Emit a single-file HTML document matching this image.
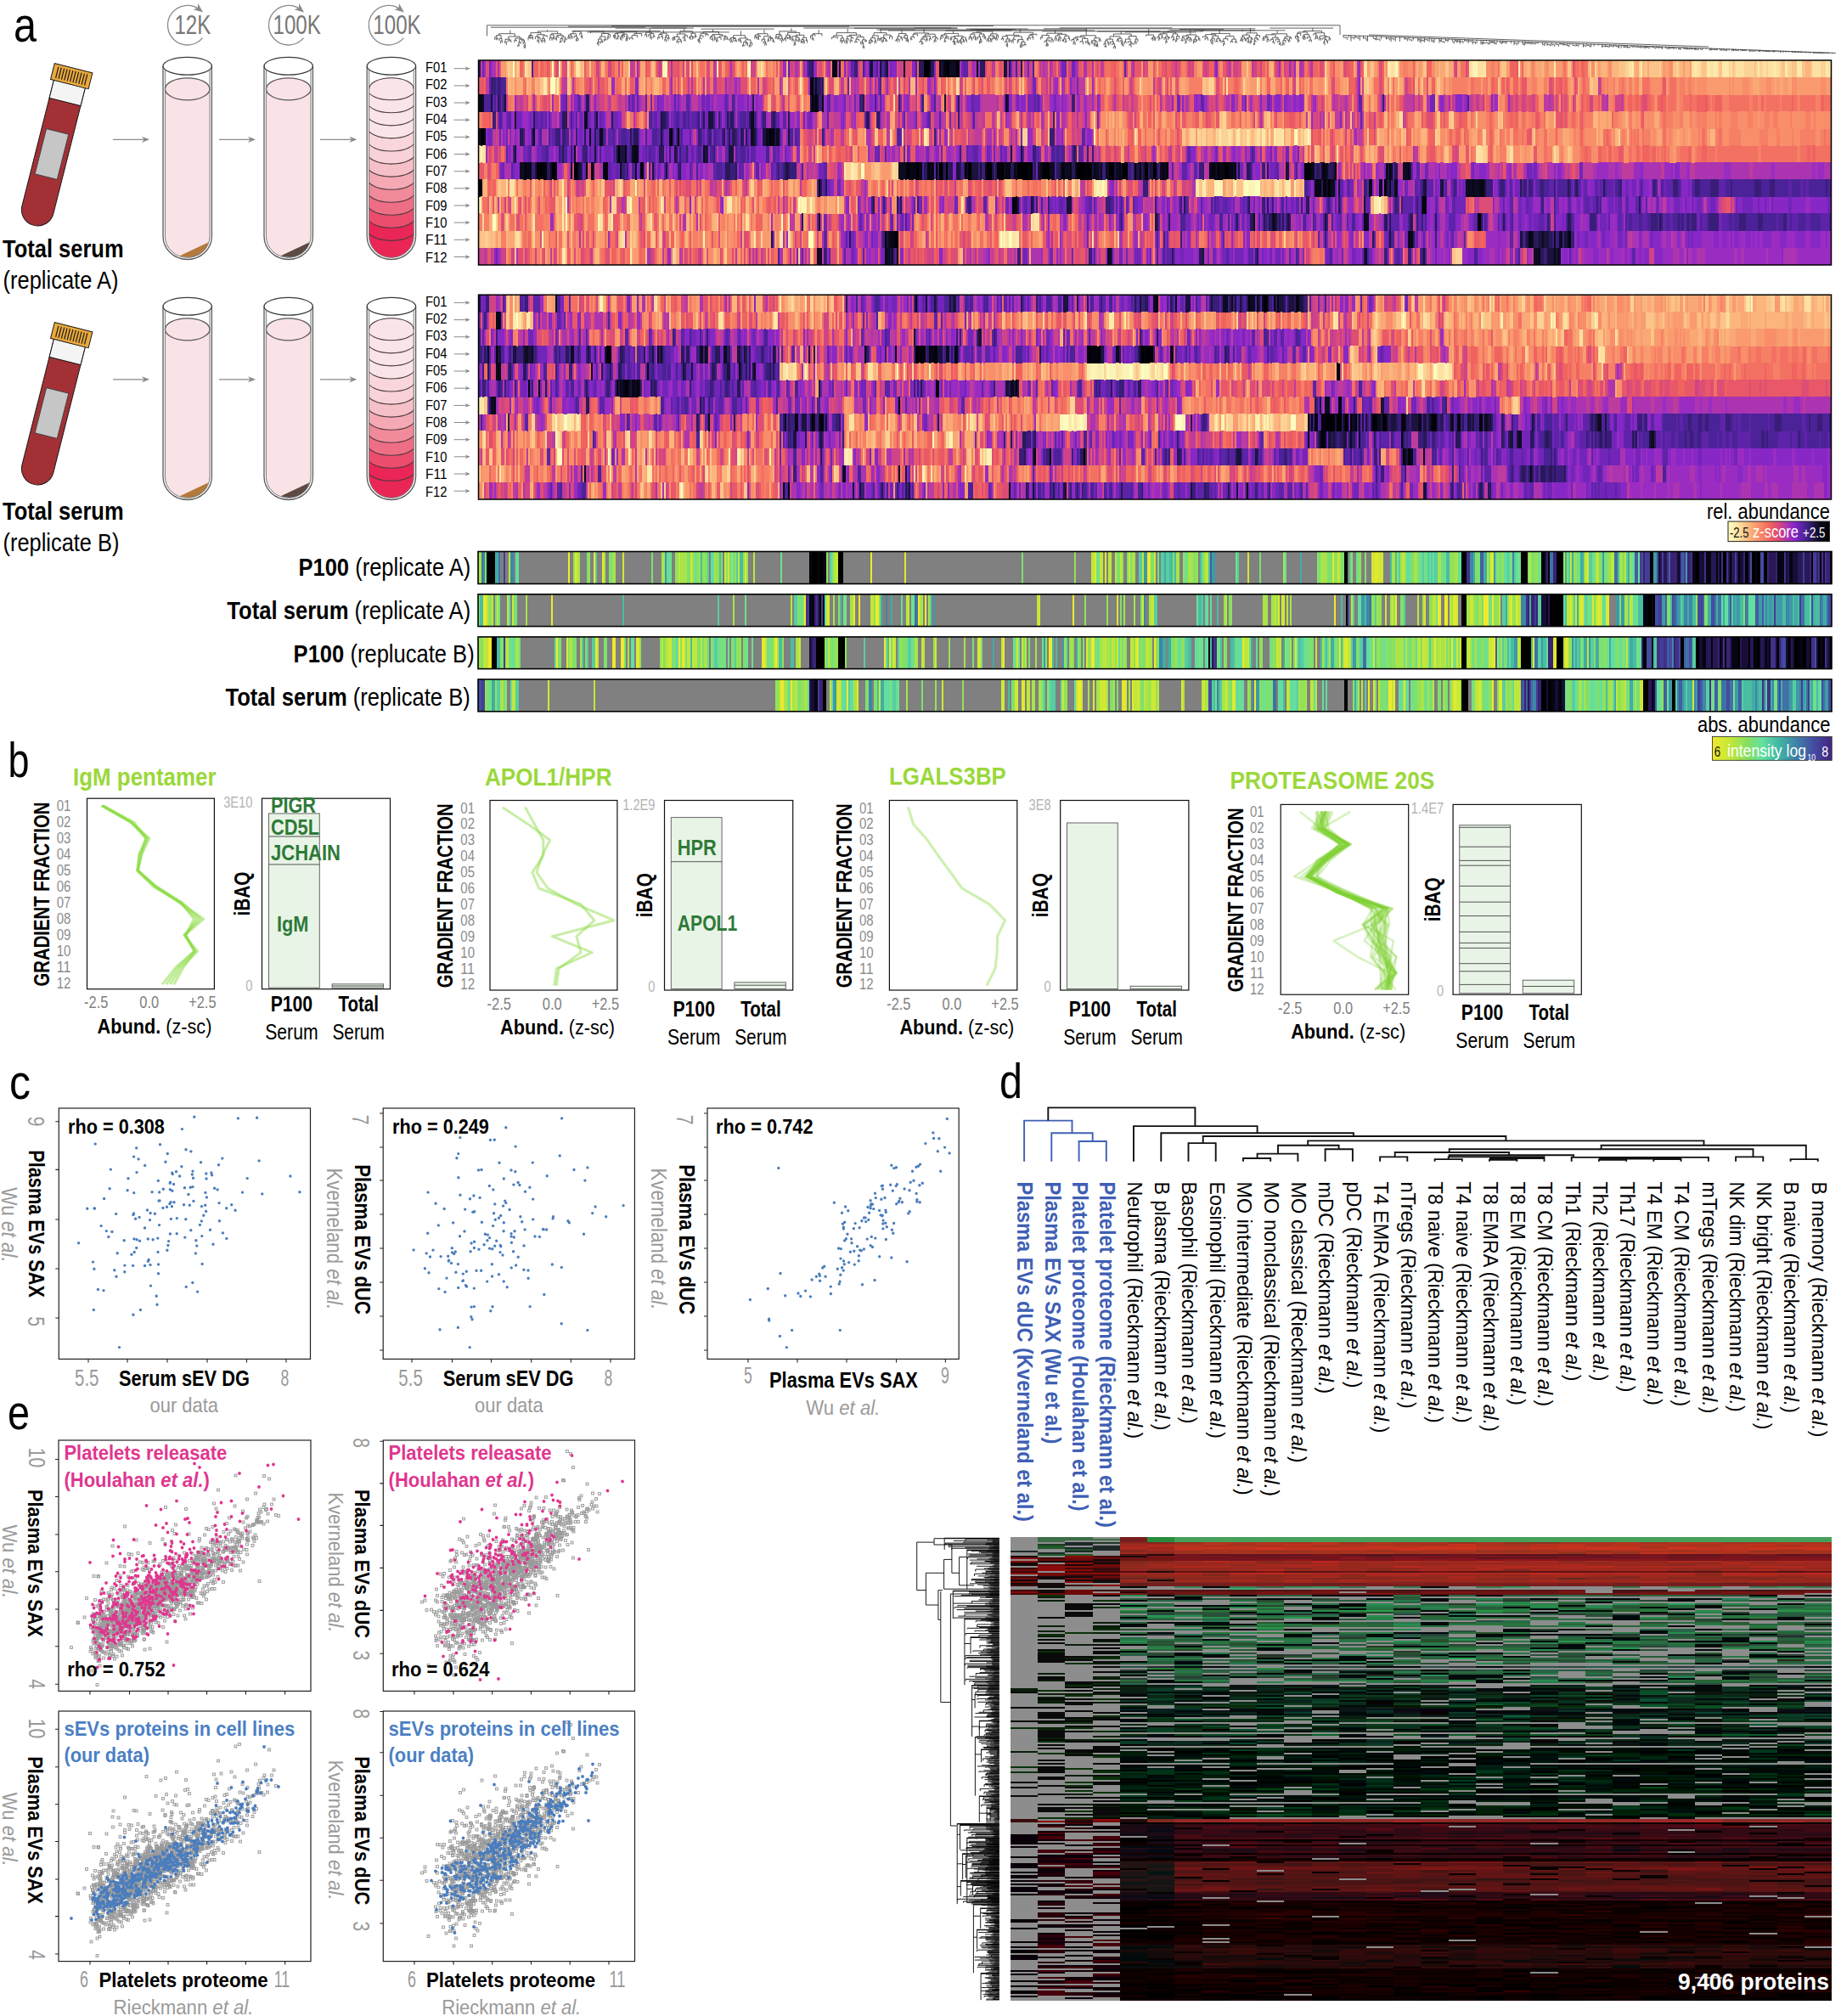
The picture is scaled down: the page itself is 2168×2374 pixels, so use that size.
<!DOCTYPE html>
<html><head><meta charset="utf-8"><title>Figure</title>
<style>html,body{margin:0;padding:0;background:#fff}svg{display:block}text{font-family:"Liberation Sans",sans-serif}</style>
</head><body>
<svg width="2168" height="2374" viewBox="0 0 2168 2374">
<rect width="2168" height="2374" fill="#fff"/>
<text transform="translate(16 48.5) scale(0.852 1)" x="0" font-size="57" xml:space="preserve">a</text>
<g transform="translate(86.6 80.2) rotate(14.2)" stroke="#1a1a1a" stroke-width="1"><path d="M-19 19V172a19 19 0 0 0 38 0V19z" fill="#a33035"/><rect x="-19" y="19" width="38" height="22" fill="#f4f4f4"/><rect x="-13.5" y="77" width="27" height="55" fill="#c6c6c6" stroke="#444"/><rect x="-23" y="0" width="46" height="19.5" fill="#e9a93c"/><path d="M-17.5 3v13.5M-14 3v13.5M-10.5 3v13.5M-7 3v13.5M-3.5 3v13.5M0 3v13.5M3.5 3v13.5M7 3v13.5M10.5 3v13.5M14 3v13.5M17.5 3v13.5" fill="none" stroke-width="1.2"/></g>
<g transform="translate(86.6 385.2) rotate(14.2)" stroke="#1a1a1a" stroke-width="1"><path d="M-19 19V172a19 19 0 0 0 38 0V19z" fill="#a33035"/><rect x="-19" y="19" width="38" height="22" fill="#f4f4f4"/><rect x="-13.5" y="77" width="27" height="55" fill="#c6c6c6" stroke="#444"/><rect x="-23" y="0" width="46" height="19.5" fill="#e9a93c"/><path d="M-17.5 3v13.5M-14 3v13.5M-10.5 3v13.5M-7 3v13.5M-3.5 3v13.5M0 3v13.5M3.5 3v13.5M7 3v13.5M10.5 3v13.5M14 3v13.5M17.5 3v13.5" fill="none" stroke-width="1.2"/></g>
<g stroke="#5a5a5a" stroke-width="1.3" fill="none"><path d="M194.4 104.8V278.3A26.3 25 0 0 0 247 278.3V104.8A26.3 13 0 0 0 194.4 104.8z" fill="#f9e3e6" stroke="none"/><path d="M211.7 301.3L245 285.5Q244 296.5 228.7 302.3Q220.7 303.9 211.7 301.3z" fill="#b47a3c" stroke="none"/><ellipse cx="220.7" cy="104.8" rx="26.3" ry="13" fill="#f9e3e6"/><path d="M194.4 81.8V278.3A26.3 25 0 0 0 247 278.3V81.8" stroke="#7a7a7a" stroke-width="1"/><path d="M192 77.8V278.3A28.7 27.2 0 0 0 249.4 278.3V77.8"/><ellipse cx="220.7" cy="77.8" rx="28.7" ry="10.4" stroke="#3a3a3a" stroke-width="1.2"/></g>
<g stroke="#5a5a5a" stroke-width="1.3" fill="none"><path d="M313.4 104.8V278.3A26.3 25 0 0 0 366 278.3V104.8A26.3 13 0 0 0 313.4 104.8z" fill="#f9e3e6" stroke="none"/><path d="M330.7 301.3L364 285.5Q363 296.5 347.7 302.3Q339.7 303.9 330.7 301.3z" fill="#5d4a42" stroke="none"/><ellipse cx="339.7" cy="104.8" rx="26.3" ry="13" fill="#f9e3e6"/><path d="M313.4 81.8V278.3A26.3 25 0 0 0 366 278.3V81.8" stroke="#7a7a7a" stroke-width="1"/><path d="M311 77.8V278.3A28.7 27.2 0 0 0 368.4 278.3V77.8"/><ellipse cx="339.7" cy="77.8" rx="28.7" ry="10.4" stroke="#3a3a3a" stroke-width="1.2"/></g>
<g stroke="#5a5a5a" stroke-width="1.3" fill="none"><clipPath id="tc499"><path d="M434.6 104.8V278.3A26.3 25 0 0 0 487.2 278.3V104.8A26.3 13 0 0 0 434.6 104.8z"/></clipPath><g clip-path="url(#tc499)"><rect x="432.2" y="90.8" width="57.4" height="216.7" fill="#e92656" stroke="none"/><path d="M432.6 84.8V270.4A28.3 13 0 0 0 489.2 270.4V84.8z" fill="#e92656" stroke="#4a3a3e" stroke-width="1.1"/><path d="M432.6 84.8V255.3A28.3 13 0 0 0 489.2 255.3V84.8z" fill="#ec4d6d" stroke="#4a3a3e" stroke-width="1.1"/><path d="M432.6 84.8V240.2A28.3 13 0 0 0 489.2 240.2V84.8z" fill="#ee6e85" stroke="#4a3a3e" stroke-width="1.1"/><path d="M432.6 84.8V225.2A28.3 13 0 0 0 489.2 225.2V84.8z" fill="#f18a9a" stroke="#4a3a3e" stroke-width="1.1"/><path d="M432.6 84.8V210.2A28.3 13 0 0 0 489.2 210.2V84.8z" fill="#f4a9b5" stroke="#4a3a3e" stroke-width="1.1"/><path d="M432.6 84.8V195.1A28.3 13 0 0 0 489.2 195.1V84.8z" fill="#f6c0c8" stroke="#4a3a3e" stroke-width="1.1"/><path d="M432.6 84.8V180.1A28.3 13 0 0 0 489.2 180.1V84.8z" fill="#f8d2d8" stroke="#4a3a3e" stroke-width="1.1"/><path d="M432.6 84.8V165A28.3 13 0 0 0 489.2 165V84.8z" fill="#f8d6db" stroke="#4a3a3e" stroke-width="1.1"/><path d="M432.6 84.8V149.9A28.3 13 0 0 0 489.2 149.9V84.8z" fill="#f9e4e7" stroke="#4a3a3e" stroke-width="1.1"/><path d="M432.6 84.8V134.9A28.3 13 0 0 0 489.2 134.9V84.8z" fill="#f9e4e7" stroke="#4a3a3e" stroke-width="1.1"/><path d="M432.6 84.8V119.8A28.3 13 0 0 0 489.2 119.8V84.8z" fill="#f9e4e7" stroke="#4a3a3e" stroke-width="1.1"/><path d="M432.6 84.8V104.8A28.3 13 0 0 0 489.2 104.8V84.8z" fill="#f9e4e7" stroke="#4a3a3e" stroke-width="1.1"/></g><path d="M434.6 104.8A26.3 13 0 0 1 487.2 104.8" stroke="#4a3a3e" stroke-width="1.1"/><path d="M434.6 81.8V278.3A26.3 25 0 0 0 487.2 278.3V81.8" stroke="#7a7a7a" stroke-width="1"/><path d="M432.2 77.8V278.3A28.7 27.2 0 0 0 489.6 278.3V77.8"/><ellipse cx="460.9" cy="77.8" rx="28.7" ry="10.4" stroke="#3a3a3a" stroke-width="1.2"/></g>
<path d="M133 164.3H170.6" stroke="#8a8a8a" stroke-width="1.3" fill="none"/><path d="M176 164.3l-9 -3.6l2.7 3.6l-2.7 3.6z" fill="#8a8a8a"/>
<path d="M258 164.3H295.6" stroke="#8a8a8a" stroke-width="1.3" fill="none"/><path d="M301 164.3l-9 -3.6l2.7 3.6l-2.7 3.6z" fill="#8a8a8a"/>
<path d="M377 164.3H415" stroke="#8a8a8a" stroke-width="1.3" fill="none"/><path d="M420.4 164.3l-9 -3.6l2.7 3.6l-2.7 3.6z" fill="#8a8a8a"/>
<g stroke="#5a5a5a" stroke-width="1.3" fill="none"><path d="M194.4 387.8V561.3A26.3 25 0 0 0 247 561.3V387.8A26.3 13 0 0 0 194.4 387.8z" fill="#f9e3e6" stroke="none"/><path d="M211.7 584.3L245 568.5Q244 579.5 228.7 585.3Q220.7 586.9 211.7 584.3z" fill="#b47a3c" stroke="none"/><ellipse cx="220.7" cy="387.8" rx="26.3" ry="13" fill="#f9e3e6"/><path d="M194.4 364.8V561.3A26.3 25 0 0 0 247 561.3V364.8" stroke="#7a7a7a" stroke-width="1"/><path d="M192 360.8V561.3A28.7 27.2 0 0 0 249.4 561.3V360.8"/><ellipse cx="220.7" cy="360.8" rx="28.7" ry="10.4" stroke="#3a3a3a" stroke-width="1.2"/></g>
<g stroke="#5a5a5a" stroke-width="1.3" fill="none"><path d="M313.4 387.8V561.3A26.3 25 0 0 0 366 561.3V387.8A26.3 13 0 0 0 313.4 387.8z" fill="#f9e3e6" stroke="none"/><path d="M330.7 584.3L364 568.5Q363 579.5 347.7 585.3Q339.7 586.9 330.7 584.3z" fill="#5d4a42" stroke="none"/><ellipse cx="339.7" cy="387.8" rx="26.3" ry="13" fill="#f9e3e6"/><path d="M313.4 364.8V561.3A26.3 25 0 0 0 366 561.3V364.8" stroke="#7a7a7a" stroke-width="1"/><path d="M311 360.8V561.3A28.7 27.2 0 0 0 368.4 561.3V360.8"/><ellipse cx="339.7" cy="360.8" rx="28.7" ry="10.4" stroke="#3a3a3a" stroke-width="1.2"/></g>
<g stroke="#5a5a5a" stroke-width="1.3" fill="none"><clipPath id="tc782"><path d="M434.6 387.8V561.3A26.3 25 0 0 0 487.2 561.3V387.8A26.3 13 0 0 0 434.6 387.8z"/></clipPath><g clip-path="url(#tc782)"><rect x="432.2" y="373.8" width="57.4" height="216.7" fill="#e92656" stroke="none"/><path d="M432.6 367.8V553.4A28.3 13 0 0 0 489.2 553.4V367.8z" fill="#e92656" stroke="#4a3a3e" stroke-width="1.1"/><path d="M432.6 367.8V538.3A28.3 13 0 0 0 489.2 538.3V367.8z" fill="#ec4d6d" stroke="#4a3a3e" stroke-width="1.1"/><path d="M432.6 367.8V523.2A28.3 13 0 0 0 489.2 523.2V367.8z" fill="#ee6e85" stroke="#4a3a3e" stroke-width="1.1"/><path d="M432.6 367.8V508.2A28.3 13 0 0 0 489.2 508.2V367.8z" fill="#f18a9a" stroke="#4a3a3e" stroke-width="1.1"/><path d="M432.6 367.8V493.2A28.3 13 0 0 0 489.2 493.2V367.8z" fill="#f4a9b5" stroke="#4a3a3e" stroke-width="1.1"/><path d="M432.6 367.8V478.1A28.3 13 0 0 0 489.2 478.1V367.8z" fill="#f6c0c8" stroke="#4a3a3e" stroke-width="1.1"/><path d="M432.6 367.8V463.1A28.3 13 0 0 0 489.2 463.1V367.8z" fill="#f8d2d8" stroke="#4a3a3e" stroke-width="1.1"/><path d="M432.6 367.8V448A28.3 13 0 0 0 489.2 448V367.8z" fill="#f8d6db" stroke="#4a3a3e" stroke-width="1.1"/><path d="M432.6 367.8V433A28.3 13 0 0 0 489.2 433V367.8z" fill="#f9e4e7" stroke="#4a3a3e" stroke-width="1.1"/><path d="M432.6 367.8V417.9A28.3 13 0 0 0 489.2 417.9V367.8z" fill="#f9e4e7" stroke="#4a3a3e" stroke-width="1.1"/><path d="M432.6 367.8V402.9A28.3 13 0 0 0 489.2 402.9V367.8z" fill="#f9e4e7" stroke="#4a3a3e" stroke-width="1.1"/><path d="M432.6 367.8V387.8A28.3 13 0 0 0 489.2 387.8V367.8z" fill="#f9e4e7" stroke="#4a3a3e" stroke-width="1.1"/></g><path d="M434.6 387.8A26.3 13 0 0 1 487.2 387.8" stroke="#4a3a3e" stroke-width="1.1"/><path d="M434.6 364.8V561.3A26.3 25 0 0 0 487.2 561.3V364.8" stroke="#7a7a7a" stroke-width="1"/><path d="M432.2 360.8V561.3A28.7 27.2 0 0 0 489.6 561.3V360.8"/><ellipse cx="460.9" cy="360.8" rx="28.7" ry="10.4" stroke="#3a3a3a" stroke-width="1.2"/></g>
<path d="M133 446.8H170.6" stroke="#8a8a8a" stroke-width="1.3" fill="none"/><path d="M176 446.8l-9 -3.6l2.7 3.6l-2.7 3.6z" fill="#8a8a8a"/>
<path d="M258 446.8H295.6" stroke="#8a8a8a" stroke-width="1.3" fill="none"/><path d="M301 446.8l-9 -3.6l2.7 3.6l-2.7 3.6z" fill="#8a8a8a"/>
<path d="M377 446.8H415" stroke="#8a8a8a" stroke-width="1.3" fill="none"/><path d="M420.4 446.8l-9 -3.6l2.7 3.6l-2.7 3.6z" fill="#8a8a8a"/>
<path d="M235.1 11.3A23.3 23.3 0 1 0 238.6 44.7" stroke="#8a8a8a" stroke-width="1.3" fill="none"/><path transform="translate(235.1 11.3) rotate(38)" d="M5 0L-6 -4.6L-3 0L-6 4.6z" fill="#8a8a8a"/><text transform="translate(205.4 39.8) scale(0.789 1)" x="0" font-size="30.5" fill="#777" xml:space="preserve">12K</text>
<path d="M354.1 11.3A23.3 23.3 0 1 0 357.6 44.7" stroke="#8a8a8a" stroke-width="1.3" fill="none"/><path transform="translate(354.1 11.3) rotate(38)" d="M5 0L-6 -4.6L-3 0L-6 4.6z" fill="#8a8a8a"/><text transform="translate(321.5 39.8) scale(0.792 1)" x="0" font-size="30.5" fill="#777" xml:space="preserve">100K</text>
<path d="M471.9 11.3A23.3 23.3 0 1 0 475.4 44.7" stroke="#8a8a8a" stroke-width="1.3" fill="none"/><path transform="translate(471.9 11.3) rotate(38)" d="M5 0L-6 -4.6L-3 0L-6 4.6z" fill="#8a8a8a"/><text transform="translate(439.3 39.8) scale(0.792 1)" x="0" font-size="30.5" fill="#777" xml:space="preserve">100K</text>
<text transform="translate(3 303) scale(0.870 1)" x="0" font-size="29.3" xml:space="preserve"><tspan font-weight="700">Total serum</tspan></text>
<text transform="translate(3.5 340.3) scale(0.870 1)" x="0" font-size="29.3" xml:space="preserve">(replicate A)</text>
<text transform="translate(3 612) scale(0.870 1)" x="0" font-size="29.3" xml:space="preserve"><tspan font-weight="700">Total serum</tspan></text>
<text transform="translate(3.5 649.3) scale(0.867 1)" x="0" font-size="29.3" xml:space="preserve">(replicate B)</text>
<text transform="translate(501 84.8) scale(0.908 1)" x="0" font-size="16.3" xml:space="preserve">F01</text>
<path d="M534.5 80.7H550.1" stroke="#8a8a8a" stroke-width="1" fill="none"/><path d="M553.7 80.7l-6 -2.4l1.8 2.4l-1.8 2.4z" fill="#8a8a8a"/>
<text transform="translate(501 105.2) scale(0.908 1)" x="0" font-size="16.3" xml:space="preserve">F02</text>
<path d="M534.5 100.9H550.1" stroke="#8a8a8a" stroke-width="1" fill="none"/><path d="M553.7 100.9l-6 -2.4l1.8 2.4l-1.8 2.4z" fill="#8a8a8a"/>
<text transform="translate(501 125.5) scale(0.908 1)" x="0" font-size="16.3" xml:space="preserve">F03</text>
<path d="M534.5 121H550.1" stroke="#8a8a8a" stroke-width="1" fill="none"/><path d="M553.7 121l-6 -2.4l1.8 2.4l-1.8 2.4z" fill="#8a8a8a"/>
<text transform="translate(501 145.9) scale(0.908 1)" x="0" font-size="16.3" xml:space="preserve">F04</text>
<path d="M534.5 141.2H550.1" stroke="#8a8a8a" stroke-width="1" fill="none"/><path d="M553.7 141.2l-6 -2.4l1.8 2.4l-1.8 2.4z" fill="#8a8a8a"/>
<text transform="translate(501 166.2) scale(0.908 1)" x="0" font-size="16.3" xml:space="preserve">F05</text>
<path d="M534.5 161.3H550.1" stroke="#8a8a8a" stroke-width="1" fill="none"/><path d="M553.7 161.3l-6 -2.4l1.8 2.4l-1.8 2.4z" fill="#8a8a8a"/>
<text transform="translate(501 186.6) scale(0.908 1)" x="0" font-size="16.3" xml:space="preserve">F06</text>
<path d="M534.5 181.5H550.1" stroke="#8a8a8a" stroke-width="1" fill="none"/><path d="M553.7 181.5l-6 -2.4l1.8 2.4l-1.8 2.4z" fill="#8a8a8a"/>
<text transform="translate(501 207) scale(0.908 1)" x="0" font-size="16.3" xml:space="preserve">F07</text>
<path d="M534.5 201.7H550.1" stroke="#8a8a8a" stroke-width="1" fill="none"/><path d="M553.7 201.7l-6 -2.4l1.8 2.4l-1.8 2.4z" fill="#8a8a8a"/>
<text transform="translate(501 227.3) scale(0.908 1)" x="0" font-size="16.3" xml:space="preserve">F08</text>
<path d="M534.5 221.8H550.1" stroke="#8a8a8a" stroke-width="1" fill="none"/><path d="M553.7 221.8l-6 -2.4l1.8 2.4l-1.8 2.4z" fill="#8a8a8a"/>
<text transform="translate(501 247.7) scale(0.908 1)" x="0" font-size="16.3" xml:space="preserve">F09</text>
<path d="M534.5 242H550.1" stroke="#8a8a8a" stroke-width="1" fill="none"/><path d="M553.7 242l-6 -2.4l1.8 2.4l-1.8 2.4z" fill="#8a8a8a"/>
<text transform="translate(501 268) scale(0.908 1)" x="0" font-size="16.3" xml:space="preserve">F10</text>
<path d="M534.5 262.1H550.1" stroke="#8a8a8a" stroke-width="1" fill="none"/><path d="M553.7 262.1l-6 -2.4l1.8 2.4l-1.8 2.4z" fill="#8a8a8a"/>
<text transform="translate(501 288.4) scale(0.949 1)" x="0" font-size="16.3" xml:space="preserve">F11</text>
<path d="M534.5 282.3H550.1" stroke="#8a8a8a" stroke-width="1" fill="none"/><path d="M553.7 282.3l-6 -2.4l1.8 2.4l-1.8 2.4z" fill="#8a8a8a"/>
<text transform="translate(501 308.8) scale(0.908 1)" x="0" font-size="16.3" xml:space="preserve">F12</text>
<path d="M534.5 302.5H550.1" stroke="#8a8a8a" stroke-width="1" fill="none"/><path d="M553.7 302.5l-6 -2.4l1.8 2.4l-1.8 2.4z" fill="#8a8a8a"/>
<text transform="translate(501 360.5) scale(0.908 1)" x="0" font-size="16.3" xml:space="preserve">F01</text>
<path d="M534.5 356.4H550.1" stroke="#8a8a8a" stroke-width="1" fill="none"/><path d="M553.7 356.4l-6 -2.4l1.8 2.4l-1.8 2.4z" fill="#8a8a8a"/>
<text transform="translate(501 380.9) scale(0.908 1)" x="0" font-size="16.3" xml:space="preserve">F02</text>
<path d="M534.5 376.6H550.1" stroke="#8a8a8a" stroke-width="1" fill="none"/><path d="M553.7 376.6l-6 -2.4l1.8 2.4l-1.8 2.4z" fill="#8a8a8a"/>
<text transform="translate(501 401.2) scale(0.908 1)" x="0" font-size="16.3" xml:space="preserve">F03</text>
<path d="M534.5 396.7H550.1" stroke="#8a8a8a" stroke-width="1" fill="none"/><path d="M553.7 396.7l-6 -2.4l1.8 2.4l-1.8 2.4z" fill="#8a8a8a"/>
<text transform="translate(501 421.6) scale(0.908 1)" x="0" font-size="16.3" xml:space="preserve">F04</text>
<path d="M534.5 416.9H550.1" stroke="#8a8a8a" stroke-width="1" fill="none"/><path d="M553.7 416.9l-6 -2.4l1.8 2.4l-1.8 2.4z" fill="#8a8a8a"/>
<text transform="translate(501 441.9) scale(0.908 1)" x="0" font-size="16.3" xml:space="preserve">F05</text>
<path d="M534.5 437H550.1" stroke="#8a8a8a" stroke-width="1" fill="none"/><path d="M553.7 437l-6 -2.4l1.8 2.4l-1.8 2.4z" fill="#8a8a8a"/>
<text transform="translate(501 462.3) scale(0.908 1)" x="0" font-size="16.3" xml:space="preserve">F06</text>
<path d="M534.5 457.2H550.1" stroke="#8a8a8a" stroke-width="1" fill="none"/><path d="M553.7 457.2l-6 -2.4l1.8 2.4l-1.8 2.4z" fill="#8a8a8a"/>
<text transform="translate(501 482.7) scale(0.908 1)" x="0" font-size="16.3" xml:space="preserve">F07</text>
<path d="M534.5 477.4H550.1" stroke="#8a8a8a" stroke-width="1" fill="none"/><path d="M553.7 477.4l-6 -2.4l1.8 2.4l-1.8 2.4z" fill="#8a8a8a"/>
<text transform="translate(501 503) scale(0.908 1)" x="0" font-size="16.3" xml:space="preserve">F08</text>
<path d="M534.5 497.5H550.1" stroke="#8a8a8a" stroke-width="1" fill="none"/><path d="M553.7 497.5l-6 -2.4l1.8 2.4l-1.8 2.4z" fill="#8a8a8a"/>
<text transform="translate(501 523.4) scale(0.908 1)" x="0" font-size="16.3" xml:space="preserve">F09</text>
<path d="M534.5 517.7H550.1" stroke="#8a8a8a" stroke-width="1" fill="none"/><path d="M553.7 517.7l-6 -2.4l1.8 2.4l-1.8 2.4z" fill="#8a8a8a"/>
<text transform="translate(501 543.7) scale(0.908 1)" x="0" font-size="16.3" xml:space="preserve">F10</text>
<path d="M534.5 537.8H550.1" stroke="#8a8a8a" stroke-width="1" fill="none"/><path d="M553.7 537.8l-6 -2.4l1.8 2.4l-1.8 2.4z" fill="#8a8a8a"/>
<text transform="translate(501 564.1) scale(0.949 1)" x="0" font-size="16.3" xml:space="preserve">F11</text>
<path d="M534.5 558H550.1" stroke="#8a8a8a" stroke-width="1" fill="none"/><path d="M553.7 558l-6 -2.4l1.8 2.4l-1.8 2.4z" fill="#8a8a8a"/>
<text transform="translate(501 584.5) scale(0.908 1)" x="0" font-size="16.3" xml:space="preserve">F12</text>
<path d="M534.5 578.2H550.1" stroke="#8a8a8a" stroke-width="1" fill="none"/><path d="M553.7 578.2l-6 -2.4l1.8 2.4l-1.8 2.4z" fill="#8a8a8a"/>
<g transform="translate(563.7 81.23) scale(2.0008 20.05)" fill="none" stroke-width="1.02" shape-rendering="crispEdges"><path stroke="#fcfdc0" d="M20 0h1m22 0h1m66 0h1m48 0h1m380 0h1M42 1h3M481 4h1M225 6h2M367 7h1m67 0h1m15 0h2m4 0h3M0 8h1m88 0h1m98 0h1m341 0h1M8 9h2m41 0h1m126 0h1M194 10h3m110 0h1m4 0h2"/><path stroke="#fcf4b6" d="M47 0h1m60 0h2m475 0h3M362 4h1m117 0h1m7 0h1M1 5h1M92 7h1m271 0h1m68 0h2m1 0h2m7 0h1m4 0h1m2 0h4M51 8h1m138 0h3m2 0h1M70 9h1M37 10h1m94 0h1m176 0h1m7 0h1"/><path stroke="#f68066" d="M26 0h1m17 0h1m10 0h1m7 0h2m1 0h2m6 0h1m5 0h2m10 0h1m61 0h1m1 0h1m6 0h1m9 0h1m33 0h1m96 0h2m21 0h2m53 0h2m30 0h2m5 0h2m40 0h1m9 0h1m55 0h1m14 0h3m49 0h2m22 0h1m17 0h1m9 0h1M31 1h2m8 0h1m12 0h1m2 0h2m42 0h1m14 0h1m12 0h1m28 0h1m4 0h1m2 0h1m38 0h1m9 0h1m32 0h2m8 0h1m20 0h2m16 0h2m2 0h1m1 0h1m3 0h1m6 0h2m5 0h1m7 0h1m29 0h2m3 0h1m1 0h2m9 0h1m4 0h1m3 0h1m31 0h8m15 0h3m4 0h1m11 0h1m8 0h3m12 0h1m16 0h1m2 0h3m28 0h1m20 0h2m10 0h1m4 0h9m4 0h4m1 0h2m11 0h1m15 0h3m4 0h2m20 0h1m2 0h2m7 0h2m1 0h1m3 0h1m2 0h2m1 0h1m2 0h2m2 0h2m6 0h1m6 0h1m10 0h3m2 0h2M19 2h2m8 0h2m3 0h2m145 0h1m4 0h1m4 0h2m1 0h1m45 0h2m30 0h1m226 0h1m34 0h1m66 0h1m41 0h1m4 0h1m16 0h3m7 0h1m23 0h1m7 0h2m16 0h1m6 0h4m12 0h2m3 0h2m2 0h1m8 0h1m9 0h2m9 0h3M0 3h2m92 0h1m138 0h1m96 0h1m8 0h1m45 0h1m19 0h3m9 0h3m25 0h1m1 0h1m3 0h1m2 0h1m3 0h1m7 0h1m3 0h3m11 0h1m52 0h2m11 0h1m23 0h1m10 0h1m7 0h2m2 0h1m5 0h2m11 0h1m1 0h2m1 0h1m3 0h2m14 0h2m3 0h1m4 0h5m12 0h3m6 0h2m17 0h1m2 0h4m4 0h2m4 0h1m3 0h6m5 0h1m1 0h2m5 0h4m6 0h3m7 0h3m2 0h3m7 0h1m8 0h3m2 0h1M189 4h2m96 0h1m82 0h1m3 0h1m26 0h1m7 0h1m89 0h1m4 0h3m4 0h2m8 0h2m5 0h1m44 0h2m13 0h2m3 0h2m2 0h1m4 0h2m1 0h2m5 0h2m1 0h2m5 0h2m21 0h1m4 0h1m15 0h1m6 0h2m4 0h1m1 0h1m4 0h4m11 0h1m16 0h1m3 0h1m5 0h2m6 0h7m11 0h5m5 0h2m7 0h1m4 0h9m3 0h2m1 0h3M193 5h1m2 0h1m11 0h2m14 0h4m172 0h1m12 0h1m81 0h2m7 0h1m1 0h1m2 0h1m8 0h1m2 0h1m17 0h1m4 0h2m1 0h3m16 0h2m17 0h2m14 0h4m24 0h3m5 0h1m10 0h1m15 0h1m2 0h1m11 0h2m3 0h1m8 0h1m1 0h1m3 0h1m5 0h2m9 0h1m11 0h1m24 0h2m21 0h2M3 6h2m3 0h2m517 0h1M17 7h1m8 0h2m7 0h1m3 0h2m4 0h1m9 0h1m10 0h1m32 0h2m8 0h1m39 0h2m20 0h1m1 0h1m6 0h1m12 0h1m21 0h1m5 0h1m9 0h1m2 0h1m1 0h1m14 0h1m9 0h1m2 0h2m10 0h1m5 0h1m8 0h1m28 0h3m1 0h2m3 0h1m5 0h1m6 0h1m4 0h2m50 0h1m11 0h2M28 8h1m9 0h1m16 0h1m2 0h2m3 0h2m1 0h2m33 0h1m9 0h1m10 0h2m4 0h1m9 0h1m21 0h1m6 0h2m6 0h1m23 0h2m64 0h1M0 9h2m1 0h3m22 0h1m9 0h4m11 0h1m31 0h2m32 0h1m4 0h1m1 0h1m4 0h1m3 0h2m6 0h2m1 0h1m23 0h1m3 0h3m16 0h1m21 0h1m14 0h1m14 0h1m13 0h1m11 0h1m4 0h1m12 0h1m16 0h1m26 0h1m6 0h2m8 0h1m23 0h1M13 10h3m12 0h1m13 0h3m10 0h1m2 0h1m1 0h1m7 0h1m36 0h1m20 0h3m1 0h1m5 0h1m1 0h2m6 0h1m3 0h1m12 0h2m15 0h1m17 0h1m1 0h2m56 0h1m12 0h1m93 0h2m2 0h2m4 0h1m21 0h1m26 0h3m42 0h1m5 0h2m6 0h1m34 0h1m11 0h1m54 0h1M17 11h1m13 0h2m1 0h2m7 0h1m14 0h2m7 0h1m3 0h1m9 0h1m4 0h1m59 0h3m1 0h1m340 0h4m2 0h1m39 0h1"/><path stroke="#f37162" d="M38 0h2m28 0h1m2 0h1m3 0h1m42 0h2m10 0h3m24 0h1m11 0h1m43 0h2m105 0h1m14 0h1m4 0h1m21 0h1m6 0h3m3 0h2m21 0h1m1 0h2m11 0h1m2 0h1m26 0h1m42 0h2m6 0h1m6 0h2m75 0h3m19 0h1m38 0h1m6 0h2m3 0h2M16 1h1m9 0h2m46 0h1m5 0h1m1 0h2m14 0h1m15 0h1m3 0h1m17 0h2m34 0h1m10 0h1m1 0h1m5 0h1m24 0h1m20 0h1m5 0h1m18 0h2m12 0h1m13 0h1m11 0h1m8 0h1m5 0h1m28 0h1m21 0h1m3 0h2m2 0h1m59 0h2m1 0h1m4 0h1m2 0h1m37 0h1m3 0h2m36 0h3m8 0h1m10 0h1m3 0h1m30 0h2m7 0h1m4 0h2m13 0h1m24 0h1m12 0h1m21 0h1m11 0h4m12 0h4M17 2h2m149 0h2m10 0h1m77 0h1m109 0h1m1 0h1m17 0h2m1 0h3m2 0h1m3 0h1m51 0h1m71 0h1m12 0h2m1 0h2m50 0h1m11 0h1m36 0h1m9 0h1m4 0h3m1 0h1m7 0h1m7 0h1m2 0h2m2 0h1m6 0h2m8 0h5m4 0h4m1 0h3m7 0h1m1 0h2m8 0h12m2 0h3m3 0h1m1 0h8m1 0h6m1 0h2m2 0h9m5 0h4M7 3h1m81 0h2m185 0h1m21 0h4m7 0h1m4 0h2m5 0h1m5 0h1m14 0h1m20 0h1m17 0h1m9 0h2m7 0h2m14 0h1m3 0h2m4 0h2m3 0h2m10 0h2m10 0h1m25 0h2m39 0h2m4 0h2m2 0h1m2 0h1m11 0h3m6 0h1m10 0h1m1 0h2m4 0h2m7 0h1m11 0h1m8 0h2m2 0h1m4 0h2m4 0h1m6 0h1m15 0h1m1 0h1m4 0h1m46 0h2M216 4h2m26 0h1m10 0h2m13 0h1m46 0h1m67 0h1m6 0h1m4 0h1m1 0h1m4 0h1m2 0h2m1 0h1m2 0h1m95 0h1m4 0h1m20 0h1m35 0h1m9 0h2m18 0h1m7 0h3m2 0h1m12 0h2m19 0h1m13 0h2m1 0h1m12 0h1m1 0h1m1 0h1m2 0h1m11 0h2m21 0h2m8 0h2m60 0h1M13 5h2m170 0h1m17 0h2m46 0h1m100 0h1m14 0h2m33 0h2m5 0h1m101 0h2m25 0h1m7 0h1m6 0h1m9 0h1m20 0h1m9 0h1m32 0h2m20 0h2m2 0h2m6 0h3m4 0h3m6 0h2m2 0h1m1 0h1m5 0h2m3 0h1m1 0h2m2 0h1m6 0h5m5 0h3m3 0h5m1 0h24m2 0h21m2 0h4m2 0h1m2 0h9M7 6h1m504 0h1m1 0h1m11 0h1M7 7h1m14 0h1m23 0h1m9 0h1m30 0h2m12 0h1m6 0h1m8 0h1m7 0h3m5 0h2m39 0h3m4 0h1m38 0h1m11 0h2m12 0h1m1 0h2m3 0h1m5 0h2m1 0h2m3 0h1m5 0h1m7 0h1m1 0h2m23 0h1m7 0h1m9 0h3m1 0h1m6 0h2m18 0h1m18 0h1m1 0h1m6 0h1m15 0h1m11 0h1M2 8h3m8 0h2m11 0h1m3 0h1m3 0h1m5 0h1m16 0h1m3 0h1m13 0h1m27 0h2m7 0h1m20 0h2m4 0h1m15 0h1m16 0h1m4 0h2m71 0h1m6 0h1m24 0h1m212 0h1m89 0h1M18 9h3m3 0h2m7 0h5m26 0h4m7 0h1m29 0h1m6 0h2m2 0h1m10 0h1m6 0h1m15 0h1m1 0h1m7 0h1m18 0h2m16 0h1m58 0h1m10 0h1m11 0h3m6 0h1m4 0h1m42 0h2m9 0h1m20 0h1M26 10h2m2 0h1m10 0h1m5 0h2m7 0h1m9 0h1m7 0h1m3 0h2m14 0h1m23 0h1m34 0h1m5 0h1m25 0h1m5 0h3m16 0h1m36 0h1m3 0h3m12 0h2m6 0h2m2 0h1m1 0h2m13 0h2m2 0h2m2 0h1m14 0h1m4 0h1m25 0h1m2 0h1m6 0h1m11 0h1m20 0h1m8 0h1m25 0h1m19 0h1m9 0h1M18 11h1m7 0h1m3 0h1m16 0h1m24 0h2m13 0h2m5 0h1m1 0h2m6 0h1m4 0h1m3 0h1m6 0h1m2 0h1m1 0h1m39 0h1m8 0h2m5 0h1m2 0h1m1 0h1m60 0h1m61 0h2m34 0h1m144 0h1m4 0h2m47 0h1"/><path stroke="#f0635f" d="M24 0h2m6 0h3m1 0h2m3 0h1m12 0h1m23 0h2m4 0h1m14 0h2m3 0h1m40 0h2m8 0h1m34 0h1m11 0h1m55 0h1m40 0h2m7 0h1m20 0h1m16 0h1m8 0h1m9 0h1m2 0h1m3 0h2m5 0h1m25 0h2m23 0h3m2 0h1m25 0h2m5 0h1m3 0h1m18 0h3m19 0h2m5 0h1m11 0h1m17 0h1m7 0h3m46 0h4m3 0h1m30 0h1m3 0h2M3 1h1m58 0h1m5 0h2m5 0h1m5 0h1m4 0h1m4 0h1m16 0h2m10 0h2m2 0h1m6 0h1m28 0h3m7 0h2m20 0h2m18 0h1m19 0h1m5 0h1m3 0h1m8 0h2m6 0h2m12 0h2m11 0h1m7 0h2m13 0h1m12 0h1m12 0h1m1 0h1m27 0h1m9 0h1m3 0h1m18 0h1m5 0h1m40 0h2m17 0h2m6 0h1m2 0h2m6 0h1m28 0h4m16 0h1m28 0h2m33 0h2m4 0h2m2 0h1m2 0h3m22 0h2m3 0h2m9 0h1M36 2h1m7 0h1m33 0h1m20 0h2m76 0h1m61 0h1m3 0h1m20 0h1m10 0h1m95 0h1m5 0h2m15 0h1m4 0h1m3 0h1m5 0h2m37 0h1m39 0h1m104 0h2m27 0h2m9 0h1m16 0h1m1 0h2m20 0h1m2 0h2m2 0h2m5 0h2m4 0h2m1 0h2m14 0h1m3 0h5m1 0h1m4 0h4m23 0h1m17 0h1m16 0h2M2 3h4m87 0h1m3 0h1m91 0h1m9 0h1m24 0h2m6 0h1m52 0h1m34 0h1m7 0h1m4 0h2m12 0h2m38 0h2m5 0h2m15 0h2m10 0h1m24 0h1m19 0h1m5 0h3m3 0h1m35 0h1m40 0h1m4 0h1m3 0h1m12 0h3m13 0h1m11 0h2m1 0h2m12 0h1m13 0h1m5 0h1m3 0h1m18 0h1m16 0h1M197 4h1m11 0h1m25 0h3m7 0h1m11 0h1m3 0h1m5 0h1m14 0h1m63 0h3m15 0h1m4 0h1m12 0h2m4 0h2m22 0h1m78 0h3m3 0h1m5 0h1m20 0h3m20 0h2m10 0h4m9 0h1m2 0h3m2 0h1m14 0h2m37 0h1m14 0h1m14 0h1M8 5h1m177 0h1m4 0h2m9 0h1m4 0h1m2 0h1m2 0h3m1 0h1m30 0h2m116 0h1m5 0h2m3 0h1m5 0h3m2 0h1m4 0h3m12 0h1m52 0h1m26 0h1m31 0h1m8 0h1m28 0h2m35 0h2m54 0h2m6 0h2m4 0h2m15 0h1m2 0h4m2 0h2m5 0h1m13 0h2m6 0h3m59 0h2m1 0h2M10 6h1m39 0h2m456 0h1m7 0h1m1 0h1m62 0h1M5 7h2m1 0h2m28 0h1m2 0h1m25 0h1m18 0h1m15 0h2m1 0h1m9 0h1m3 0h1m9 0h1m5 0h1m15 0h1m13 0h2m5 0h1m17 0h3m26 0h1m17 0h2m15 0h2m10 0h1m3 0h1m19 0h1m1 0h2m8 0h2m19 0h1m17 0h1m17 0h2m20 0h1m4 0h2m8 0h1m7 0h1m2 0h2m107 0h1M39 8h1m1 0h1m31 0h2m20 0h1m6 0h1m28 0h1m9 0h1m12 0h1m1 0h1m7 0h1m4 0h1m3 0h1m9 0h1m37 0h1m14 0h1m56 0h1m86 0h1m2 0h2m198 0h2M44 9h1m16 0h1m12 0h1m7 0h1m4 0h2m19 0h1m24 0h1m29 0h4m29 0h1m11 0h3m11 0h1m13 0h1m2 0h1m4 0h1m15 0h1m1 0h2m5 0h1m4 0h2m8 0h1m9 0h1m8 0h1m1 0h1m2 0h1m8 0h2m11 0h1m7 0h2m8 0h1m2 0h2m73 0h1M29 10h1m47 0h1m21 0h2m9 0h2m1 0h2m4 0h2m31 0h1m34 0h2m16 0h1m3 0h1m46 0h2m31 0h1m14 0h2m19 0h1m12 0h1m6 0h1m4 0h1m21 0h2m9 0h2m9 0h1m33 0h1m5 0h2m12 0h2m4 0h2m5 0h1m9 0h2m15 0h1m3 0h2m95 0h3M53 11h1m9 0h2m13 0h3m2 0h1m11 0h1m30 0h1m16 0h1m10 0h1m3 0h1m1 0h1m12 0h1m23 0h1m25 0h1m26 0h1m6 0h1m3 0h1m6 0h1m7 0h2m41 0h1m166 0h1m66 0h1"/><path stroke="#e85869" d="M10 0h1m1 0h1m27 0h1m21 0h1m35 0h1m12 0h2m1 0h3m24 0h2m7 0h1m24 0h1m23 0h1m24 0h2m28 0h1m14 0h2m30 0h1m4 0h1m46 0h2m3 0h3m2 0h1m10 0h1m11 0h4m7 0h1m4 0h2m3 0h1m30 0h2m18 0h2m4 0h1m23 0h1m8 0h1m5 0h1m7 0h2m6 0h1m62 0h1m28 0h1M0 1h3m45 0h1m7 0h1m6 0h2m1 0h1m4 0h3m15 0h2m24 0h1m6 0h1m3 0h2m15 0h1m29 0h1m12 0h2m36 0h1m1 0h1m45 0h1m26 0h2m15 0h1m24 0h1m3 0h1m16 0h1m22 0h1m13 0h1m7 0h1m2 0h1m136 0h2m56 0h1m8 0h3m15 0h1m3 0h2m8 0h1m50 0h2M37 2h1m2 0h1m4 0h2m6 0h1m20 0h1m4 0h2m21 0h1m69 0h1m1 0h1m12 0h2m53 0h1m2 0h2m7 0h1m4 0h1m25 0h1m46 0h1m33 0h2m4 0h1m3 0h1m6 0h1m13 0h1m21 0h2m15 0h2m9 0h1m41 0h1m4 0h2m19 0h1m13 0h1m12 0h2m28 0h1m32 0h1m3 0h1m2 0h2m3 0h1m17 0h1m2 0h1m10 0h1m9 0h1m24 0h1m11 0h1m25 0h1M6 3h1m79 0h1m129 0h2m4 0h2m2 0h1m4 0h1m16 0h1m2 0h1m7 0h1m21 0h1m4 0h1m17 0h1m3 0h1m9 0h1m10 0h1m52 0h1m14 0h1m16 0h2m6 0h1m6 0h2m3 0h2m41 0h3m3 0h1m41 0h2m3 0h2m14 0h1m8 0h1m12 0h1m8 0h2m43 0h2m10 0h3m2 0h2m8 0h1m35 0h1M191 4h2m17 0h3m2 0h1m4 0h3m9 0h1m18 0h1m6 0h1m13 0h2m6 0h2m1 0h1m12 0h1m5 0h1m30 0h2m49 0h1m15 0h1m93 0h2m5 0h1m44 0h1m70 0h3M5 5h1m1 0h1m198 0h1m4 0h2m10 0h1m30 0h3m16 0h2m56 0h2m12 0h1m30 0h1m12 0h1m11 0h1m2 0h2m17 0h2m11 0h2m24 0h1m14 0h2m12 0h1m5 0h1m3 0h1m5 0h2m1 0h1m31 0h1m17 0h3m18 0h2m38 0h2m48 0h3M0 6h3m8 0h1m193 0h2m375 0h2m19 0h1m40 0h1M30 7h1m13 0h1m8 0h1m8 0h1m11 0h3m1 0h1m6 0h1m26 0h1m7 0h2m26 0h1m9 0h1m5 0h1m14 0h1m36 0h2m4 0h2m17 0h1m29 0h2m4 0h3m14 0h2m1 0h3m7 0h1m31 0h1m4 0h1M5 8h1m2 0h1m14 0h1m5 0h1m12 0h3m8 0h1m27 0h1m14 0h2m2 0h1m20 0h1m48 0h2m2 0h1m44 0h2m40 0h1m4 0h2m1 0h2m36 0h1m1 0h1m40 0h1m165 0h2m63 0h1m152 0h3M27 9h1m28 0h2m21 0h3m14 0h2m5 0h2m36 0h1m12 0h1m43 0h1m28 0h1m13 0h1m68 0h1m44 0h1m5 0h1m18 0h2m14 0h1M45 10h1m17 0h2m15 0h1m14 0h2m7 0h1m19 0h1m12 0h1m70 0h1m3 0h1m56 0h1m13 0h2m1 0h2m13 0h1m18 0h3m9 0h2m5 0h2m3 0h1m19 0h1m14 0h3m11 0h1m1 0h2m10 0h2m1 0h3m7 0h2m17 0h1m1 0h2m2 0h2m15 0h2m16 0h1m4 0h3m2 0h1m11 0h1m1 0h1m4 0h1m5 0h1m3 0h1m8 0h2m1 0h1m54 0h3m3 0h1M5 11h2m22 0h1m7 0h1m14 0h1m9 0h1m11 0h1m9 0h2m17 0h1m6 0h1m16 0h2m2 0h1m32 0h1m7 0h1m9 0h1m10 0h1m4 0h1m11 0h1m1 0h2m10 0h1m10 0h1m18 0h2m3 0h2m8 0h2m15 0h1m6 0h1m10 0h2m44 0h1m3 0h3m34 0h1m4 0h1m92 0h1m46 0h1m13 0h1m64 0h2"/><path stroke="#dd4d76" d="M4 0h2m39 0h2m2 0h3m42 0h1m10 0h1m1 0h1m9 0h1m4 0h2m1 0h1m8 0h2m11 0h1m1 0h1m27 0h2m6 0h1m14 0h2m14 0h1m29 0h1m4 0h3m34 0h2m17 0h1m30 0h2m24 0h1m27 0h2m10 0h1m3 0h2m1 0h2m4 0h1m1 0h1m6 0h1m2 0h1m17 0h2m26 0h2m18 0h2m12 0h2m19 0h2m42 0h1m6 0h1m62 0h1M117 1h1m22 0h3m1 0h1m9 0h4m11 0h1m12 0h1m23 0h3m16 0h1m2 0h2m11 0h1m2 0h2m15 0h1m29 0h1m4 0h1m16 0h1m14 0h1m2 0h3m13 0h1m26 0h1m30 0h1m5 0h1m22 0h2m43 0h1m22 0h2m12 0h1m13 0h2m18 0h1m7 0h1m71 0h2m13 0h1M26 2h2m3 0h1m1 0h1m4 0h2m1 0h1m10 0h1m13 0h1m8 0h1m5 0h1m91 0h1m8 0h1m66 0h1m5 0h2m23 0h1m25 0h2m14 0h1m40 0h1m11 0h1m4 0h1m1 0h1m3 0h2m7 0h1m6 0h1m10 0h1m4 0h1m11 0h1m1 0h1m2 0h1m2 0h1m17 0h3m14 0h1m23 0h1m8 0h1m5 0h2m2 0h1m3 0h1m14 0h1m15 0h2m2 0h1m30 0h1m2 0h2m4 0h1m20 0h1m1 0h2m19 0h2m4 0h1m39 0h3M10 3h1m81 0h1m125 0h1m20 0h1m5 0h2m11 0h1m7 0h2m10 0h2m7 0h1m34 0h1m2 0h1m11 0h1m8 0h1m4 0h1m1 0h2m10 0h1m17 0h2m25 0h1m17 0h1m30 0h1m9 0h1m22 0h1m1 0h1m5 0h1m7 0h1m15 0h1m33 0h4m75 0h1M193 4h1m2 0h1m3 0h2m2 0h1m26 0h1m22 0h1m10 0h1m11 0h1m6 0h3m2 0h1m18 0h1m3 0h1m14 0h1m23 0h1m59 0h1m78 0h1m11 0h1m10 0h1m13 0h1M11 5h2m2 0h1m200 0h1m1 0h1m17 0h1m34 0h1m24 0h2m71 0h3m3 0h1m4 0h2m8 0h2m18 0h1m3 0h2m24 0h1m29 0h3m10 0h2m5 0h1m11 0h2m9 0h2m4 0h1m10 0h3m40 0h2m1 0h1M5 6h2m57 0h2m94 0h1m8 0h1m21 0h2m14 0h2m1 0h1m3 0h1m263 0h2m25 0h1m4 0h2m5 0h1m60 0h3m23 0h1m3 0h1m2 0h4m13 0h1m14 0h1m1 0h1M59 7h1m17 0h1m19 0h1m18 0h1m1 0h1m3 0h3m15 0h3m1 0h1m10 0h1m62 0h1m5 0h1m33 0h1m10 0h1m4 0h2m12 0h2m10 0h2m2 0h1m1 0h1m51 0h1m23 0h3m13 0h1m3 0h1m13 0h2m97 0h1m4 0h1M17 8h1m6 0h1m2 0h1m7 0h1m46 0h2m31 0h1m1 0h1m22 0h1m20 0h1m18 0h1m5 0h1m41 0h1m4 0h2m5 0h2m22 0h1m9 0h2m18 0h3m9 0h1m44 0h2m44 0h1m20 0h1m2 0h2m73 0h1m12 0h2m9 0h1m14 0h1m6 0h1m39 0h1m6 0h8m135 0h2m4 0h1M13 9h2m7 0h2m34 0h2m34 0h1m35 0h1m74 0h1m1 0h1m3 0h1m9 0h1m32 0h1m6 0h1m38 0h2m9 0h3m2 0h1m6 0h1m10 0h1m34 0h2m16 0h3m11 0h1m125 0h1M36 10h1m15 0h1m8 0h1m5 0h1m29 0h1m43 0h1m14 0h3m63 0h1m25 0h2m14 0h1m23 0h1m47 0h1m9 0h3m2 0h1m1 0h3m4 0h1m41 0h1m6 0h1m9 0h1m10 0h1m9 0h1m15 0h1m1 0h2m6 0h3m12 0h1m28 0h2m20 0h1m48 0h1M23 11h3m2 0h1m9 0h1m6 0h1m10 0h1m3 0h2m3 0h1m9 0h2m45 0h1m11 0h1m7 0h1m6 0h1m6 0h1m5 0h1m4 0h2m1 0h1m36 0h3m41 0h2m3 0h1m1 0h1m3 0h2m11 0h1m2 0h4m8 0h1m12 0h1m28 0h3m3 0h2m11 0h3m12 0h3m23 0h1m137 0h1m14 0h2m5 0h1m56 0h1"/><path stroke="#cf4487" d="M69 0h2m5 0h2m4 0h1m8 0h1m28 0h1m39 0h3m20 0h2m3 0h1m15 0h1m42 0h3m48 0h1m18 0h2m5 0h2m5 0h1m9 0h1m5 0h2m32 0h1m9 0h1m26 0h1m1 0h1m6 0h2m11 0h1m3 0h3m9 0h2m2 0h1m8 0h2m3 0h1m3 0h2m9 0h1m85 0h1M65 1h1m46 0h1m21 0h2m10 0h1m2 0h1m17 0h2m9 0h1m52 0h1m2 0h1m4 0h1m10 0h1m16 0h1m1 0h1m13 0h2m25 0h1m1 0h1m10 0h2m58 0h2m15 0h2m78 0h1m39 0h1m24 0h2m113 0h1M23 2h1m4 0h1m42 0h3m10 0h2m81 0h1m10 0h1m48 0h1m37 0h1m10 0h2m30 0h1m5 0h1m18 0h3m15 0h1m2 0h2m6 0h1m10 0h1m7 0h1m3 0h1m18 0h1m2 0h1m7 0h1m15 0h1m1 0h1m8 0h1m10 0h1m13 0h1m25 0h1m2 0h1m5 0h1m5 0h1m21 0h1m13 0h1m9 0h1m14 0h2m14 0h1m21 0h2m1 0h2m2 0h2m4 0h2m12 0h1m2 0h1m6 0h1m9 0h2m13 0h4M46 3h1m5 0h1m31 0h2m12 0h1m91 0h1m15 0h3m79 0h2m4 0h2m17 0h1m22 0h1m12 0h2m4 0h1m2 0h2m26 0h1m69 0h1m4 0h1m29 0h1m1 0h1m2 0h1m14 0h2m2 0h1m2 0h1m25 0h2M10 4h1m6 0h1m109 0h1m66 0h2m9 0h2m45 0h2m6 0h1m5 0h1m23 0h2m6 0h1m5 0h1m1 0h2m6 0h2m10 0h1m4 0h2m6 0h1m4 0h1m4 0h2m1 0h3m155 0h1m6 0h1m2 0h1M6 5h1m187 0h2m23 0h1m12 0h1m4 0h2m46 0h2m15 0h1m11 0h2m19 0h1m10 0h1m9 0h1m2 0h2m2 0h2m9 0h1m17 0h1m18 0h2m16 0h2m4 0h1m5 0h1m7 0h2m8 0h1m14 0h1m100 0h1M52 6h1m2 0h1m12 0h3m117 0h1m8 0h1m11 0h1m200 0h1m63 0h1m38 0h1m28 0h2m51 0h3m3 0h1m24 0h2m12 0h1m1 0h1m3 0h2M42 7h1m9 0h1m4 0h1m2 0h2m17 0h1m48 0h1m1 0h1m7 0h1m8 0h1m8 0h1m52 0h2m32 0h1m13 0h1m112 0h1m3 0h1m2 0h1m16 0h1m8 0h1m6 0h1m3 0h2m2 0h2m107 0h1M15 8h1m2 0h1m67 0h1m22 0h1m17 0h1m53 0h1m33 0h1m9 0h1m26 0h2m22 0h4m6 0h1m5 0h1m36 0h1m37 0h2m22 0h1m15 0h1m107 0h1m21 0h1m192 0h2M60 9h1m57 0h1m75 0h1m25 0h1m45 0h1m37 0h1m9 0h1m9 0h1m39 0h1m135 0h2m48 0h1m44 0h2m34 0h2M81 10h1m26 0h2m76 0h1m2 0h1m9 0h1m23 0h1m30 0h2m29 0h1m76 0h1m26 0h1m1 0h1m14 0h1m16 0h1m12 0h1m7 0h1m46 0h1m4 0h1m11 0h1m35 0h1m13 0h1M1 11h2m5 0h1m4 0h3m3 0h2m6 0h1m5 0h1m10 0h1m56 0h2m18 0h1m2 0h1m4 0h1m55 0h1m5 0h1m33 0h1m1 0h1m36 0h4m5 0h2m16 0h1m9 0h1m5 0h2m5 0h1m1 0h1m29 0h3m9 0h1m5 0h1m19 0h1m102 0h2m20 0h2m94 0h2m7 0h1m33 0h1m40 0h3"/><path stroke="#bd3c9d" d="M1 0h1m87 0h2m15 0h1m31 0h2m71 0h1m11 0h1m78 0h2m7 0h1m2 0h2m5 0h2m7 0h1m2 0h2m2 0h1m28 0h2m16 0h1m25 0h1m30 0h2m12 0h1m29 0h1M4 1h2m43 0h3m18 0h1m52 0h1m23 0h2m3 0h1m60 0h2m4 0h2m1 0h2m23 0h1m18 0h1m58 0h1m8 0h1m16 0h1m1 0h4m40 0h1m261 0h1M16 2h1m5 0h1m1 0h2m29 0h1m5 0h1m5 0h1m1 0h2m5 0h2m4 0h2m3 0h1m8 0h2m11 0h1m2 0h1m12 0h4m87 0h2m1 0h2m14 0h1m21 0h1m11 0h2m15 0h1m9 0h9m10 0h1m31 0h2m9 0h3m18 0h1m4 0h1m20 0h2m22 0h1m9 0h1m5 0h1m9 0h1m3 0h1m1 0h3m26 0h1m13 0h2m1 0h1m1 0h1m1 0h1m33 0h5m3 0h1m19 0h2m8 0h2m2 0h2m2 0h1m5 0h1m29 0h3m1 0h2m28 0h3m9 0h1M75 3h2m109 0h1m5 0h1m4 0h1m11 0h4m24 0h2m21 0h1m12 0h2m5 0h1m2 0h2m7 0h2m2 0h2m4 0h2m3 0h1m18 0h1m18 0h1m10 0h1m130 0h1m16 0h3m7 0h1m2 0h1m9 0h1M8 4h2m1 0h1m1 0h1m26 0h1m12 0h1m72 0h1m52 0h2m17 0h1m14 0h2m25 0h2m8 0h1m27 0h1m9 0h1m3 0h4m65 0h1m156 0h2M9 5h2m46 0h1m82 0h1m31 0h1m6 0h1m4 0h1m12 0h1m32 0h2m10 0h1m2 0h2m15 0h1m3 0h2m12 0h1m3 0h1m19 0h2m5 0h2m8 0h2m34 0h1m4 0h1m19 0h1m15 0h1m7 0h2m14 0h1m2 0h2m15 0h1m15 0h1m8 0h1m5 0h1m11 0h1m65 0h2M49 6h1m48 0h1m2 0h1m54 0h1m2 0h1m5 0h1m4 0h2m15 0h1m6 0h3m1 0h1m210 0h1m1 0h1m7 0h1m7 0h2m31 0h1m2 0h1m8 0h1m4 0h1m37 0h1m6 0h1m18 0h1m12 0h1m21 0h2m20 0h2m2 0h1m21 0h2m13 0h1m1 0h1m8 0h6m17 0h7m16 0h2m15 0h3m32 0h2M58 7h1m77 0h2m1 0h1m6 0h1m10 0h1m31 0h1m35 0h2m1 0h1m51 0h1m73 0h3m31 0h2m19 0h1m134 0h1m5 0h1m20 0h1M11 8h1m73 0h1m8 0h1m81 0h1m8 0h1m40 0h1m22 0h1m1 0h1m47 0h1m5 0h1m2 0h1m25 0h1m29 0h3m25 0h5m22 0h1m50 0h1m22 0h2m23 0h2m46 0h3m17 0h3m9 0h2m9 0h2m20 0h2m64 0h2m22 0h2m14 0h1M95 9h1m87 0h3m3 0h1m11 0h1m4 0h1m9 0h1m17 0h1m2 0h2m76 0h1m15 0h1m11 0h1m2 0h1m6 0h2m1 0h1m3 0h1m12 0h1m11 0h1m35 0h1m35 0h1m26 0h1m5 0h1m18 0h1m18 0h2m50 0h2M154 10h1m69 0h2m3 0h1m5 0h1m27 0h1m79 0h1m12 0h2m5 0h1m26 0h1m25 0h1m16 0h1m17 0h1m43 0h1m4 0h2m14 0h2m6 0h2m13 0h2m25 0h2m8 0h3m30 0h2m66 0h2m23 0h1m6 0h1M0 11h1m2 0h2m2 0h1m34 0h1m23 0h1m41 0h1m9 0h2m10 0h1m20 0h1m9 0h1m4 0h1m27 0h1m7 0h1m50 0h1m33 0h2m5 0h3m5 0h1m3 0h1m4 0h3m27 0h1m1 0h2m12 0h1m16 0h3m2 0h2m1 0h2m46 0h2m3 0h1m39 0h2m6 0h2m26 0h1m16 0h2m1 0h2m5 0h1m19 0h2m12 0h1m40 0h1m6 0h1m26 0h1m16 0h1m45 0h1"/><path stroke="#ac34b0" d="M8 0h2m103 0h1m34 0h1m37 0h2m4 0h1m12 0h2m10 0h1m10 0h1m12 0h1m41 0h1m6 0h1m1 0h1m39 0h1m3 0h1m5 0h1m9 0h1m3 0h2m3 0h1m23 0h1m97 0h2m5 0h1m26 0h1M55 1h1m69 0h1m6 0h1m5 0h2m10 0h1m2 0h1m10 0h1m12 0h1m43 0h1m31 0h1m82 0h1m1 0h1m4 0h2m4 0h2m166 0h1M60 2h1m4 0h1m20 0h1m5 0h1m2 0h1m7 0h2m5 0h2m7 0h3m8 0h1m7 0h2m7 0h2m2 0h1m7 0h1m2 0h1m16 0h1m27 0h2m13 0h2m4 0h2m23 0h1m17 0h1m11 0h2m10 0h1m9 0h1m36 0h1m3 0h1m27 0h1m26 0h1m14 0h2m16 0h1m5 0h2m4 0h1m25 0h1m5 0h1m24 0h1m6 0h1m6 0h1m13 0h1m1 0h1m16 0h1m7 0h2m5 0h1m2 0h1m10 0h1m50 0h1m33 0h1M43 3h2m13 0h1m18 0h1m13 0h1m59 0h1m18 0h2m9 0h1m16 0h1m3 0h3m14 0h2m9 0h1m9 0h2m5 0h1m4 0h4m12 0h3m1 0h1m38 0h2m6 0h1m3 0h2m6 0h2m10 0h2m7 0h1m107 0h1m34 0h1m1 0h1m12 0h1m9 0h1M19 4h2m2 0h1m13 0h3m16 0h1m18 0h1m5 0h1m15 0h1m87 0h1m21 0h2m19 0h3m68 0h3m11 0h1m28 0h1m14 0h1m157 0h1M19 5h1m4 0h2m5 0h2m11 0h1m98 0h2m5 0h1m20 0h1m68 0h1m18 0h3m3 0h1m9 0h1m2 0h2m18 0h1m7 0h1m29 0h1m10 0h2m16 0h1m30 0h1m19 0h1m14 0h2m13 0h1m1 0h1m3 0h2m3 0h1m5 0h1m17 0h1m68 0h1M15 6h4m34 0h1m17 0h2m16 0h1m22 0h2m12 0h2m4 0h1m2 0h3m51 0h1m3 0h1m5 0h1m13 0h1m192 0h2m4 0h1m7 0h1m8 0h1m20 0h2m19 0h1m1 0h1m8 0h2m23 0h1m11 0h2m3 0h2m4 0h3m22 0h2m2 0h4m1 0h1m1 0h4m30 0h1m8 0h2m4 0h2m12 0h4m1 0h1m3 0h1m17 0h2m7 0h4m2 0h2m13 0h10m7 0h1m3 0h4m5 0h17m4 0h11m2 0h11m2 0h22m2 0h1m4 0h4M145 7h1m67 0h2m160 0h1m14 0h1m29 0h2m96 0h2m27 0h3m12 0h1m7 0h1m123 0h1M52 8h1m24 0h1m6 0h1m31 0h1m62 0h1m74 0h1m35 0h2m20 0h1m6 0h1m10 0h1m1 0h2m15 0h1m3 0h2m6 0h1m38 0h2m2 0h1m3 0h1m2 0h1m8 0h1m8 0h2m14 0h3m9 0h1m2 0h1m22 0h1m5 0h1m2 0h1m10 0h1m4 0h1m2 0h1m53 0h1m34 0h1m10 0h1m76 0h2m1 0h2m2 0h1m43 0h1M120 9h2m6 0h1m83 0h1m5 0h1m12 0h1m15 0h1m2 0h1m47 0h2m20 0h3m9 0h1m9 0h1m14 0h1m4 0h1m3 0h2m4 0h1m13 0h1m7 0h1m7 0h1m1 0h1m6 0h2m7 0h1m13 0h2m4 0h1m1 0h1m5 0h1m29 0h3m13 0h1m13 0h1m1 0h1m15 0h1m3 0h2m19 0h1m14 0h3m9 0h2m2 0h1m11 0h1m2 0h1m51 0h1M59 10h1m26 0h1m92 0h1m22 0h1m23 0h1m3 0h1m5 0h1m97 0h1m2 0h1m39 0h2m6 0h1m28 0h1m7 0h1m8 0h2m109 0h2m9 0h2m5 0h1m18 0h1m25 0h2m4 0h1m47 0h1m9 0h1m6 0h1m2 0h4m2 0h4m8 0h2m4 0h2m3 0h1M12 11h1m9 0h1m76 0h2m58 0h1m3 0h1m13 0h2m4 0h1m5 0h1m2 0h1m23 0h3m12 0h2m52 0h1m3 0h1m2 0h1m4 0h2m16 0h1m7 0h1m1 0h6m4 0h1m27 0h1m1 0h1m19 0h1m4 0h1m7 0h1m1 0h2m25 0h2m51 0h1m22 0h1m2 0h2m19 0h1m23 0h1m8 0h1m7 0h1m26 0h3m3 0h1m2 0h1m13 0h2m29 0h2m14 0h1m7 0h1m29 0h4m2 0h1m2 0h2m3 0h5m17 0h2m2 0h2m13 0h1m9 0h8"/><path stroke="#9a2cc2" d="M3 0h1m3 0h1m3 0h1m81 0h1m85 0h2m17 0h1m19 0h1m16 0h1m55 0h1m2 0h1m56 0h1m81 0h1m37 0h1m5 0h1m2 0h1m37 0h1M78 1h2m33 0h1m31 0h1m5 0h1m42 0h1m35 0h1m2 0h1m6 0h1m16 0h1m6 0h2m73 0h2m20 0h1M21 2h1m10 0h1m10 0h1m10 0h1m39 0h1m18 0h2m1 0h1m1 0h1m10 0h1m6 0h1m3 0h4m12 0h2m6 0h3m36 0h2m6 0h3m4 0h1m13 0h1m4 0h2m11 0h2m66 0h1m12 0h1m4 0h2m2 0h2m2 0h2m6 0h2m2 0h2m3 0h1m3 0h1m55 0h1m1 0h2m2 0h2m20 0h2m3 0h1m13 0h1m7 0h2m1 0h1m1 0h2m2 0h1m5 0h2m78 0h1m8 0h1m17 0h2m6 0h1M14 3h2m3 0h2m5 0h3m11 0h1m4 0h1m28 0h1m37 0h1m27 0h1m2 0h1m20 0h2m3 0h1m7 0h2m4 0h3m10 0h1m18 0h1m5 0h1m27 0h1m6 0h1m4 0h2m27 0h1m19 0h1m179 0h1M15 4h1m6 0h1m4 0h2m4 0h2m60 0h2m2 0h2m24 0h1m30 0h1m117 0h2m27 0h1m12 0h1m6 0h3m14 0h2m174 0h1M4 5h1m17 0h2m9 0h1m36 0h1m38 0h1m1 0h1m65 0h2m4 0h1m45 0h1m11 0h1m1 0h2m2 0h1m9 0h2m9 0h1m7 0h2m3 0h1m34 0h1m16 0h2m62 0h1m29 0h2m9 0h2m3 0h1m1 0h1m1 0h1m16 0h2m2 0h1m10 0h2M46 6h3m55 0h1m2 0h2m6 0h1m6 0h2m5 0h1m3 0h2m17 0h1m4 0h2m3 0h1m4 0h2m42 0h2m200 0h1m4 0h1m4 0h1m32 0h1m49 0h1m16 0h1m4 0h2m20 0h2m11 0h1m7 0h1m14 0h3m4 0h2m10 0h2m16 0h1m13 0h1m20 0h7m4 0h2m9 0h4m1 0h1m12 0h4m9 0h2m20 0h4m24 0h2m22 0h2m1 0h4M227 7h1m143 0h1m118 0h1m14 0h1m4 0h1m6 0h1m10 0h2m2 0h1m9 0h2m32 0h1m20 0h1m11 0h1m43 0h1m28 0h1m6 0h1m5 0h1M142 8h1m81 0h1m2 0h1m1 0h2m31 0h2m7 0h2m82 0h2m17 0h1m1 0h1m33 0h1m3 0h1m8 0h2m2 0h2m25 0h2m2 0h1m9 0h1m2 0h1m2 0h1m10 0h1m4 0h1m6 0h1m7 0h1m6 0h3m21 0h1m23 0h3m8 0h2m31 0h1m16 0h4m2 0h2m1 0h1m5 0h2m1 0h2m3 0h2m3 0h1m11 0h3m9 0h2m10 0h2m3 0h1m5 0h1m2 0h1m1 0h2m6 0h1m3 0h1m15 0h1m30 0h1m20 0h3M42 9h2m128 0h1m40 0h2m2 0h1m5 0h1m2 0h1m2 0h1m2 0h2m125 0h1m3 0h1m1 0h1m9 0h2m14 0h1m1 0h1m13 0h4m8 0h1m2 0h1m1 0h1m3 0h1m4 0h1m4 0h2m11 0h1m6 0h1m1 0h1m20 0h2m5 0h2m3 0h1m9 0h1m14 0h2m4 0h2m16 0h2m16 0h2m36 0h2m9 0h3m4 0h1m31 0h1m1 0h3m6 0h1m6 0h4m4 0h1M76 10h1m104 0h1m31 0h2m120 0h1m6 0h1m43 0h2m12 0h1m14 0h1m13 0h1m13 0h1m59 0h1m1 0h3m4 0h1m44 0h1m1 0h1m1 0h2m1 0h2m2 0h1m2 0h1m2 0h2m17 0h7m1 0h4m40 0h1m12 0h1m1 0h1m5 0h3m27 0h1m2 0h3m3 0h1m1 0h1m12 0h7m3 0h2m3 0h2m1 0h1m3 0h4m3 0h1m1 0h2m1 0h2m5 0h5m4 0h5m6 0h3m6 0h3m1 0h2M11 11h1m99 0h2m92 0h1m8 0h1m7 0h1m5 0h3m2 0h2m1 0h1m62 0h1m31 0h1m8 0h1m1 0h1m26 0h1m24 0h1m26 0h2m11 0h1m1 0h1m7 0h1m6 0h1m8 0h1m3 0h1m2 0h2m3 0h1m1 0h1m3 0h2m24 0h2m6 0h2m5 0h1m6 0h1m22 0h1m11 0h2m1 0h4m1 0h2m8 0h3m9 0h4m3 0h2m2 0h2m13 0h1m19 0h1m3 0h1m2 0h2m5 0h5m3 0h5m4 0h5m1 0h1m1 0h2m3 0h2m2 0h1m11 0h6m4 0h2m5 0h3m5 0h17m2 0h2m2 0h13m1 0h8m9 0h20"/><path stroke="#8727c6" d="M191 0h1m5 0h1m17 0h1m11 0h1m1 0h1m13 0h3m9 0h2m11 0h1m165 0h1M92 1h2m174 0h1m79 0h1m169 0h1M48 2h1m7 0h2m4 0h1m5 0h1m20 0h1m16 0h3m15 0h1m8 0h1m3 0h1m6 0h1m7 0h4m4 0h1m2 0h1m45 0h2m3 0h1m15 0h2m2 0h1m17 0h1m13 0h2m19 0h3m19 0h1m2 0h2m2 0h1m2 0h3m8 0h1m7 0h1m4 0h1m20 0h1m43 0h1m5 0h1m7 0h1m20 0h2m15 0h1m5 0h1m2 0h3m2 0h2m4 0h1m2 0h2m81 0h2m7 0h4m2 0h1m14 0h1M25 3h1m3 0h1m1 0h1m10 0h1m4 0h1m5 0h1m2 0h1m4 0h1m4 0h2m2 0h1m11 0h2m21 0h1m24 0h1m13 0h1m42 0h2m4 0h1m19 0h2m21 0h1m26 0h1m76 0h2m15 0h1m149 0h1M4 4h1m9 0h1m3 0h1m2 0h1m7 0h2m17 0h1m6 0h1m2 0h1m2 0h1m1 0h2m36 0h1m18 0h4m4 0h1m4 0h1m3 0h1m7 0h1m20 0h1m11 0h1m2 0h1m87 0h1m1 0h1m71 0h1m14 0h3M17 5h2m22 0h3m1 0h2m5 0h2m4 0h2m4 0h1m7 0h2m4 0h1m16 0h1m8 0h1m8 0h2m9 0h1m2 0h1m7 0h1m5 0h2m16 0h1m3 0h6m12 0h2m4 0h2m64 0h1m9 0h1m5 0h2m11 0h1m11 0h2m5 0h1m6 0h1m8 0h2m4 0h3m93 0h3m11 0h1m10 0h1m6 0h1m8 0h1m8 0h1M12 6h1m8 0h3m64 0h1m4 0h1m20 0h1m1 0h1m2 0h3m8 0h2m34 0h1m112 0h2m136 0h1m39 0h3m5 0h1m18 0h1m36 0h1m43 0h1m4 0h1m1 0h4m8 0h1m4 0h4m14 0h1m12 0h1m12 0h1m1 0h2m47 0h1m17 0h1m1 0h3M207 7h2m163 0h2m135 0h1m16 0h1m14 0h1m22 0h2m12 0h1m19 0h2m5 0h2m14 0h1m27 0h1m4 0h3m16 0h2m2 0h2m2 0h1m4 0h3m1 0h1m17 0h4m1 0h1M124 8h1m18 0h1m72 0h2m17 0h1m1 0h1m4 0h1m12 0h1m17 0h1m39 0h1m9 0h1m3 0h1m10 0h1m1 0h1m22 0h1m15 0h1m2 0h1m5 0h3m8 0h1m2 0h2m2 0h1m2 0h1m16 0h1m16 0h1m15 0h1m3 0h1m1 0h1m3 0h1m6 0h2m2 0h1m5 0h1m11 0h1m3 0h1m47 0h1m7 0h2m37 0h1m3 0h2m2 0h2m7 0h2m4 0h1m8 0h1m8 0h1m4 0h1m2 0h1m1 0h1m15 0h1m3 0h1m8 0h4m19 0h1m2 0h1m3 0h2m2 0h2m2 0h2m3 0h1m2 0h2m3 0h1m12 0h3m6 0h3m1 0h3m1 0h2m2 0h9m2 0h8m3 0h10M228 9h1m6 0h1m16 0h2m81 0h1m8 0h2m25 0h1m7 0h1m12 0h1m10 0h1m1 0h1m21 0h1m1 0h1m14 0h1m38 0h1m3 0h1m7 0h2m7 0h1m7 0h2m2 0h2m14 0h1m25 0h2m5 0h1m3 0h2m4 0h3m5 0h2m16 0h1m3 0h2m7 0h2m1 0h1m2 0h1m13 0h4m1 0h1m5 0h3m5 0h1m10 0h1M215 10h1m1 0h1m3 0h1m5 0h2m3 0h3m163 0h1m5 0h1m12 0h2m18 0h1m12 0h1m1 0h2m43 0h1m15 0h2m6 0h3m17 0h1m13 0h1m13 0h1m30 0h1m11 0h1m33 0h1m1 0h3m2 0h5m5 0h3m4 0h1m2 0h2m8 0h2m4 0h1m1 0h5m10 0h1m3 0h2m1 0h1m1 0h5m7 0h3m2 0h3m2 0h1m1 0h3m4 0h3m1 0h1m2 0h1m2 0h5m5 0h4m5 0h6m3 0h6m3 0h1M9 11h1m211 0h1m26 0h2m21 0h2m27 0h1m60 0h1m11 0h1m19 0h1m16 0h3m2 0h6m2 0h1m13 0h1m4 0h1m7 0h1m1 0h1m3 0h1m2 0h1m2 0h2m1 0h1m19 0h1m12 0h1m17 0h3m16 0h1m35 0h1m10 0h4m2 0h3m9 0h1m6 0h2m29 0h3m2 0h1m2 0h1m9 0h3m7 0h2m7 0h1m2 0h1m4 0h2m1 0h3m3 0h5m14 0h1m55 0h1"/><path stroke="#fdeaad" d="M58 0h1m81 0h1m17 0h1m376 0h2m2 0h1m52 0h1m19 0h1m20 0h1m45 0h1m4 0h1m31 0h1m6 0h2m2 0h2m3 0h4m17 0h1m8 0h2m5 0h1m6 0h3m14 0h1m1 0h1M38 1h2m6 0h1m142 0h1M262 4h2m172 0h1m9 0h2m13 0h2m5 0h1m4 0h1M215 6h1m3 0h2M49 7h1m313 0h1m1 0h2m1 0h1m54 0h1m2 0h2m42 0h1m4 0h3m2 0h1M49 8h1m57 0h1m39 0h2m40 0h1m94 0h1m242 0h3M32 9h1m16 0h1m28 0h1m246 0h1M162 10h1m14 0h2m3 0h1m125 0h1m7 0h1M49 11h2m38 0h1"/><path stroke="#7225b8" d="M2 0h1m3 0h1m225 0h2m8 0h1m41 0h1m28 0h1m9 0h1m19 0h3m3 0h2M235 1h1m90 0h2m24 0h1M10 2h1m38 0h2m40 0h1m9 0h1m3 0h1m11 0h1m13 0h2m1 0h2m10 0h1m11 0h1m56 0h1m5 0h1m26 0h1m11 0h1m20 0h1m9 0h4m22 0h1m5 0h4m1 0h1m10 0h1m71 0h2m38 0h1m12 0h2m94 0h3M11 3h1m4 0h1m5 0h3m5 0h1m4 0h1m2 0h1m16 0h1m3 0h2m4 0h1m6 0h2m5 0h3m20 0h1m3 0h1m6 0h2m3 0h2m4 0h1m8 0h2m4 0h1m12 0h1m38 0h1m2 0h2m61 0h1m19 0h1m86 0h1M5 4h3m4 0h1m3 0h1m25 0h1m16 0h2m5 0h2m12 0h1m13 0h1m14 0h3m3 0h1m26 0h1m10 0h1m5 0h1m4 0h2m37 0h1m115 0h1M26 5h3m5 0h3m18 0h1m4 0h1m5 0h2m6 0h4m16 0h1m1 0h2m1 0h1m5 0h1m4 0h1m6 0h1m5 0h1m2 0h1m4 0h1m7 0h1m17 0h1m17 0h1m4 0h1m52 0h2m17 0h1m11 0h1m7 0h1m15 0h3m8 0h2m2 0h1m5 0h2m19 0h1m103 0h1m19 0h1m11 0h1m8 0h2m5 0h1M13 6h2m5 0h1m40 0h1m16 0h3m1 0h1m14 0h1m7 0h2m4 0h1m13 0h1m47 0h2m25 0h3m125 0h1m119 0h2m5 0h1m10 0h3m11 0h1m4 0h1m47 0h1m23 0h2m26 0h1m31 0h3m1 0h2m25 0h2M205 7h2m4 0h2m276 0h1m1 0h1m21 0h2m30 0h2m6 0h1m9 0h1m8 0h1m4 0h1m1 0h2m27 0h1m1 0h3m4 0h1m16 0h1m9 0h1m5 0h1m1 0h1m6 0h1m8 0h1m6 0h2m2 0h2m2 0h1m1 0h1m12 0h1m13 0h1M223 8h1m15 0h1m19 0h2m19 0h2m22 0h1m5 0h2m6 0h1m1 0h1m3 0h1m11 0h2m1 0h1m1 0h1m2 0h2m11 0h2m27 0h2m17 0h1m26 0h1m3 0h2m3 0h2m1 0h1m3 0h2m1 0h1m4 0h1m9 0h1m11 0h2m11 0h1m32 0h1m13 0h1m25 0h1m4 0h2m4 0h6m31 0h2m2 0h1m1 0h2m14 0h2m11 0h1m2 0h1m3 0h2m9 0h3m1 0h2m13 0h1m8 0h2m9 0h3m3 0h1m3 0h1m2 0h3m5 0h3m12 0h1m3 0h6m3 0h1m3 0h1m3 0h1m9 0h2m21 0h2M203 9h2m20 0h1m16 0h1m3 0h1m1 0h1m6 0h1m160 0h3m4 0h1m1 0h1m4 0h3m10 0h1m3 0h1m1 0h2m1 0h2m51 0h2m28 0h1m8 0h3m9 0h1m5 0h1m1 0h1m20 0h1m5 0h1m20 0h2m4 0h2m1 0h3m3 0h2m9 0h1m19 0h1m1 0h4m6 0h1m2 0h1m43 0h2m11 0h2M173 10h1m45 0h2m10 0h1m126 0h1m140 0h1m33 0h2m10 0h2m4 0h1m18 0h1m1 0h1m74 0h1m3 0h2m8 0h2m8 0h2m2 0h1m14 0h1m21 0h1m1 0h1M10 11h1m176 0h1m31 0h2m16 0h2m81 0h3m13 0h2m11 0h1m27 0h2m2 0h1m4 0h4m5 0h1m6 0h1m1 0h1m8 0h2m14 0h1m2 0h2m4 0h2m3 0h1m1 0h5m11 0h1m4 0h1m2 0h3m1 0h1m25 0h2m1 0h1m5 0h1m5 0h2m8 0h2m16 0h2m19 0h1m46 0h2"/><path stroke="#5e23a8" d="M182 0h1m10 0h1m25 0h2m64 0h3m92 0h1M6 1h1m210 0h1M8 2h1m4 0h1m37 0h1m6 0h2m28 0h1m1 0h1m2 0h1m4 0h1m16 0h1m6 0h2m21 0h1m4 0h1m54 0h2m29 0h1m53 0h1m36 0h1m97 0h2m91 0h2M13 3h1m3 0h2m14 0h2m1 0h2m1 0h1m1 0h1m6 0h1m8 0h1m6 0h1m6 0h1m28 0h1m2 0h2m10 0h1m6 0h1m2 0h3m14 0h1m2 0h1m4 0h1m2 0h1m3 0h2m4 0h1m2 0h1m8 0h2m2 0h2m24 0h1m21 0h1m22 0h1m13 0h2m5 0h1m247 0h1M35 4h1m7 0h2m9 0h1m14 0h1m4 0h1m1 0h3m3 0h2m3 0h2m16 0h2m11 0h1m5 0h1m6 0h2m1 0h1m5 0h2m6 0h1m9 0h1m28 0h2m57 0h1m1 0h1m106 0h2M16 5h1m12 0h2m6 0h2m26 0h1m3 0h1m28 0h1m2 0h3m15 0h3m3 0h1m2 0h1m16 0h2m5 0h2m6 0h3m10 0h2m1 0h1m58 0h1m3 0h1m10 0h1m36 0h1m3 0h3m13 0h1m20 0h2m9 0h1m2 0h1m10 0h3m61 0h2m37 0h1M19 6h1m42 0h1m13 0h2m3 0h1m12 0h1m8 0h1m20 0h1m13 0h2m3 0h2m8 0h3m7 0h2m7 0h1m4 0h1m25 0h2m63 0h1m139 0h1m5 0h3m4 0h2m23 0h1m22 0h2m78 0h1m2 0h2M202 7h1m285 0h1m18 0h2m2 0h2m10 0h1m27 0h2m5 0h4m6 0h1m4 0h1m26 0h1m3 0h1m17 0h2m6 0h3m10 0h1m4 0h1m2 0h1m5 0h2m1 0h2m2 0h4m29 0h1m1 0h4m4 0h1m6 0h1m15 0h4m37 0h2m5 0h2m1 0h2M247 8h1m8 0h1m40 0h2m22 0h2m19 0h2m15 0h2m1 0h1m12 0h1m1 0h1m3 0h1m3 0h1m26 0h1m4 0h1m7 0h1m8 0h2m2 0h3m9 0h1m21 0h1m2 0h1m5 0h2m18 0h1m2 0h1m17 0h2m20 0h6m1 0h1m1 0h2m8 0h1m9 0h2m28 0h1m3 0h2m8 0h1m23 0h2m8 0h3m2 0h2m1 0h1m11 0h2m2 0h2m4 0h2m4 0h1M199 9h1m24 0h1m18 0h1m5 0h1m108 0h1m41 0h1m60 0h1m12 0h1m10 0h1m6 0h1m14 0h1m3 0h1m8 0h1m16 0h5m11 0h2m16 0h4m11 0h2m5 0h1m6 0h1m1 0h1m1 0h1m2 0h1m16 0h3m17 0h1m20 0h1m5 0h2m3 0h1m2 0h4m2 0h3m9 0h2m2 0h2m7 0h1m9 0h3m9 0h4m2 0h1m25 0h1m5 0h2m1 0h4m4 0h3m6 0h5M203 10h2m11 0h1m188 0h1m32 0h1m55 0h1m32 0h1m7 0h1m16 0h1m3 0h1m16 0h1m6 0h1m26 0h2M190 11h1m15 0h1m8 0h1m10 0h1m135 0h1m42 0h3m1 0h1m30 0h2m11 0h3m21 0h1m4 0h1m37 0h1m18 0h2m101 0h1m36 0h2"/><path stroke="#4b2297" d="M31 0h1m194 0h1m7 0h1m2 0h2m18 0h1m58 0h1m9 0h1M10 1h1m2 0h3m220 0h1M3 2h4m2 0h1m139 0h1m83 0h1m34 0h1m60 0h1m252 0h1M12 3h1m41 0h1m46 0h1m9 0h1m4 0h2m2 0h2m1 0h1m4 0h1m2 0h1m15 0h1m6 0h3m134 0h1M36 4h1m4 0h1m9 0h2m17 0h1m8 0h1m4 0h3m3 0h1m7 0h1m3 0h3m3 0h1m10 0h1m18 0h2m6 0h1m5 0h1m24 0h1m5 0h2m1 0h1m60 0h1M39 5h2m7 0h1m1 0h2m19 0h1m7 0h2m6 0h2m11 0h1m28 0h2m5 0h2m13 0h1m2 0h3m1 0h1m10 0h2m149 0h1m16 0h2m1 0h2m1 0h2m4 0h1m105 0h1M86 6h1m3 0h2m8 0h1m8 0h1m18 0h1m11 0h3m32 0h1m2 0h1m11 0h1m70 0h1m22 0h1m54 0h1m44 0h1m96 0h1m56 0h1M199 7h1m3 0h1m282 0h2m16 0h1m49 0h1m14 0h1m5 0h1m31 0h1m6 0h1m5 0h1m3 0h1m2 0h3m5 0h6m6 0h1m15 0h1m5 0h2m13 0h1m8 0h1m2 0h1m9 0h1m8 0h1m3 0h6m9 0h3m1 0h13m4 0h5m3 0h8m2 0h5m2 0h1m2 0h10m1 0h2M287 8h1m43 0h1m40 0h2m4 0h1m37 0h1m14 0h1m1 0h1m18 0h1m20 0h1m25 0h1m7 0h1m33 0h1m83 0h1m7 0h1m26 0h1M251 9h1m125 0h1m35 0h3m20 0h2m3 0h1m3 0h1m13 0h1m4 0h1m7 0h1m13 0h1m4 0h1m5 0h1m4 0h1m11 0h2m31 0h1m9 0h1m34 0h1m15 0h1m21 0h1m2 0h1m6 0h1m2 0h1m31 0h1m1 0h2m4 0h2m3 0h2m4 0h1m4 0h2m2 0h3m1 0h1m1 0h1m3 0h1m5 0h1m3 0h1m12 0h2m1 0h3m4 0h7m3 0h8m1 0h3m4 0h1m4 0h4m3 0h6m5 0h1M237 10h1m161 0h1m137 0h2m76 0h1M176 11h1m68 0h1m153 0h1m3 0h1m77 0h1m19 0h1m21 0h1m17 0h1m12 0h1m2 0h1m28 0h2m24 0h1"/><path stroke="#3a1d79" d="M194 0h2m25 0h2M7 1h3m1 0h2m188 0h1M12 2h1m1 0h1m185 0h2m22 0h2m21 0h1m13 0h1m87 0h2m181 0h1M8 3h2m58 0h1m41 0h1m18 0h1m8 0h1m2 0h1m20 0h1m4 0h2m3 0h1m1 0h1m59 0h1m47 0h1m55 0h1M26 4h1m18 0h3m1 0h2m6 0h1m15 0h1m40 0h1m1 0h1m12 0h2m4 0h2m6 0h1m7 0h1m11 0h1m38 0h1m65 0h1m67 0h3M20 5h1m26 0h1m6 0h1m6 0h3m25 0h1m22 0h1m5 0h1m3 0h1m15 0h1m144 0h1m42 0h2m23 0h1m6 0h1m2 0h1M31 6h2m51 0h2m1 0h1m29 0h1m30 0h3m25 0h1m2 0h1m3 0h4m98 0h1m8 0h1m1 0h2m5 0h1m22 0h1m40 0h2m13 0h2m1 0h1m14 0h1m23 0h3m27 0h1m6 0h2m29 0h1m2 0h1M391 7h3m127 0h2m14 0h2m16 0h1m18 0h1m18 0h4m4 0h3m11 0h2m1 0h2m5 0h2m6 0h1m8 0h1m2 0h1m25 0h2m18 0h2m10 0h3m10 0h3m6 0h5m7 0h1m13 0h4m5 0h3m30 0h1M231 8h1m6 0h1m19 0h1m29 0h2m38 0h1m6 0h1m33 0h3m26 0h1m14 0h1m47 0h2m4 0h1m16 0h1m15 0h1m38 0h2m2 0h1m8 0h1m73 0h1m31 0h1M378 9h1m84 0h1m6 0h1m4 0h1m23 0h1m52 0h1m2 0h1m73 0h1m24 0h4m32 0h4m2 0h1m9 0h1m1 0h1m2 0h2m1 0h3m7 0h6m12 0h4m7 0h3m12 0h2M238 10h1m164 0h1m9 0h1m84 0h1m64 0h1m68 0h1m1 0h2m2 0h1m4 0h2M203 11h2m39 0h1m72 0h2m40 0h2m96 0h1m75 0h2m12 0h2m6 0h1m71 0h2"/><path stroke="#29185a" d="M0 0h1m195 0h1m42 0h1m19 0h3m4 0h2m27 0h3m14 0h1m6 0h1M197 1h1m1 0h2m1 0h1M11 2h1m51 0h2m96 0h1m64 0h1m55 0h1M32 3h1m16 0h3m26 0h1m29 0h2m22 0h1m13 0h1m1 0h2m9 0h1m13 0h1m8 0h1m45 0h2m5 0h1M24 4h2m5 0h1m30 0h1m5 0h1m20 0h1m1 0h3m50 0h1m2 0h1m1 0h2m3 0h2m1 0h1M49 5h1m56 0h3m7 0h1m233 0h1M40 6h2m18 0h1m57 0h1m26 0h3m3 0h1m28 0h1m1 0h1m79 0h2m6 0h1m3 0h1m1 0h3m4 0h1m20 0h1m8 0h2m12 0h1m12 0h2m7 0h2m39 0h1m3 0h1m4 0h1m52 0h2m10 0h1m28 0h2m5 0h3m36 0h2M201 7h1m2 0h1m291 0h1m38 0h1m77 0h1m27 0h1m4 0h1m15 0h1M232 8h1m13 0h1m1 0h1m77 0h1m88 0h1m37 0h1m10 0h1m22 0h2m17 0h1m176 0h1M190 9h1m208 0h1m6 0h1m39 0h1m7 0h2m6 0h1m2 0h2m4 0h1m1 0h1m3 0h1m55 0h2m1 0h1m11 0h2m13 0h1m26 0h1m12 0h1m37 0h2m52 0h1M218 10h1m307 0h1m23 0h1m63 0h1m1 0h1m4 0h3m6 0h2M408 11h1m15 0h2m32 0h1m166 0h2"/><path stroke="#1b123d" d="M212 0h1m17 0h2m4 0h1m3 0h1m31 0h1m36 0h2M7 2h1m7 0h1m179 0h1m78 0h1m36 0h1M21 3h1m47 0h1m37 0h1m27 0h3M107 4h1m54 0h1m4 0h2m5 0h1m7 0h1M21 5h1m46 0h1m12 0h1m1 0h3m29 0h1m17 0h2m12 0h3m163 0h1m5 0h1M33 6h1m25 0h1m7 0h1m34 0h1m7 0h1m70 0h1m91 0h1m7 0h2m7 0h4m1 0h1m6 0h1m26 0h1m12 0h1m18 0h1m3 0h1m8 0h1m12 0h2m2 0h1m3 0h2m50 0h1m27 0h2m26 0h1m31 0h1m12 0h1M506 7h1m49 0h2m8 0h2m24 0h1M317 8h1m7 0h1m20 0h3m172 0h1M398 9h1m70 0h1m6 0h1m21 0h1M172 10h1m67 0h1m295 0h1m76 0h1m3 0h1m6 0h2m1 0h3m9 0h2M242 11h1m129 0h1m53 0h1m94 0h1m34 0h1m72 0h4m1 0h1"/><path stroke="#0d0b21" d="M250 0h1m22 0h1m3 0h4M198 1h1M2 2h1m194 0h1m1 0h1m2 0h1m107 0h1M62 3h2m96 0h2M0 4h1m31 0h1m32 0h1m5 0h2m39 0h1m47 0h2m8 0h1m4 0h2M56 5h1m33 0h1m41 0h1M24 6h3m15 0h1m11 0h1m3 0h1m24 0h1m8 0h1m154 0h4m36 0h1m10 0h1m10 0h1m6 0h1m13 0h1m5 0h3m6 0h3m3 0h1m11 0h2m1 0h1m2 0h2m4 0h2m1 0h1m22 0h1m2 0h1m29 0h1m9 0h1m46 0h1m4 0h1m2 0h1m4 0h1m32 0h1m6 0h3M499 7h1m2 0h2m26 0h2m2 0h1m1 0h1m2 0h2m40 0h4m1 0h3M555 8h1M200 9h1m255 0h1m10 0h2m53 0h2M241 10h1m378 0h1m5 0h1m6 0h1m2 0h2M199 11h3m38 0h2m1 0h1m126 0h2m150 0h1m98 0h3m11 0h2"/><path stroke="#080716" d="M208 0h3m54 0h1m5 0h1m21 0h1M0 2h2M3 4h1m165 0h1m2 0h1M86 5h1m4 0h3M28 6h3m14 0h1m27 0h1m177 0h1m2 0h3m2 0h2m3 0h4m42 0h3m2 0h1m15 0h1m12 0h1m3 0h1m13 0h1m14 0h1m11 0h1m12 0h2m26 0h2m1 0h1m2 0h3m3 0h2m1 0h1m44 0h1m7 0h1m35 0h1m1 0h1m10 0h1M492 7h4m5 0h1m22 0h2m59 0h1m3 0h3M316 8h1M521 9h1M242 10h2m303 0h3m68 0h2m21 0h2M239 11h1m6 0h1m377 0h1m8 0h1"/><path stroke="#04030d" d="M274 0h2m6 0h1M195 1h2M196 2h1m1 0h1M113 4h1m3 0h1m55 0h1M27 6h1m7 0h1m2 0h2m26 0h1m7 0h2m177 0h1m3 0h1m11 0h1m36 0h2m15 0h3m17 0h1m13 0h1m2 0h1m71 0h1m8 0h1m47 0h1m7 0h1M0 7h2m198 0h1m296 0h2M314 8h2m240 0h2M239 10h1m4 0h3"/><path stroke="#000004" d="M262 0h3m11 0h1m4 0h1M1 4h2m168 0h1M82 5h1M34 6h1m1 0h2m5 0h2m11 0h2m5 0h1m31 0h2m155 0h1m5 0h1m12 0h2m2 0h1m10 0h1m1 0h2m9 0h3m3 0h1m2 0h1m8 0h6m9 0h4m16 0h5m1 0h2m11 0h3m5 0h3m4 0h1m5 0h2m3 0h2m6 0h1m29 0h1m3 0h2m45 0h3M500 7h1m32 0h1M588 9h2"/><path stroke="#fde1a3" d="M27 0h1m24 0h1m4 0h1m108 0h1m354 0h2m14 0h2m44 0h2m3 0h4m85 0h2m35 0h2m1 0h2m6 0h2m2 0h1m7 0h1m2 0h5m11 0h2m1 0h3m2 0h2m4 0h1m14 0h5m4 0h1M281 1h1m158 0h1m17 0h1m39 0h1M244 2h1M542 3h2M242 4h1m143 0h1m54 0h2m9 0h2m4 0h2m5 0h1m3 0h4m13 0h2m1 0h1M0 5h1m1 0h2m501 0h1m81 0h4m16 0h2m24 0h1M221 6h2m21 0h1M16 7h1m1 0h3m62 0h1m261 0h1m16 0h1m6 0h1m52 0h1m21 0h1m24 0h1M21 8h1m65 0h2m57 0h1m64 0h1M71 9h2m28 0h1m55 0h2m23 0h1m144 0h3M22 10h2m60 0h2m224 0h2m2 0h2m45 0h1"/><path stroke="#fcd296" d="M17 0h1m10 0h1m30 0h1m28 0h1m75 0h1m333 0h1m158 0h1m17 0h2m6 0h1m11 0h1m9 0h1m13 0h1m16 0h1m2 0h1m5 0h6m1 0h1m1 0h2m2 0h1m7 0h1m4 0h2m17 0h3M181 1h1m22 0h1m41 0h1m35 0h1m75 0h1m30 0h1m40 0h3m17 0h1m72 0h1m12 0h1M362 3h1m75 0h2m133 0h1m13 0h1M249 4h1m14 0h1m55 0h3m96 0h3m1 0h2m1 0h2m6 0h2m1 0h4m2 0h1m6 0h1m6 0h1m26 0h1m78 0h1m27 0h2m78 0h1M199 5h1m391 0h2M216 6h3m24 0h1m1 0h2M160 7h2m78 0h1m108 0h2m2 0h1m114 0h1m2 0h2m1 0h1M78 8h3m27 0h1m87 0h1m334 0h2M2 9h1m7 0h1m5 0h1m59 0h2m231 0h1m16 0h1M4 10h1m16 0h1m10 0h1m50 0h1m5 0h1m76 0h1m209 0h1m97 0h1M114 11h2m29 0h1m42 0h1m386 0h4"/><path stroke="#fcc489" d="M18 0h2m2 0h2m5 0h2m30 0h1m3 0h1m36 0h1m21 0h1m3 0h1m36 0h1m1 0h1m284 0h1m72 0h2m14 0h1m14 0h2m11 0h2m31 0h3m36 0h2m11 0h1m16 0h4m11 0h2m1 0h6m8 0h2m1 0h1m13 0h3m7 0h2m6 0h1m12 0h1m15 0h2m4 0h3m3 0h2m3 0h1M36 1h2m7 0h1m6 0h2m105 0h1m19 0h2m137 0h1m1 0h1m105 0h2m1 0h1m29 0h1m61 0h2m18 0h1m13 0h1m8 0h2m34 0h1m53 0h2M190 2h1M305 3h1m130 0h2m26 0h2m47 0h1m50 0h2m5 0h2m27 0h1m1 0h1m30 0h1M218 4h1m14 0h2m100 0h1m51 0h1m26 0h2m2 0h1m6 0h1m3 0h3m13 0h1m2 0h2m1 0h1m2 0h1m1 0h1m3 0h1m2 0h1m11 0h3m4 0h1m2 0h1m37 0h1m5 0h1m13 0h1m20 0h2m55 0h1M492 5h1m76 0h2m22 0h1m11 0h2m27 0h2m5 0h2M233 6h3M11 7h2m19 0h1m39 0h2m8 0h1m227 0h3m21 0h1m89 0h2m2 0h1m11 0h1m5 0h4m11 0h1m2 0h2m15 0h2m2 0h1M1 8h1m96 0h1m52 0h1m42 0h1m2 0h1m87 0h1M31 9h1m22 0h1m44 0h2m5 0h1m7 0h1m25 0h1m10 0h1m131 0h1M1 10h3m1 0h2m1 0h1m15 0h1m25 0h1m40 0h1m10 0h2m2 0h2m7 0h1m67 0h1m122 0h1M21 11h1m76 0h1m96 0h2m376 0h2"/><path stroke="#fbb57d" d="M16 0h1m36 0h1m6 0h1m11 0h2m29 0h1m77 0h1m284 0h2m84 0h1m12 0h1m35 0h1m15 0h2m7 0h1m26 0h1m4 0h1m2 0h3m3 0h4m9 0h1m4 0h1m10 0h1m10 0h2m1 0h3m68 0h3M17 1h2m1 0h1m7 0h1m4 0h1m53 0h1m9 0h1m5 0h3m13 0h1m70 0h1m19 0h2m42 0h3m18 0h1m2 0h1m124 0h1m24 0h1m9 0h1m12 0h1m29 0h2m16 0h1m11 0h1m12 0h2m7 0h2m16 0h2m103 0h3M170 2h2m391 0h1M317 3h1m17 0h1m37 0h1m3 0h1m12 0h1m72 0h1m24 0h1m9 0h1m34 0h2m5 0h2m59 0h1m54 0h3m16 0h1M227 4h1m31 0h1m16 0h1m102 0h1m48 0h1m3 0h2m10 0h1m10 0h1m27 0h1m52 0h1m2 0h1m4 0h2m9 0h3m42 0h1m19 0h1m37 0h1m10 0h2m5 0h1m48 0h3M378 5h1m114 0h2m3 0h1m23 0h2m1 0h2m9 0h1m31 0h1m63 0h1m10 0h1M223 6h1m7 0h2M3 7h2m8 0h3m5 0h1m25 0h2m14 0h2m5 0h1m13 0h1m13 0h1m7 0h2m59 0h1m10 0h1m4 0h2m11 0h1m38 0h1m9 0h1m67 0h1m26 0h1m5 0h1m82 0h4m8 0h2m17 0h1m1 0h2m2 0h1m6 0h1m9 0h2M6 8h1m2 0h1m2 0h1m6 0h2m10 0h2m12 0h2m3 0h1m20 0h2m56 0h1m23 0h1m3 0h2m3 0h1m30 0h1m11 0h1m319 0h2m6 0h2M7 9h1m38 0h1m37 0h1m4 0h2m19 0h2m10 0h2m1 0h1m12 0h2m15 0h1m112 0h1m3 0h1m4 0h1M0 10h1m6 0h1m1 0h1m1 0h2m3 0h1m14 0h1m17 0h1m4 0h1m27 0h1m7 0h1m1 0h1m8 0h1m10 0h1m9 0h1m22 0h1m14 0h2m49 0h1m56 0h1m21 0h1m83 0h1M51 11h1m16 0h3m62 0h1m4 0h2m4 0h1m138 0h2"/><path stroke="#faa875" d="M21 0h1m34 0h1m28 0h1m1 0h1m7 0h3m3 0h1m19 0h1m30 0h1m15 0h1m20 0h1m209 0h1m65 0h1m33 0h1m15 0h1m8 0h1m8 0h1m21 0h1m7 0h1m2 0h3m2 0h3m41 0h2m5 0h4m4 0h3m27 0h1m3 0h1m16 0h2m5 0h1m10 0h1M19 1h1m2 0h4m3 0h2m3 0h2m4 0h1m6 0h1m36 0h2m9 0h2m31 0h1m80 0h1m8 0h1m68 0h1m16 0h2m2 0h1m33 0h1m20 0h1m6 0h1m19 0h1m17 0h2m3 0h3m36 0h2m7 0h2m3 0h3m4 0h1m14 0h1m20 0h1m27 0h1m4 0h2m10 0h1m4 0h1m6 0h2m33 0h1m41 0h1m3 0h1m35 0h2m65 0h4m9 0h1m2 0h2m3 0h2M521 2h2m2 0h2M87 3h1m155 0h2m61 0h1m54 0h1m7 0h1m1 0h1m6 0h1m10 0h1m8 0h1m3 0h2m9 0h1m43 0h1m4 0h1m38 0h1m49 0h2m75 0h2m30 0h4m1 0h2m9 0h1m15 0h3M243 4h1m84 0h1m16 0h1m19 0h1m5 0h1m3 0h1m1 0h1m20 0h1m17 0h2m46 0h1m1 0h2m6 0h1m55 0h3m16 0h1m4 0h1m30 0h3m10 0h2m7 0h2m29 0h4m18 0h2m32 0h2m9 0h2m5 0h1M200 5h2m3 0h1m14 0h1m266 0h1m11 0h2m14 0h1m1 0h1m10 0h1m4 0h2m21 0h1m26 0h1m14 0h1m14 0h1m5 0h2m18 0h2M224 6h1m11 0h1m5 0h1M2 7h1m20 0h2m6 0h1m5 0h1m42 0h2m7 0h3m2 0h1m48 0h1m15 0h1m8 0h2m12 0h1m3 0h2m56 0h1m23 0h1m16 0h2m64 0h2m47 0h1m4 0h2m32 0h1m3 0h1m23 0h1M22 8h1m39 0h1m27 0h1m15 0h1m11 0h3m9 0h1m13 0h2m3 0h2m36 0h1m14 0h1m3 0h4m2 0h3m7 0h1m45 0h1M6 9h1m8 0h1m1 0h1m3 0h1m25 0h2m1 0h1m1 0h1m2 0h1m35 0h3m35 0h1m7 0h1m21 0h1m11 0h1m19 0h2m72 0h1m7 0h1m28 0h1m87 0h1M17 10h4m25 0h1m4 0h1m17 0h2m50 0h1m33 0h1m18 0h1m22 0h1m63 0h2m2 0h1m27 0h1m36 0h1m37 0h1m13 0h1m5 0h1M39 11h1m14 0h1m35 0h1m25 0h2m93 0h1m112 0h1"/><path stroke="#f99b6f" d="M13 0h3m26 0h1m43 0h1m56 0h1m9 0h1m18 0h1m3 0h1m213 0h1m3 0h3m26 0h3m23 0h3m1 0h1m27 0h2m17 0h1m6 0h2m14 0h1m3 0h2m24 0h2m9 0h1m11 0h2m27 0h2m12 0h1m7 0h1m6 0h4m5 0h1m15 0h1m37 0h2m1 0h1m8 0h1m3 0h1M61 1h1m5 0h1m8 0h2m21 0h2m1 0h1m3 0h2m25 0h1m40 0h3m11 0h1m38 0h1m43 0h1m5 0h1m7 0h1m2 0h2m67 0h1m11 0h1m10 0h2m9 0h3m1 0h2m19 0h2m31 0h1m4 0h4m19 0h2m7 0h1m4 0h3m3 0h1m9 0h2m1 0h1m8 0h1m6 0h1m12 0h2m19 0h1m2 0h1m5 0h2m19 0h1m3 0h1m28 0h4m15 0h1m26 0h2m5 0h1m2 0h1m19 0h1m16 0h1m6 0h13m1 0h1m1 0h5m4 0h2m4 0h4m3 0h2m1 0h2m2 0h3m5 0h14m3 0h3M189 2h1m72 0h2m14 0h2m110 0h1m7 0h1m87 0h2m10 0h1m24 0h1m12 0h1m2 0h1m24 0h1m35 0h1m41 0h1m3 0h2M88 3h1m153 0h1m73 0h1m55 0h1m2 0h2m22 0h1m4 0h1m4 0h1m14 0h2m14 0h1m8 0h2m1 0h2m13 0h1m5 0h1m15 0h1m46 0h1m2 0h1m13 0h2m27 0h2m46 0h3m26 0h1m4 0h1m8 0h2m4 0h2m2 0h1m25 0h4m40 0h1M199 4h1m23 0h3m12 0h2m65 0h1m12 0h1m11 0h1m35 0h3m3 0h2m4 0h1m11 0h1m14 0h2m15 0h1m55 0h2m18 0h1m34 0h2m5 0h2m9 0h2m16 0h1m9 0h1m3 0h2m19 0h1m24 0h1m12 0h2m15 0h1m7 0h1m22 0h1m2 0h1m2 0h1m6 0h2m2 0h2m1 0h2m1 0h1m9 0h2M189 5h1m8 0h1m22 0h2m156 0h1m6 0h2m11 0h1m86 0h1m2 0h1m26 0h1m7 0h1m2 0h1m9 0h1m5 0h1m10 0h2m1 0h1m19 0h4m16 0h1m2 0h1m13 0h2m1 0h2m84 0h2M99 6h1m127 0h4m6 0h5M10 7h1m14 0h1m39 0h1m3 0h1m1 0h1m23 0h2m7 0h1m48 0h2m15 0h1m6 0h1m19 0h2m31 0h1m8 0h1m10 0h1m1 0h1m34 0h1m17 0h1m3 0h1m7 0h3m23 0h1m17 0h1m17 0h2m14 0h1m42 0h1m39 0h2M7 8h1m2 0h1m14 0h1m21 0h2m5 0h1m10 0h1m2 0h3m5 0h1m14 0h3m19 0h2m10 0h2m5 0h1m19 0h1m12 0h2m17 0h1m13 0h1m2 0h1m43 0h1m54 0h4M45 9h1m16 0h2m4 0h2m13 0h1m14 0h1m8 0h1m7 0h1m1 0h1m14 0h1m12 0h1m1 0h3m6 0h1m10 0h3m11 0h1m4 0h3m68 0h2m19 0h1m6 0h1m4 0h3m2 0h1m53 0h1m32 0h3M10 10h1m27 0h3m21 0h1m8 0h3m19 0h1m4 0h1m17 0h2m7 0h1m9 0h1m6 0h1m1 0h1m2 0h1m19 0h5m12 0h1m21 0h1m65 0h2m2 0h2m1 0h1m14 0h1m2 0h2m30 0h1m1 0h1m9 0h1m131 0h1m5 0h1m2 0h1m37 0h1M16 11h1m19 0h1m9 0h1m44 0h3m12 0h1m25 0h1m7 0h2m11 0h1m15 0h1m112 0h1"/><path stroke="#f88e6a" d="M35 0h1m12 0h1m34 0h1m42 0h2m1 0h1m3 0h1m2 0h2m6 0h1m6 0h1m18 0h2m2 0h1m28 0h1m173 0h2m57 0h2m16 0h1m49 0h3m9 0h1m17 0h1m7 0h2m3 0h3m1 0h1m9 0h2m30 0h3m2 0h2m13 0h1m7 0h1m6 0h2m10 0h1m14 0h2m8 0h2m34 0h2M21 1h1m37 0h2m27 0h1m5 0h1m15 0h2m18 0h1m34 0h1m18 0h1m18 0h1m66 0h1m21 0h2m12 0h1m12 0h1m10 0h1m40 0h1m6 0h1m8 0h2m5 0h1m7 0h1m3 0h1m5 0h1m20 0h1m29 0h1m10 0h1m12 0h1m6 0h3m3 0h1m43 0h1m26 0h2m9 0h2m11 0h1m11 0h2m3 0h1m4 0h3m9 0h1m3 0h1m7 0h1m2 0h1m3 0h1m14 0h1m1 0h3m7 0h1m4 0h1m9 0h6m4 0h1m4 0h2m3 0h2m2 0h2m1 0h6m13 0h1m1 0h1m5 0h4m10 0h3m12 0h3m14 0h3M42 2h1m4 0h1m127 0h2m6 0h3m7 0h1m79 0h1m95 0h1m130 0h2m12 0h1m12 0h2m27 0h2m44 0h2m20 0h3m9 0h1m55 0h2m11 0h2M95 3h2m2 0h1m100 0h2m73 0h1m84 0h1m5 0h3m1 0h1m3 0h1m4 0h2m12 0h1m2 0h1m11 0h1m24 0h1m7 0h2m3 0h1m38 0h2m12 0h1m2 0h2m5 0h1m11 0h1m41 0h1m22 0h1m1 0h5m5 0h2m12 0h2m3 0h1m29 0h1m23 0h2m8 0h2m3 0h6m3 0h1m7 0h4m7 0h3m6 0h5m1 0h1m2 0h5m4 0h6m3 0h3m1 0h3m3 0h2m3 0h7m1 0h8m3 0h2m1 0h9M219 4h1m6 0h1m52 0h1m17 0h1m11 0h3m17 0h1m33 0h1m12 0h1m3 0h2m9 0h1m1 0h4m5 0h2m92 0h1m3 0h1m6 0h2m28 0h2m3 0h1m7 0h1m2 0h1m4 0h1m7 0h3m1 0h1m7 0h1m11 0h1m33 0h3m3 0h4m1 0h3m6 0h1m1 0h2m3 0h7m10 0h1m3 0h1m2 0h1m1 0h1m5 0h2m6 0h2m6 0h2m1 0h1m6 0h1m4 0h4m1 0h1m12 0h4m7 0h11m5 0h5m2 0h7m1 0h4m9 0h3M190 5h1m37 0h1m306 0h1m4 0h2m22 0h2m5 0h2m26 0h1m9 0h4m3 0h1m6 0h4m9 0h1m1 0h1m5 0h4m7 0h4m15 0h3m24 0h2m11 0h2M161 6h1m347 0h1M28 7h2m3 0h2m1 0h1m6 0h1m6 0h2m2 0h1m13 0h1m24 0h1m16 0h2m1 0h2m16 0h2m19 0h1m9 0h2m21 0h1m2 0h1m5 0h2m33 0h1m12 0h1m4 0h1m8 0h1m39 0h1m17 0h2m15 0h3m2 0h1m60 0h1M16 8h1m16 0h1m2 0h2m18 0h1m3 0h1m38 0h1m5 0h1m4 0h1m24 0h3m21 0h1m3 0h1m18 0h1m20 0h2m5 0h1m7 0h1m24 0h2m38 0h1M11 9h2m13 0h1m2 0h2m42 0h1m28 0h1m6 0h1m32 0h1m10 0h1m7 0h2m10 0h1m3 0h1m17 0h1m6 0h1m16 0h1m20 0h1m23 0h1m5 0h1m11 0h1m3 0h2m8 0h2m9 0h1m11 0h1m75 0h1m1 0h1M25 10h1m7 0h3m17 0h1m3 0h1m7 0h1m9 0h1m11 0h2m34 0h1m5 0h1m1 0h1m1 0h2m5 0h1m2 0h1m4 0h2m1 0h1m13 0h1m9 0h2m13 0h1m16 0h1m42 0h1m8 0h2m9 0h1m11 0h1m8 0h2m9 0h1m16 0h1m4 0h1m1 0h3m38 0h1m92 0h1m3 0h2m4 0h1m6 0h2m5 0h1m4 0h1m92 0h3M40 11h2m6 0h1m6 0h1m1 0h1m19 0h1m4 0h1m22 0h1m1 0h1m27 0h3m14 0h1m2 0h1m1 0h1m13 0h1m7 0h2m216 0h1"/></g><rect x="563.5" y="71" width="1593" height="241" fill="none" stroke="#000" stroke-width="1.5"/>
<g transform="translate(563.7 357.42) scale(2.0008 20.0333)" fill="none" stroke-width="1.02" shape-rendering="crispEdges"><path stroke="#fcfdc0" d="M22 1h1m521 0h1M370 4h1m12 0h2m5 0h2m1 0h1m9 0h2m157 0h2M50 7h2m292 0h3m2 0h1m4 0h1m55 0h4m64 0h3M45 8h1m221 0h1M46 9h3m27 0h1M119 11h1"/><path stroke="#fcf4b6" d="M71 0h2m676 0h1M602 1h1m28 0h1m1 0h1M181 4h1m10 0h1m53 0h1m18 0h1m94 0h4m3 0h1m3 0h4m4 0h4m9 0h1m1 0h1m3 0h1m154 0h3m13 0h1M45 7h1m12 0h1m283 0h2m8 0h2m1 0h1m58 0h2m21 0h2m19 0h1m3 0h1m1 0h1M277 8h2M171 9h1m44 0h1m82 0h3M261 10h1"/><path stroke="#f68066" d="M85 0h1m8 0h1m5 0h1m16 0h2m38 0h1m54 0h2m274 0h1m29 0h1m12 0h1m42 0h1m19 0h1m14 0h1m16 0h1m22 0h2m5 0h1m64 0h1m9 0h1M14 1h1m81 0h1m16 0h2m14 0h1m5 0h1m13 0h2m15 0h1m1 0h1m2 0h1m22 0h1m2 0h1m25 0h2m25 0h2m7 0h1m23 0h3m5 0h1m6 0h2m11 0h2m3 0h1m12 0h3m7 0h1m28 0h1m5 0h3m25 0h1m33 0h1m8 0h1m28 0h2m4 0h2m25 0h2m54 0h1m11 0h1m5 0h1m2 0h1m4 0h1m44 0h2m6 0h1m4 0h1M6 2h1m13 0h2m25 0h1m17 0h2m1 0h3m18 0h1m14 0h1m74 0h1m8 0h1m13 0h1m172 0h1m10 0h1m8 0h1m7 0h2m7 0h1m84 0h1m33 0h1m4 0h1m16 0h3m2 0h2m1 0h2m5 0h1m7 0h1m1 0h2m4 0h2m8 0h2m10 0h1m2 0h3m5 0h2m7 0h1m26 0h1m42 0h1m32 0h1M186 3h1m301 0h1m55 0h1m11 0h1m1 0h2m28 0h1m7 0h2m25 0h3m1 0h1m4 0h1m11 0h1m1 0h1m1 0h2m7 0h1m9 0h2m11 0h1m3 0h1m7 0h1m1 0h3m3 0h2m8 0h1m4 0h2m3 0h4m4 0h3m6 0h4m6 0h1m1 0h3m3 0h6m3 0h2m5 0h2m4 0h2m5 0h1m3 0h6M188 4h1m54 0h1m3 0h1m10 0h1m1 0h1m12 0h1m23 0h1m39 0h1m2 0h1m69 0h1m2 0h2m3 0h1m3 0h1m5 0h2m2 0h2m13 0h1m8 0h1m9 0h1m4 0h5m2 0h1m16 0h2m14 0h1m13 0h1m62 0h1m6 0h1m1 0h1m8 0h1m5 0h1m2 0h1m5 0h1m22 0h2m2 0h7m10 0h4m18 0h1m1 0h3m2 0h2m1 0h1m5 0h1m4 0h2m5 0h1m13 0h2m7 0h1m1 0h3m19 0h4m16 0h3m1 0h1M332 5h1m10 0h1m81 0h3m8 0h1m47 0h2m10 0h2m30 0h1m5 0h3m3 0h3m1 0h1m6 0h1m1 0h2m3 0h2m3 0h1m55 0h1m23 0h3M19 6h1m64 0h5m10 0h1m4 0h1m115 0h1m68 0h1m19 0h1m10 0h1m4 0h1m4 0h1m1 0h2m7 0h1m14 0h2m9 0h1m46 0h1m6 0h3m2 0h1m1 0h4m5 0h1m7 0h3m2 0h1m1 0h1m2 0h2m4 0h1m11 0h1m5 0h2m120 0h1m1 0h1m2 0h2M10 7h1m18 0h2m32 0h1m6 0h2m103 0h1m39 0h1m8 0h1m8 0h1m2 0h1m1 0h1m43 0h2m13 0h1m25 0h2m40 0h4m12 0h2M5 8h1m20 0h1m1 0h2m6 0h2m15 0h1m2 0h2m12 0h2m33 0h2m9 0h1m19 0h1m3 0h1m1 0h2m2 0h2m4 0h2m13 0h1m53 0h1m2 0h1m1 0h2m6 0h2m6 0h1m1 0h2m1 0h1m1 0h1m1 0h1m6 0h2m2 0h2m6 0h2m21 0h1m104 0h1m54 0h1m27 0h1M26 9h1m4 0h1m40 0h1m13 0h2m3 0h1m9 0h1m8 0h1m4 0h1m14 0h1m14 0h1m81 0h1m3 0h1m17 0h1m16 0h1m23 0h1m16 0h1m66 0h1m120 0h1m40 0h2M7 10h3m6 0h1m19 0h2m8 0h2m3 0h1m24 0h1m4 0h1m6 0h1m1 0h1m3 0h1m12 0h2m2 0h3m3 0h1m1 0h2m19 0h2m9 0h1m5 0h1m6 0h2m2 0h3m27 0h1m9 0h1m31 0h1m7 0h1m16 0h1m12 0h2m23 0h2m6 0h1m8 0h1m29 0h1m2 0h1m5 0h1m16 0h1m23 0h1m27 0h1m7 0h1m12 0h1m2 0h1m16 0h1m10 0h1m21 0h1m5 0h1m14 0h1m33 0h1m6 0h1M19 11h1m55 0h1m11 0h1m6 0h1m3 0h1m17 0h1m17 0h1m12 0h1m4 0h2m14 0h1m88 0h1"/><path stroke="#f37162" d="M38 0h2m14 0h4m8 0h1m1 0h1m8 0h1m46 0h1m13 0h1m4 0h1m9 0h1m39 0h2m16 0h1m309 0h2m19 0h1m17 0h1m3 0h1m26 0h1m6 0h2m5 0h1m15 0h1m1 0h3m25 0h2M7 1h1m1 0h1m70 0h1m34 0h1m5 0h1m10 0h1m6 0h2m10 0h1m9 0h1m18 0h1m8 0h2m11 0h1m12 0h1m33 0h1m32 0h1m27 0h1m4 0h1m3 0h1m13 0h1m15 0h1m35 0h1m8 0h2m5 0h1m3 0h1m5 0h2m1 0h2m1 0h1m5 0h2m15 0h3m20 0h1m9 0h1m10 0h1m13 0h2m19 0h1m1 0h2m1 0h2m26 0h2m10 0h1m9 0h1m37 0h2M180 2h1m1 0h3m16 0h1m5 0h1m4 0h3m9 0h1m30 0h1m29 0h1m36 0h1m3 0h2m3 0h1m16 0h2m6 0h2m16 0h1m3 0h1m41 0h1m69 0h1m30 0h2m16 0h1m5 0h1m25 0h1m3 0h1m4 0h2m9 0h1m29 0h1m19 0h3m10 0h1m1 0h1M92 3h1m84 0h1m18 0h1m296 0h1m18 0h1m28 0h2m22 0h1m8 0h1m7 0h2m7 0h1m10 0h1m2 0h1m4 0h1m3 0h2m22 0h1m2 0h3m1 0h1m9 0h1m2 0h1m13 0h2m34 0h2m31 0h2m5 0h1m3 0h3m6 0h3m2 0h5m2 0h4m2 0h1m1 0h1m3 0h3m6 0h2M4 4h1m30 0h1m20 0h1m138 0h2m2 0h2m20 0h1m5 0h1m16 0h1m4 0h1m11 0h1m6 0h1m5 0h1m4 0h1m9 0h2m23 0h1m14 0h2m22 0h2m52 0h1m15 0h2m9 0h2m1 0h3m2 0h2m35 0h2m31 0h1m63 0h2m8 0h2m4 0h1m33 0h1m14 0h1m1 0h1m31 0h3m14 0h2m2 0h1m1 0h2m18 0h1m1 0h8m3 0h2m1 0h2m1 0h1m5 0h2m1 0h11m1 0h4m4 0h7m3 0h3m2 0h1m3 0h1m1 0h9M219 5h2m109 0h2m26 0h2m1 0h1m66 0h3m20 0h1m17 0h1m5 0h1m12 0h1m25 0h2m17 0h1m9 0h1m1 0h1m6 0h1m11 0h1m8 0h1m4 0h2m19 0h2m11 0h1m4 0h2m3 0h2m15 0h2m16 0h1m1 0h1m2 0h1m22 0h1m41 0h2M20 6h1m18 0h1m28 0h1m28 0h2m130 0h1m4 0h2m6 0h3m29 0h3m20 0h1m3 0h2m3 0h1m10 0h2m23 0h1m1 0h2m88 0h1m5 0h3m5 0h2m9 0h2m10 0h1m3 0h2m7 0h2m116 0h1M67 7h1m7 0h1m45 0h1m9 0h1m39 0h1m59 0h2m4 0h1m14 0h1m2 0h1m30 0h1m19 0h2m2 0h1m3 0h1m1 0h1m13 0h1M4 8h1m9 0h1m7 0h1m42 0h2m17 0h1m77 0h1m13 0h1m38 0h1m20 0h1m60 0h1m6 0h1m6 0h1m79 0h1m4 0h2m34 0h1m5 0h2m3 0h1m1 0h1m18 0h1m7 0h2m1 0h1M18 9h1m11 0h1m12 0h1m25 0h1m5 0h1m6 0h2m29 0h2m2 0h2m2 0h2m12 0h1m8 0h1m15 0h1m2 0h4m9 0h1m32 0h1m15 0h1m11 0h2m22 0h1m6 0h2m4 0h2m3 0h2m25 0h1m5 0h1m80 0h1m2 0h1m91 0h1m1 0h1m9 0h1M11 10h1m7 0h1m2 0h1m1 0h2m6 0h2m6 0h2m7 0h2m10 0h1m33 0h1m6 0h1m1 0h1m4 0h1m13 0h2m17 0h1m6 0h2m15 0h2m60 0h2m24 0h1m5 0h1m3 0h1m19 0h2m7 0h1m23 0h1m6 0h1m3 0h1m5 0h1m25 0h5m4 0h1m16 0h1m1 0h2m2 0h2m4 0h1m6 0h1m7 0h1m2 0h3m7 0h2m3 0h2m31 0h1m6 0h2m9 0h1m3 0h2m12 0h2m2 0h3m3 0h3m7 0h3m39 0h2M17 11h1m52 0h2m12 0h1m3 0h1m4 0h1m11 0h2m10 0h1m6 0h1m1 0h2m5 0h1m2 0h1m18 0h1m10 0h2m1 0h2m1 0h1m131 0h1m231 0h2"/><path stroke="#f0635f" d="M50 0h3m22 0h1m5 0h1m4 0h1m12 0h1m7 0h2m4 0h2m1 0h1m20 0h1m1 0h2m5 0h1m1 0h1m21 0h1m3 0h1m30 0h1m102 0h1m192 0h1m1 0h1m16 0h1m26 0h2m20 0h2m29 0h1m21 0h1m30 0h2M6 1h1m53 0h2m19 0h1m3 0h1m6 0h1m53 0h2m7 0h3m4 0h1m14 0h1m30 0h1m38 0h1m4 0h1m3 0h2m6 0h1m5 0h2m22 0h1m11 0h2m29 0h1m22 0h1m61 0h1m14 0h3m29 0h2m5 0h2m7 0h1m31 0h1m2 0h1M37 2h1m29 0h1m17 0h1m9 0h2m12 0h1m77 0h1m1 0h2m6 0h1m8 0h1m46 0h1m47 0h1m77 0h2m7 0h1m17 0h1m6 0h2m120 0h1m4 0h2m4 0h1m18 0h1m8 0h1m64 0h2M214 3h1m16 0h1m267 0h1m2 0h1m22 0h1m24 0h1m25 0h1m7 0h4m10 0h4m19 0h2m3 0h1m1 0h1m5 0h2m11 0h1m26 0h2m104 0h1M3 4h1m40 0h1m20 0h1m123 0h1m26 0h1m2 0h2m14 0h2m16 0h1m26 0h2m4 0h1m4 0h1m3 0h1m20 0h4m8 0h1m7 0h1m18 0h1m70 0h2m2 0h2m9 0h1m7 0h1m12 0h3m29 0h1m14 0h1m65 0h1m8 0h2m10 0h1m6 0h2m6 0h1m1 0h2m14 0h1m8 0h3m1 0h1m3 0h2m9 0h1m20 0h2m2 0h2m1 0h1m14 0h2m2 0h4m3 0h4m1 0h2m15 0h1m2 0h1m8 0h1m11 0h1m15 0h3m3 0h2M23 5h1m210 0h2m17 0h1m71 0h1m3 0h1m16 0h2m76 0h1m16 0h1m5 0h2m8 0h1m8 0h1m1 0h1m1 0h1m3 0h1m6 0h3m2 0h2m1 0h2m55 0h1m13 0h1m4 0h1m3 0h2m11 0h1m10 0h3m6 0h3m4 0h3m15 0h1m1 0h2m3 0h2m5 0h1m8 0h2m6 0h1m25 0h1m8 0h2m11 0h4m24 0h1M30 6h1m9 0h1m25 0h2m1 0h1m21 0h1m1 0h1m73 0h3m28 0h1m15 0h1m25 0h2m18 0h1m37 0h2m13 0h1m17 0h1m11 0h1m21 0h1m44 0h1m25 0h1m20 0h1m8 0h2m1 0h2m12 0h1m5 0h3m26 0h2m10 0h1M6 7h2m52 0h2m3 0h2m9 0h1m67 0h1m13 0h1m2 0h1m8 0h1m2 0h1m56 0h1m9 0h1m5 0h1m13 0h1m65 0h1m58 0h1m17 0h1M8 8h2m24 0h2m15 0h2m7 0h4m9 0h1m4 0h1m2 0h3m25 0h1m1 0h1m3 0h1m1 0h1m6 0h2m7 0h1m10 0h2m9 0h1m9 0h2m5 0h1m5 0h1m39 0h1m3 0h1m27 0h1m13 0h3m5 0h2m41 0h1m30 0h2m51 0h1m16 0h1m5 0h1m17 0h2m25 0h2m7 0h1m2 0h2m3 0h2M0 9h1m7 0h2m9 0h1m4 0h2m16 0h1m15 0h2m30 0h1m14 0h1m28 0h1m5 0h2m28 0h1m7 0h2m25 0h1m42 0h1m2 0h1m8 0h1m4 0h1m4 0h1m23 0h1m8 0h1m7 0h1m46 0h1m9 0h1m38 0h2M6 10h1m19 0h1m7 0h1m47 0h2m5 0h1m16 0h1m3 0h1m3 0h1m10 0h1m2 0h2m1 0h1m16 0h1m5 0h1m1 0h1m2 0h1m16 0h1m12 0h1m2 0h1m11 0h1m13 0h2m19 0h1m4 0h1m14 0h1m16 0h1m15 0h1m3 0h1m34 0h1m6 0h1m5 0h3m1 0h1m3 0h1m2 0h1m2 0h1m14 0h1m7 0h3m12 0h2m8 0h1m7 0h2m6 0h3m35 0h2m4 0h1m9 0h1m6 0h1m23 0h1m16 0h2m42 0h1M5 11h1m12 0h1m4 0h2m40 0h1m6 0h1m8 0h1m9 0h1m9 0h1m71 0h1m23 0h1m60 0h1m15 0h2m15 0h1m2 0h2m1 0h1m248 0h2m31 0h1"/><path stroke="#e85869" d="M63 0h1m19 0h2m30 0h1m16 0h1m1 0h1m7 0h1m12 0h2m2 0h1m12 0h1m2 0h1m33 0h2m145 0h1m183 0h2m23 0h1M1 1h1m6 0h1m42 0h1m3 0h3m8 0h1m11 0h2m6 0h2m13 0h1m17 0h2m2 0h3m10 0h2m7 0h1m32 0h2m1 0h1m9 0h1m1 0h1m18 0h2m4 0h1m6 0h1m1 0h1m1 0h1m16 0h1m8 0h1m9 0h3m46 0h1m13 0h1m5 0h1m5 0h3m1 0h2m7 0h1m4 0h1m28 0h1m8 0h2m11 0h2m23 0h2m13 0h1m8 0h1m12 0h1m14 0h1m13 0h1m47 0h1m17 0h1M38 2h3m3 0h1m28 0h1m1 0h2m21 0h1m4 0h1m2 0h1m1 0h1m90 0h2m9 0h2m5 0h2m27 0h2m6 0h1m31 0h1m38 0h1m39 0h1m15 0h1m2 0h1m11 0h1m8 0h1m89 0h1m36 0h3m7 0h1m6 0h1m46 0h1M180 3h2m1 0h1m9 0h1m7 0h2m8 0h1m20 0h2m95 0h1m162 0h1m5 0h1m8 0h2m12 0h2m22 0h1m2 0h2m2 0h4m5 0h3m11 0h1m60 0h2m14 0h1m3 0h1M22 4h1m17 0h3m166 0h2m37 0h1m5 0h1m1 0h2m11 0h1m8 0h1m130 0h1m40 0h3m57 0h1m63 0h1m16 0h1m1 0h2m35 0h1m3 0h2m26 0h2m9 0h1m6 0h2m2 0h1M185 5h1m63 0h1m68 0h2m21 0h2m1 0h2m11 0h1m62 0h1m16 0h4m5 0h1m2 0h1m21 0h2m3 0h4m15 0h1m80 0h2m3 0h1m7 0h2m1 0h1m8 0h1m18 0h1m3 0h3m1 0h1m7 0h3m17 0h1m16 0h3m3 0h2m9 0h3m4 0h1m3 0h5m4 0h6m6 0h3m8 0h1m1 0h13m1 0h5m1 0h2m1 0h21m4 0h10m1 0h2M38 6h1m50 0h2m1 0h1m67 0h3m7 0h3m85 0h1m12 0h3m6 0h2m6 0h1m18 0h1m4 0h1m27 0h1m19 0h2m12 0h3m15 0h2m4 0h1m2 0h1m25 0h1m26 0h1m3 0h1m9 0h1m5 0h1m36 0h1m5 0h1m11 0h1M18 7h2m2 0h1m39 0h1m32 0h2m22 0h2m24 0h3m4 0h2m13 0h1m85 0h1m14 0h1m16 0h1m14 0h1m7 0h1m4 0h1m1 0h1m53 0h1m1 0h1m11 0h2m4 0h1m6 0h2M110 8h1m15 0h2m23 0h1m2 0h1m1 0h1m89 0h1m8 0h1m28 0h2m16 0h1m9 0h1m74 0h2m28 0h1m16 0h2m6 0h1m11 0h1m2 0h1m8 0h1m10 0h2m3 0h1M4 9h2m11 0h1m4 0h1m37 0h3m39 0h1m45 0h1m55 0h1m47 0h1m3 0h3m3 0h3m6 0h3m9 0h2m1 0h1m17 0h2m4 0h1m3 0h1m2 0h1m42 0h1m11 0h2m4 0h1m161 0h2M20 10h1m21 0h1m10 0h1m1 0h1m9 0h1m2 0h2m3 0h2m43 0h1m7 0h1m57 0h1m45 0h1m10 0h2m6 0h2m29 0h1m9 0h1m3 0h2m6 0h1m7 0h1m18 0h2m1 0h2m1 0h1m6 0h1m6 0h1m1 0h1m2 0h1m10 0h1m18 0h2m25 0h2m8 0h1m7 0h2m14 0h2m3 0h1m2 0h1m4 0h1m6 0h1m2 0h1m1 0h1m13 0h2m29 0h2m21 0h1m1 0h2m14 0h1m9 0h2m6 0h1M4 11h1m6 0h2m19 0h1m80 0h3m19 0h1m4 0h2m7 0h3m2 0h1m10 0h1m8 0h2m92 0h2m1 0h2m19 0h2m11 0h3m246 0h2"/><path stroke="#dd4d76" d="M13 0h1m16 0h1m29 0h2m2 0h1m17 0h1m18 0h1m31 0h1m2 0h1m15 0h1m14 0h1m3 0h1m75 0h1m7 0h1m46 0h1m48 0h1m141 0h1m11 0h2m5 0h1m22 0h3m29 0h1M15 1h1m24 0h1m3 0h1m22 0h1m5 0h2m16 0h1m30 0h1m7 0h1m7 0h1m20 0h2m49 0h1m10 0h2m30 0h1m22 0h2m2 0h2m14 0h1m8 0h1m44 0h1m8 0h1m17 0h1m8 0h1m1 0h2m8 0h2m16 0h1m33 0h2m35 0h1m6 0h1m16 0h3m4 0h1m48 0h1M4 2h2m10 0h1m17 0h3m15 0h1m18 0h1m5 0h3m19 0h1m12 0h2m44 0h1m18 0h1m3 0h1m4 0h1m5 0h1m16 0h1m26 0h1m22 0h1m13 0h1m22 0h1m1 0h1m17 0h1m6 0h1m9 0h1m18 0h1m10 0h1m5 0h1m1 0h2m10 0h1m32 0h1m43 0h2m36 0h2m5 0h2m1 0h1m5 0h4m19 0h1m22 0h1M252 3h1m2 0h1m72 0h1m80 0h1m84 0h2m7 0h1m15 0h1m17 0h1m8 0h1m13 0h1m3 0h1m14 0h1m73 0h2M7 4h2m12 0h1m21 0h1m7 0h2m141 0h1m13 0h1m43 0h1m18 0h2m135 0h1m45 0h1m123 0h2m22 0h1m2 0h1m30 0h2m18 0h1m7 0h1M41 5h1m154 0h1m12 0h1m13 0h1m49 0h1m62 0h1m69 0h1m7 0h2m5 0h1m9 0h1m12 0h2m8 0h3m4 0h3m1 0h1m27 0h2m27 0h2m13 0h2m29 0h1m18 0h1m3 0h1m22 0h3m14 0h1m15 0h3m2 0h1m2 0h1m4 0h2m1 0h1m13 0h2m2 0h3m2 0h4m5 0h2m1 0h3m17 0h4m3 0h2m2 0h4m15 0h1m5 0h1m2 0h1m21 0h4m10 0h1M12 6h1m2 0h3m29 0h2m12 0h2m2 0h1m13 0h1m79 0h1m5 0h2m18 0h1m20 0h1m1 0h1m27 0h1m42 0h1m6 0h2m7 0h2m31 0h1m10 0h1m11 0h5m40 0h2m9 0h1m120 0h1m7 0h2m9 0h2m21 0h1m105 0h3M4 7h2m14 0h1m4 0h1m13 0h1m33 0h2m5 0h1m45 0h1m5 0h1m4 0h1m4 0h2m20 0h3m7 0h1m73 0h1m10 0h1m11 0h1m26 0h2m19 0h1m66 0h2m2 0h1m10 0h1m3 0h1m1 0h2M6 8h2m12 0h1m48 0h1m15 0h1m6 0h1m11 0h1m13 0h1m1 0h1m20 0h1m7 0h2m24 0h1m18 0h1m2 0h1m97 0h2m1 0h1m18 0h1m16 0h1m19 0h2m2 0h1m7 0h1m1 0h1m54 0h2m8 0h1m3 0h1m17 0h1m9 0h1m8 0h1m8 0h1M13 9h2m1 0h1m19 0h2m11 0h1m2 0h1m3 0h1m8 0h1m1 0h1m2 0h2m35 0h1m41 0h2m10 0h1m6 0h2m5 0h1m4 0h1m13 0h1m2 0h1m69 0h1m24 0h2m8 0h1m59 0h1m2 0h2m27 0h2m129 0h1m8 0h1M48 10h1m23 0h1m85 0h1m16 0h1m4 0h2m30 0h1m20 0h1m12 0h1m28 0h1m33 0h1m6 0h1m8 0h1m14 0h2m5 0h1m22 0h3m2 0h1m27 0h2m14 0h2m12 0h1m1 0h1m7 0h1m7 0h1m5 0h1m1 0h1m15 0h1m3 0h1m18 0h2m3 0h1m35 0h1m20 0h1m8 0h2M14 11h1m21 0h2m14 0h1m1 0h1m24 0h2m8 0h1m12 0h2m7 0h1m47 0h1m3 0h2m116 0h1m14 0h1m1 0h2m8 0h4m95 0h2m83 0h1m19 0h1m40 0h1m11 0h1m2 0h1m12 0h1"/><path stroke="#cf4487" d="M6 0h4m21 0h1m27 0h1m9 0h1m39 0h1m9 0h2m23 0h1m23 0h1m4 0h1m109 0h2m41 0h2m72 0h1m90 0h2m3 0h1m2 0h1m13 0h1m13 0h1m5 0h2M34 1h1m1 0h1m6 0h1m40 0h1m15 0h1m7 0h1m25 0h1m17 0h2m49 0h3m24 0h1m27 0h1m3 0h2m9 0h1m1 0h1m12 0h1m12 0h1m2 0h1m99 0h1m2 0h2m38 0h2m13 0h1m28 0h3m12 0h1m16 0h1m41 0h1M27 2h2m19 0h1m7 0h2m2 0h1m22 0h2m3 0h1m4 0h2m10 0h1m1 0h1m8 0h1m23 0h2m43 0h1m8 0h3m6 0h3m16 0h2m4 0h1m38 0h1m2 0h1m37 0h3m28 0h2m4 0h1m24 0h1m5 0h1m5 0h1m26 0h2m4 0h1m3 0h1m1 0h1m1 0h1m77 0h1m1 0h2m4 0h1m1 0h1m1 0h1m9 0h1m14 0h1M79 3h2m54 0h1m43 0h1m15 0h1m4 0h1m11 0h1m8 0h2m17 0h1m8 0h3m40 0h1m19 0h2m12 0h1m71 0h2m49 0h1m31 0h2m13 0h1m7 0h2m12 0h1m1 0h1m17 0h2m40 0h2M9 4h1m5 0h1m13 0h1m4 0h1m36 0h1m131 0h1m2 0h1m18 0h2m280 0h1m72 0h2m41 0h1m45 0h1M20 5h1m159 0h1m3 0h1m7 0h1m21 0h1m13 0h3m6 0h2m7 0h2m85 0h1m1 0h1m13 0h3m4 0h1m3 0h1m42 0h1m9 0h1m29 0h1m20 0h1m2 0h1m5 0h1m43 0h1m6 0h1m41 0h2m20 0h1m18 0h2m4 0h1m7 0h1m31 0h2m9 0h1m11 0h1m39 0h2M13 6h2m8 0h3m3 0h1m15 0h2m36 0h1m92 0h3m10 0h1m3 0h1m13 0h1m1 0h2m26 0h1m10 0h1m28 0h2m11 0h1m2 0h1m6 0h1m34 0h1m32 0h1m9 0h3m19 0h1m5 0h1m1 0h2m92 0h1m7 0h1m15 0h1m13 0h1m13 0h2m15 0h1m9 0h1m39 0h2m9 0h3m23 0h1M8 7h2m23 0h1m44 0h2m1 0h2m3 0h1m2 0h1m11 0h1m25 0h1m2 0h1m5 0h1m12 0h1m1 0h1m115 0h1m25 0h1m64 0h2m3 0h2m7 0h2m1 0h2m11 0h1m6 0h1m22 0h1m3 0h1M18 8h1m21 0h3m6 0h2m23 0h1m14 0h3m43 0h1m1 0h2m18 0h1m5 0h2m145 0h1m26 0h1m7 0h1m15 0h2m2 0h1m23 0h1m28 0h1m9 0h4m24 0h1m1 0h1m33 0h1M20 9h1m23 0h1m61 0h1m1 0h2m18 0h2m12 0h2m7 0h1m40 0h1m6 0h1m6 0h1m3 0h2m12 0h1m3 0h2m5 0h2m6 0h5m11 0h1m16 0h1m8 0h1m22 0h1m4 0h1m14 0h1m15 0h4m19 0h1m1 0h1m6 0h1m4 0h1m4 0h1m10 0h1m1 0h1m1 0h1m62 0h1m70 0h1m18 0h2m4 0h1M52 10h1m5 0h2m7 0h1m64 0h1m41 0h1m3 0h2m10 0h2m13 0h1m49 0h1m1 0h1m14 0h2m7 0h1m9 0h1m15 0h1m6 0h1m42 0h1m20 0h3m13 0h2m29 0h1m16 0h1m1 0h1m10 0h2m20 0h2m9 0h1m8 0h1m20 0h1m17 0h2m4 0h1m32 0h1m5 0h1M3 11h1m4 0h1m1 0h1m2 0h1m2 0h1m10 0h3m3 0h1m11 0h1m5 0h1m3 0h1m22 0h1m13 0h1m17 0h1m17 0h2m2 0h1m15 0h1m34 0h1m9 0h2m13 0h1m32 0h1m14 0h1m13 0h1m6 0h2m67 0h1m20 0h1m121 0h3m1 0h1m6 0h2m8 0h1m2 0h1m6 0h1m19 0h2m18 0h1"/><path stroke="#bd3c9d" d="M12 0h1m16 0h1m59 0h1m31 0h2m92 0h1m7 0h1m4 0h3m18 0h1m3 0h1m38 0h1m64 0h1m17 0h2m49 0h2m62 0h1m4 0h1m13 0h1m28 0h2m11 0h2m15 0h1M5 1h1m46 0h1m12 0h1m11 0h1m11 0h2m4 0h1m14 0h1m22 0h1m29 0h1m12 0h1m40 0h1m1 0h1m11 0h1m7 0h2m2 0h1m4 0h1m5 0h1m5 0h2m16 0h1m16 0h1m4 0h1m66 0h1m122 0h1m6 0h1m11 0h1M9 2h1m13 0h3m15 0h2m59 0h1m7 0h1m6 0h2m23 0h2m4 0h2m14 0h1m13 0h1m36 0h1m5 0h1m5 0h1m1 0h2m1 0h3m7 0h3m3 0h1m2 0h2m9 0h1m11 0h1m17 0h1m6 0h2m10 0h1m1 0h1m3 0h2m19 0h1m11 0h1m7 0h1m1 0h3m14 0h1m19 0h1m9 0h1m18 0h2m8 0h1m6 0h1m13 0h1m1 0h1m5 0h1m21 0h1m6 0h1m7 0h1m4 0h1m12 0h1M70 3h1m7 0h1m39 0h1m30 0h3m35 0h2m3 0h1m10 0h2m8 0h1m32 0h2m58 0h2m19 0h1m10 0h1m31 0h3m30 0h2m45 0h1m9 0h2m14 0h3m18 0h1m42 0h1m6 0h1m18 0h1m2 0h2M13 4h2m1 0h1m31 0h2m5 0h1m1 0h1m5 0h2m14 0h2m14 0h3m106 0h1m248 0h1m146 0h2m20 0h1m48 0h2M34 5h1m2 0h2m9 0h1m47 0h1m61 0h1m19 0h2m3 0h1m9 0h1m16 0h3m4 0h2m17 0h1m52 0h2m31 0h1m32 0h1m94 0h1m7 0h1m21 0h1m25 0h3m7 0h1m3 0h2m17 0h1m10 0h1m46 0h2m6 0h2m35 0h1M11 6h1m19 0h1m5 0h1m5 0h1m15 0h2m84 0h2m32 0h3m2 0h1m26 0h3m9 0h3m2 0h1m20 0h2m3 0h1m1 0h1m4 0h3m1 0h3m37 0h1m20 0h2m31 0h1m6 0h1m2 0h1m11 0h3m2 0h2m6 0h2m6 0h1m100 0h1m23 0h1m10 0h2m40 0h1m32 0h2m4 0h2m31 0h2m3 0h1m1 0h2m4 0h7m18 0h2m11 0h3m74 0h1M0 7h1m12 0h2m11 0h1m70 0h3m8 0h2m1 0h3m4 0h1m3 0h3m29 0h1m92 0h1m17 0h1m3 0h1m2 0h1m105 0h1m21 0h1m1 0h1m202 0h2M43 8h2m114 0h1m33 0h1m16 0h2m1 0h1m100 0h1m3 0h2m15 0h1m31 0h1m13 0h1m4 0h1m5 0h2m25 0h3m4 0h2m16 0h1m4 0h3m19 0h1m52 0h2m23 0h4m43 0h1M1 9h1m26 0h1m37 0h1m7 0h1m17 0h1m11 0h1m53 0h1m15 0h1m6 0h1m5 0h3m10 0h1m7 0h1m13 0h1m31 0h1m22 0h2m37 0h1m31 0h1m26 0h1m6 0h2m8 0h1m24 0h2m43 0h2m2 0h1m54 0h2m29 0h2m4 0h2M27 10h3m13 0h2m18 0h1m15 0h2m114 0h2m6 0h1m16 0h1m16 0h2m76 0h1m11 0h1m15 0h1m12 0h1m20 0h1m76 0h1m34 0h2m22 0h2m4 0h1m26 0h2m10 0h2m1 0h1m9 0h2m3 0h1m23 0h5m61 0h1m8 0h2m16 0h4M15 11h1m4 0h2m16 0h2m4 0h1m4 0h2m12 0h1m18 0h2m6 0h1m39 0h2m46 0h1m12 0h1m13 0h1m3 0h1m3 0h1m8 0h1m36 0h2m4 0h3m49 0h1m1 0h1m81 0h1m33 0h1m1 0h1m12 0h1m28 0h1m28 0h2m8 0h2m14 0h2m2 0h2m5 0h1m18 0h1m4 0h2m16 0h1m4 0h2m5 0h2m75 0h1"/><path stroke="#ac34b0" d="M76 0h1m19 0h2m4 0h1m27 0h2m15 0h1m21 0h1m47 0h2m5 0h1m13 0h1m7 0h1m38 0h1m5 0h1m11 0h2m10 0h1m1 0h2m6 0h1m12 0h2m10 0h1m3 0h2m65 0h1m3 0h1m71 0h1m2 0h1m3 0h1m18 0h1M33 1h1m3 0h3m5 0h1m7 0h1m8 0h3m3 0h5m2 0h1m12 0h1m20 0h1m1 0h1m120 0h2m40 0h1m4 0h1m9 0h1m13 0h1m61 0h2m143 0h1M1 2h1m13 0h1m1 0h1m25 0h1m5 0h3m1 0h1m7 0h2m1 0h1m67 0h1m6 0h1m10 0h2m7 0h1m14 0h1m33 0h1m11 0h1m10 0h1m13 0h1m30 0h2m4 0h1m1 0h1m2 0h1m3 0h1m5 0h1m8 0h2m7 0h1m4 0h2m2 0h1m7 0h1m8 0h1m11 0h2m12 0h2m22 0h1m16 0h1m2 0h1m13 0h1m2 0h2m3 0h1m20 0h1m3 0h1m53 0h1m11 0h1M8 3h1m32 0h3m37 0h1m35 0h1m57 0h1m31 0h1m12 0h1m2 0h4m16 0h1m10 0h1m29 0h1m11 0h2m17 0h1m9 0h1m25 0h2m3 0h1m21 0h1m27 0h1m18 0h2m3 0h1m5 0h1m14 0h1m7 0h1m63 0h1m27 0h1m15 0h1M33 4h1m26 0h3m7 0h1m58 0h1m2 0h1m2 0h1m4 0h2m63 0h1M7 5h3m4 0h1m17 0h2m6 0h1m19 0h2m60 0h2m32 0h2m1 0h1m9 0h1m25 0h1m1 0h1m4 0h4m7 0h1m28 0h2m6 0h3m10 0h1m2 0h2m8 0h1m5 0h1m8 0h1m6 0h2m4 0h5m11 0h2m4 0h2m6 0h1m57 0h2m6 0h1m98 0h3m2 0h2m3 0h2m2 0h1m11 0h1m70 0h1m68 0h4M21 6h1m4 0h3m7 0h1m7 0h1m25 0h1m6 0h1m46 0h1m3 0h2m8 0h1m8 0h1m25 0h1m20 0h1m6 0h2m18 0h2m8 0h3m18 0h2m1 0h1m12 0h2m12 0h2m7 0h2m1 0h1m67 0h3m23 0h2m13 0h1m1 0h1m80 0h3m8 0h1m47 0h1m6 0h2m2 0h2m8 0h1m11 0h2m4 0h1m6 0h1m31 0h3m3 0h2m10 0h2m3 0h6m2 0h1m1 0h1m4 0h1m18 0h10m2 0h5m2 0h4m3 0h1m9 0h3m1 0h4m2 0h8m1 0h33m2 0h4m4 0h2m1 0h15M3 7h1m7 0h2m21 0h2m2 0h1m51 0h2m1 0h2m5 0h1m1 0h1m7 0h1m3 0h2m90 0h1m51 0h1m5 0h1m1 0h1m93 0h3m14 0h1m1 0h2m13 0h1m21 0h2m2 0h1m191 0h2M13 8h1m3 0h1m61 0h2m40 0h3m79 0h1m79 0h1m21 0h3m21 0h3m4 0h1m1 0h1m9 0h2m2 0h1m17 0h1m9 0h1m21 0h1m2 0h1m9 0h1m9 0h1m10 0h1m15 0h1m16 0h2m65 0h1m43 0h2m61 0h2M84 9h2m12 0h1m84 0h2m8 0h1m9 0h1m8 0h2m6 0h1m2 0h1m16 0h3m10 0h1m1 0h1m53 0h1m5 0h1m13 0h2m30 0h1m2 0h1m5 0h1m13 0h1m68 0h1m11 0h1m1 0h1m11 0h2m76 0h1m10 0h1m5 0h1m8 0h1m12 0h1m56 0h2m17 0h3M54 10h1m9 0h1m1 0h1m25 0h1m90 0h1m4 0h1m24 0h1m7 0h2m2 0h3m4 0h1m3 0h1m45 0h1m25 0h1m3 0h2m25 0h1m151 0h1m34 0h1m21 0h4m32 0h2m2 0h2m6 0h4m56 0h1m7 0h2m1 0h7m10 0h2m14 0h1m12 0h3m16 0h2m13 0h2m3 0h4m1 0h1m16 0h3m2 0h2M22 11h1m3 0h1m77 0h1m3 0h1m75 0h3m3 0h1m4 0h2m1 0h2m3 0h2m1 0h1m3 0h1m5 0h1m10 0h1m5 0h1m30 0h1m14 0h2m21 0h1m17 0h2m37 0h1m4 0h1m9 0h1m11 0h2m8 0h2m8 0h1m36 0h1m22 0h1m7 0h2m9 0h2m1 0h1m42 0h3m25 0h1m3 0h1m18 0h1m1 0h1m20 0h2m2 0h3m9 0h5m18 0h2m31 0h1m6 0h1m7 0h1m7 0h1m2 0h4m8 0h2m14 0h1m11 0h6m8 0h2m2 0h4m8 0h9m4 0h6"/><path stroke="#9a2cc2" d="M10 0h2m24 0h2m107 0h1m75 0h1m26 0h1m1 0h2m41 0h1m1 0h1m15 0h1m1 0h1m2 0h1m15 0h2m6 0h1m18 0h1m2 0h3m4 0h2m2 0h1m6 0h1m14 0h1m5 0h1m1 0h2m14 0h1m82 0h1m5 0h1m5 0h2m10 0h1M49 1h1m4 0h1m38 0h2m121 0h1m3 0h1m23 0h2m51 0h1M3 2h1m4 0h1m23 0h2m20 0h2m2 0h1m13 0h1m38 0h1m43 0h1m1 0h1m5 0h1m1 0h2m9 0h1m16 0h1m41 0h1m13 0h2m7 0h1m1 0h2m4 0h1m1 0h2m10 0h1m24 0h1m6 0h1m16 0h2m6 0h1m13 0h1m3 0h1m38 0h1m3 0h1m31 0h2m2 0h2m3 0h1m2 0h1m5 0h1m2 0h2m17 0h1m3 0h2m1 0h3m9 0h1m20 0h1m55 0h2M7 3h1m32 0h1m31 0h2m24 0h1m5 0h1m10 0h1m9 0h3m71 0h1m10 0h1m6 0h1m12 0h1m6 0h2m14 0h1m57 0h1m12 0h1m16 0h1m3 0h1m11 0h1m11 0h1m49 0h2m6 0h3m1 0h2m9 0h2m1 0h1m12 0h1m12 0h2m14 0h1m3 0h1m76 0h1M1 4h1m21 0h1m12 0h2m9 0h1m19 0h1m13 0h1m10 0h1m35 0h1m13 0h1m8 0h1m13 0h2m23 0h1m6 0h1m472 0h1M6 5h1m40 0h1m1 0h2m5 0h2m12 0h1m1 0h2m4 0h2m27 0h1m4 0h2m3 0h2m9 0h2m44 0h1m2 0h1m10 0h1m1 0h2m2 0h1m20 0h1m15 0h1m16 0h1m15 0h2m5 0h1m6 0h4m5 0h2m3 0h4m1 0h1m2 0h1m8 0h1m30 0h1m7 0h1m31 0h1m9 0h2m2 0h2m6 0h1m8 0h2m6 0h1m14 0h2m62 0h1m12 0h2m67 0h1M10 6h1m11 0h1m18 0h1m9 0h2m21 0h3m33 0h3m31 0h1m10 0h2m1 0h1m15 0h1m15 0h2m3 0h1m7 0h1m66 0h1m87 0h1m11 0h4m10 0h2m18 0h1m8 0h1m82 0h1m7 0h2m6 0h1m30 0h1m33 0h1m4 0h2m4 0h1m1 0h1m1 0h1m3 0h2m1 0h2m16 0h2m17 0h1m2 0h2m2 0h3m9 0h1m6 0h3m7 0h4m3 0h1m17 0h2m8 0h9m3 0h1m4 0h2m8 0h1m33 0h2m4 0h4M2 7h1m12 0h1m5 0h1m14 0h2m67 0h1m19 0h1m15 0h1m21 0h1m43 0h1m5 0h1m13 0h1m99 0h1m42 0h1m35 0h1m17 0h1m4 0h1m170 0h2m2 0h1m2 0h1m6 0h2m20 0h1m10 0h1m1 0h1M195 8h1m2 0h2m4 0h2m1 0h3m90 0h2m6 0h1m31 0h1m1 0h1m1 0h1m5 0h1m2 0h1m17 0h2m3 0h1m2 0h1m5 0h1m8 0h1m9 0h1m4 0h1m3 0h1m32 0h3m125 0h1m4 0h1m4 0h3m4 0h1m8 0h2m39 0h2m27 0h1M81 9h1m100 0h1m12 0h2m1 0h1m15 0h1m35 0h1m72 0h3m11 0h1m21 0h1m3 0h1m7 0h1m7 0h2m4 0h1m14 0h1m8 0h2m3 0h1m1 0h1m66 0h2m39 0h1m4 0h1m12 0h1m21 0h1m2 0h1m1 0h2m4 0h1m45 0h2m14 0h2m2 0h1m5 0h1m10 0h1m21 0h1m3 0h1m2 0h1m4 0h4m6 0h3m4 0h1m4 0h1m16 0h1m2 0h1m1 0h1m4 0h4m3 0h1m13 0h2m9 0h2m10 0h1m8 0h1M56 10h2m119 0h1m9 0h1m18 0h1m9 0h1m14 0h1m51 0h1m14 0h2m37 0h1m179 0h1m15 0h2m17 0h2m26 0h1m5 0h2m3 0h1m54 0h2m7 0h1m1 0h1m4 0h2m10 0h1m3 0h1m4 0h1m2 0h4m9 0h1m1 0h12m3 0h2m2 0h8m1 0h1m1 0h1m2 0h7m3 0h3m2 0h3m4 0h1m1 0h16m3 0h2m2 0h10m3 0h2M6 11h2m1 0h1m24 0h2m4 0h1m2 0h1m12 0h2m15 0h2m102 0h1m11 0h1m17 0h1m3 0h1m5 0h3m1 0h1m12 0h1m4 0h1m21 0h1m20 0h1m41 0h1m3 0h1m4 0h3m14 0h1m3 0h1m10 0h2m25 0h2m1 0h1m2 0h3m15 0h1m30 0h1m14 0h2m30 0h1m2 0h3m4 0h1m6 0h1m9 0h1m2 0h2m18 0h1m5 0h3m8 0h2m4 0h1m3 0h1m2 0h1m26 0h1m1 0h2m7 0h3m17 0h1m8 0h2m3 0h6m26 0h6m1 0h7m1 0h7m1 0h2m4 0h8m2 0h2m1 0h11m1 0h11m6 0h8m2 0h2m4 0h8m9 0h4m8 0h2"/><path stroke="#8727c6" d="M48 0h1m38 0h1m5 0h1m68 0h1m56 0h2m6 0h1m3 0h1m5 0h1m3 0h2m11 0h1m4 0h1m4 0h1m29 0h1m1 0h1m3 0h2m4 0h1m15 0h1m1 0h1m18 0h1m4 0h1m4 0h1m23 0h1m3 0h1m14 0h1m5 0h1m8 0h2m7 0h1m8 0h1m77 0h1m2 0h2m33 0h1M13 1h1m18 0h1m8 0h2m15 0h2m22 0h2m144 0h1m12 0h2M7 2h1m3 0h4m3 0h2m6 0h1m19 0h1m74 0h3m4 0h2m6 0h3m5 0h1m9 0h1m1 0h1m3 0h1m9 0h4m1 0h1m15 0h1m24 0h1m20 0h2m32 0h2m2 0h1m2 0h2m34 0h1m4 0h1m16 0h1m29 0h1m20 0h1m4 0h2m6 0h2m20 0h1m1 0h1m7 0h1m4 0h2m5 0h4m1 0h1m3 0h1m13 0h1m3 0h1m4 0h1m7 0h3m1 0h1M15 3h2m43 0h3m3 0h1m2 0h1m46 0h1m19 0h1m23 0h2m10 0h1m18 0h1m14 0h1m1 0h2m5 0h1m18 0h2m5 0h2m1 0h1m3 0h1m34 0h1m7 0h1m9 0h2m1 0h2m2 0h3m3 0h1m7 0h1m10 0h1m2 0h2m1 0h2m1 0h2m3 0h1m5 0h3m24 0h1m2 0h1m16 0h1m4 0h1m8 0h1m2 0h1m19 0h2m13 0h1m2 0h3m4 0h2m6 0h1m3 0h2m7 0h2m4 0h2m9 0h2m7 0h3m12 0h1m4 0h1m3 0h4M0 4h1m19 0h1m3 0h2m5 0h2m17 0h1m7 0h2m8 0h1m17 0h1m17 0h1m8 0h2m19 0h1m25 0h1m2 0h2M18 5h2m2 0h1m1 0h1m3 0h1m14 0h2m8 0h1m11 0h2m2 0h1m1 0h1m26 0h3m5 0h1m4 0h1m9 0h1m5 0h1m4 0h1m21 0h1m11 0h2m4 0h2m15 0h1m17 0h1m13 0h2m1 0h1m7 0h1m22 0h1m1 0h1m10 0h1m5 0h2m7 0h3m52 0h2m33 0h1m7 0h1m2 0h1m11 0h2m3 0h1m7 0h2m5 0h3m84 0h1m22 0h2M18 6h1m13 0h2m1 0h1m13 0h2m2 0h3m22 0h1m30 0h1m8 0h1m14 0h2m13 0h1m14 0h2m27 0h1m4 0h1m6 0h2m24 0h1m7 0h1m6 0h1m11 0h1m141 0h1m11 0h2m100 0h2m1 0h1m24 0h2m1 0h1m20 0h1m6 0h1m1 0h3m8 0h3m5 0h3m19 0h2m9 0h2m3 0h1m3 0h1m1 0h2M83 7h3m6 0h1m14 0h1m8 0h1m21 0h1m9 0h1m79 0h1m32 0h1m142 0h1m16 0h1m1 0h1m175 0h1m17 0h2m3 0h1m2 0h2m18 0h1m2 0h1m17 0h2m2 0h4m4 0h1m1 0h2m6 0h2m2 0h4M139 8h1m40 0h1m8 0h3m107 0h1m16 0h1m11 0h1m3 0h2m25 0h1m3 0h2m4 0h1m4 0h2m2 0h1m4 0h1m6 0h1m10 0h1m4 0h1m7 0h1m44 0h1m26 0h1m2 0h2m26 0h1m11 0h1m39 0h2m12 0h1m15 0h1m22 0h1m48 0h3M190 9h2m29 0h1m11 0h2m96 0h1m11 0h1m6 0h2m67 0h4m10 0h3m18 0h1m15 0h1m43 0h1m11 0h1m49 0h1m3 0h2m2 0h2m2 0h1m5 0h2m2 0h1m3 0h3m12 0h2m4 0h1m11 0h2m5 0h2m2 0h1m5 0h1m3 0h2m1 0h1m15 0h5m5 0h2m1 0h4m4 0h1m3 0h2m3 0h4m1 0h4m1 0h3m2 0h11m1 0h2m1 0h1m1 0h2m6 0h3m1 0h13m2 0h9m2 0h10m1 0h8m1 0h1M199 10h2m16 0h1m16 0h2m16 0h1m239 0h3m32 0h1m2 0h1m4 0h1m46 0h2m21 0h1m35 0h2m2 0h1m2 0h2m4 0h1m22 0h1m2 0h1m11 0h1m25 0h2m8 0h1m1 0h1m10 0h3m47 0h3M41 11h1m11 0h1m104 0h1m28 0h2m3 0h1m7 0h1m13 0h2m7 0h1m4 0h3m17 0h1m24 0h1m2 0h1m6 0h3m27 0h2m1 0h1m8 0h1m16 0h1m6 0h1m20 0h1m2 0h1m11 0h1m5 0h1m10 0h1m2 0h1m30 0h1m7 0h2m2 0h2m4 0h1m4 0h1m7 0h2m12 0h2m19 0h1m2 0h3m6 0h1m7 0h2m6 0h1m11 0h1m15 0h1m7 0h1m16 0h1m1 0h1m11 0h2m8 0h2m17 0h1m1 0h1m4 0h8m12 0h2m17 0h4m43 0h1m72 0h2"/><path stroke="#fdeaad" d="M20 0h1m156 0h1m14 0h1m554 0h1M20 1h2m6 0h2m144 0h1m182 0h1m13 0h3m6 0h1m122 0h1m39 0h1m46 0h1m66 0h1M358 4h2m4 0h3m2 0h1m7 0h2m10 0h1m10 0h1m4 0h1m158 0h1m3 0h1m1 0h1M0 6h1m1 0h1M53 7h1m293 0h2m1 0h1m5 0h2m76 0h1m22 0h1m1 0h1M88 9h1m34 0h1m23 0h1m4 0h2m61 0h1m1 0h2M99 10h3M118 11h1"/><path stroke="#7225b8" d="M1 0h3m11 0h1m33 0h1m38 0h1m137 0h1m5 0h1m3 0h1m2 0h2m2 0h3m6 0h1m7 0h1m4 0h1m4 0h4m47 0h1m9 0h1m5 0h1m9 0h1m26 0h1m3 0h2m2 0h2m22 0h1m8 0h1m7 0h2m69 0h1m29 0h2m20 0h1M0 1h1m1 0h1m32 0h1m12 0h1m237 0h1M29 2h3m13 0h1m55 0h1m23 0h3m3 0h1m1 0h1m1 0h1m11 0h1m4 0h1m8 0h2m4 0h1m58 0h1m30 0h1m5 0h2m23 0h3m37 0h1m5 0h2m10 0h2m69 0h2m21 0h2m8 0h1m15 0h1m13 0h1M35 3h5m27 0h1m21 0h2m8 0h1m13 0h2m6 0h1m2 0h1m17 0h2m4 0h1m13 0h1m7 0h1m47 0h2m16 0h1m48 0h1m3 0h1m3 0h1m26 0h2m9 0h2m2 0h1m32 0h1m4 0h1m7 0h2m1 0h2m16 0h1m8 0h3m1 0h1m7 0h2m21 0h3m5 0h1m10 0h1m2 0h2m60 0h1m1 0h1M30 4h1m42 0h2m15 0h1m24 0h1m1 0h2m7 0h2m2 0h2m1 0h1m14 0h2m2 0h1m14 0h1M1 5h1m2 0h1m5 0h1m5 0h1m8 0h3m8 0h1m21 0h2m7 0h1m29 0h1m7 0h1m2 0h3m3 0h3m2 0h2m4 0h2m3 0h2m7 0h3m1 0h1m4 0h1m1 0h2m12 0h2m2 0h1m13 0h1m23 0h1m9 0h1m8 0h3m16 0h2m8 0h1m4 0h1m2 0h1m9 0h1m4 0h1m8 0h1m14 0h2m20 0h2m27 0h1m13 0h3m5 0h1m8 0h1m3 0h1m10 0h1m5 0h1m2 0h2m93 0h1M5 6h1m28 0h1m21 0h1m57 0h2m7 0h1m1 0h3m11 0h2m11 0h2m28 0h2m2 0h3m37 0h2m18 0h1m12 0h1m241 0h1m6 0h2m11 0h3m25 0h3m8 0h1m2 0h2m8 0h1m15 0h1m8 0h1m29 0h1M140 7h1m121 0h2m304 0h1m47 0h1m15 0h1m4 0h2m2 0h4m1 0h1m27 0h1m4 0h1m16 0h1M68 8h1m89 0h1m28 0h2m7 0h1m9 0h1m5 0h1m79 0h1m32 0h1m15 0h1m9 0h1m25 0h1m4 0h1m1 0h1m10 0h1m7 0h1m3 0h2m1 0h1m1 0h1m74 0h1m3 0h1m19 0h1m10 0h1m3 0h1m12 0h4m17 0h1m4 0h1m2 0h1m3 0h1m5 0h1m3 0h1m5 0h1m5 0h2m1 0h2m6 0h1m8 0h5m4 0h1m8 0h1m3 0h1m2 0h2m4 0h3m19 0h3m12 0h1m13 0h1M78 9h2m97 0h1m24 0h1m4 0h1m22 0h1m91 0h1m79 0h1m22 0h1m1 0h1m1 0h1m2 0h1m28 0h1m7 0h1m11 0h2m2 0h3m35 0h1m41 0h1m5 0h2m5 0h2m6 0h2m1 0h1m7 0h1m7 0h2m2 0h5m1 0h2m7 0h3m12 0h2m3 0h2m2 0h4m8 0h5m1 0h6m9 0h3m34 0h2m19 0h2M207 10h1m128 0h1m158 0h2m32 0h1m14 0h1m33 0h2m30 0h2m31 0h2m5 0h4m4 0h1m2 0h1m17 0h1m1 0h2m7 0h2M58 11h2m141 0h2m9 0h1m18 0h1m3 0h1m6 0h2m1 0h1m4 0h1m3 0h1m7 0h1m38 0h1m16 0h1m12 0h1m8 0h1m2 0h1m14 0h1m3 0h1m12 0h2m17 0h1m8 0h2m4 0h2m2 0h3m1 0h2m3 0h1m9 0h1m1 0h1m3 0h2m13 0h1m1 0h2m3 0h1m8 0h2m9 0h1m14 0h2m6 0h1m11 0h3m9 0h1m1 0h1m18 0h2m25 0h1m4 0h1m5 0h1m9 0h1m5 0h1m12 0h1m1 0h2m8 0h1m1 0h3m11 0h1m8 0h1m3 0h1m1 0h1m1 0h3m1 0h5m1 0h2"/><path stroke="#5e23a8" d="M26 0h1m5 0h4m17 0h1m171 0h1m35 0h2m18 0h1m6 0h1m16 0h1m1 0h1m1 0h2m1 0h1m1 0h1m8 0h1m5 0h1m19 0h1m15 0h1m1 0h2m16 0h1m8 0h1m14 0h1m3 0h2m13 0h1m7 0h1m38 0h1m43 0h1M4 1h1m41 0h2m2 0h1m175 0h1m41 0h2m2 0h1M2 2h1m60 0h1m22 0h2m12 0h1m18 0h2m24 0h2m6 0h1m71 0h1m14 0h2m23 0h1m36 0h1m41 0h1m14 0h1m30 0h1m64 0h2m11 0h2m2 0h2m9 0h1M2 3h1m6 0h1m7 0h1m1 0h1m14 0h1m11 0h1m1 0h3m5 0h2m13 0h1m10 0h1m3 0h2m3 0h1m3 0h2m6 0h1m6 0h3m45 0h1m4 0h3m2 0h2m6 0h1m7 0h2m19 0h1m10 0h1m60 0h1m8 0h3m5 0h2m2 0h3m2 0h1m19 0h1m10 0h1m9 0h1m29 0h1m4 0h1m21 0h1m16 0h1m2 0h1m12 0h2m17 0h1m12 0h2m5 0h1m5 0h2m4 0h2m44 0h1M6 4h1m21 0h1m17 0h1m22 0h1m8 0h1m8 0h1m1 0h1m1 0h1m6 0h1m4 0h1m1 0h3m2 0h1m11 0h3m11 0h1m6 0h1m6 0h1m7 0h1m16 0h1M17 5h1m12 0h1m11 0h1m3 0h1m4 0h2m11 0h1m3 0h1m5 0h1m2 0h1m55 0h3m2 0h1m5 0h1m10 0h1m4 0h2m1 0h1m6 0h1m4 0h1m5 0h1m19 0h1m6 0h1m24 0h1m5 0h3m19 0h1m34 0h1m31 0h1m8 0h1m24 0h1m6 0h3m10 0h1m2 0h1m19 0h1m85 0h2M42 6h1m15 0h1m12 0h3m39 0h1m2 0h1m2 0h2m15 0h2m3 0h3m10 0h1m2 0h1m38 0h1m54 0h1m32 0h2m91 0h1m116 0h1m25 0h1m3 0h2m7 0h3m26 0h1M27 7h2m59 0h1m14 0h2m1 0h1m10 0h1m15 0h1m5 0h1m38 0h1m9 0h1m4 0h1m11 0h1m8 0h1m279 0h1m17 0h1m6 0h1m1 0h1m2 0h1m72 0h2m10 0h3m7 0h1m7 0h1m5 0h3m3 0h1m10 0h4m14 0h1m6 0h3m7 0h1m4 0h2m13 0h1m1 0h2m22 0h3m5 0h1m1 0h2m5 0h1m10 0h1m19 0h2M179 8h1m1 0h1m157 0h1m3 0h1m16 0h1m12 0h1m86 0h2m37 0h1m23 0h1m4 0h1m2 0h5m28 0h1m1 0h2m3 0h1m15 0h1m16 0h1m4 0h2m22 0h3m12 0h4m2 0h1m1 0h1m17 0h5m5 0h1m8 0h3m2 0h4m2 0h2m14 0h4m5 0h1m2 0h2m2 0h2m3 0h8m16 0h7m1 0h3m4 0h2m7 0h1m4 0h1M40 9h2m296 0h1m14 0h1m23 0h1m12 0h2m13 0h1m18 0h1m3 0h1m1 0h2m5 0h3m2 0h1m1 0h1m5 0h3m2 0h2m2 0h1m8 0h1m7 0h1m33 0h3m3 0h2m2 0h1m45 0h1m10 0h1m4 0h1m8 0h1m8 0h2m12 0h1m5 0h1m11 0h1m22 0h1m9 0h1m31 0h3M182 10h1m19 0h1m50 0h1m72 0h1m216 0h1m46 0h1m1 0h4m10 0h1m2 0h1m2 0h1m8 0h1m2 0h1m15 0h1m18 0h2M42 11h1m3 0h2m12 0h1m177 0h1m8 0h1m52 0h1m14 0h1m23 0h1m7 0h1m5 0h1m9 0h1m5 0h1m7 0h1m1 0h5m27 0h2m10 0h4m3 0h2m1 0h1m6 0h1m1 0h1m8 0h1m9 0h1m2 0h1m6 0h3m2 0h3m4 0h1m3 0h1m38 0h1m51 0h1m9 0h1m2 0h1m24 0h1m2 0h2m34 0h1m1 0h1m1 0h1m3 0h1m5 0h1"/><path stroke="#4b2297" d="M14 0h1m9 0h2m20 0h2m174 0h1m10 0h3m22 0h1m7 0h2m6 0h3m5 0h1m3 0h2m1 0h2m6 0h3m20 0h1m9 0h1m3 0h3m4 0h2m17 0h2m9 0h2m11 0h1m2 0h2m16 0h1m16 0h1m23 0h2m2 0h2m5 0h1m2 0h1m6 0h1m21 0h1m8 0h1M76 1h1m157 0h1M59 2h1m55 0h1m8 0h1m5 0h1m37 0h2m69 0h1m64 0h1m157 0h3m16 0h2M6 3h1m6 0h2m29 0h1m8 0h1m5 0h1m28 0h1m4 0h2m14 0h1m27 0h2m16 0h1m15 0h1m6 0h1m94 0h1m5 0h1m10 0h1m25 0h4m26 0h1m1 0h3m35 0h2m22 0h1m5 0h1m5 0h1m10 0h1m10 0h1m19 0h1M19 4h1m18 0h2m35 0h2m7 0h2m2 0h1m4 0h2m5 0h2m6 0h2m1 0h2m3 0h1m2 0h1m35 0h2m11 0h1m3 0h1m1 0h1m1 0h1M0 5h1m4 0h1m7 0h1m31 0h1m8 0h2m6 0h1m79 0h1m4 0h1m1 0h1m12 0h1m8 0h1m4 0h1m9 0h2m165 0h2m9 0h1m10 0h2m9 0h1m12 0h1m118 0h2M57 6h1m49 0h2m8 0h1m3 0h2m8 0h1m17 0h3m23 0h1m23 0h2m357 0h2m1 0h1m5 0h2M1 7h1m85 0h1m46 0h1m42 0h1m3 0h1m7 0h1m4 0h1m13 0h2m215 0h1m2 0h1m66 0h1m73 0h2m3 0h1m5 0h2m41 0h2m3 0h4m29 0h2m1 0h2m3 0h1m27 0h8m1 0h1m2 0h3m2 0h4m2 0h2m2 0h7m6 0h2m1 0h1m2 0h5m1 0h10m1 0h3m4 0h12m2 0h2m1 0h4m3 0h4M67 8h1m60 0h2m47 0h1m6 0h1m171 0h2m42 0h1m92 0h1m22 0h1m2 0h3m8 0h1m7 0h1m6 0h1m1 0h2m9 0h2m3 0h1m9 0h1m15 0h2m1 0h2m27 0h1m2 0h3m10 0h2m14 0h1m4 0h1m3 0h1m20 0h1m1 0h4m8 0h1m4 0h2m2 0h4m1 0h2m2 0h3m1 0h1m4 0h5m1 0h2m2 0h2m2 0h3m8 0h6m2 0h1m1 0h6m7 0h1m3 0h1m1 0h2m2 0h7m1 0h4m1 0h1M185 9h2m145 0h2m5 0h4m9 0h1m45 0h1m4 0h1m11 0h1m7 0h1m2 0h1m9 0h1m3 0h1m2 0h1m5 0h1m10 0h1m10 0h3m3 0h2m30 0h1m5 0h1m2 0h1m31 0h2m9 0h3m9 0h1m18 0h2m5 0h1m7 0h2m10 0h1m7 0h4m3 0h1M60 10h1m9 0h2m129 0h1m21 0h2m352 0h1m29 0h1m9 0h1m79 0h2M48 11h1m12 0h2m117 0h2m50 0h1m3 0h1m3 0h1m8 0h1m5 0h1m32 0h3m36 0h1m1 0h2m1 0h1m4 0h1m3 0h1m9 0h1m4 0h2m2 0h2m6 0h1m2 0h2m11 0h1m3 0h2m68 0h1m25 0h1m43 0h1m14 0h1m32 0h2"/><path stroke="#3a1d79" d="M4 0h2m21 0h2m227 0h1m12 0h1m8 0h1m49 0h1m37 0h1m23 0h2m16 0h1m21 0h1m1 0h4m1 0h1m3 0h1m2 0h1m4 0h1m15 0h2m19 0h2M3 1h1M0 2h1m9 0h1m103 0h1m19 0h1m146 0h1m1 0h1m9 0h1m9 0h1m85 0h1M0 3h2m2 0h1m13 0h1m3 0h4m6 0h2m11 0h1m1 0h1m10 0h1m4 0h1m1 0h1m2 0h1m16 0h1m14 0h2m6 0h1m19 0h2m2 0h1m21 0h1m11 0h2m61 0h1m9 0h1m16 0h1m6 0h1m10 0h1m7 0h1m157 0h2M2 4h1m14 0h1m27 0h1m7 0h2m47 0h1m36 0h1m4 0h2m23 0h2M2 5h2m7 0h2m2 0h1m5 0h1m9 0h1m43 0h2m3 0h1m14 0h1m6 0h1m1 0h1m19 0h1m11 0h2m7 0h2m109 0h1m1 0h1m44 0h1m59 0h1m1 0h1m11 0h3M132 6h1m2 0h1m357 0h1m21 0h1m53 0h1M129 7h1m53 0h3m12 0h2m3 0h1m6 0h2m214 0h2m61 0h1m1 0h1m25 0h1m5 0h1m17 0h2m5 0h1m6 0h1m2 0h1m6 0h1m5 0h1m3 0h1m2 0h1m7 0h3m2 0h1m11 0h1m4 0h1m12 0h1m18 0h1m13 0h1m1 0h1m25 0h3m1 0h2m24 0h2m4 0h2m2 0h2m10 0h3m26 0h4m16 0h1m4 0h3m4 0h1M182 8h2m16 0h1m1 0h1m11 0h1m94 0h1m12 0h3m1 0h1m84 0h1m93 0h2m30 0h1m8 0h1m6 0h3m5 0h2m40 0h1m23 0h1m2 0h2m20 0h1m2 0h1m1 0h1m1 0h1m1 0h1m2 0h3m13 0h1m29 0h1m2 0h2m3 0h1m36 0h2m1 0h1m18 0h1M318 9h3m13 0h2m13 0h1m7 0h1m46 0h1m1 0h1m6 0h1m27 0h1m3 0h1m28 0h2m37 0h1m5 0h1m7 0h2m1 0h1m12 0h1m46 0h1m40 0h1m1 0h1M185 10h2m341 0h1m2 0h2m12 0h1m27 0h1m34 0h1m4 0h1m2 0h1m5 0h2m4 0h2m2 0h1m1 0h5M225 11h2m19 0h1m5 0h1m70 0h1m12 0h1m11 0h1m3 0h1m2 0h1m34 0h1m29 0h2m6 0h2m27 0h1m7 0h1m106 0h2"/><path stroke="#29185a" d="M216 0h1m102 0h1m32 0h1m5 0h1m27 0h1m5 0h2m13 0h1m34 0h1m9 0h1m16 0h1m4 0h1m1 0h1m3 0h1m4 0h1M399 2h1M3 3h1m47 0h2m30 0h2m12 0h1m8 0h1m12 0h2m1 0h2m15 0h3m4 0h2m9 0h1m1 0h1m14 0h1m22 0h1m30 0h1m35 0h1m13 0h1m51 0h1m46 0h1m10 0h1m8 0h1m41 0h1M5 4h1m12 0h1m7 0h2m44 0h1m4 0h1m4 0h2m37 0h1m15 0h2m15 0h1m2 0h1m1 0h1m11 0h1m1 0h1M39 5h1m23 0h1m37 0h1m1 0h1m48 0h2m106 0h1m51 0h1m59 0h1m15 0h2M6 6h1m56 0h2m65 0h1m361 0h1M17 7h1m110 0h1m21 0h1m28 0h1m2 0h1m29 0h1m57 0h1m148 0h1m88 0h1m26 0h2m3 0h1m5 0h2m16 0h1m1 0h2m11 0h1m4 0h1m11 0h1m5 0h1m52 0h1m1 0h1M192 8h1m120 0h1m6 0h2m5 0h1m166 0h1m7 0h1m1 0h1m2 0h2m3 0h1m1 0h2m11 0h1m16 0h1m11 0h2m17 0h3m24 0h1m3 0h1m12 0h2m7 0h2m30 0h1m2 0h1m15 0h1m1 0h1m10 0h1M201 9h1m119 0h1m32 0h2m55 0h2m45 0h1M614 10h2m2 0h1m1 0h1m4 0h3m2 0h2m1 0h1m5 0h1M237 11h1m13 0h1m70 0h1m15 0h1m39 0h1m48 0h1m13 0h1m147 0h2m3 0h2"/><path stroke="#1b123d" d="M0 0h1m262 0h1m4 0h1m8 0h1m1 0h2m63 0h3m42 0h1m26 0h3m12 0h1m13 0h1m2 0h1m10 0h1m11 0h3m3 0h3m3 0h2M256 2h1m37 0h2M11 3h2m7 0h2m4 0h1m2 0h2m33 0h1m9 0h1m27 0h1m31 0h1m17 0h2m2 0h1m16 0h1m20 0h1m75 0h3m93 0h2M120 4h1m4 0h1m20 0h2m13 0h1M82 5h1m6 0h1m110 0h1m109 0h2m3 0h1m1 0h1M495 6h1m35 0h2M190 7h3m2 0h1m8 0h1m299 0h1m15 0h1m1 0h1m2 0h1m5 0h1m5 0h3m9 0h4m3 0h2m1 0h1m22 0h2m1 0h1m8 0h2m24 0h1m37 0h1m4 0h1M185 8h2m14 0h1m298 0h2m1 0h1m5 0h2m96 0h2m2 0h1m77 0h1M326 9h1m119 0h3m8 0h1m88 0h1M251 10h1M220 11h1m3 0h1m28 0h1m72 0h1m17 0h2m73 0h1m26 0h1m109 0h2"/><path stroke="#0d0b21" d="M397 0h1m12 0h1m27 0h3m2 0h1m10 0h3m1 0h1m2 0h1m2 0h1M5 3h1m21 0h2m2 0h1m22 0h2m49 0h1m1 0h1m22 0h2m1 0h1m10 0h2m81 0h1m17 0h1m29 0h2m98 0h2m12 0h1m17 0h2M66 4h1m95 0h1M35 5h1m47 0h2m3 0h1m3 0h1m1 0h1m219 0h1M7 6h2m489 0h3M135 7h1m44 0h1m16 0h1m2 0h1m308 0h1m4 0h2m2 0h1m10 0h2m14 0h1m7 0h1m6 0h1m11 0h2m18 0h2m65 0h2M495 8h1m2 0h1m14 0h1m4 0h1m93 0h2m76 0h2M545 9h1m10 0h1M214 10h2m403 0h1M312 11h1m139 0h1"/><path stroke="#080716" d="M45 0h1m211 0h1m140 0h2m68 0h1m1 0h1m10 0h2M10 1h3M265 3h3m12 0h2M10 4h3m86 0h1m53 0h1M81 5h1m3 0h1m4 0h2m178 0h1m42 0h1M9 6h1m496 0h2M186 7h2m302 0h1m43 0h1m8 0h1m10 0h1m21 0h2M543 8h1M548 9h2M62 10h1m184 0h1M179 11h1"/><path stroke="#04030d" d="M453 0h1M10 3h1m64 0h3m181 0h1m1 0h2m5 0h2m90 0h5m27 0h1M505 4h1M29 5h1m56 0h2m5 0h1m222 0h1M201 7h2m289 0h2m3 0h2m4 0h1m9 0h1m2 0h1m9 0h1m1 0h1m15 0h1m16 0h3m25 0h2M496 8h2M327 9h1m8 0h1m210 0h1M182 11h1"/><path stroke="#000004" d="M462 0h2M257 3h2m1 0h1m97 0h2m5 0h1m24 0h2m1 0h4M506 4h1M269 5h1M247 6h1M196 7h1m291 0h1m7 0h1m2 0h4m2 0h3m2 0h2m15 0h1m4 0h2M488 8h1M356 9h1m187 0h1"/><path stroke="#fde1a3" d="M104 0h1m79 0h1m410 0h1m150 0h1m20 0h2m12 0h3M23 1h2m116 0h3m31 0h1m328 0h2m22 0h1m16 0h1m10 0h2m74 0h1m6 0h2m17 0h1m76 0h1M634 2h1m13 0h2m19 0h1M659 3h4M179 4h2m4 0h2m42 0h3m18 0h1m124 0h2m8 0h1m9 0h1m3 0h1m1 0h1m163 0h3m3 0h2M556 5h1M1 6h1M52 7h1m1 0h2m1 0h1m160 0h3m66 0h1m1 0h2m60 0h1m81 0h1m6 0h1m12 0h1m9 0h1m2 0h1M3 8h1m42 0h1m41 0h1m11 0h1m174 0h1M219 9h1m75 0h1m1 0h1M12 10h1m64 0h1m56 0h1m127 0h1m3 0h1m19 0h1"/><path stroke="#fcd296" d="M17 0h1m85 0h1m91 0h2m347 0h1m11 0h1m40 0h1m16 0h2m11 0h1m50 0h2m29 0h1m25 0h1m12 0h1m12 0h2m3 0h1m3 0h2m8 0h1m11 0h1M16 1h1m156 0h1m158 0h1m88 0h1m24 0h1m5 0h1m105 0h2m31 0h1m9 0h1m21 0h4m11 0h1m16 0h2m77 0h1M527 2h1m19 0h1M513 3h2m101 0h1M182 4h3m70 0h1m112 0h1m17 0h1m1 0h1m7 0h2m4 0h1m83 0h1m21 0h1m5 0h1m12 0h2m23 0h1m3 0h2m103 0h1M555 5h1M348 6h3m195 0h1m62 0h3M31 7h2m10 0h2m3 0h2m9 0h1m231 0h1m149 0h3m6 0h2m9 0h1m3 0h1m1 0h1m4 0h4m10 0h2M2 8h1m36 0h1m7 0h1m16 0h1m22 0h1m13 0h1m28 0h2m108 0h2m34 0h1M133 9h1m21 0h1m142 0h1M0 10h1m132 0h1m12 0h2m14 0h1m46 0h1m46 0h1M109 11h1"/><path stroke="#fcc489" d="M182 0h2m1 0h1m15 0h2m1 0h1m2 0h2m5 0h1m334 0h2m31 0h2m79 0h1m38 0h2m2 0h1m15 0h2m10 0h1m10 0h1m12 0h3m8 0h1m2 0h2m10 0h1m3 0h3m4 0h1M17 1h1m7 0h1m4 0h1m81 0h1m15 0h1m67 0h1m111 0h1m13 0h1m3 0h1m29 0h1m25 0h1m44 0h1m27 0h1m32 0h1m25 0h1m12 0h1m1 0h1m10 0h3m26 0h2m21 0h4m11 0h2m10 0h2m20 0h1m45 0h5m5 0h1m12 0h1m7 0h1m6 0h3m3 0h3m2 0h1m45 0h2m8 0h2m1 0h1M526 2h1m1 0h1m19 0h1m54 0h2m32 0h2m20 0h3m8 0h1m19 0h2M528 3h1m88 0h1m58 0h1M177 4h1m13 0h1m1 0h1m4 0h1m16 0h1m1 0h2m3 0h3m9 0h1m10 0h1m69 0h1m15 0h1m55 0h1m27 0h1m20 0h1m8 0h1m38 0h2m6 0h1m22 0h3m1 0h1m10 0h1m13 0h1m13 0h2m1 0h1m71 0h1M3 6h2M46 7h2m191 0h1m1 0h1m14 0h2m34 0h1m2 0h1m7 0h1m131 0h1m11 0h1m1 0h1m4 0h1m21 0h2M31 8h2m42 0h3m8 0h1m130 0h1m14 0h1m6 0h1m8 0h1M6 9h2m69 0h1m19 0h1m2 0h1m30 0h1m4 0h1m17 0h1m133 0h2m6 0h1M10 10h1m125 0h1m56 0h2m2 0h1m12 0h2m77 0h1M2 11h1m92 0h2m10 0h1m12 0h1m21 0h2m12 0h2"/><path stroke="#fbb57d" d="M16 0h1m5 0h1m17 0h1m32 0h1m36 0h1m38 0h3m6 0h1m29 0h1m9 0h3m327 0h1m14 0h1m22 0h1m6 0h1m2 0h1m7 0h2m3 0h1m6 0h1m15 0h2m5 0h1m8 0h1m4 0h1m5 0h2m5 0h1m22 0h1m15 0h3m2 0h2m7 0h1m1 0h1m2 0h2m14 0h1m5 0h3m7 0h2m2 0h1m11 0h6m19 0h2m7 0h2m3 0h1M31 1h1m74 0h1m11 0h1m67 0h2m13 0h1m33 0h2m53 0h1m18 0h1m10 0h2m57 0h1m20 0h1m12 0h1m43 0h1m7 0h1m64 0h1m23 0h2m5 0h2m8 0h2m4 0h1m1 0h1m6 0h2m58 0h1m5 0h1m8 0h3m5 0h1m9 0h1m12 0h1m2 0h2m12 0h1m1 0h2m4 0h1m1 0h1m1 0h2m5 0h1m8 0h6m4 0h1m1 0h8m1 0h11m2 0h2m7 0h2m2 0h1m1 0h6m2 0h1M219 2h1m123 0h1m41 0h1m219 0h1m9 0h2m13 0h2m1 0h1m23 0h2m4 0h1m54 0h2m10 0h1m1 0h1m1 0h2M515 3h1m11 0h1M178 4h1m28 0h1m24 0h2m49 0h1m12 0h1m11 0h1m3 0h2m11 0h1m6 0h2m1 0h1m21 0h1m90 0h1m20 0h2m18 0h3m5 0h2m5 0h1m13 0h1m4 0h1m2 0h1m2 0h1m6 0h2m5 0h1m4 0h3m77 0h1M422 5h1m29 0h1m76 0h1m1 0h2m14 0h3M464 6h2m142 0h1M16 7h1m39 0h1m115 0h1m56 0h1m14 0h1m4 0h2m23 0h1m9 0h1m9 0h1m14 0h1m1 0h1m16 0h1m5 0h1m95 0h3m6 0h1m8 0h1m6 0h1m4 0h1m7 0h3m10 0h5M11 8h2m17 0h1m17 0h1m63 0h3m113 0h1m2 0h1m25 0h1m24 0h1M2 9h2m7 0h2m76 0h1m6 0h1m6 0h1m15 0h2m3 0h2m100 0h1m60 0h1m3 0h1M13 10h2m8 0h1m51 0h1m20 0h2m39 0h3m3 0h3m15 0h1m101 0h1m4 0h1m19 0h1m98 0h1M31 11h1m35 0h1m69 0h2m37 0h1"/><path stroke="#faa875" d="M23 0h1m17 0h2m31 0h1m3 0h3m24 0h1m6 0h1m41 0h1m6 0h1m1 0h4m13 0h2m4 0h2m3 0h1m11 0h1m2 0h1m354 0h3m13 0h1m14 0h1m8 0h1m5 0h2m11 0h1m8 0h3m3 0h1m11 0h2m6 0h1m1 0h1m2 0h3m5 0h1m12 0h3m4 0h2m7 0h1m2 0h1m9 0h1m1 0h6m23 0h4m5 0h2m22 0h3m2 0h1m5 0h1m7 0h2M26 1h1m77 0h1m90 0h1m18 0h1m72 0h1m25 0h1m4 0h1m8 0h1m23 0h2m16 0h2m48 0h2m10 0h1m12 0h1m9 0h1m12 0h2m3 0h1m10 0h1m31 0h2m9 0h1m4 0h3m4 0h2m6 0h2m12 0h1m7 0h1m4 0h1m4 0h1m1 0h1m1 0h1m2 0h1m2 0h1m16 0h2m7 0h5m8 0h1m1 0h2m14 0h1m7 0h2m9 0h1m1 0h3m8 0h2m3 0h2m9 0h2m3 0h2m1 0h2m20 0h2m4 0h2m12 0h4m1 0h1m8 0h1m11 0h2m2 0h7m5 0h1M92 2h1m249 0h1m182 0h1m3 0h1m22 0h1m10 0h1m9 0h1m12 0h2m14 0h1m11 0h1m8 0h3m3 0h1m2 0h1m2 0h2m9 0h2m16 0h2m15 0h3m1 0h5m8 0h2m13 0h5m2 0h2m3 0h2m4 0h1m1 0h1m2 0h4m9 0h3m19 0h2m4 0h1m14 0h2M189 3h2m315 0h1m9 0h2m25 0h1m29 0h1m20 0h2m11 0h2m20 0h2m46 0h2m39 0h2M239 4h4m39 0h1m9 0h2m15 0h2m11 0h1m1 0h1m26 0h2m59 0h1m12 0h1m14 0h1m16 0h1m1 0h2m15 0h1m10 0h2m43 0h4m2 0h3m4 0h1m5 0h1m8 0h1m12 0h1m24 0h2m19 0h2m11 0h1m41 0h1M198 5h2m223 0h1m106 0h1m30 0h2m12 0h1m93 0h1M81 6h2m18 0h2m2 0h1m110 0h1m104 0h1m1 0h1m94 0h1m19 0h2m172 0h1M64 7h1m12 0h1m84 0h1m13 0h1m40 0h1m24 0h2m29 0h1m2 0h3m17 0h1m4 0h2m26 0h1m5 0h2m1 0h3m57 0h2m52 0h1m3 0h1m14 0h1M10 8h1m43 0h1m3 0h2m33 0h2m7 0h1m31 0h1m38 0h1m42 0h1m6 0h1m5 0h2m2 0h1m9 0h1m10 0h1m1 0h1m11 0h2m9 0h3m4 0h5m3 0h1M29 9h1m15 0h1m17 0h2m28 0h2m67 0h1m76 0h1m41 0h1m207 0h1m3 0h1m2 0h1m8 0h2m24 0h3M18 10h1m65 0h2m7 0h1m4 0h1m6 0h1m24 0h1m21 0h2m6 0h1m12 0h1m84 0h1m12 0h1m2 0h1m48 0h1m43 0h2m32 0h1m5 0h2m25 0h1m2 0h2m28 0h1m5 0h1M30 11h1m35 0h1m32 0h2m70 0h1"/><path stroke="#f99b6f" d="M21 0h1m21 0h2m13 0h1m3 0h1m7 0h1m19 0h3m2 0h1m2 0h1m7 0h1m16 0h1m4 0h2m46 0h1m12 0h2m325 0h2m11 0h1m2 0h1m20 0h3m1 0h1m20 0h2m8 0h1m1 0h1m19 0h2m4 0h1m17 0h1m1 0h3m4 0h3m12 0h2m4 0h4m6 0h2m1 0h1m2 0h1m3 0h1m7 0h4m2 0h1m8 0h2m2 0h1m6 0h2m5 0h1m3 0h2m7 0h2m23 0h3M27 1h1m77 0h1m1 0h1m9 0h1m8 0h2m3 0h1m22 0h1m9 0h2m4 0h1m17 0h1m3 0h1m7 0h1m6 0h1m1 0h1m1 0h1m80 0h2m8 0h1m20 0h3m10 0h1m44 0h1m8 0h2m11 0h1m24 0h3m1 0h2m22 0h1m3 0h2m16 0h2m15 0h1m54 0h2m44 0h4m3 0h2m23 0h1m7 0h2m32 0h7m3 0h2m2 0h3m13 0h1m2 0h6m4 0h4m3 0h1M74 2h1m6 0h2m7 0h2m5 0h1m275 0h1m156 0h1m25 0h2m6 0h1m4 0h2m1 0h1m9 0h1m5 0h1m3 0h2m3 0h2m8 0h2m4 0h1m5 0h2m1 0h1m4 0h1m16 0h2m4 0h1m11 0h1m11 0h2m1 0h1m1 0h2m3 0h1m7 0h4m4 0h4m2 0h1m1 0h1m1 0h3m11 0h1m15 0h9m3 0h5m7 0h7m2 0h1m2 0h1m1 0h14m2 0h2M198 3h1m327 0h1m44 0h2m4 0h1m72 0h2m11 0h1m5 0h1m11 0h3m2 0h4m7 0h3m2 0h1m8 0h4m2 0h1m6 0h2m5 0h2m2 0h1M212 4h1m24 0h2m20 0h1m2 0h2m20 0h1m2 0h2m5 0h1m4 0h1m4 0h2m5 0h1m8 0h2m4 0h2m6 0h1m3 0h1m2 0h3m5 0h2m55 0h1m9 0h2m26 0h1m10 0h1m2 0h1m8 0h2m8 0h1m5 0h1m9 0h1m5 0h2m12 0h1m6 0h2m2 0h1m6 0h1m9 0h2m3 0h1m42 0h2m16 0h2m7 0h1m7 0h2m29 0h1m3 0h2m78 0h1M453 5h1m6 0h1m113 0h1m8 0h1m2 0h1m46 0h1M80 6h1m134 0h1m1 0h3m19 0h1m24 0h1m46 0h1m10 0h1m14 0h1m52 0h2m24 0h2m6 0h1m10 0h1m15 0h1m152 0h2M23 7h2m143 0h1m47 0h1m5 0h2m10 0h2m15 0h1m23 0h1m12 0h1m16 0h1m15 0h1m10 0h2m3 0h1m3 0h1m50 0h2m42 0h1m7 0h3M0 8h1m18 0h1m1 0h1m1 0h3m1 0h1m27 0h1m40 0h3m4 0h1m15 0h1m40 0h2m12 0h1m44 0h1m5 0h1m11 0h2m14 0h1m20 0h1M10 9h1m4 0h1m7 0h1m9 0h1m39 0h1m85 0h1m341 0h1m2 0h1m2 0h1M2 10h4m9 0h1m5 0h1m9 0h1m6 0h2m5 0h1m40 0h2m28 0h1m4 0h2m4 0h1m35 0h1m8 0h1m96 0h1m7 0h1m9 0h1m9 0h1m2 0h2m19 0h1m44 0h1m23 0h2m7 0h1m39 0h1m8 0h1m25 0h1M64 11h1m4 0h1m6 0h2m43 0h3m15 0h1m6 0h1m15 0h1m81 0h1m18 0h1m22 0h2"/><path stroke="#f88e6a" d="M18 0h2m45 0h1m1 0h1m43 0h1m13 0h3m7 0h1m5 0h1m18 0h1m17 0h2m17 0h1m332 0h1m27 0h2m11 0h2m2 0h1m4 0h2m4 0h2m5 0h1m8 0h3m1 0h1m10 0h2m13 0h1m8 0h2m27 0h4m2 0h1m19 0h1m27 0h1m7 0h2M18 1h2m77 0h3m2 0h2m12 0h1m27 0h1m3 0h1m9 0h1m8 0h1m1 0h1m2 0h1m9 0h4m12 0h2m6 0h1m30 0h2m78 0h1m17 0h1m2 0h1m4 0h1m2 0h3m5 0h2m5 0h4m13 0h1m4 0h2m7 0h2m12 0h1m11 0h1m6 0h2m16 0h1m9 0h1m5 0h1m4 0h1m1 0h1m15 0h1m6 0h1m6 0h1m4 0h2m31 0h4m11 0h1m26 0h1m6 0h1m16 0h1m8 0h3m9 0h2m20 0h2m3 0h4m7 0h2m4 0h1M22 2h1m57 0h1m117 0h1m165 0h1m37 0h1m88 0h3m2 0h1m3 0h1m17 0h2m23 0h2m5 0h2m25 0h1m5 0h1m5 0h2m8 0h3m10 0h1m15 0h1m22 0h2m2 0h1m10 0h3m2 0h3m2 0h1m1 0h1m18 0h1m6 0h2m1 0h1m1 0h1m12 0h2m3 0h2m28 0h7m10 0h2M182 3h1m374 0h1m20 0h1m10 0h2m1 0h2m9 0h2m1 0h1m2 0h1m1 0h3m4 0h3m10 0h1m1 0h1m5 0h2m23 0h3m3 0h2m7 0h1m5 0h1m4 0h2m1 0h1m9 0h5m18 0h2m5 0h2m1 0h1m6 0h4m35 0h2M187 4h1m13 0h2m8 0h1m1 0h2m13 0h1m22 0h1m12 0h1m1 0h2m2 0h1m4 0h3m7 0h1m12 0h1m1 0h4m2 0h2m15 0h1m15 0h1m4 0h5m7 0h1m54 0h1m7 0h3m24 0h1m14 0h1m3 0h1m15 0h2m18 0h3m18 0h1m24 0h1m34 0h2m25 0h2m6 0h2m8 0h1m3 0h1m26 0h1m27 0h1m1 0h1m13 0h1m7 0h1m8 0h1m8 0h1M432 5h2m8 0h1m16 0h1m97 0h1m13 0h2m11 0h2m46 0h1m13 0h1m23 0h3M94 6h3m3 0h1m2 0h1m2 0h1m196 0h2m3 0h1m1 0h1m3 0h3m2 0h1m4 0h1m4 0h1m4 0h1m1 0h1m1 0h1m7 0h2m67 0h1m3 0h2m4 0h1m6 0h2m9 0h2m8 0h1m8 0h2m8 0h1m4 0h2m2 0h2M40 7h3m25 0h2m2 0h1m82 0h3m1 0h2m8 0h1m51 0h1m3 0h2m18 0h1m8 0h1m24 0h3m22 0h1m7 0h1m4 0h2m1 0h1m1 0h1m2 0h1m5 0h1m42 0h1m16 0h1m17 0h1M1 8h1m13 0h2m16 0h1m4 0h1m33 0h1m22 0h1m3 0h1m7 0h2m23 0h1m15 0h1m19 0h4m48 0h1m31 0h1m7 0h2m29 0h1m11 0h1m158 0h2M21 9h1m5 0h1m4 0h1m1 0h2m2 0h2m10 0h2m1 0h3m1 0h1m10 0h1m11 0h1m14 0h1m3 0h1m11 0h2m3 0h1m9 0h2m4 0h1m4 0h3m6 0h1m9 0h2m9 0h1m4 0h2m58 0h1m49 0h1m104 0h3m101 0h2m1 0h1m2 0h3m2 0h2m4 0h1m29 0h2M1 10h1m15 0h1m12 0h1m4 0h1m42 0h1m12 0h1m11 0h1m11 0h1m19 0h1m19 0h1m15 0h1m71 0h1m1 0h1m21 0h1m2 0h1m34 0h2m11 0h2m2 0h1m51 0h1m27 0h1m6 0h2m29 0h2m5 0h1m14 0h2m17 0h1m27 0h1m44 0h2m9 0h1M0 11h2m23 0h1m42 0h1m16 0h2m10 0h1m14 0h1m12 0h1m18 0h2m14 0h2m141 0h1"/></g><rect x="563.5" y="347.2" width="1593" height="240.8" fill="none" stroke="#000" stroke-width="1.5"/>
<rect x="563" y="649.5" width="1594" height="38" fill="#808080"/><g transform="translate(563 668.5) scale(2 38)" fill="none" stroke-width="1" shape-rendering="crispEdges"><path stroke="#f0e92c" d="M53 0h1m14 0h1m162 0h1m162 0h2"/><path stroke="#e0e930" d="M57 0h1m15 0h1m83 0h1m93 0h1m111 0h1m5 0h1m133 0h1m24 0h2m66 0h2"/><path stroke="#4abda3" d="M131 0h1m10 0h1m11 0h2m251 0h2m1 0h1m14 0h1m4 0h1m106 0h1m2 0h1m29 0h2m99 0h1"/><path stroke="#42aca5" d="M10 0h2m392 0h1m79 0h1m101 0h1m5 0h2m46 0h1m3 0h1m4 0h2m26 0h1"/><path stroke="#4099a6" d="M110 0h1m281 0h2m38 0h2m164 0h1m63 0h1m29 0h2m17 0h1"/><path stroke="#3f86a8" d="M3 0h1m15 0h2m563 0h2m23 0h1"/><path stroke="#4072a6" d="M2 0h1m9 0h1m618 0h2m36 0h2"/><path stroke="#425fa3" d="M431 0h1m158 0h2m89 0h2m18 0h1m7 0h1"/><path stroke="#444ca0" d="M685 0h1m8 0h1m13 0h1m40 0h1m5 0h2"/><path stroke="#443d95" d="M15 0h1m668 0h1m2 0h3m7 0h1m12 0h1m29 0h1m39 0h1m5 0h2"/><path stroke="#433089" d="M582 0h2m116 0h1m13 0h1m7 0h1m9 0h1m2 0h1m33 0h1m19 0h1m1 0h1m1 0h1"/><path stroke="#392372" d="M629 0h1m3 0h2m51 0h1m15 0h4m6 0h2m31 0h1m13 0h1m4 0h1m19 0h1m3 0h1m5 0h2"/><path stroke="#d0e835" d="M85 0h1m39 0h1m19 0h1m1 0h1m235 0h1m14 0h1m54 0h1m52 0h1m19 0h2m2 0h3m119 0h2"/><path stroke="#281855" d="M696 0h1m1 0h2m26 0h3m1 0h1m5 0h1m1 0h2m1 0h1m6 0h1m11 0h4m7 0h1m5 0h3m1 0h3"/><path stroke="#170d36" d="M628 0h1m66 0h1m10 0h2m11 0h3m21 0h2m25 0h1m3 0h3m15 0h1"/><path stroke="#060513" d="M5 0h1m190 0h1m3 0h1m2 0h2m510 0h2m6 0h3m3 0h1m12 0h1m9 0h1m4 0h1m7 0h4m3 0h2m11 0h1m10 0h1"/><path stroke="#000" d="M6 0h4m185 0h1m1 0h3m1 0h2m9 0h3m295 0h2m67 0h3m32 0h4m8 0h2m2 0h1m4 0h4m51 0h2m25 0h2m12 0h1m1 0h2m2 0h1m8 0h2m2 0h2m1 0h2m3 0h1m31 0h1"/><path stroke="#bfe73b" d="M18 0h1m39 0h1m59 0h1m34 0h1m8 0h1m47 0h2m149 0h2m3 0h2m3 0h2m2 0h1m2 0h1m12 0h1m36 0h2m114 0h2m73 0h1m23 0h1m14 0h2m7 0h2m6 0h1"/><path stroke="#a8e44a" d="M0 0h2m57 0h1m14 0h1m4 0h2m27 0h2m9 0h4m3 0h1m12 0h1m9 0h1m59 0h1m175 0h2m24 0h2m5 0h3m53 0h1m21 0h4m7 0h1m30 0h2m3 0h1m7 0h2m12 0h2m8 0h2m17 0h1m44 0h1m32 0h2"/><path stroke="#92e258" d="M56 0h1m8 0h1m11 0h1m38 0h2m11 0h2m1 0h2m6 0h2m4 0h1m4 0h1m4 0h1m1 0h1m46 0h1m145 0h1m27 0h1m35 0h1m6 0h2m3 0h1m66 0h1m9 0h2m8 0h1m4 0h1m21 0h1m30 0h3m25 0h1m2 0h1m18 0h2m21 0h2m4 0h1m13 0h2m11 0h1"/><path stroke="#7fe06d" d="M4 0h1m59 0h1m37 0h1m20 0h2m9 0h1m8 0h1m176 0h1m55 0h2m4 0h1m1 0h1m11 0h2m11 0h1m11 0h1m38 0h1m39 0h3m5 0h2m8 0h1m3 0h1m26 0h2m3 0h1m32 0h3m5 0h1m5 0h2m5 0h1m9 0h1m1 0h2m19 0h1m18 0h2m2 0h1m9 0h1"/><path stroke="#71e089" d="M78 0h1m34 0h1m13 0h2m49 0h1m29 0h1m155 0h2m34 0h1m15 0h2m8 0h1m19 0h1m48 0h1m21 0h1m28 0h1m6 0h1m3 0h2m8 0h3m42 0h2m10 0h2m21 0h2m7 0h2m5 0h1m15 0h1m3 0h1"/><path stroke="#64dda0" d="M22 0h2m87 0h2m24 0h2m9 0h1m1 0h1m324 0h1m71 0h2m6 0h1m4 0h1m1 0h1m14 0h2m20 0h1m4 0h2m1 0h1m3 0h1m68 0h1"/><path stroke="#57cda2" d="M69 0h1m65 0h1m16 0h1m54 0h1m181 0h2m11 0h2m1 0h2m40 0h1m65 0h1m28 0h1m13 0h1m2 0h1m1 0h1m1 0h2m41 0h1m3 0h1m31 0h1m11 0h2m20 0h1"/></g><rect x="563" y="649.5" width="1594" height="38" fill="none" stroke="#000" stroke-width="1.6"/>
<rect x="563" y="699.8" width="1594" height="37.8" fill="#808080"/><g transform="translate(563 718.7) scale(2 37.8)" fill="none" stroke-width="1" shape-rendering="crispEdges"><path stroke="#f0e92c" d="M3 0h1m39 0h1m148 0h1m28 0h1m2 0h1m9 0h2m23 0h1m3 0h1m86 0h1m153 0h1m35 0h1m24 0h2m2 0h2m21 0h3m2 0h1"/><path stroke="#e0e930" d="M4 0h1m466 0h1m102 0h2m32 0h1m2 0h1m37 0h2m5 0h1m2 0h2m3 0h2"/><path stroke="#4abda3" d="M1 0h2m82 0h1m127 0h1m210 0h2m9 0h1m72 0h1m13 0h1m117 0h1m42 0h3m16 0h1m6 0h1m5 0h2m26 0h2m23 0h2m4 0h1m2 0h1m3 0h3m3 0h3"/><path stroke="#42aca5" d="M237 0h1m5 0h1m361 0h1m13 0h1m27 0h1m64 0h1m11 0h2m3 0h1m3 0h1m6 0h1m16 0h1m1 0h1m2 0h1m12 0h2m9 0h1m5 0h2"/><path stroke="#4099a6" d="M268 0h1m251 0h2m148 0h2m1 0h2m22 0h2m7 0h2m28 0h1m2 0h1m1 0h2m11 0h2m4 0h2m2 0h4m4 0h2"/><path stroke="#3f86a8" d="M240 0h1m151 0h1m130 0h2m89 0h3m93 0h2m1 0h2m32 0h1m10 0h1m11 0h2m19 0h1"/><path stroke="#4072a6" d="M257 0h2m266 0h1m179 0h1m22 0h1m1 0h2m14 0h1m32 0h2m9 0h1m3 0h1"/><path stroke="#425fa3" d="M699 0h1m4 0h1m16 0h1m15 0h1m14 0h2m2 0h1"/><path stroke="#444ca0" d="M512 0h1m180 0h2m8 0h1m14 0h2m6 0h2m57 0h1m9 0h2"/><path stroke="#443d95" d="M194 0h1m7 0h1m419 0h1m72 0h2m23 0h1m42 0h1m14 0h1"/><path stroke="#433089" d="M193 0h1m5 0h1m417 0h1"/><path stroke="#392372" d="M198 0h1m419 0h1m1 0h2m1 0h1"/><path stroke="#d0e835" d="M20 0h1m184 0h2m123 0h1m45 0h1m14 0h1m5 0h1m75 0h2m59 0h1m22 0h1m18 0h1m7 0h2m21 0h1m35 0h1m2 0h1"/><path stroke="#281855" d="M200 0h1m429 0h1"/><path stroke="#170d36" d="M626 0h3"/><path stroke="#060513" d="M195 0h3m5 0h1m425 0h1m56 0h3m2 0h1"/><path stroke="#000" d="M201 0h1m309 0h1m67 0h3m49 0h8m50 0h2m1 0h1"/><path stroke="#bfe73b" d="M5 0h1m2 0h1m2 0h1m5 0h1m166 0h1m46 0h2m19 0h2m75 0h1m66 0h1m43 0h1m28 0h1m6 0h1m37 0h1m23 0h1m14 0h1m8 0h2m8 0h1m28 0h1m10 0h2m27 0h2m5 0h1m9 0h1m2 0h1m16 0h2"/><path stroke="#a8e44a" d="M28 0h1m121 0h1m58 0h1m9 0h2m39 0h2m3 0h1m114 0h1m5 0h1m8 0h1m66 0h3m2 0h2m9 0h1m50 0h1m7 0h1m18 0h1m16 0h1m8 0h2m5 0h2m53 0h1m30 0h2"/><path stroke="#92e258" d="M6 0h2m183 0h1m41 0h1m123 0h1m12 0h1m68 0h1m3 0h1m26 0h1m55 0h2m2 0h2m7 0h1m20 0h2m24 0h2m10 0h3m5 0h1m2 0h2m106 0h1"/><path stroke="#7fe06d" d="M0 0h1m21 0h1m165 0h2m22 0h1m23 0h1m141 0h1m11 0h1m51 0h1m100 0h2m43 0h1m2 0h1m61 0h1m3 0h1m14 0h1m27 0h2m20 0h2m21 0h1"/><path stroke="#71e089" d="M10 0h1m1 0h1m8 0h1m135 0h1m57 0h2m38 0h2m166 0h1m140 0h1m30 0h2m57 0h2m26 0h1"/><path stroke="#64dda0" d="M18 0h1m171 0h1m13 0h1m44 0h1m178 0h2m1 0h1m86 0h2m119 0h1m11 0h1m10 0h2m16 0h2m50 0h1m1 0h2m12 0h4m32 0h1"/><path stroke="#57cda2" d="M141 0h1m44 0h2m78 0h1m131 0h2m26 0h1m88 0h1m12 0h1m16 0h1m57 0h2m19 0h2m19 0h1m6 0h1m24 0h1m30 0h1m29 0h1"/></g><rect x="563" y="699.8" width="1594" height="37.8" fill="none" stroke="#000" stroke-width="1.6"/>
<rect x="563" y="750" width="1594" height="37.6" fill="#808080"/><g transform="translate(563 768.8) scale(2 37.6)" fill="none" stroke-width="1" shape-rendering="crispEdges"><path stroke="#f0e92c" d="M6 0h2m38 0h1m22 0h1m9 0h2m3 0h2m32 0h1m49 0h1m6 0h1m63 0h1m2 0h1m66 0h1m26 0h2m23 0h2m35 0h1m51 0h1m122 0h1m47 0h1"/><path stroke="#e0e930" d="M52 0h1m40 0h2m25 0h2m45 0h1m127 0h1m62 0h1m28 0h2m92 0h1m25 0h1m2 0h2m51 0h1m33 0h2m34 0h2m5 0h2"/><path stroke="#4abda3" d="M11 0h2m112 0h1m51 0h2m5 0h2m55 0h1m96 0h1m1 0h1m77 0h2m11 0h1m5 0h1m5 0h2m38 0h1m12 0h1m2 0h1m8 0h1m97 0h1m1 0h2m10 0h1m6 0h2m19 0h1m31 0h2m10 0h1"/><path stroke="#42aca5" d="M303 0h1m48 0h1m50 0h2m1 0h2m47 0h1m18 0h1m27 0h2m142 0h1m4 0h2m5 0h2m6 0h1m11 0h2"/><path stroke="#4099a6" d="M333 0h1m10 0h1m170 0h2m93 0h2m14 0h1m17 0h1m9 0h1"/><path stroke="#3f86a8" d="M401 0h2m300 0h1"/><path stroke="#4072a6" d="M521 0h2m99 0h2m87 0h2"/><path stroke="#425fa3" d="M599 0h1m100 0h1m9 0h1m3 0h1"/><path stroke="#444ca0" d="M688 0h3m10 0h2m4 0h1m5 0h1m54 0h2m17 0h1"/><path stroke="#443d95" d="M15 0h1m680 0h2m69 0h1"/><path stroke="#433089" d="M433 0h2m259 0h2m2 0h2m5 0h2m26 0h1m27 0h3m21 0h2m6 0h1"/><path stroke="#392372" d="M197 0h2m431 0h3m52 0h1m18 0h1m25 0h1m4 0h2m29 0h1"/><path stroke="#d0e835" d="M112 0h2m75 0h1m54 0h2m23 0h1m24 0h1m22 0h1m2 0h1m55 0h1m93 0h1m56 0h1m28 0h1m19 0h1m1 0h1m4 0h1m11 0h2"/><path stroke="#281855" d="M196 0h1m235 0h1m290 0h3m1 0h3m7 0h1m5 0h1m5 0h2m4 0h2m16 0h1m20 0h1"/><path stroke="#170d36" d="M195 0h1m523 0h2m11 0h1m11 0h4m9 0h1m1 0h1m4 0h1m5 0h1m3 0h1m7 0h2m4 0h1m6 0h1"/><path stroke="#060513" d="M691 0h1m29 0h2m3 0h1m11 0h4m10 0h1m1 0h1m3 0h1m1 0h1m10 0h2m5 0h2m10 0h2"/><path stroke="#000" d="M8 0h3m188 0h5m8 0h4m214 0h1m148 0h3m32 0h6m15 0h4m47 0h2m20 0h2m7 0h2m12 0h1m2 0h1m7 0h1m5 0h1m2 0h1m1 0h1m11 0h1m9 0h3m2 0h2m2 0h1m4 0h1m2 0h1m3 0h1"/><path stroke="#bfe73b" d="M3 0h3m11 0h1m36 0h1m15 0h1m37 0h1m2 0h1m11 0h2m1 0h3m2 0h1m37 0h1m4 0h1m31 0h1m54 0h2m45 0h1m13 0h1m45 0h2m3 0h2m9 0h2m7 0h2m56 0h3m17 0h2m20 0h1m18 0h2m32 0h1m6 0h2m2 0h2m7 0h1m2 0h1m42 0h2m39 0h1m22 0h1"/><path stroke="#a8e44a" d="M16 0h1m5 0h2m36 0h1m27 0h1m21 0h1m22 0h2m41 0h1m10 0h2m68 0h2m27 0h1m41 0h1m20 0h1m16 0h2m2 0h2m6 0h1m1 0h1m14 0h2m81 0h1m18 0h1m3 0h1m7 0h1m30 0h5m5 0h1m8 0h1m2 0h1m1 0h2m1 0h2m2 0h1m10 0h1m1 0h1m2 0h1m12 0h1m1 0h1m36 0h1"/><path stroke="#92e258" d="M0 0h2m53 0h1m39 0h1m11 0h1m7 0h1m3 0h1m17 0h1m14 0h3m24 0h1m24 0h1m2 0h1m1 0h3m4 0h1m31 0h2m18 0h1m8 0h1m56 0h1m10 0h1m2 0h1m1 0h1m2 0h1m5 0h2m11 0h1m2 0h1m5 0h1m4 0h1m3 0h1m8 0h1m10 0h2m2 0h2m23 0h1m20 0h2m6 0h1m6 0h1m53 0h2m4 0h1m2 0h1m12 0h1m9 0h1m15 0h1m13 0h1m50 0h2m16 0h1m2 0h1m10 0h1"/><path stroke="#7fe06d" d="M2 0h1m10 0h2m32 0h2m4 0h1m2 0h2m5 0h1m10 0h2m10 0h1m22 0h1m19 0h2m1 0h1m10 0h1m5 0h2m5 0h1m15 0h2m76 0h3m38 0h1m29 0h1m2 0h1m29 0h1m1 0h1m6 0h1m27 0h2m7 0h1m7 0h2m30 0h1m26 0h1m1 0h1m19 0h3m13 0h2m10 0h2m12 0h1m4 0h2m1 0h1m8 0h2m5 0h1m14 0h1m1 0h1m13 0h1m3 0h1m13 0h1m44 0h1m7 0h1m4 0h1m7 0h2"/><path stroke="#71e089" d="M18 0h2m1 0h1m2 0h1m89 0h1m7 0h1m15 0h1m2 0h2m1 0h2m1 0h1m9 0h2m2 0h1m8 0h2m33 0h1m34 0h1m2 0h1m11 0h2m39 0h1m18 0h2m1 0h1m13 0h1m31 0h2m13 0h1m9 0h1m34 0h2m9 0h2m9 0h1m7 0h1m11 0h1m9 0h2m2 0h1m6 0h2m11 0h1m3 0h1m20 0h2m5 0h3m12 0h1m26 0h2m9 0h1m2 0h2m2 0h3m10 0h1m44 0h1m10 0h1m2 0h2m3 0h1m5 0h1m6 0h2"/><path stroke="#64dda0" d="M20 0h1m24 0h1m44 0h2m24 0h2m17 0h1m72 0h1m137 0h1m30 0h1m34 0h2m8 0h2m2 0h1m1 0h2m17 0h3m8 0h1m23 0h1m3 0h1m11 0h1m24 0h2m20 0h1m6 0h1m48 0h1m5 0h1m21 0h1m37 0h2m3 0h2m10 0h1"/><path stroke="#57cda2" d="M61 0h1m2 0h1m2 0h2m70 0h2m10 0h1m75 0h1m19 0h1m5 0h2m161 0h2m27 0h1m38 0h2m28 0h1m4 0h2m7 0h1m31 0h1m42 0h1m20 0h2m19 0h1m1 0h1m7 0h2m20 0h1m15 0h1m21 0h2"/></g><rect x="563" y="750" width="1594" height="37.6" fill="none" stroke="#000" stroke-width="1.6"/>
<rect x="563" y="800" width="1594" height="37.8" fill="#808080"/><g transform="translate(563 818.9) scale(2 37.8)" fill="none" stroke-width="1" shape-rendering="crispEdges"><path stroke="#f0e92c" d="M178 0h2m4 0h1m32 0h1m135 0h2m102 0h1m66 0h1m11 0h2m1 0h1m57 0h1"/><path stroke="#e0e930" d="M223 0h1m96 0h2m40 0h1m16 0h3m3 0h1m28 0h1m29 0h2m81 0h1m17 0h1m28 0h2m25 0h2"/><path stroke="#4abda3" d="M235 0h1m76 0h1m120 0h1m2 0h1m37 0h1m189 0h1m80 0h5m4 0h2m28 0h1m3 0h1"/><path stroke="#42aca5" d="M8 0h2m227 0h2m277 0h1m152 0h1m8 0h2m30 0h1m1 0h3m35 0h2m1 0h1m7 0h1m5 0h1m13 0h1m3 0h1"/><path stroke="#4099a6" d="M209 0h2m247 0h2m241 0h2m6 0h1m7 0h1m22 0h2m30 0h2m2 0h2m2 0h1m12 0h2"/><path stroke="#3f86a8" d="M230 0h2m203 0h1m20 0h1m164 0h2m83 0h1m9 0h1m4 0h2m29 0h1m4 0h1m4 0h1m15 0h1"/><path stroke="#4072a6" d="M468 0h2m150 0h1m111 0h3m2 0h2m26 0h1m2 0h4m10 0h1m9 0h1"/><path stroke="#425fa3" d="M615 0h1m1 0h1m75 0h1m4 0h2m7 0h2m11 0h1m7 0h2m12 0h2"/><path stroke="#444ca0" d="M0 0h2m428 0h2m182 0h1m104 0h1m15 0h2m29 0h1m24 0h1m3 0h2"/><path stroke="#443d95" d="M2 0h2m196 0h1m418 0h1m3 0h1m94 0h1m60 0h1m3 0h1"/><path stroke="#433089" d="M725 0h1m30 0h1m2 0h2"/><path stroke="#392372" d="M201 0h2m413 0h1m7 0h2"/><path stroke="#d0e835" d="M41 0h1m165 0h1m3 0h2m23 0h1m36 0h1m34 0h2m6 0h2m26 0h1m10 0h1m10 0h4m18 0h1m8 0h2m28 0h1m12 0h1m135 0h2m11 0h2m93 0h2m29 0h1"/><path stroke="#281855" d="M195 0h1m422 0h1m70 0h2"/><path stroke="#170d36" d="M196 0h2m431 0h1m4 0h2m2 0h2m52 0h1"/><path stroke="#060513" d="M198 0h2m432 0h2m2 0h1m54 0h1"/><path stroke="#000" d="M203 0h2m305 0h2m67 0h4m43 0h3m1 0h2m5 0h1m48 0h3m14 0h2"/><path stroke="#bfe73b" d="M20 0h2m46 0h1m118 0h1m25 0h1m109 0h2m27 0h1m33 0h2m1 0h1m2 0h1m3 0h1m3 0h1m25 0h1m49 0h2m12 0h2m1 0h1m26 0h1m9 0h1m7 0h1m23 0h1m24 0h2m21 0h4m56 0h1m4 0h1"/><path stroke="#a8e44a" d="M13 0h2m162 0h1m2 0h2m3 0h2m5 0h2m27 0h2m29 0h1m73 0h2m2 0h2m27 0h1m4 0h2m4 0h1m3 0h1m8 0h1m9 0h2m20 0h1m12 0h2m8 0h2m1 0h1m41 0h1m3 0h1m30 0h1m36 0h2m2 0h1m13 0h1m4 0h1m26 0h1m42 0h2m1 0h1m14 0h2m5 0h2m6 0h1"/><path stroke="#92e258" d="M4 0h1m5 0h1m5 0h1m158 0h2m13 0h2m77 0h1m15 0h1m49 0h1m9 0h2m48 0h1m3 0h1m53 0h2m29 0h3m28 0h1m37 0h2m13 0h2m25 0h2m10 0h2m53 0h2m1 0h1m5 0h2m24 0h1"/><path stroke="#7fe06d" d="M5 0h1m176 0h1m5 0h2m38 0h2m3 0h2m26 0h1m52 0h2m56 0h2m2 0h1m13 0h2m50 0h2m16 0h2m2 0h2m1 0h1m60 0h1m2 0h4m9 0h1m6 0h2m7 0h1m4 0h2m3 0h1m1 0h1m13 0h1m4 0h2m7 0h1m5 0h1m34 0h3m8 0h3m4 0h1m17 0h1m4 0h1m47 0h2"/><path stroke="#71e089" d="M6 0h2m7 0h1m226 0h2m3 0h1m84 0h1m10 0h1m90 0h1m13 0h1m13 0h2m2 0h1m68 0h1m13 0h2m6 0h2m2 0h1m23 0h1m7 0h2m45 0h1m5 0h2m9 0h2m1 0h1m15 0h1m3 0h1m2 0h1m12 0h1m3 0h1m25 0h2m11 0h1m23 0h2m21 0h2"/><path stroke="#64dda0" d="M19 0h1m163 0h1m10 0h1m13 0h1m5 0h3m2 0h2m18 0h3m4 0h1m89 0h1m14 0h1m94 0h2m1 0h2m20 0h3m4 0h4m10 0h1m4 0h1m1 0h1m17 0h1m24 0h2m2 0h2m61 0h1m40 0h1m4 0h2m4 0h1m6 0h1m25 0h2m93 0h2"/><path stroke="#57cda2" d="M11 0h2m9 0h2m194 0h1m25 0h2m87 0h1m3 0h3m92 0h1m4 0h1m44 0h1m39 0h1m80 0h2m39 0h2m59 0h1m5 0h1m11 0h2m19 0h1m13 0h1m15 0h2"/></g><rect x="563" y="800" width="1594" height="37.8" fill="none" stroke="#000" stroke-width="1.6"/>
<text transform="translate(554.4 677.7) scale(0.851 1)" x="-238.5" font-size="30" xml:space="preserve"><tspan font-weight="700">P100</tspan> (replicate A)</text>
<text transform="translate(554.4 728.5) scale(0.854 1)" x="-336.2" font-size="30" xml:space="preserve"><tspan font-weight="700">Total serum</tspan> (replicate A)</text>
<text transform="translate(558.7 780) scale(0.852 1)" x="-250.1" font-size="30" xml:space="preserve"><tspan font-weight="700">P100</tspan> (replucate B)</text>
<text transform="translate(554 831.2) scale(0.854 1)" x="-337.9" font-size="30" xml:space="preserve"><tspan font-weight="700">Total serum</tspan> (replicate B)</text>
<defs><linearGradient id="lgm"><stop offset="0%" stop-color="#fcfdc0"/><stop offset="10%" stop-color="#fde2a4"/><stop offset="22%" stop-color="#fbb078"/><stop offset="32%" stop-color="#f88a68"/><stop offset="42%" stop-color="#f0605e"/><stop offset="50%" stop-color="#d8487c"/><stop offset="57%" stop-color="#b438a8"/><stop offset="64%" stop-color="#9028cc"/><stop offset="70%" stop-color="#6c24b4"/><stop offset="76%" stop-color="#4a2296"/><stop offset="83%" stop-color="#281858"/><stop offset="90%" stop-color="#0c0a1e"/><stop offset="100%" stop-color="#000004"/></linearGradient><linearGradient id="lgv"><stop offset="0%" stop-color="#f0e92c"/><stop offset="14.6%" stop-color="#c4e838"/><stop offset="29.3%" stop-color="#86e060"/><stop offset="41.5%" stop-color="#66e0a0"/><stop offset="56.1%" stop-color="#42b4a4"/><stop offset="70.7%" stop-color="#3f7fa8"/><stop offset="85.4%" stop-color="#444aa0"/><stop offset="97.6%" stop-color="#432a84"/></linearGradient></defs><text transform="translate(2155 610.6) scale(0.843 1)" x="-172" font-size="26" xml:space="preserve">rel. abundance</text>
<rect x="2035" y="614" width="119.5" height="23.6" fill="url(#lgm)" stroke="#222" stroke-width="1"/><text transform="translate(2037 632.5) scale(0.791 1)" x="0" font-size="16.5" fill="#111" xml:space="preserve">-2.5</text>
<text transform="translate(2064 632.5) scale(0.845 1)" x="0" font-size="19.5" fill="#fff" xml:space="preserve">z-score</text>
<text transform="translate(2123.1 632.5) scale(0.810 1)" x="0" font-size="16.5" fill="#fff" xml:space="preserve">+2.5</text>
<text transform="translate(2155.5 862.2) scale(0.846 1)" x="-185.1" font-size="26" xml:space="preserve">abs. abundance</text>
<rect x="2016.5" y="867.6" width="140.7" height="27.7" fill="url(#lgv)" stroke="#222" stroke-width=".8"/><text transform="translate(2018.8 891.4) scale(0.783 1)" x="0" font-size="17" fill="#111" xml:space="preserve">6</text>
<text transform="translate(2034 891.4) scale(0.882 1)" x="0" font-size="20" fill="#fff" xml:space="preserve">intensity log</text>
<text transform="translate(2128.4 896) scale(0.785 1)" x="0" font-size="11" fill="#fff" xml:space="preserve">10</text>
<text transform="translate(2145.3 891.4) scale(0.836 1)" x="0" font-size="17" fill="#fff" xml:space="preserve">8</text>
<path d="M573.5 29.8H1578M573.5 29.8V42.5M1578 29.8V41M578 32.2H760M669 31.2H1000M720 30.6H1170M1006 33.2H1128.1M1377.2 35.5H1418.7M1406.4 35.8H1464.2M1147.3 34.7H1196.3M1227.2 36.8H1366.6M724.6 33.1H816.9M1045.8 36H1289M1292.3 37H1416.7M673.5 36.5H777.6M1247.6 32.9H1380.4M825.4 34.1H911.6M1324.7 37.8H1408.6M1389 34.7H1441.1M1032.4 35H1077.5M1413.9 36H1478.5M691.5 37.9H858.8M766.8 32.9H808.6M1076.6 32.9H1120.4M1037 35H1279.6M946.3 33H1126.8M1113.4 36.1H1191.4M1461.7 35.8H1513.6M1137.9 34H1210.7M1495.3 33.1H1570M1229 33.8H1478.2M1142.2 34.6H1191.7M600.8 35.7V39.7M587.5 39.7H606.3M587.5 39.7V41.6M606.3 39.7V43M584.6 41.6H590.1M584.6 41.6V43.7M590.1 41.6V45.2M582.7 43.7H585.3M582.7 43.7V46.8M585.3 43.7V45.5M584.3 45.5H586.2M584.3 45.5V47.4M586.2 45.5V46.8M588 45.2H590.9M588 45.2V48.2M590.9 45.2V48.3M589.6 48.3H591.7M589.6 48.3V51.2M591.7 48.3V50.4M598.8 43H612.1M598.8 43V46.2M612.1 43V45M595 46.2H600.8M595 46.2V49.4M600.8 46.2V47.9M594.5 49.4H596.4M594.5 49.4V50.9M596.4 49.4V52.9M598 47.9H601.9M598 47.9V49.4M601.9 47.9V49.9M607 45H614.5M607 45V47.4M614.5 45V46.3M605.9 47.4H608.3M605.9 47.4V50.2M608.3 47.4V48.6M611.7 46.3H616.8M611.7 46.3V49.6M616.8 46.3V47.7M610.9 49.6H613.1M610.9 49.6V52.9M613.1 49.6V51.9M609.8 52.9H611.3M609.8 52.9V55.3M611.3 52.9V54.4M614.7 47.7H617.5M614.7 47.7V49.2M617.5 47.7V49.9M616.1 49.9H618.2M616.1 49.9V52.2M618.2 49.9V53.4M617.2 53.4H618.6M617.2 53.4V57M618.6 53.4V56.7M644.5 35.2V36.9M633.4 36.9H656.6M633.4 36.9V38.6M656.6 36.9V39.7M624.9 38.6H637M624.9 38.6V41.5M637 38.6V40.8M623.3 41.5H627M623.3 41.5V42.6M627 41.5V44M622.7 42.6H624.7M622.7 42.6V44.2M624.7 42.6V45.7M622 44.2H623.5M622 44.2V47.5M623.5 44.2V45.3M625.8 44H627.4M625.8 44V45.5M627.4 44V46.6M632.7 40.8H641.1M632.7 40.8V43.2M641.1 40.8V41.9M630.3 43.2H634.4M630.3 43.2V46.2M634.4 43.2V44.2M633.7 44.2H636.1M633.7 44.2V47.8M636.1 44.2V47.4M632.7 47.8H634.5M632.7 47.8V49.4M634.5 47.8V50.8M639.9 41.9H644.3M639.9 41.9V45.4M644.3 41.9V43.9M638.3 45.4H641.4M638.3 45.4V47.8M641.4 45.4V47.4M637.3 47.8H638.8M637.3 47.8V49.5M638.8 47.8V50.1M640.2 47.4H641.8M640.2 47.4V48.7M641.8 47.4V50.5M649.5 39.7H660.7M649.5 39.7V40.9M660.7 39.7V41.5M648.1 40.9H652.1M648.1 40.9V44.4M652.1 40.9V43.9M647.4 44.4H650M647.4 44.4V47.7M650 44.4V47.8M651.2 43.9H652.6M651.2 43.9V46.5M652.6 43.9V46.2M656.1 41.5H663.2M656.1 41.5V43.2M663.2 41.5V43.7M654.9 43.2H657.4M654.9 43.2V45.3M657.4 43.2V44.7M654.1 45.3H655.4M654.1 45.3V46.8M655.4 45.3V47.7M661.2 43.7H665.8M661.2 43.7V45.5M665.8 43.7V45.8M660.2 45.5H662.8M660.2 45.5V48.8M662.8 45.5V48.4M659.4 48.8H661.1M659.4 48.8V50.7M661.1 48.8V49.9M665.1 45.8H667.1M665.1 45.8V48.2M667.1 45.8V47.1M664.3 48.2H665.6M664.3 48.2V50.5M665.6 48.2V49.3M677.3 35.9V37M675 37H684.1M675 37V39.7M684.1 37V39.1M671.7 39.7H678.5M671.7 39.7V41.1M678.5 39.7V42.5M669.6 41.1H673M669.6 41.1V42.9M673 41.1V43.1M669 42.9H670.3M669 42.9V46.2M670.3 42.9V45.4M671.9 43.1H674M671.9 43.1V46.3M674 43.1V45.8M676.2 42.5H679.6M676.2 42.5V44.7M679.6 42.5V45.3M678.7 45.3H681M678.7 45.3V47.2M681 45.3V47.8M678.3 47.2H679.7M678.3 47.2V48.3M679.7 47.2V48.7M682.7 39.1H685M682.7 39.1V41.5M685 39.1V42.4M684.4 42.4H685.8M684.4 42.4V44.5M685.8 42.4V45.6M704 35.8V36.8M695.5 36.8H710.9M695.5 36.8V39M710.9 36.8V39.5M708.5 39.5H717M708.5 39.5V43M717 39.5V40.7M706.6 43H712.7M706.6 43V46M712.7 43V46.5M704.6 46H708.8M704.6 46V49.4M708.8 46V48.4M704 49.4H706.2M704 49.4V50.9M706.2 49.4V50.6M703.3 50.9H704.9M703.3 50.9V52.4M704.9 50.9V54M707.7 48.4H709.7M707.7 48.4V51.4M709.7 48.4V50.6M711.4 46.5H713.3M711.4 46.5V49M713.3 46.5V48M716.2 40.7H718.6M716.2 40.7V43.8M718.6 40.7V44.1M715.2 43.8H716.9M715.2 43.8V47.2M716.9 43.8V45.8M740.1 36.4V37M731.2 37H749.3M731.2 37V38.7M749.3 37V39.6M725.9 38.7H735.1M725.9 38.7V39.7M735.1 38.7V40.2M724 39.7H727.9M724 39.7V41.5M727.9 39.7V42.9M722.5 41.5H724.5M722.5 41.5V43.7M724.5 41.5V42.8M723.5 42.8H725M723.5 42.8V45.5M725 42.8V46.3M727.4 42.9H729.2M727.4 42.9V45.4M729.2 42.9V44M726.5 45.4H727.8M726.5 45.4V46.5M727.8 45.4V46.4M733 40.2H738.3M733 40.2V41.4M738.3 40.2V43M732.1 41.4H735.3M732.1 41.4V42.5M735.3 41.4V43.9M731.4 42.5H733.7M731.4 42.5V44.5M733.7 42.5V45.3M730.5 44.5H732M730.5 44.5V46.8M732 44.5V47.8M737.6 43H739.7M737.6 43V45.4M739.7 43V46M737.2 45.4H738.5M737.2 45.4V48.5M738.5 45.4V48.2M746.9 39.6H755.7M746.9 39.6V41.7M755.7 39.6V43.1M744.1 41.7H750.6M744.1 41.7V44.8M750.6 41.7V44.3M741.4 44.8H745.1M741.4 44.8V46.9M745.1 44.8V46.8M765.2 33V38.1M760.7 38.1H767.3M760.7 38.1V40.6M767.3 38.1V39.6M759.6 40.6H761.6M759.6 40.6V42.3M761.6 40.6V44.1M765.4 39.6H769.9M765.4 39.6V41M769.9 39.6V42.6M763.6 41H766.3M763.6 41V43.2M766.3 41V43.7M765.6 43.7H767.3M765.6 43.7V45.5M767.3 43.7V46.5M769.1 42.6H771M769.1 42.6V44.8M771 42.6V43.8M781.4 35.1V39.1M777.8 39.1H785.2M777.8 39.1V40.5M785.2 39.1V41.8M775.9 40.5H779.8M775.9 40.5V44M779.8 40.5V43M774.7 44H776.7M774.7 44V46.8M776.7 44V45.2M778.5 43H780.4M778.5 43V44M780.4 43V46.3M783.9 41.8H787.5M783.9 41.8V43.8M787.5 41.8V44.8M783.3 43.8H785.6M783.3 43.8V46.6M785.6 43.8V45.6M782.8 46.6H784.5M782.8 46.6V48.4M784.5 46.6V49.4M786.9 44.8H788.2M786.9 44.8V47.9M788.2 44.8V46M805.8 33.7V36.7M800.9 36.7H815.5M800.9 36.7V40M815.5 36.7V39.2M797.4 40H807.1M797.4 40V43.3M807.1 40V41.8M793.7 43.3H799.9M793.7 43.3V44.4M799.9 43.3V46.2M791.9 44.4H794.4M791.9 44.4V47.8M794.4 44.4V45.7M793.3 45.7H795M793.3 45.7V47.6M795 45.7V47.2M798 46.2H801.7M798 46.2V48.6M801.7 46.2V48.2M796.8 48.6H798.7M796.8 48.6V50.2M798.7 48.6V51.4M800.5 48.2H802.4M800.5 48.2V49.3M802.4 48.2V50.8M805.9 41.8H809.4M805.9 41.8V43.8M809.4 41.8V44.2M804.3 43.8H806.6M804.3 43.8V45.7M806.6 43.8V46.9M805.5 46.9H807.1M805.5 46.9V48.1M807.1 46.9V48.8M814.1 39.2H818.9M814.1 39.2V42.7M818.9 39.2V41.9M812.5 42.7H815.9M812.5 42.7V44.1M815.9 42.7V43.8M811.4 44.1H813.2M811.4 44.1V45.5M813.2 44.1V47.2M815.4 43.8H817M815.4 43.8V46.6M817 43.8V45.3M818.3 41.9H819.8M818.3 41.9V44.6M819.8 41.9V44.4M839.5 34.7V37.3M828.2 37.3H846.5M828.2 37.3V39.3M846.5 37.3V40.6M825.2 39.3H832.2M825.2 39.3V42M832.2 39.3V40.3M824 42H828M824 42V44.9M828 42V44.3M823.2 44.9H826M823.2 44.9V46.6M826 44.9V46.3M821.8 46.6H823.7M821.8 46.6V48.2M823.7 46.6V47.8M822.6 47.8H824.1M822.6 47.8V50.1M824.1 47.8V51.1M830.9 40.3H833.9M830.9 40.3V42.7M833.9 40.3V42.4M839.1 40.6H850.5M839.1 40.6V41.9M850.5 40.6V42.2M837.8 41.9H841.8M837.8 41.9V43.4M841.8 41.9V44.4M836.3 43.4H838.9M836.3 43.4V46.4M838.9 43.4V45.8M837.9 45.8H839.4M837.9 45.8V46.9M839.4 45.8V48.6M841.4 44.4H842.8M841.4 44.4V47.8M842.8 44.4V46.9M847.6 42.2H854.9M847.6 42.2V44.1M854.9 42.2V43.4M844.6 44.1H849M844.6 44.1V47M849 44.1V46.9M843.7 47H845.1M843.7 47V49.9M845.1 47V49.2M853.4 43.4H856.3M853.4 43.4V44.9M856.3 43.4V45.6M852.7 44.9H854.1M852.7 44.9V47.9M854.1 44.9V46.8M855.8 45.6H857.3M855.8 45.6V46.7M857.3 45.6V47.2M872.5 36.4V41.7M863.6 41.7H877.5M863.6 41.7V44.4M877.5 41.7V44.9M860.7 44.4H865.6M860.7 44.4V45.8M865.6 44.4V45.5M859.2 45.8H861.2M859.2 45.8V48.6M861.2 45.8V48.3M860.8 48.3H862.3M860.8 48.3V50.4M862.3 48.3V50.2M863.7 45.5H866.6M863.7 45.5V48.4M866.6 45.5V47.7M865.4 47.7H867.4M865.4 47.7V49.3M867.4 47.7V49.4M871.3 44.9H880.1M871.3 44.9V46M880.1 44.9V46.9M869.4 46H872M869.4 46V48.3M872 46V47.9M870.8 47.9H872.7M870.8 47.9V49.4M872.7 47.9V50.9M877.8 46.9H884M877.8 46.9V49.5M884 46.9V50.4M875.6 49.5H879.4M875.6 49.5V53M879.4 49.5V50.6M874.5 53H876.1M874.5 53V55M876.1 53V54.9M878.3 50.6H880.5M878.3 50.6V53.3M880.5 50.6V54M883.4 50.4H885.7M883.4 50.4V53.6M885.7 50.4V53.7M882.3 53.6H884.1M882.3 53.6V55.7M884.1 53.6V55.4M900 34.9V39.7M892 39.7H904.1M892 39.7V40.9M904.1 39.7V42.7M889.6 40.9H893.7M889.6 40.9V42.4M893.7 40.9V42.2M888.8 42.4H890.5M888.8 42.4V45.8M890.5 42.4V45.2M893 42.2H895.4M893 42.2V43.6M895.4 42.2V43.5M891.8 43.6H893.5M891.8 43.6V46.8M893.5 43.6V47.1M899.7 42.7H907.7M899.7 42.7V46.2M907.7 42.7V44.5M897.1 46.2H900.7M897.1 46.2V49.2M900.7 46.2V49.2M899.1 49.2H901.6M899.1 49.2V51.2M901.6 49.2V50.9M900.7 50.9H902.3M900.7 50.9V53.6M902.3 50.9V53.6M904.9 44.5H909.3M904.9 44.5V46.8M909.3 44.5V45.6M904.1 46.8H905.6M904.1 46.8V49.5M905.6 46.8V48.8M907.5 45.6H910.4M907.5 45.6V47.9M910.4 45.6V48M909.7 48H911.5M909.7 48V49.2M911.5 48V50.4M931.9 33.2V36.9M917.8 36.9H937.3M917.8 36.9V40.5M937.3 36.9V38.4M914 40.5H919.3M914 40.5V43.1M919.3 40.5V42.1M913.4 43.1H914.9M913.4 43.1V45.8M914.9 43.1V45.5M916.9 42.1H920.8M916.9 42.1V44.2M920.8 42.1V45M916 44.2H917.4M916 44.2V46.6M917.4 44.2V46.1M918.9 45H921.4M918.9 45V48.2M921.4 45V46.9M920.7 46.9H922.5M920.7 46.9V50.2M922.5 46.9V47.9M927.6 38.4H941.7M927.6 38.4V41.3M941.7 38.4V41.3M925.7 41.3H930.1M925.7 41.3V43.9M930.1 41.3V42.8M924.9 43.9H927.5M924.9 43.9V45.1M927.5 43.9V46.1M923.6 45.1H925.4M923.6 45.1V47.4M925.4 45.1V48.5M929.6 42.8H931.4M929.6 42.8V44M931.4 42.8V46.4M928.8 44H930.2M928.8 44V45.5M930.2 44V47.1M937.2 41.3H946.9M937.2 41.3V42.7M946.9 41.3V44.2M933.3 42.7H938.6M933.3 42.7V46.2M938.6 42.7V44M932.8 46.2H934.2M932.8 46.2V48.3M934.2 46.2V48.8M937.1 44H941M937.1 44V47M941 44V46.2M936.2 47H938.7M936.2 47V50.5M938.7 47V48.8M935.2 50.5H936.7M935.2 50.5V54M936.7 50.5V53.3M940.3 46.2H941.8M940.3 46.2V49.6M941.8 46.2V48.9M945.3 44.2H949.7M945.3 44.2V46.6M949.7 44.2V47.2M943.9 46.6H946.7M943.9 46.6V48.9M946.7 46.6V48.2M943.3 48.9H944.7M943.3 48.9V50.9M944.7 48.9V50M945.8 48.2H947.2M945.8 48.2V51.5M947.2 48.2V51.1M949 47.2H950.6M949 47.2V48.2M950.6 47.2V50.7M964.2 35.3V39.7M957.4 39.7H967.9M957.4 39.7V40.8M967.9 39.7V42.5M956.2 40.8H959.8M956.2 40.8V42.1M959.8 40.8V42.7M954.4 42.1H956.8M954.4 42.1V45.4M956.8 42.1V45.2M956.2 45.2H958M956.2 45.2V47M958 45.2V47.9M998.2 33.9V38.6M985.2 38.6H1008.4M985.2 38.6V41.9M1008.4 38.6V41.3M981.7 41.9H991.9M981.7 41.9V43.8M991.9 41.9V45M979.6 43.8H986.3M979.6 43.8V46.2M986.3 43.8V45.7M990.2 45H993.7M990.2 45V47.6M993.7 45V47.8M989.7 47.6H991.5M989.7 47.6V49.7M991.5 47.6V51.2M992.6 47.8H994.3M992.6 47.8V48.9M994.3 47.8V50.3M1000.4 41.3H1013.5M1000.4 41.3V42.5M1013.5 41.3V43.5M997.7 42.5H1002.8M997.7 42.5V45.7M1002.8 42.5V44.6M996.8 45.7H999.2M996.8 45.7V48M999.2 45.7V47.9M996.2 48H997.7M996.2 48V51.3M997.7 48V51.6M1002.1 44.6H1004.8M1002.1 44.6V47.4M1004.8 44.6V45.8M1001.2 47.4H1003.2M1001.2 47.4V50.6M1003.2 47.4V49.5M1009 43.5H1017.1M1009 43.5V46.2M1017.1 43.5V46.9M1007.9 46.2H1011.5M1007.9 46.2V49M1011.5 46.2V48.4M1006.7 49H1009.1M1006.7 49V50.4M1009.1 49V50.5M1015.4 46.9H1019.9M1015.4 46.9V49.3M1019.9 46.9V48M1013.5 49.3H1016.3M1013.5 49.3V51.9M1016.3 49.3V51.1M1014.9 51.1H1016.8M1014.9 51.1V52.7M1016.8 51.1V54.5M1016.2 54.5H1017.6M1016.2 54.5V56.7M1017.6 54.5V57.3M1018.9 48H1020.6M1018.9 48V49.7M1020.6 48V49M1037.1 33.7V38.6M1029.1 38.6H1043.9M1029.1 38.6V41.9M1043.9 38.6V41M1027.4 41.9H1034.2M1027.4 41.9V44.6M1034.2 41.9V45.4M1025.6 44.6H1030.7M1025.6 44.6V47.2M1030.7 44.6V48.2M1023.7 47.2H1027M1023.7 47.2V49.9M1027 47.2V48.4M1023.3 49.9H1024.7M1023.3 49.9V51.3M1024.7 49.9V52M1025.9 48.4H1027.8M1025.9 48.4V50.9M1027.8 48.4V49.5M1030.2 48.2H1031.9M1030.2 48.2V51.5M1031.9 48.2V50.5M1033.6 45.4H1035.3M1033.6 45.4V48.1M1035.3 45.4V48.1M1040.7 41H1048.7M1040.7 41V44.3M1048.7 41V42.8M1037.3 44.3H1042.1M1037.3 44.3V45.5M1042.1 44.3V45.8M1036.6 45.5H1038M1036.6 45.5V47.5M1038 45.5V48.9M1040.1 45.8H1043.5M1040.1 45.8V48M1043.5 45.8V47.9M1039.1 48H1040.5M1039.1 48V50.6M1040.5 48V49.1M1042.7 47.9H1044.7M1042.7 47.9V49M1044.7 47.9V49M1047.6 42.8H1050.8M1047.6 42.8V46.2M1050.8 42.8V46.4M1062 35.5V39.5M1058.4 39.5H1066.8M1058.4 39.5V43M1066.8 39.5V41.5M1056.9 43H1061.7M1056.9 43V46.1M1061.7 43V44.5M1055.7 46.1H1059.1M1055.7 46.1V47.3M1059.1 46.1V49.2M1054.8 47.3H1056.9M1054.8 47.3V48.6M1056.9 47.3V49.7M1061 44.5H1062.4M1061 44.5V46.1M1062.4 44.5V47.8M1064.9 41.5H1068.6M1064.9 41.5V43.9M1068.6 41.5V45M1064.3 43.9H1066.1M1064.3 43.9V45.2M1066.1 43.9V46.1M1067.2 45H1069.1M1067.2 45V48.6M1069.1 45V46.9M1068.2 46.9H1069.5M1068.2 46.9V49M1069.5 46.9V50M1088.2 33.9V38.9M1076.6 38.9H1093.5M1076.6 38.9V40.1M1093.5 38.9V40.2M1075.1 40.1H1080.4M1075.1 40.1V43.2M1080.4 40.1V42.8M1072.8 43.2H1076.6M1072.8 43.2V45.4M1076.6 43.2V45.2M1072.4 45.4H1073.9M1072.4 45.4V47.5M1073.9 45.4V47.1M1089.6 40.2H1101.2M1089.6 40.2V42.4M1101.2 40.2V43M1087.7 42.4H1095.4M1087.7 42.4V44M1095.4 42.4V45.4M1085.9 44H1091.7M1085.9 44V46M1091.7 44V46.3M1084.6 46H1088.6M1084.6 46V48.5M1088.6 46V47.3M1083.1 48.5H1085.8M1083.1 48.5V50.7M1085.8 48.5V50.3M1085.3 50.3H1086.8M1085.3 50.3V52.5M1086.8 50.3V52.4M1090.4 46.3H1092.2M1090.4 46.3V49.3M1092.2 46.3V48.4M1094.5 45.4H1096.4M1094.5 45.4V48.3M1096.4 45.4V46.8M1098.4 43H1102.3M1098.4 43V45M1102.3 43V44.6M1101.3 44.6H1104.1M1101.3 44.6V47M1104.1 44.6V47.1M1100.2 47H1102M1100.2 47V50.3M1102 47V49.7M1122.6 36.5V39.4M1112.3 39.4H1128.6M1112.3 39.4V41.1M1128.6 39.4V42.4M1108.8 41.1H1114.8M1108.8 41.1V42.3M1114.8 41.1V43.4M1108 42.3H1110.5M1108 42.3V44.8M1110.5 42.3V44.7M1107.3 44.8H1109M1107.3 44.8V47.4M1109 44.8V45.8M1113.5 43.4H1117M1113.5 43.4V44.8M1117 43.4V46.7M1112.7 44.8H1115M1112.7 44.8V48M1115 44.8V45.9M1112.2 48H1113.7M1112.2 48V49.9M1113.7 48V49.4M1123.7 42.4H1134M1123.7 42.4V43.6M1134 42.4V44M1119.7 43.6H1125.1M1119.7 43.6V45.2M1125.1 43.6V45.6M1119.3 45.2H1120.7M1119.3 45.2V47.6M1120.7 45.2V47.2M1123.4 45.6H1127.4M1123.4 45.6V48.5M1127.4 45.6V48.8M1122.1 48.5H1124.4M1122.1 48.5V50.1M1124.4 48.5V49.8M1123.5 49.8H1124.8M1123.5 49.8V52.6M1124.8 49.8V53.1M1126.8 48.8H1128.5M1126.8 48.8V50.5M1128.5 48.8V50.8M1132.5 44H1137.3M1132.5 44V45.9M1137.3 44V46.8M1131.2 45.9H1134.5M1131.2 45.9V47.5M1134.5 45.9V47.8M1129.7 47.5H1131.7M1129.7 47.5V49.8M1131.7 47.5V49.4M1130.8 49.4H1132.3M1130.8 49.4V51.2M1132.3 49.4V52.6M1134.1 47.8H1135.4M1134.1 47.8V50M1135.4 47.8V50.1M1136.8 46.8H1138.3M1136.8 46.8V48M1138.3 46.8V50M1158.3 34.8V36.9M1150.8 36.9H1168.7M1150.8 36.9V38.6M1168.7 36.9V39.9M1145.3 38.6H1155.8M1145.3 38.6V40.1M1155.8 38.6V40M1142.8 40.1H1147.8M1142.8 40.1V43.5M1147.8 40.1V42.9M1141.2 43.5H1143.7M1141.2 43.5V46.9M1143.7 43.5V44.6M1143.2 44.6H1144.7M1143.2 44.6V46.1M1144.7 44.6V47.8M1146.3 42.9H1148.8M1146.3 42.9V45.7M1148.8 42.9V44.6M1148.4 44.6H1149.9M1148.4 44.6V47.4M1149.9 44.6V47.5M1153.4 40H1158.9M1153.4 40V43.4M1158.9 40V42M1151.5 43.4H1154.6M1151.5 43.4V46.1M1154.6 43.4V46.7M1154 46.7H1155.9M1154 46.7V48.9M1155.9 46.7V50.2M1153.5 48.9H1154.9M1153.5 48.9V51.6M1154.9 48.9V50.9M1157.4 42H1159.7M1157.4 42V44.2M1159.7 42V43.7M1159.2 43.7H1160.8M1159.2 43.7V45.9M1160.8 43.7V46.8M1166.6 39.9H1174.1M1166.6 39.9V42M1174.1 39.9V41.7M1164.7 42H1170.1M1164.7 42V45M1170.1 42V43M1163.3 45H1166.8M1163.3 45V46.9M1166.8 45V46.3M1162.4 46.9H1164.5M1162.4 46.9V49.2M1164.5 46.9V49.6M1166.4 46.3H1167.8M1166.4 46.3V49.4M1167.8 46.3V49.6M1169.5 43H1171.5M1169.5 43V45M1171.5 43V45.9M1168.8 45H1170.2M1168.8 45V46.7M1170.2 45V46.2M1173.5 41.7H1175.6M1173.5 41.7V44.8M1175.6 41.7V44.6M1172.7 44.8H1174.2M1172.7 44.8V47.3M1174.2 44.8V47.8M1201.3 34.1V38.2M1193.9 38.2H1216.6M1193.9 38.2V41.4M1216.6 38.2V40.3M1184.5 41.4H1199.8M1184.5 41.4V42.8M1199.8 41.4V42.9M1180.7 42.8H1186.6M1180.7 42.8V45.4M1186.6 42.8V45.8M1179.4 45.4H1181.5M1179.4 45.4V47M1181.5 45.4V47.6M1185.1 45.8H1188.9M1185.1 45.8V48.8M1188.9 45.8V47.1M1183.7 48.8H1186M1183.7 48.8V50.3M1186 48.8V52.1M1185.2 52.1H1186.6M1185.2 52.1V54.8M1186.6 52.1V55.5M1188 47.1H1189.5M1188 47.1V49.9M1189.5 47.1V49.6M1193.9 42.9H1203.3M1193.9 42.9V46.2M1203.3 42.9V46.4M1192.4 46.2H1195.8M1192.4 46.2V47.5M1195.8 46.2V47.4M1191.3 47.5H1193.2M1191.3 47.5V50.3M1193.2 47.5V50.9M1198.9 46.4H1204.9M1198.9 46.4V47.7M1204.9 46.4V49.4M1198.3 47.7H1199.9M1198.3 47.7V51.2M1199.9 47.7V49M1202.7 49.4H1207M1202.7 49.4V51.8M1207 49.4V52.4M1202 51.8H1204.1M1202 51.8V53.7M1204.1 51.8V55.2M1201.4 53.7H1202.8M1201.4 53.7V56M1202.8 53.7V56.5M1205.9 52.4H1208.1M1205.9 52.4V54.2M1208.1 52.4V53.6M1213.5 40.3H1220.9M1213.5 40.3V41.4M1220.9 40.3V41.7M1211.8 41.4H1216.1M1211.8 41.4V44.3M1216.1 41.4V43.5M1210.7 44.3H1213.3M1210.7 44.3V45.4M1213.3 44.3V46.3M1209.6 45.4H1211M1209.6 45.4V47.7M1211 45.4V47.7M1215.1 43.5H1216.8M1215.1 43.5V44.6M1216.8 43.5V46.7M1242.5 35.7V39.2M1232.9 39.2H1250.7M1232.9 39.2V41.6M1250.7 39.2V40.3M1227 41.6H1235.2M1227 41.6V43.9M1235.2 41.6V44.8M1225.6 43.9H1227.9M1225.6 43.9V46.6M1227.9 43.9V45.1M1232.9 44.8H1238.8M1232.9 44.8V47.1M1238.8 44.8V46.8M1232 47.1H1235.6M1232 47.1V48.4M1235.6 47.1V49.6M1230.1 48.4H1232.8M1230.1 48.4V50.3M1232.8 48.4V51.7M1232.3 51.7H1234.2M1232.3 51.7V52.8M1234.2 51.7V54.2M1232 52.8H1233.3M1232 52.8V54.7M1233.3 52.8V54.6M1237.8 46.8H1240.1M1237.8 46.8V50.1M1240.1 46.8V49.9M1245.8 40.3H1255.5M1245.8 40.3V42M1255.5 40.3V42.3M1243.1 42H1247.9M1243.1 42V44.7M1247.9 42V44.2M1242.2 44.7H1244.3M1242.2 44.7V48.1M1244.3 44.7V48.2M1246.9 44.2H1249.6M1246.9 44.2V46.1M1249.6 44.2V46M1246.4 46.1H1248.2M1246.4 46.1V49M1248.2 46.1V48.9M1253.8 42.3H1258.7M1253.8 42.3V45.9M1258.7 42.3V44.8M1252 45.9H1255.2M1252 45.9V47.2M1255.2 45.9V48.5M1251 47.2H1252.5M1251 47.2V49.1M1252.5 47.2V49M1254.2 48.5H1255.9M1254.2 48.5V50.4M1255.9 48.5V49.8M1258 44.8H1259.7M1258 44.8V46M1259.7 44.8V47.9M1279.2 33.4V41.8M1272.7 41.8H1290.4M1272.7 41.8V43.5M1290.4 41.8V44.8M1266.3 43.5H1277.5M1266.3 43.5V45M1277.5 43.5V45.4M1264.2 45H1269M1264.2 45V46.5M1269 45V46.6M1262.1 46.5H1264.9M1262.1 46.5V49M1264.9 46.5V49.8M1264.1 49.8H1266.1M1264.1 49.8V52.6M1266.1 49.8V53M1267.8 46.6H1269.9M1267.8 46.6V48.6M1269.9 46.6V47.8M1274.5 45.4H1280.9M1274.5 45.4V48.8M1280.9 45.4V48.7M1272 48.8H1275.4M1272 48.8V50.1M1275.4 48.8V52.3M1278.6 48.7H1281.6M1278.6 48.7V51M1281.6 48.7V50.3M1280.2 50.3H1282.4M1280.2 50.3V51.3M1282.4 50.3V51.4M1281.7 51.4H1283.2M1281.7 51.4V52.6M1283.2 51.4V53.6M1288.7 44.8H1295.2M1288.7 44.8V47.7M1295.2 44.8V46.6M1285.7 47.7H1290.5M1285.7 47.7V49.3M1290.5 47.7V49M1285.1 49.3H1286.9M1285.1 49.3V51.5M1286.9 49.3V52.3M1289.2 49H1292.2M1289.2 49V51.8M1292.2 49V52.4M1288.5 51.8H1290.2M1288.5 51.8V54.3M1290.2 51.8V54.9M1291.5 52.4H1292.8M1291.5 52.4V55.1M1292.8 52.4V55.5M1294.4 46.6H1296.1M1294.4 46.6V48.9M1296.1 46.6V49.3M1320.2 36.4V40M1311.5 40H1332.2M1311.5 40V42.9M1332.2 40V42.5M1307 42.9H1319.1M1307 42.9V46.1M1319.1 42.9V45.2M1302.8 46.1H1310.4M1302.8 46.1V48M1310.4 46.1V49.3M1301.4 48H1304.8M1301.4 48V51.1M1304.8 48V50.4M1300 51.1H1302M1300 51.1V53.2M1302 51.1V54.1M1301.1 54.1H1302.6M1301.1 54.1V55.7M1302.6 54.1V55.8M1304.4 50.4H1305.8M1304.4 50.4V51.5M1305.8 50.4V53.9M1307.3 49.3H1311.5M1307.3 49.3V52.3M1311.5 49.3V51.7M1309.6 51.7H1312.7M1309.6 51.7V53.1M1312.7 51.7V54.8M1311.6 54.8H1313.5M1311.6 54.8V57.3M1313.5 54.8V57.4M1316.4 45.2H1320.9M1316.4 45.2V46.7M1320.9 45.2V48.1M1315.5 46.7H1317.4M1315.5 46.7V49.1M1317.4 46.7V49.5M1319.1 48.1H1321.8M1319.1 48.1V49.3M1321.8 48.1V49.9M1320.5 49.9H1322.3M1320.5 49.9V52.5M1322.3 49.9V52.3M1321.6 52.3H1322.9M1321.6 52.3V53.8M1322.9 52.3V54.9M1329.4 42.5H1338.1M1329.4 42.5V46M1338.1 42.5V46M1325.3 46H1331.2M1325.3 46V48.9M1331.2 46V49.3M1324.4 48.9H1326.1M1324.4 48.9V52M1326.1 48.9V50.5M1328.1 49.3H1332.3M1328.1 49.3V50.6M1332.3 49.3V51.1M1331.4 51.1H1334.4M1331.4 51.1V52.2M1334.4 51.1V52.8M1329.9 52.2H1332M1329.9 52.2V53.9M1332 52.2V55.7M1337.1 46H1339.9M1337.1 46V48.9M1339.9 46V49.4M1336.3 48.9H1338.1M1336.3 48.9V52.4M1338.1 48.9V51.9M1352.7 34.1V41.1M1349.5 41.1H1358.7M1349.5 41.1V42.7M1358.7 41.1V43.7M1357.2 43.7H1360.3M1357.2 43.7V45.1M1360.3 43.7V44.9M1356.2 45.1H1357.8M1356.2 45.1V46.6M1357.8 45.1V48.1M1359.2 44.9H1360.7M1359.2 44.9V47.6M1360.7 44.9V47.9M1375.8 35.6V37.8M1370.2 37.8H1384.2M1370.2 37.8V39.8M1384.2 37.8V39.8M1365.8 39.8H1374.2M1365.8 39.8V40.9M1374.2 39.8V43.2M1364.4 40.9H1368.4M1364.4 40.9V43.5M1368.4 40.9V43.5M1363 43.5H1365.6M1363 43.5V45.5M1365.6 43.5V45.3M1364.7 45.3H1366M1364.7 45.3V47.9M1366 45.3V46.6M1368 43.5H1369.4M1368 43.5V45.9M1369.4 43.5V44.8M1372.3 43.2H1376.6M1372.3 43.2V45M1376.6 43.2V44.4M1371 45H1373.4M1371 45V47.1M1373.4 45V48.3M1372.9 48.3H1374.2M1372.9 48.3V51.5M1374.2 48.3V50.3M1375.5 44.4H1377.4M1375.5 44.4V47M1377.4 44.4V45.6M1381 39.8H1386.6M1381 39.8V43.1M1386.6 39.8V42.5M1379.7 43.1H1382.2M1379.7 43.1V45.1M1382.2 43.1V46M1381.4 46H1382.8M1381.4 46V48.3M1382.8 46V47.2M1385.6 42.5H1388.7M1385.6 42.5V45.7M1388.7 42.5V45.7M1385 45.7H1387M1385 45.7V47.9M1387 45.7V47.1M1384.2 47.9H1385.6M1384.2 47.9V49.7M1385.6 47.9V49M1401.8 34.9V41M1397.4 41H1408.8M1397.4 41V42.4M1408.8 41V43.2M1392.7 42.4H1399.7M1392.7 42.4V44.3M1399.7 42.4V44.5M1392 44.3H1394.4M1392 44.3V47.2M1394.4 44.3V47.8M1391 47.2H1392.8M1391 47.2V48.3M1392.8 47.2V48.7M1397.6 44.5H1402.3M1397.6 44.5V45.8M1402.3 44.5V46M1396.4 45.8H1398.9M1396.4 45.8V49M1398.9 45.8V48.1M1396 49H1397.3M1396 49V51.9M1397.3 49V50.2M1401 46H1403.2M1401 46V49.4M1403.2 46V49M1407.4 43.2H1411.8M1407.4 43.2V46.2M1411.8 43.2V45.5M1405.9 46.2H1408.9M1405.9 46.2V48.1M1408.9 46.2V47.2M1405.5 48.1H1406.9M1405.5 48.1V51.5M1406.9 48.1V50.3M1408.4 47.2H1410M1408.4 47.2V49.8M1410 47.2V48.3M1411.5 45.5H1412.9M1411.5 45.5V47.1M1412.9 45.5V48.3M1436.1 34.7V39.4M1426.5 39.4H1448.1M1426.5 39.4V40.7M1448.1 39.4V42.7M1419.7 40.7H1431.6M1419.7 40.7V43M1431.6 40.7V42.2M1416.3 43H1421.3M1416.3 43V44.5M1421.3 43V45M1419.1 45H1422.5M1419.1 45V47.4M1422.5 45V47.7M1427.9 42.2H1434.7M1427.9 42.2V45M1434.7 42.2V45.7M1426.9 45H1430.1M1426.9 45V46.9M1430.1 45V48.5M1425.6 46.9H1427.8M1425.6 46.9V49.3M1427.8 46.9V49M1426.8 49H1428.1M1426.8 49V51.9M1428.1 49V52.5M1432.8 45.7H1436.5M1432.8 45.7V48.5M1436.5 45.7V47.4M1431.7 48.5H1433.5M1431.7 48.5V49.5M1433.5 48.5V49.7M1435.9 47.4H1437.8M1435.9 47.4V49M1437.8 47.4V50.2M1443.5 42.7H1453.1M1443.5 42.7V45.6M1453.1 42.7V46.1M1440.8 45.6H1445.9M1440.8 45.6V48.6M1445.9 45.6V47.8M1439.2 48.6H1441.6M1439.2 48.6V50.2M1441.6 48.6V51.3M1440.6 51.3H1442.2M1440.6 51.3V54.2M1442.2 51.3V52.5M1450.8 46.1H1455.4M1450.8 46.1V48.5M1455.4 46.1V49.2M1449.2 48.5H1451.4M1449.2 48.5V50.5M1451.4 48.5V50.2M1454.3 49.2H1456.6M1454.3 49.2V50.6M1456.6 49.2V50.7M1472.4 33.2V38.8M1467.9 38.8H1480.3M1467.9 38.8V41.2M1480.3 38.8V41.6M1463.5 41.2H1471.4M1463.5 41.2V43.4M1471.4 41.2V43.9M1462 43.4H1465.6M1462 43.4V45.8M1465.6 43.4V45.2M1461.5 45.8H1463.6M1461.5 45.8V47.1M1463.6 45.8V48.8M1460.7 47.1H1462.2M1460.7 47.1V48.3M1462.2 47.1V48.9M1465.2 45.2H1466.6M1465.2 45.2V46.5M1466.6 45.2V48.7M1469.4 43.9H1473.8M1469.4 43.9V45.3M1473.8 43.9V45.6M1467.9 45.3H1470.3M1467.9 45.3V48.3M1470.3 45.3V48.7M1469.3 48.7H1470.9M1469.3 48.7V50.6M1470.9 48.7V50.8M1473.2 45.6H1475.2M1473.2 45.6V48.3M1475.2 45.6V47.4M1472.3 48.3H1473.7M1472.3 48.3V51.7M1473.7 48.3V50.6M1479 41.6H1483.5M1479 41.6V44.7M1483.5 41.6V44.1M1477.6 44.7H1480.8M1477.6 44.7V48M1480.8 44.7V45.8M1477.1 48H1478.9M1477.1 48V51.4M1478.9 48V49.8M1476.3 51.4H1477.6M1476.3 51.4V53.3M1477.6 51.4V52.9M1480.2 45.8H1481.7M1480.2 45.8V47.1M1481.7 45.8V47.8M1504.1 36.1V39.8M1497.8 39.8H1515.5M1497.8 39.8V40.9M1515.5 39.8V43.1M1490.8 40.9H1502.1M1490.8 40.9V43.1M1502.1 40.9V44.2M1488 43.1H1492.4M1488 43.1V44.9M1492.4 43.1V44.1M1487.1 44.9H1488.7M1487.1 44.9V48.1M1488.7 44.9V47.9M1490.3 44.1H1493.1M1490.3 44.1V45.5M1493.1 44.1V46.6M1492.1 46.6H1494.2M1492.1 46.6V49.9M1494.2 46.6V49M1498.2 44.2H1505.2M1498.2 44.2V46.3M1505.2 44.2V46.1M1496.4 46.3H1499.5M1496.4 46.3V48.4M1499.5 46.3V49.3M1498.6 49.3H1500.4M1498.6 49.3V50.3M1500.4 49.3V51.8M1502.4 46.1H1506.4M1502.4 46.1V48.5M1506.4 46.1V48.7M1504.5 48.7H1507.2M1504.5 48.7V50.3M1507.2 48.7V51.1M1506.4 51.1H1508.3M1506.4 51.1V53M1508.3 51.1V54M1513.1 43.1H1519.4M1513.1 43.1V45.3M1519.4 43.1V44.6M1512.1 45.3H1516M1512.1 45.3V47.6M1516 45.3V47.9M1510.9 47.6H1513.9M1510.9 47.6V50.8M1513.9 47.6V50.3M1510.4 50.8H1512.2M1510.4 50.8V53.8M1512.2 50.8V53.3M1518.4 44.6H1520.8M1518.4 44.6V47.2M1520.8 44.6V46.4M1517.4 47.2H1518.8M1517.4 47.2V49.9M1518.8 47.2V49.2M1545.8 33V36.5M1534.9 36.5H1556.5M1534.9 36.5V37.9M1556.5 36.5V38.7M1528.6 37.9H1539.3M1528.6 37.9V39.3M1539.3 37.9V40.7M1527.4 39.3H1531.8M1527.4 39.3V42.4M1531.8 39.3V42.4M1525.5 42.4H1528.7M1525.5 42.4V45.5M1528.7 42.4V43.7M1527.3 43.7H1529.2M1527.3 43.7V47.2M1529.2 43.7V47.3M1528.4 47.3H1529.8M1528.4 47.3V50.1M1529.8 47.3V49.1M1535.5 40.7H1541.9M1535.5 40.7V42.7M1541.9 40.7V43.7M1534.1 42.7H1536.7M1534.1 42.7V46.1M1536.7 42.7V43.7M1535.6 43.7H1537M1535.6 43.7V47M1537 43.7V46.5M1539.3 43.7H1543.1M1539.3 43.7V46M1543.1 43.7V47.1M1541.8 47.1H1544.4M1541.8 47.1V49.2M1544.4 47.1V49.5M1548.8 38.7H1559.6M1548.8 38.7V39.8M1559.6 38.7V42.2M1546.9 39.8H1550M1546.9 39.8V41.8M1550 39.8V42.4M1549.5 42.4H1551.4M1549.5 42.4V44.6M1551.4 42.4V45.8M1548.8 44.6H1550.2M1548.8 44.6V46.5M1550.2 44.6V45.7M1554.1 42.2H1561.8M1554.1 42.2V45M1561.8 42.2V43.4M1553.2 45H1555.4M1553.2 45V47.6M1555.4 45V47.7M1560.1 43.4H1565.6M1560.1 43.4V44.9M1565.6 43.4V45.4M1557.3 44.9H1561.1M1557.3 44.9V46.8M1561.1 44.9V46.7M1559.6 46.7H1562.4M1559.6 46.7V49.9M1562.4 46.7V48.1M1558.6 49.9H1560M1558.6 49.9V51.2M1560 49.9V53.1M1562 48.1H1563.5M1562 48.1V49.3M1563.5 48.1V51.3M1565 45.4H1566.7M1565 45.4V47.9M1566.7 45.4V47.4M1582 41.5L2162 62.5M1612 41L2012 55M1582 41V44.1M1582 44.1H1586.4M1586.4 44.1V46.9M1588.3 41.2V44.4M1590.9 41.3V48.7M1590.9 44.2H1594.3M1594.3 44.2V46.4M1595.8 41.5V44.9M1595.8 43.9H1599.7M1599.7 43.9V46M1601.3 41.7V47.8M1605.5 41.8V45.7M1605.5 44.8H1609M1609 44.8V47.8M1610.5 42V48.7M1617.1 42.3V44.9M1617.1 45.5H1619.7M1619.7 45.5V47.1M1620.8 42.4V47.5M1620.8 46.1H1624.9M1624.9 46.1V48.6M1626.6 42.6V46.1M1632.4 42.8V46.5M1632.4 45.1H1636.3M1636.3 45.1V47.3M1638 43V49.2M1638 45.7H1641.7M1641.7 45.7V47.4M1643.3 43.2V48.6M1648.4 43.4V49M1654.1 43.6V46.7M1654.1 45.7H1657.4M1657.4 45.7V48.4M1658.9 43.8V46.2M1658.9 46.9H1662.6M1662.6 46.9V48.7M1664.2 44V47.4M1669.8 44.2V49.1M1669.8 46.6H1672.1M1672.1 46.6V49.2M1673.1 44.3V50.7M1673.1 47.3H1676.1M1676.1 47.3V49M1677.4 44.5V49.9M1677.4 46.8H1681.5M1681.5 46.8V48.3M1683.2 44.7V49.4M1685.9 44.8V49.3M1685.9 48.1H1688.2M1688.2 48.1V50.5M1689.1 44.9V49.5M1695 45.1V50.5M1695 47.8H1696.6M1696.6 47.8V49.1M1697.3 45.2V48.7M1697.3 49H1700.8M1700.8 49V50.9M1702.3 45.4V48.7M1702.3 47.3H1705M1705 47.3V49.7M1706.1 45.5V47.8M1710.3 45.6V48.8M1710.3 49.2H1712.3M1712.3 49.2V51.5M1713.2 45.7V49.1M1713.2 47.8H1715.3M1715.3 47.8V50.3M1716.2 45.9V50M1716.2 48.1H1718.5M1718.5 48.1V49.7M1719.4 46V51.6M1719.4 48.8H1723M1723 48.8V51.2M1724.5 46.2V48.5M1724.5 47.9H1727.8M1727.8 47.9V49.3M1729.2 46.3V50.9M1729.2 48.2H1732.7M1732.7 48.2V49.3M1734.2 46.5V52.4M1734.2 49.5H1737.6M1737.6 49.5V51.9M1739.1 46.7V51.1M1744 46.9V52.4M1744 50.1H1745.8M1745.8 50.1V52.5M1746.6 47V52.2M1746.6 50.4H1749.1M1749.1 50.4V51.5M1750.2 47.1V49.3M1750.2 50.6H1753M1753 50.6V52.7M1754.2 47.2V52.3M1754.2 49.5H1756.3M1756.3 49.5V50.7M1757.1 47.3V51M1757.1 49.4H1759M1759 49.4V50.8M1759.9 47.4V52.1M1759.9 50.9H1762M1762 50.9V52.6M1762.9 47.6V50.7M1766.6 47.7V50.7M1766.6 50.3H1768.6M1768.6 50.3V51.8M1769.4 47.8V51.1M1769.4 49.7H1772.8M1772.8 49.7V51.4M1774.2 48V51.4M1779.4 48.1V51.2M1783.1 48.3V53.2M1783.1 51H1786.6M1786.6 51V53.2M1788.2 48.5V51.8M1793.1 48.6V52.3M1793.1 51.8H1795M1795 51.8V53.7M1795.8 48.7V53M1795.8 50.6H1798.9M1798.9 50.6V52.1M1800.3 48.9V51.6M1800.3 50.9H1803M1803 50.9V52.6M1804.1 49V51.6M1804.1 51.2H1807.5M1807.5 51.2V52.7M1808.9 49.2V51.7M1811 49.3V51.6M1816.4 49.5V51.9M1816.4 52.4H1818.3M1818.3 52.4V53.8M1819.2 49.6V53.5M1821.9 49.7V53.6M1821.9 52.6H1825.6M1825.6 52.6V54.5M1827.2 49.9V53.8M1827.2 52.7H1830.7M1830.7 52.7V54.9M1832.2 50.1V52.1M1832.2 52.6H1835.6M1835.6 52.6V54.6M1837 50.2V52.4M1837 51.7H1840.4M1840.4 51.7V53.5M1841.8 50.4V53.5M1841.8 52.6H1844.7M1844.7 52.6V53.5M1845.9 50.6V54.4M1845.9 53.6H1847.9M1847.9 53.6V55.4M1848.8 50.7V53M1851.7 50.8V52.7M1851.7 53.4H1854.9M1854.9 53.4V54.5M1856.2 50.9V54.4M1856.2 53.3H1858.6M1858.6 53.3V55M1859.7 51.1V53M1864.5 51.2V55.6M1864.5 53.8H1867.4M1867.4 53.8V55.2M1868.6 51.4V53.4M1868.6 53.6H1872.2M1872.2 53.6V55.5M1873.7 51.6V55.5M1877.2 51.7V54.7M1882.2 51.9V53.7M1886.7 52V56.1M1886.7 54.4H1889.4M1889.4 54.4V55.2M1890.6 52.2V55.4M1890.6 54.5H1894.1M1894.1 54.5V56.3M1895.6 52.4V55.4M1895.6 54H1899.1M1899.1 54V55.7M1900.6 52.5V55.3M1902.8 52.6V54.6M1902.8 54.7H1905.5M1905.5 54.7V56.3M1906.6 52.8V56.7M1909.1 52.8V56.8M1911.1 52.9V54.6M1911.1 55.1H1912.7M1912.7 55.1V56.1M1913.3 53V56.2M1913.3 54.9H1915.3M1915.3 54.9V56M1916.2 53.1V56.8M1916.2 55.6H1919.6M1919.6 55.6V56.7M1921.1 53.3V54.9M1921.1 54.9H1923.2M1923.2 54.9V55.9M1924.1 53.4V55.3M1924.1 54.9H1927.3M1927.3 54.9V56.5M1928.6 53.5V55.2M1928.6 55.4H1931M1931 55.4V56.1M1932 53.7V57M1932 55.2H1935.4M1935.4 55.2V56.7M1936.9 53.8V57.2M1936.9 55.4H1938.3M1938.3 55.4V57M1939 53.9V55.8M1939 55.6H1940.3M1940.3 55.6V56.4M1940.8 54V55.7M1940.8 56.3H1942.4M1942.4 56.3V57.1M1943.1 54.1V56M1945.3 54.2V55.8M1945.3 55.6H1946.9M1946.9 55.6V56.3M1947.7 54.2V55.7M1947.7 56.1H1949.8M1949.8 56.1V57.6M1950.7 54.3V56.2M1950.7 55.7H1953M1953 55.7V56.9M1954 54.5V56.6M1954 55.7H1956.6M1956.6 55.7V57.1M1957.7 54.6V58M1961.1 54.7V56.2M1961.1 56.7H1963.9M1963.9 56.7V57.6M1965.1 54.9V58.4M1965.1 56.5H1967.7M1967.7 56.5V57.5M1968.9 55V57.2M1968.9 56.3H1970.8M1970.8 56.3V57.6M1971.6 55.1V57.8M1974 55.2V58.2M1976.7 55.3V57.9M1976.7 57.4H1978.4M1978.4 57.4V58.8M1979.2 55.4V58.2M1982.1 55.5V57.3M1982.1 56.8H1983.9M1983.9 56.8V58.1M1984.7 55.6V57.7M1984.7 57.2H1986.2M1986.2 57.2V58.4M1986.9 55.7V58.3M1986.9 57.5H1989.8M1989.8 57.5V58.9M1991.1 55.8V58.1M1991.1 57.5H1993.9M1993.9 57.5V58.3M1995.1 56V58.3M1995.1 57.6H1996.3M1996.3 57.6V58.7M1996.9 56V59M1996.9 58H1999.4M1999.4 58V59.2M2000.4 56.2V58.3M2002.3 56.2V57.6M2002.3 58.1H2004.3M2004.3 58.1V58.8M2005.2 56.3V58.1M2009 56.5V58M2013.3 56.6V59.5M2013.3 58.2H2014.9M2014.9 58.2V59.4M2015.6 56.7V58.8M2015.6 58.1H2018.1M2018.1 58.1V58.8M2019.1 56.8V59.2M2019.1 58.2H2021.3M2021.3 58.2V59.2M2022.2 56.9V59.2M2025.2 57V58.3M2025.2 58.7H2027.1M2027.1 58.7V59.7M2027.9 57.1V59.6M2029.9 57.2V59.9M2029.9 58.9H2032.6M2032.6 58.9V60.1M2033.7 57.4V60M2036.2 57.4V59.5M2039.6 57.6V60.3M2039.6 58.5H2040.9M2040.9 58.5V59.3M2041.5 57.6V60M2041.5 58.7H2043.2M2043.2 58.7V59.5M2044 57.7V59.8M2044 59.2H2046.2M2046.2 59.2V59.7M2047.2 57.8V60.4M2049.7 57.9V59.5M2049.7 59.1H2051.3M2051.3 59.1V59.9M2052 58V59.6M2052 59.4H2053.9M2053.9 59.4V60.1M2054.7 58.1V59.7M2054.7 59.1H2056.1M2056.1 59.1V59.7M2056.7 58.2V59.7M2060 58.3V60.7M2060 60H2061.8M2061.8 60V60.5M2062.6 58.4V59.8M2062.6 60H2063.9M2063.9 60V60.7M2064.5 58.5V59.8M2064.5 60H2066.3M2066.3 60V60.5M2067.1 58.6V60.5M2068.9 58.6V60.4M2071 58.7V60.7M2071 59.9H2072.1M2072.1 59.9V60.6M2072.6 58.8V61.1M2072.6 59.7H2074.4M2074.4 59.7V60.1M2075.2 58.9V60.2M2075.2 60.1H2077.3M2077.3 60.1V60.9M2078.2 59V60.1M2078.2 60.4H2079.8M2079.8 60.4V61M2080.4 59V60.9M2080.4 60.3H2082M2082 60.3V60.8M2082.7 59.1V61.1M2082.7 60.7H2085.2M2085.2 60.7V61.1M2086.3 59.3V60.7M2087.8 59.3V61.5M2087.8 60.6H2089M2089 60.6V61.1M2089.5 59.4V61.1M2089.5 60.4H2091.3M2091.3 60.4V60.9M2092.1 59.5V60.8M2094.1 59.5V61.5M2096.4 59.6V61.8M2096.4 60.8H2098.1M2098.1 60.8V61.3M2098.8 59.7V60.8M2100.3 59.8V61.9M2102.5 59.8V61.3M2102.5 60.7H2105.2M2105.2 60.7V61.1M2106.3 60V61.5M2108 60V61.4M2110.1 60.1V61.6M2110.1 61.2H2112M2112 61.2V61.6M2112.9 60.2V61.9M2112.9 61.1H2114.1M2114.1 61.1V61.8M2114.6 60.3V61.9M2116.2 60.3V62.3M2117.7 60.4V61.9M2117.7 61.2H2119.8M2119.8 61.2V61.8M2120.7 60.5V62.1M2120.7 61.6H2123M2123 61.6V62M2124 60.6V61.8M2126.1 60.7V62.5M2126.1 61.5H2128.2M2128.2 61.5V62M2129.1 60.8V61.7M2129.1 61.8H2131.3M2131.3 61.8V62.2M2132.3 60.9V62.6M2135.3 61V62.8M2135.3 62.2H2137.2M2137.2 62.2V62.8M2138 61.1V62.2M2138 62.2H2139.5M2139.5 62.2V62.7M2140.2 61.2V62.2M2140.2 62.3H2141.9M2141.9 62.3V62.8M2142.6 61.3V62.9M2142.6 62.3H2143.9M2143.9 62.3V62.8M2144.5 61.4V62.8M2144.5 62.5H2146.2M2146.2 62.5V62.9M2146.9 61.5V63M2146.9 62.5H2148.4M2148.4 62.5V62.8M2149 61.5V62.9M2151.2 61.6V63.1M2151.2 62.4H2153.3M2153.3 62.4V62.7M2154.2 61.7V62.7M2157.6 61.8V63.3" fill="none" stroke="#3a3a3a" stroke-width=".8"/>
<text transform="translate(9.5 914.5) scale(0.789 1)" x="0" font-size="57" xml:space="preserve">b</text>
<text transform="translate(86 925) scale(0.879 1)" x="0" font-size="29.5" fill="#9ad83a" xml:space="preserve"><tspan font-weight="700">IgM pentamer</tspan></text>
<g fill="none" stroke="#86d93a" stroke-opacity="0.5" stroke-width="3" stroke-linejoin="round" stroke-linecap="round"><path d="M120.5 949.2L153.5 968.2L174.1 987.2L164.1 1006.2L161.5 1025.2L180.7 1044.1L213.7 1063.1L228.3 1082.1L219.2 1101.1L228.9 1120.1L207 1139.1L192 1158.1"/><path d="M121 949.2L155.1 968.2L171.7 987.2L166.5 1006.2L162.6 1025.2L183.6 1044.1L211.8 1063.1L232.1 1082.1L217.6 1101.1L228.8 1120.1L210 1139.1L196.5 1158.1"/><path d="M121.4 949.2L154.5 968.2L175.8 987.2L167 1006.2L161.9 1025.2L184.3 1044.1L214.8 1063.1L235.8 1082.1L216.8 1101.1L232.7 1120.1L213 1139.1L201 1158.1"/><path d="M122.8 949.2L157.8 968.2L172 987.2L163.9 1006.2L162.6 1025.2L182.8 1044.1L211.8 1063.1L239.6 1082.1L217.8 1101.1L229.9 1120.1L216 1139.1L205.5 1158.1"/></g><rect x="102.5" y="940.2" width="149.9" height="224.5" fill="none" stroke="#111" stroke-width="1.2"/>
<text transform="translate(66.7 955.2) scale(0.858 1)" x="0" font-size="17.5" fill="#8c8c8c" xml:space="preserve">01</text>
<text transform="translate(66.7 974.2) scale(0.858 1)" x="0" font-size="17.5" fill="#8c8c8c" xml:space="preserve">02</text>
<text transform="translate(66.7 993.2) scale(0.858 1)" x="0" font-size="17.5" fill="#8c8c8c" xml:space="preserve">03</text>
<text transform="translate(66.7 1012.2) scale(0.858 1)" x="0" font-size="17.5" fill="#8c8c8c" xml:space="preserve">04</text>
<text transform="translate(66.7 1031.2) scale(0.858 1)" x="0" font-size="17.5" fill="#8c8c8c" xml:space="preserve">05</text>
<text transform="translate(66.7 1050.1) scale(0.858 1)" x="0" font-size="17.5" fill="#8c8c8c" xml:space="preserve">06</text>
<text transform="translate(66.7 1069.1) scale(0.858 1)" x="0" font-size="17.5" fill="#8c8c8c" xml:space="preserve">07</text>
<text transform="translate(66.7 1088.1) scale(0.858 1)" x="0" font-size="17.5" fill="#8c8c8c" xml:space="preserve">08</text>
<text transform="translate(66.7 1107.1) scale(0.858 1)" x="0" font-size="17.5" fill="#8c8c8c" xml:space="preserve">09</text>
<text transform="translate(66.7 1126.1) scale(0.858 1)" x="0" font-size="17.5" fill="#8c8c8c" xml:space="preserve">10</text>
<text transform="translate(66.7 1145.1) scale(0.919 1)" x="0" font-size="17.5" fill="#8c8c8c" xml:space="preserve">11</text>
<text transform="translate(66.7 1164.1) scale(0.858 1)" x="0" font-size="17.5" fill="#8c8c8c" xml:space="preserve">12</text>
<text transform="translate(58.2 1053) rotate(-90) scale(0.768 1)" x="-141.3" font-size="26.5" xml:space="preserve"><tspan font-weight="700">GRADIENT FRACTION</tspan></text>
<text transform="translate(113.2 1187.3) scale(0.820 1)" x="-17.2" font-size="20" fill="#808080" xml:space="preserve">-2.5</text>
<text transform="translate(175.7 1187.3) scale(0.820 1)" x="-13.9" font-size="20" fill="#808080" xml:space="preserve">0.0</text>
<text transform="translate(238.3 1187.3) scale(0.820 1)" x="-19.7" font-size="20" fill="#808080" xml:space="preserve">+2.5</text>
<text transform="translate(114.5 1216.9) scale(0.886 1)" x="0" font-size="24.5" xml:space="preserve"><tspan font-weight="700">Abund.</tspan> (z-sc)</text>
<rect x="316.5" y="958" width="59.8" height="205.2" fill="#e8f4e6" stroke="#666" stroke-width="1"/><path d="M316.5 985h59.8M316.5 1018h59.8" stroke="#555" stroke-width="1" fill="none"/><rect x="391.1" y="1158.8" width="60.4" height="4.4" fill="#e8f4e6" stroke="#666" stroke-width="1"/><path d="M391.1 1161h60.4" stroke="#555" stroke-width="1" fill="none"/><rect x="308.5" y="940.2" width="151" height="224.5" fill="none" stroke="#111" stroke-width="1.2"/>
<text transform="translate(297.5 951.2) scale(0.840 1)" x="-40.9" font-size="17.5" fill="#b4b4b4" xml:space="preserve">3E10</text>
<text transform="translate(297.5 1166.7) scale(0.840 1)" x="-9.7" font-size="17.5" fill="#b4b4b4" xml:space="preserve">0</text>
<text transform="translate(293.5 1052.5) rotate(-90) scale(0.785 1)" x="-33.1" font-size="26.5" xml:space="preserve"><tspan font-weight="700">iBAQ</tspan></text>
<text transform="translate(343.4 1191.4) scale(0.848 1)" x="-29.2" font-size="25" xml:space="preserve"><tspan font-weight="700">P100</tspan></text>
<text transform="translate(422.1 1191.4) scale(0.821 1)" x="-28.9" font-size="25" xml:space="preserve"><tspan font-weight="700">Total</tspan></text>
<text transform="translate(343.4 1224.3) scale(0.849 1)" x="-36.8" font-size="25" xml:space="preserve">Serum</text>
<text transform="translate(422.1 1224.3) scale(0.835 1)" x="-36.8" font-size="25" xml:space="preserve">Serum</text>
<text transform="translate(319 956.5) scale(0.867 1)" x="0" font-size="25" fill="#2e7a38" xml:space="preserve"><tspan font-weight="700">PIGR</tspan></text>
<text transform="translate(319 982.5) scale(0.873 1)" x="0" font-size="25" fill="#2e7a38" xml:space="preserve"><tspan font-weight="700">CD5L</tspan></text>
<text transform="translate(319 1012.8) scale(0.881 1)" x="0" font-size="25" fill="#2e7a38" xml:space="preserve"><tspan font-weight="700">JCHAIN</tspan></text>
<text transform="translate(326 1097) scale(0.871 1)" x="0" font-size="25" fill="#2e7a38" xml:space="preserve"><tspan font-weight="700">IgM</tspan></text>
<text transform="translate(571 925) scale(0.886 1)" x="0" font-size="29.5" fill="#9ad83a" xml:space="preserve"><tspan font-weight="700">APOL1/HPR</tspan></text>
<g fill="none" stroke="#86d93a" stroke-opacity="0.45" stroke-width="3" stroke-linejoin="round" stroke-linecap="round"><path d="M592.9 951.5L621.6 970.4L647.6 989.3L638.2 1008.2L632 1027.1L645 1046L678.9 1064.9L723.2 1083.8L650.2 1102.7L697.2 1121.6L655.5 1140.5L652.8 1159.4"/><path d="M619 951.5L629.4 970.4L639.8 989.3L639.8 1008.2L626.8 1027.1L634.6 1046L684.1 1064.9L699.8 1083.8L678.9 1102.7L684.1 1121.6L658.1 1140.5L655.5 1159.4"/></g><rect x="577" y="942.5" width="149.9" height="223.5" fill="none" stroke="#111" stroke-width="1.2"/>
<text transform="translate(542.3 957.5) scale(0.858 1)" x="0" font-size="17.5" fill="#8c8c8c" xml:space="preserve">01</text>
<text transform="translate(542.3 976.4) scale(0.858 1)" x="0" font-size="17.5" fill="#8c8c8c" xml:space="preserve">02</text>
<text transform="translate(542.3 995.3) scale(0.858 1)" x="0" font-size="17.5" fill="#8c8c8c" xml:space="preserve">03</text>
<text transform="translate(542.3 1014.2) scale(0.858 1)" x="0" font-size="17.5" fill="#8c8c8c" xml:space="preserve">04</text>
<text transform="translate(542.3 1033.1) scale(0.858 1)" x="0" font-size="17.5" fill="#8c8c8c" xml:space="preserve">05</text>
<text transform="translate(542.3 1052) scale(0.858 1)" x="0" font-size="17.5" fill="#8c8c8c" xml:space="preserve">06</text>
<text transform="translate(542.3 1070.9) scale(0.858 1)" x="0" font-size="17.5" fill="#8c8c8c" xml:space="preserve">07</text>
<text transform="translate(542.3 1089.8) scale(0.858 1)" x="0" font-size="17.5" fill="#8c8c8c" xml:space="preserve">08</text>
<text transform="translate(542.3 1108.7) scale(0.858 1)" x="0" font-size="17.5" fill="#8c8c8c" xml:space="preserve">09</text>
<text transform="translate(542.3 1127.6) scale(0.858 1)" x="0" font-size="17.5" fill="#8c8c8c" xml:space="preserve">10</text>
<text transform="translate(542.3 1146.5) scale(0.919 1)" x="0" font-size="17.5" fill="#8c8c8c" xml:space="preserve">11</text>
<text transform="translate(542.3 1165.4) scale(0.858 1)" x="0" font-size="17.5" fill="#8c8c8c" xml:space="preserve">12</text>
<text transform="translate(532.8 1054.8) rotate(-90) scale(0.768 1)" x="-141.3" font-size="26.5" xml:space="preserve"><tspan font-weight="700">GRADIENT FRACTION</tspan></text>
<text transform="translate(587.7 1188.6) scale(0.820 1)" x="-17.2" font-size="20" fill="#808080" xml:space="preserve">-2.5</text>
<text transform="translate(650.2 1188.6) scale(0.820 1)" x="-13.9" font-size="20" fill="#808080" xml:space="preserve">0.0</text>
<text transform="translate(712.8 1188.6) scale(0.820 1)" x="-19.7" font-size="20" fill="#808080" xml:space="preserve">+2.5</text>
<text transform="translate(589 1218.2) scale(0.886 1)" x="0" font-size="24.5" xml:space="preserve"><tspan font-weight="700">Abund.</tspan> (z-sc)</text>
<rect x="790.3" y="962.6" width="59.8" height="201.9" fill="#e8f4e6" stroke="#666" stroke-width="1"/><path d="M790.3 1014.7h59.8" stroke="#555" stroke-width="1" fill="none"/><rect x="864.9" y="1156.8" width="60.4" height="7.7" fill="#e8f4e6" stroke="#666" stroke-width="1"/><path d="M864.9 1160.2h60.4" stroke="#555" stroke-width="1" fill="none"/><rect x="782.5" y="942.5" width="151.2" height="223.5" fill="none" stroke="#111" stroke-width="1.2"/>
<text transform="translate(771.5 953.5) scale(0.840 1)" x="-45.7" font-size="17.5" fill="#b4b4b4" xml:space="preserve">1.2E9</text>
<text transform="translate(771.5 1168) scale(0.840 1)" x="-9.7" font-size="17.5" fill="#b4b4b4" xml:space="preserve">0</text>
<text transform="translate(767.5 1054.2) rotate(-90) scale(0.785 1)" x="-33.1" font-size="26.5" xml:space="preserve"><tspan font-weight="700">iBAQ</tspan></text>
<text transform="translate(817.2 1197.2) scale(0.848 1)" x="-29.2" font-size="25" xml:space="preserve"><tspan font-weight="700">P100</tspan></text>
<text transform="translate(895.9 1197.2) scale(0.821 1)" x="-28.9" font-size="25" xml:space="preserve"><tspan font-weight="700">Total</tspan></text>
<text transform="translate(817.2 1230.1) scale(0.849 1)" x="-36.8" font-size="25" xml:space="preserve">Serum</text>
<text transform="translate(895.9 1230.1) scale(0.835 1)" x="-36.8" font-size="25" xml:space="preserve">Serum</text>
<text transform="translate(797.8 1007) scale(0.871 1)" x="0" font-size="25" fill="#2e7a38" xml:space="preserve"><tspan font-weight="700">HPR</tspan></text>
<text transform="translate(797.8 1095.7) scale(0.846 1)" x="0" font-size="25" fill="#2e7a38" xml:space="preserve"><tspan font-weight="700">APOL1</tspan></text>
<text transform="translate(1046.9 923.6) scale(0.877 1)" x="0" font-size="29.5" fill="#9ad83a" xml:space="preserve"><tspan font-weight="700">LGALS3BP</tspan></text>
<g fill="none" stroke="#9ce060" stroke-opacity="0.5" stroke-width="3" stroke-linejoin="round" stroke-linecap="round"><path d="M1069.8 951.5L1075.5 970.4L1092.2 989.3L1105.2 1008.2L1119.3 1027.1L1132.9 1046L1165.2 1064.9L1183.5 1083.8L1174.6 1102.7L1174.1 1121.6L1172 1140.5L1162.6 1159.4"/></g><rect x="1047.4" y="942.5" width="150.4" height="223.5" fill="none" stroke="#111" stroke-width="1.2"/>
<text transform="translate(1012 957.5) scale(0.858 1)" x="0" font-size="17.5" fill="#8c8c8c" xml:space="preserve">01</text>
<text transform="translate(1012 976.4) scale(0.858 1)" x="0" font-size="17.5" fill="#8c8c8c" xml:space="preserve">02</text>
<text transform="translate(1012 995.3) scale(0.858 1)" x="0" font-size="17.5" fill="#8c8c8c" xml:space="preserve">03</text>
<text transform="translate(1012 1014.2) scale(0.858 1)" x="0" font-size="17.5" fill="#8c8c8c" xml:space="preserve">04</text>
<text transform="translate(1012 1033.1) scale(0.858 1)" x="0" font-size="17.5" fill="#8c8c8c" xml:space="preserve">05</text>
<text transform="translate(1012 1052) scale(0.858 1)" x="0" font-size="17.5" fill="#8c8c8c" xml:space="preserve">06</text>
<text transform="translate(1012 1070.9) scale(0.858 1)" x="0" font-size="17.5" fill="#8c8c8c" xml:space="preserve">07</text>
<text transform="translate(1012 1089.8) scale(0.858 1)" x="0" font-size="17.5" fill="#8c8c8c" xml:space="preserve">08</text>
<text transform="translate(1012 1108.7) scale(0.858 1)" x="0" font-size="17.5" fill="#8c8c8c" xml:space="preserve">09</text>
<text transform="translate(1012 1127.6) scale(0.858 1)" x="0" font-size="17.5" fill="#8c8c8c" xml:space="preserve">10</text>
<text transform="translate(1012 1146.5) scale(0.919 1)" x="0" font-size="17.5" fill="#8c8c8c" xml:space="preserve">11</text>
<text transform="translate(1012 1165.4) scale(0.858 1)" x="0" font-size="17.5" fill="#8c8c8c" xml:space="preserve">12</text>
<text transform="translate(1003.4 1054.8) rotate(-90) scale(0.768 1)" x="-141.3" font-size="26.5" xml:space="preserve"><tspan font-weight="700">GRADIENT FRACTION</tspan></text>
<text transform="translate(1058.3 1188.6) scale(0.820 1)" x="-17.2" font-size="20" fill="#808080" xml:space="preserve">-2.5</text>
<text transform="translate(1120.9 1188.6) scale(0.820 1)" x="-13.9" font-size="20" fill="#808080" xml:space="preserve">0.0</text>
<text transform="translate(1183.5 1188.6) scale(0.820 1)" x="-19.7" font-size="20" fill="#808080" xml:space="preserve">+2.5</text>
<text transform="translate(1059.4 1218.2) scale(0.886 1)" x="0" font-size="24.5" xml:space="preserve"><tspan font-weight="700">Abund.</tspan> (z-sc)</text>
<rect x="1256.5" y="969" width="59.8" height="195.5" fill="#e8f4e6" stroke="#666" stroke-width="1"/><rect x="1331.1" y="1161.3" width="60.4" height="3.2" fill="#e8f4e6" stroke="#666" stroke-width="1"/><rect x="1248.7" y="942.5" width="151.2" height="223.5" fill="none" stroke="#111" stroke-width="1.2"/>
<text transform="translate(1237.7 953.5) scale(0.840 1)" x="-31.1" font-size="17.5" fill="#b4b4b4" xml:space="preserve">3E8</text>
<text transform="translate(1237.7 1168) scale(0.840 1)" x="-9.7" font-size="17.5" fill="#b4b4b4" xml:space="preserve">0</text>
<text transform="translate(1233.7 1054.2) rotate(-90) scale(0.785 1)" x="-33.1" font-size="26.5" xml:space="preserve"><tspan font-weight="700">iBAQ</tspan></text>
<text transform="translate(1283.4 1197.2) scale(0.848 1)" x="-29.2" font-size="25" xml:space="preserve"><tspan font-weight="700">P100</tspan></text>
<text transform="translate(1362.1 1197.2) scale(0.821 1)" x="-28.9" font-size="25" xml:space="preserve"><tspan font-weight="700">Total</tspan></text>
<text transform="translate(1283.4 1230.1) scale(0.849 1)" x="-36.8" font-size="25" xml:space="preserve">Serum</text>
<text transform="translate(1362.1 1230.1) scale(0.835 1)" x="-36.8" font-size="25" xml:space="preserve">Serum</text>
<text transform="translate(1448.4 929.4) scale(0.891 1)" x="0" font-size="29.5" fill="#9ad83a" xml:space="preserve"><tspan font-weight="700">PROTEASOME 20S</tspan></text>
<g fill="none" stroke="#7ed232" stroke-opacity="0.3" stroke-width="2.6" stroke-linejoin="round" stroke-linecap="round"><path d="M1561.8 956.4L1556.3 975.3L1591 994.2L1563.5 1013.2L1540.8 1032.1L1581.3 1051L1639.4 1069.9L1620.3 1088.9L1623.8 1107.8L1629.4 1126.7L1640.6 1145.6L1636.8 1164.6"/><path d="M1561.4 956.4L1551.8 975.3L1578.1 994.2L1558.5 1013.2L1539 1032.1L1576.2 1051L1632.5 1069.9L1631.1 1088.9L1623.6 1107.8L1632.8 1126.7L1644.3 1145.6L1622.3 1164.6"/><path d="M1560.6 956.4L1547.5 975.3L1583.2 994.2L1562.5 1013.2L1544.6 1032.1L1581.1 1051L1613.3 1069.9L1634.6 1088.9L1626.4 1107.8L1629.5 1126.7L1640.5 1145.6L1619.9 1164.6"/><path d="M1551.3 956.4L1559.3 975.3L1579.2 994.2L1554.9 1013.2L1537.9 1032.1L1579.3 1051L1629.4 1069.9L1617.2 1088.9L1570.5 1107.8L1598.3 1126.7L1636.2 1145.6L1632.9 1164.6"/><path d="M1560.8 956.4L1555.1 975.3L1589.2 994.2L1555.3 1013.2L1540.2 1032.1L1578.7 1051L1633.2 1069.9L1636.2 1088.9L1631.5 1107.8L1635.8 1126.7L1642.1 1145.6L1638.4 1164.6"/><path d="M1556.8 956.4L1544.9 975.3L1579.8 994.2L1553 1013.2L1524.2 1032.1L1581.6 1051L1636.2 1069.9L1628.8 1088.9L1620.1 1107.8L1631.8 1126.7L1644.3 1145.6L1632.8 1164.6"/><path d="M1560.3 956.4L1551.1 975.3L1587.9 994.2L1557.8 1013.2L1544.3 1032.1L1580.4 1051L1633.1 1069.9L1604.2 1088.9L1641.1 1107.8L1637.2 1126.7L1637.3 1145.6L1629.1 1164.6"/><path d="M1589.2 956.4L1556.6 975.3L1586.8 994.2L1551.3 1013.2L1537.4 1032.1L1585 1051L1630.4 1069.9L1606.6 1088.9L1616.8 1107.8L1613.9 1126.7L1630.1 1145.6L1642.7 1164.6"/><path d="M1531.7 956.4L1555.2 975.3L1579.1 994.2L1555.8 1013.2L1550 1032.1L1576.6 1051L1620.1 1069.9L1627 1088.9L1623.5 1107.8L1624.3 1126.7L1644.3 1145.6L1619.9 1164.6"/><path d="M1555.5 956.4L1550.4 975.3L1583 994.2L1564 1013.2L1542 1032.1L1573.8 1051L1620.9 1069.9L1630.6 1088.9L1632 1107.8L1617.3 1126.7L1644.3 1145.6L1631.8 1164.6"/><path d="M1555.7 956.4L1556.1 975.3L1589 994.2L1560.2 1013.2L1537.6 1032.1L1575.4 1051L1614.9 1069.9L1615 1088.9L1616.3 1107.8L1624.2 1126.7L1625.6 1145.6L1627.4 1164.6"/><path d="M1552.3 956.4L1548.6 975.3L1579.5 994.2L1552.4 1013.2L1542.1 1032.1L1578.6 1051L1616.6 1069.9L1620.2 1088.9L1623.7 1107.8L1634.2 1126.7L1634.5 1145.6L1630.4 1164.6"/><path d="M1557.8 956.4L1555.4 975.3L1584.5 994.2L1556.3 1013.2L1542.4 1032.1L1578.9 1051L1629 1069.9L1609.4 1088.9L1623.5 1107.8L1615.7 1126.7L1629.9 1145.6L1633.6 1164.6"/><path d="M1566.8 956.4L1559.3 975.3L1588.9 994.2L1566.8 1013.2L1551.3 1032.1L1589 1051L1631.4 1069.9L1623.8 1088.9L1625.1 1107.8L1626.9 1126.7L1635.6 1145.6L1636.2 1164.6"/><path d="M1549.7 956.4L1552.2 975.3L1577.3 994.2L1556.4 1013.2L1532.3 1032.1L1574.2 1051L1627.2 1069.9L1605.6 1088.9L1613.4 1107.8L1639.4 1126.7L1628.2 1145.6L1624 1164.6"/><path d="M1557.7 956.4L1553.7 975.3L1587.8 994.2L1560.6 1013.2L1539 1032.1L1577.4 1051L1616.5 1069.9L1605.4 1088.9L1616.4 1107.8L1629.2 1126.7L1637.6 1145.6L1638.8 1164.6"/><path d="M1560 956.4L1564.9 975.3L1585.2 994.2L1558.2 1013.2L1542 1032.1L1586.3 1051L1629.4 1069.9L1614.3 1088.9L1628.5 1107.8L1635.4 1126.7L1638.9 1145.6L1633.8 1164.6"/><path d="M1564.7 956.4L1560.8 975.3L1584.5 994.2L1562 1013.2L1545.3 1032.1L1575.3 1051L1640 1069.9L1621 1088.9L1622.9 1107.8L1644.3 1126.7L1641.1 1145.6L1630.5 1164.6"/><path d="M1560.7 956.4L1557.9 975.3L1584.9 994.2L1555.3 1013.2L1538.9 1032.1L1576.7 1051L1620.3 1069.9L1617.7 1088.9L1619.4 1107.8L1625.1 1126.7L1631.3 1145.6L1627 1164.6"/><path d="M1557 956.4L1559 975.3L1581.4 994.2L1559.1 1013.2L1541.2 1032.1L1574.6 1051L1633.7 1069.9L1618.9 1088.9L1606.8 1107.8L1629 1126.7L1644.3 1145.6L1627.3 1164.6"/><path d="M1562.8 956.4L1554 975.3L1590.9 994.2L1560.8 1013.2L1540 1032.1L1575.2 1051L1633.9 1069.9L1615.9 1088.9L1631.7 1107.8L1631.2 1126.7L1637.3 1145.6L1633.2 1164.6"/><path d="M1568.9 956.4L1561.4 975.3L1587.5 994.2L1558.6 1013.2L1543.8 1032.1L1590 1051L1635.7 1069.9L1619.4 1088.9L1617.5 1107.8L1629.7 1126.7L1634.7 1145.6L1637.5 1164.6"/><path d="M1564.3 956.4L1557 975.3L1585.4 994.2L1561.1 1013.2L1550.1 1032.1L1582.9 1051L1619.4 1069.9L1631.4 1088.9L1626.7 1107.8L1644.3 1126.7L1635.7 1145.6L1634.6 1164.6"/><path d="M1559.5 956.4L1552.1 975.3L1579 994.2L1550.8 1013.2L1540.6 1032.1L1577.4 1051L1623.5 1069.9L1633.6 1088.9L1628.8 1107.8L1632.5 1126.7L1633.4 1145.6L1635.5 1164.6"/></g><rect x="1508.2" y="947.4" width="150.5" height="223.8" fill="none" stroke="#111" stroke-width="1.2"/>
<text transform="translate(1471.9 962.4) scale(0.858 1)" x="0" font-size="17.5" fill="#8c8c8c" xml:space="preserve">01</text>
<text transform="translate(1471.9 981.3) scale(0.858 1)" x="0" font-size="17.5" fill="#8c8c8c" xml:space="preserve">02</text>
<text transform="translate(1471.9 1000.2) scale(0.858 1)" x="0" font-size="17.5" fill="#8c8c8c" xml:space="preserve">03</text>
<text transform="translate(1471.9 1019.2) scale(0.858 1)" x="0" font-size="17.5" fill="#8c8c8c" xml:space="preserve">04</text>
<text transform="translate(1471.9 1038.1) scale(0.858 1)" x="0" font-size="17.5" fill="#8c8c8c" xml:space="preserve">05</text>
<text transform="translate(1471.9 1057) scale(0.858 1)" x="0" font-size="17.5" fill="#8c8c8c" xml:space="preserve">06</text>
<text transform="translate(1471.9 1075.9) scale(0.858 1)" x="0" font-size="17.5" fill="#8c8c8c" xml:space="preserve">07</text>
<text transform="translate(1471.9 1094.9) scale(0.858 1)" x="0" font-size="17.5" fill="#8c8c8c" xml:space="preserve">08</text>
<text transform="translate(1471.9 1113.8) scale(0.858 1)" x="0" font-size="17.5" fill="#8c8c8c" xml:space="preserve">09</text>
<text transform="translate(1471.9 1132.7) scale(0.858 1)" x="0" font-size="17.5" fill="#8c8c8c" xml:space="preserve">10</text>
<text transform="translate(1471.9 1151.6) scale(0.919 1)" x="0" font-size="17.5" fill="#8c8c8c" xml:space="preserve">11</text>
<text transform="translate(1471.9 1170.6) scale(0.858 1)" x="0" font-size="17.5" fill="#8c8c8c" xml:space="preserve">12</text>
<text transform="translate(1463.8 1059.8) rotate(-90) scale(0.768 1)" x="-141.3" font-size="26.5" xml:space="preserve"><tspan font-weight="700">GRADIENT FRACTION</tspan></text>
<text transform="translate(1519.2 1193.8) scale(0.820 1)" x="-17.2" font-size="20" fill="#808080" xml:space="preserve">-2.5</text>
<text transform="translate(1581.7 1193.8) scale(0.820 1)" x="-13.9" font-size="20" fill="#808080" xml:space="preserve">0.0</text>
<text transform="translate(1644.3 1193.8) scale(0.820 1)" x="-19.7" font-size="20" fill="#808080" xml:space="preserve">+2.5</text>
<text transform="translate(1520.2 1223.4) scale(0.886 1)" x="0" font-size="24.5" xml:space="preserve"><tspan font-weight="700">Abund.</tspan> (z-sc)</text>
<rect x="1718.7" y="971.7" width="59.8" height="198" fill="#e8f4e6" stroke="#666" stroke-width="1"/><path d="M1718.7 974.3h59.8M1718.7 997.2h59.8M1718.7 1013.4h59.8M1718.7 1019.2h59.8M1718.7 1043.4h59.8M1718.7 1062.2h59.8M1718.7 1078.6h59.8M1718.7 1097.4h59.8M1718.7 1110.4h59.8M1718.7 1116.4h59.8M1718.7 1134.7h59.8M1718.7 1143.8h59.8M1718.7 1159.4h59.8" stroke="#555" stroke-width="1" fill="none"/><rect x="1793.3" y="1154.2" width="60.4" height="15.5" fill="#e8f4e6" stroke="#666" stroke-width="1"/><path d="M1793.3 1161.5h60.4" stroke="#555" stroke-width="1" fill="none"/><rect x="1711.1" y="947.4" width="151.2" height="223.8" fill="none" stroke="#111" stroke-width="1.2"/>
<text transform="translate(1700.1 958.4) scale(0.840 1)" x="-45.7" font-size="17.5" fill="#b4b4b4" xml:space="preserve">1.4E7</text>
<text transform="translate(1700.1 1173.2) scale(0.840 1)" x="-9.7" font-size="17.5" fill="#b4b4b4" xml:space="preserve">0</text>
<text transform="translate(1696.1 1059.3) rotate(-90) scale(0.785 1)" x="-33.1" font-size="26.5" xml:space="preserve"><tspan font-weight="700">iBAQ</tspan></text>
<text transform="translate(1745.6 1201.2) scale(0.848 1)" x="-29.2" font-size="25" xml:space="preserve"><tspan font-weight="700">P100</tspan></text>
<text transform="translate(1824.3 1201.2) scale(0.821 1)" x="-28.9" font-size="25" xml:space="preserve"><tspan font-weight="700">Total</tspan></text>
<text transform="translate(1745.6 1234.1) scale(0.849 1)" x="-36.8" font-size="25" xml:space="preserve">Serum</text>
<text transform="translate(1824.3 1234.1) scale(0.835 1)" x="-36.8" font-size="25" xml:space="preserve">Serum</text>
<text transform="translate(11 1293.5) scale(0.877 1)" x="0" font-size="57" xml:space="preserve">c</text>
<path d="M136.7 1429.4h0M237.3 1437.9h0M131.9 1450.5h0M213.9 1373.7h0M137 1503.3h0M224.2 1398.2h0M261.8 1364.1h0M187.6 1442.6h0M308.8 1405.9h0M156.6 1490.4h0M196.5 1421.3h0M176.5 1436.6h0M204.6 1394.5h0M241.9 1404.4h0M111 1423h0M127.8 1456.5h0M125.3 1449.6h0M156.9 1430.5h0M341.9 1385h0M230.4 1475.9h0M179.1 1403.7h0M188 1413.9h0M196.9 1472.2h0M217.8 1457.1h0M277.1 1425.2h0M223.3 1419.3h0M235.4 1442.4h0M237.5 1420.6h0M249.5 1383.7h0M198.6 1461.6h0M227 1397.6h0M266.7 1422.8h0M217.4 1398.8h0M205 1415.8h0M200.4 1453h0M146.2 1460.8h0M219 1353.8h0M236.5 1368.7h0M227.5 1387.2h0M200.5 1392.3h0M272.7 1418.7h0M160.7 1351.9h0M203.3 1382.6h0M231.8 1467.1h0M302.6 1316.3h0M200.2 1393.2h0M197.9 1466.4h0M187.1 1414h0M242.8 1382h0M194.9 1368.2h0M157.7 1404.6h0M242.6 1426.4h0M110.9 1494.2h0M202.9 1402.3h0M262.4 1451.9h0M192.3 1400.3h0M185 1536.2h0M228.8 1315.3h0M237.8 1455.6h0M173.5 1425h0M305.1 1366.9h0M197.3 1358.5h0M188.5 1347.7h0M161.1 1459.7h0M224.9 1355.9h0M221.9 1406.5h0M109.5 1486.1h0M164.5 1461.2h0M218.8 1435.7h0M227.9 1414.4h0M177.1 1428.5h0M211.6 1385h0M170.5 1446h0M130.3 1377.1h0M258.1 1416.6h0M170.5 1490.5h0M199.9 1417.5h0M291.2 1387.6h0M156.9 1548.2h0M256.1 1400.9h0M119.2 1443.6h0M243 1388h0M184.2 1526.3h0M186.5 1499.7h0M219.2 1515.4h0M151 1387.7h0M266.8 1458.4h0M122.6 1411.5h0M230.9 1460.8h0M160.7 1469.5h0M138.2 1475.8h0M248.9 1381h0M285.5 1404.1h0M186 1474.4h0M186.6 1488.9h0M111.5 1423h0M257.5 1371.8h0M252.6 1399.2h0M159.6 1435.3h0M175.2 1483.5h0M115.4 1518.4h0M191.9 1422.4h0M170.7 1372.4h0M200.3 1400.7h0M247.5 1448.3h0M102.8 1423.3h0M161 1380.6h0M207.5 1379.7h0M226.8 1510.5h0M224.8 1448.8h0M157.9 1458.9h0M227 1379.1h0M238.1 1488.4h0M165.4 1542.5h0M187.6 1403.9h0M157.5 1428.9h0M202.7 1381.2h0M154.9 1477.2h0M157.6 1362.1h0M241.7 1419.3h0M202.4 1420.8h0M201.4 1435.4h0M177 1489.4h0M163.1 1364.9h0M216.5 1418.7h0M182.4 1429.3h0M208.2 1452.7h0M201.1 1415.7h0M158.2 1474.5h0M146.9 1490.1h0M232.6 1521.1h0M180.1 1459.8h0M164.1 1433.4h0M243.4 1409.9h0M185.8 1458.1h0M186.3 1390.4h0M174.3 1485.3h0M134.8 1495.7h0M129.1 1399.8h0M208.3 1434.6h0M258.4 1437.8h0M226.3 1383h0M122 1519.6h0M150.1 1401.8h0M251 1465.3h0M239.8 1431.3h0M174.3 1459h0M177.5 1514.1h0M146.8 1497.8h0M214.4 1329.6h0M140.5 1586.6h0M280.4 1316.9h0M92.6 1463.7h0M352.9 1403.8h0M110.3 1542.5h0M112.2 1347.1h0" stroke="#4a7dbd" stroke-width="3.4" stroke-linecap="round" fill="none"/><rect x="69.3" y="1305" width="296.2" height="295.4" fill="none" stroke="#222" stroke-width="1.2"/><path d="M69.3 1320.7h-4M69.3 1377.4h-4M69.3 1436h-4M69.3 1494h-4M69.3 1552h-4" stroke="#222" stroke-width="1.1" fill="none"/><path d="M104 1600.4v4M150 1600.4v4M197 1600.4v4M244 1600.4v4M290.5 1600.4v4M337 1600.4v4" stroke="#222" stroke-width="1.1" fill="none"/><text transform="translate(80 1334.5) scale(0.886 1)" x="0" font-size="24.5" xml:space="preserve"><tspan font-weight="700">rho = 0.308</tspan></text>
<text transform="translate(32.8 1320.7) rotate(90) scale(0.780 1)" x="-7.5" font-size="27" fill="#9a9a9a" xml:space="preserve">9</text>
<text transform="translate(32.8 1556) rotate(90) scale(0.780 1)" x="-7.5" font-size="27" fill="#9a9a9a" xml:space="preserve">5</text>
<text transform="translate(33.8 1441.2) rotate(90) scale(0.852 1)" x="-102.1" font-size="25.5" xml:space="preserve"><tspan font-weight="700">Plasma EVs SAX</tspan></text>
<text transform="translate(2.4 1442.6) rotate(90) scale(0.883 1)" x="-50.1" font-size="25.5" fill="#9a9a9a" xml:space="preserve">Wu <tspan font-style="italic">et al.</tspan></text>
<text transform="translate(102.3 1631.9) scale(0.757 1)" x="-18.8" font-size="27" fill="#9a9a9a" xml:space="preserve">5.5</text>
<text transform="translate(140 1631.9) scale(0.855 1)" x="0" font-size="25.5" xml:space="preserve"><tspan font-weight="700">Serum sEV DG</tspan></text>
<text transform="translate(335.5 1631.9) scale(0.653 1)" x="-7.5" font-size="27" fill="#9a9a9a" xml:space="preserve">8</text>
<text transform="translate(216.7 1663.4) scale(0.915 1)" x="-44" font-size="24" fill="#9a9a9a" xml:space="preserve">our data</text>
<path d="M713.7 1432.7h0M500.4 1493.7h0M537.9 1363.8h0M610.2 1480.2h0M627.7 1412.1h0M505 1498.7h0M571.4 1453.2h0M589.2 1466.4h0M592 1478h0M539.9 1386.7h0M600.1 1424.5h0M506.5 1480h0M622.1 1505.2h0M635.4 1456.4h0M602.1 1452.6h0M593.3 1388h0M563.5 1377.9h0M545.4 1507.9h0M616.9 1495.3h0M565.1 1410.4h0M640.8 1524.4h0M607.1 1350.1h0M640.1 1447.7h0M554.1 1473.7h0M527.7 1479.2h0M573.9 1460.8h0M639.5 1447.4h0M513.1 1417.2h0M531.5 1487.4h0M576.5 1470.1h0M534.8 1476.5h0M687.5 1453.3h0M576.3 1396.5h0M618.5 1403.2h0M624.1 1538.6h0M541.5 1455.8h0M606.8 1379.8h0M605.3 1457h0M584.7 1461.2h0M594.7 1414.1h0M566.6 1496.3h0M541.9 1407.2h0M644.2 1384.8h0M623.9 1398.3h0M582.8 1417.9h0M532.5 1474.9h0M547.7 1424.1h0M555.1 1464h0M602 1378h0M544.9 1508.4h0M622 1496h0M604.5 1473.8h0M577.8 1543.7h0M617 1466.9h0M539.8 1358.6h0M602.4 1463.3h0M588 1369.2h0M581.6 1428.8h0M607.6 1490h0M589 1474.6h0M523.2 1423.5h0M614.7 1438.8h0M539.4 1563.3h0M606.1 1449.7h0M502.2 1475.9h0M510 1472.1h0M589.7 1431.5h0M593.3 1439.7h0M528.3 1485h0M558.4 1469.5h0M595.8 1416.6h0M661.2 1558.7h0M602.1 1455.9h0M691.9 1374.9h0M503.7 1452.3h0M557.9 1408h0M532.3 1469.8h0M576.6 1457.6h0M554.9 1550.8h0M604.9 1395.1h0M579.6 1503h0M592.6 1420.1h0M574.4 1454.1h0M650.3 1489h0M556.1 1553.8h0M549.3 1497.2h0M536.9 1498.3h0M668.9 1437.7h0M577.4 1342.4h0M580 1538.8h0M602.2 1492.9h0M661.3 1492.4h0M555.1 1539.1h0M587.5 1500.7h0M579.7 1470.8h0M553.5 1411.7h0M627.7 1435.9h0M539.7 1516.4h0M595.8 1327.8h0M561 1496.3h0M549.5 1515h0M536.3 1473.9h0M651.5 1432.6h0M558.4 1538.6h0M593.1 1449.7h0M524.1 1521.4h0M580.8 1400.9h0M612.9 1432.7h0M567.4 1439.2h0M582.3 1342.3h0M528.6 1484.2h0M643.6 1448h0M651.1 1434.9h0M589.8 1467.8h0M516.8 1517.6h0M688.9 1390.1h0M611.9 1395.5h0M610.1 1392.5h0M570.1 1465.7h0M630 1456h0M519.1 1479.6h0M556.8 1427.4h0M548.4 1513.6h0M567 1377.5h0M580.6 1443.6h0M583.3 1436.2h0M627.3 1369.1h0M504.1 1404.1h0M582.7 1467.2h0M697.7 1428.6h0M676 1377.5h0M533.6 1439.9h0M618.1 1447.9h0M573.7 1509.1h0M670.3 1439.8h0M564 1471.2h0M545.3 1500.1h0M587.4 1434.2h0M558.6 1462.2h0M516.3 1442.9h0M547 1450h0M539.4 1488.6h0M593.2 1509h0M701.1 1421h0M579.4 1488.8h0M659.2 1361h0M597.2 1515.8h0M558.7 1426.7h0M558.3 1517.1h0M526 1505.1h0M553.2 1586.6h0M661.6 1316.9h0M487.1 1471.9h0M734.1 1419.6h0M691.9 1566.4h0M518 1565.8h0M541.9 1339.6h0" stroke="#4a7dbd" stroke-width="3.4" stroke-linecap="round" fill="none"/><rect x="451.2" y="1305" width="296.2" height="295.4" fill="none" stroke="#222" stroke-width="1.2"/><path d="M451.2 1311h-4M451.2 1351h-4M451.2 1390h-4M451.2 1430h-4M451.2 1470h-4M451.2 1510h-4M451.2 1550h-4M451.2 1590h-4" stroke="#222" stroke-width="1.1" fill="none"/><path d="M485 1600.4v4M532.5 1600.4v4M578.5 1600.4v4M625.7 1600.4v4M672.3 1600.4v4M719 1600.4v4" stroke="#222" stroke-width="1.1" fill="none"/><text transform="translate(462 1334.5) scale(0.886 1)" x="0" font-size="24.5" xml:space="preserve"><tspan font-weight="700">rho = 0.249</tspan></text>
<text transform="translate(415 1318.5) rotate(90) scale(0.780 1)" x="-7.5" font-size="27" fill="#9a9a9a" xml:space="preserve">7</text>
<text transform="translate(418.2 1459.5) rotate(90) scale(0.866 1)" x="-102" font-size="25.5" xml:space="preserve"><tspan font-weight="700">Plasma EVs dUC</tspan></text>
<text transform="translate(384.6 1459) rotate(90) scale(0.873 1)" x="-95.7" font-size="25.5" fill="#9a9a9a" xml:space="preserve">Kverneland <tspan font-style="italic">et al.</tspan></text>
<text transform="translate(483.6 1631.9) scale(0.757 1)" x="-18.8" font-size="27" fill="#9a9a9a" xml:space="preserve">5.5</text>
<text transform="translate(521.7 1631.9) scale(0.855 1)" x="0" font-size="25.5" xml:space="preserve"><tspan font-weight="700">Serum sEV DG</tspan></text>
<text transform="translate(716.5 1631.9) scale(0.653 1)" x="-7.5" font-size="27" fill="#9a9a9a" xml:space="preserve">8</text>
<text transform="translate(599.3 1663.4) scale(0.915 1)" x="-44" font-size="24" fill="#9a9a9a" xml:space="preserve">our data</text>
<path d="M1014.9 1437.8h0M1049.8 1481h0M1089.9 1346.6h0M1037.1 1430.9h0M1025.1 1466.6h0M1002.6 1458.9h0M1003 1463.8h0M1086.3 1393.3h0M956.1 1507h0M993.2 1496.1h0M1039.9 1446.9h0M998.8 1425.7h0M1043.3 1427.4h0M1030.5 1405.3h0M1017.5 1434h0M993.5 1484.9h0M1027.6 1418.1h0M919 1499.5h0M1006.3 1489.1h0M995.6 1421h0M986.3 1494.3h0M1107.7 1379.3h0M1039.2 1431.2h0M968.7 1493h0M998 1453.3h0M1019.7 1438.6h0M1050.4 1448.2h0M1058.3 1415.6h0M994.7 1439.3h0M1021.2 1459.1h0M988.2 1512h0M1009.6 1467.7h0M993.4 1447h0M1098.9 1333.9h0M1056.4 1394.6h0M1025.2 1422.8h0M1011.4 1478.7h0M1099.6 1340.5h0M1030.8 1458.1h0M999.6 1486.6h0M991.6 1492.8h0M1052.6 1440.5h0M1025.1 1413.8h0M1039.5 1400.2h0M1069.7 1428.9h0M1042 1410.5h0M1076 1390.3h0M961.3 1503.3h0M1081.4 1373.2h0M1022.8 1436.4h0M940 1523h0M1038.9 1431.8h0M991.5 1428.3h0M1082.9 1395.8h0M1079.9 1412.8h0M994.7 1460.9h0M1051.8 1452.3h0M942.8 1526.5h0M994.3 1488.8h0M1083.6 1371.1h0M965.6 1508.2h0M992.4 1441.2h0M1055.2 1396.6h0M1038.2 1396.6h0M1055.5 1374.7h0M1049.8 1372.2h0M1079 1374.2h0M948.6 1520.1h0M1026 1417.6h0M1001.4 1474.3h0M982.3 1416.3h0M1005.8 1473.2h0M1044.3 1444.8h0M1015.5 1512.7h0M1059.9 1411.3h0M1079.1 1405.4h0M1019.1 1433.9h0M1071 1401.7h0M924.7 1525.7h0M1042.9 1425.1h0M1039.8 1441h0M1043.3 1459.5h0M990.3 1470.6h0M1042.8 1440.2h0M1071.2 1426.8h0M1011.2 1484.8h0M1031.3 1410.6h0M1035.7 1479.7h0M1051.3 1402.2h0M905.7 1555.1h0M990 1482.1h0M1118.1 1357.9h0M1025.4 1419.5h0M965.4 1502.3h0M1030.1 1507.5h0M996.4 1458.8h0M1072.2 1392.3h0M978.4 1523.5h0M993.4 1445.3h0M1040.1 1437.1h0M1012.7 1472.1h0M1048.7 1395.3h0M904.3 1517.5h0M1027.4 1468.5h0M1079.8 1415h0M1104.3 1355.8h0M1052.8 1375.6h0M1055.7 1417.8h0M1012.1 1445.7h0M972.1 1503.2h0M1074.5 1379.3h0M1037.9 1412.2h0M1022 1421.5h0M1035.6 1425.4h0M1028.8 1423.6h0M964.7 1500.3h0M1083.2 1415.7h0M1014.3 1472.7h0M1058.8 1414.4h0M954.4 1526.9h0M989.1 1509.1h0M1062.4 1415.8h0M918.4 1573.4h0M1039.3 1396.2h0M1065.1 1400h0M1005.4 1446.7h0M970.7 1491.2h0M1112.6 1351.1h0M1023.6 1428.3h0M987.5 1470h0M989.8 1501.2h0M1017.4 1470.9h0M978.3 1515.1h0M1026.3 1456.4h0M1007.2 1440.6h0M926.3 1586.6h0M1115.3 1317.5h0M883.4 1530.5h0M905.5 1553.2h0M916.8 1375.5h0M932.6 1566.4h0M989.3 1566.4h0M1068.1 1485.7h0M1105.9 1340.8h0" stroke="#4a7dbd" stroke-width="3.4" stroke-linecap="round" fill="none"/><rect x="833" y="1305" width="296.2" height="295.4" fill="none" stroke="#222" stroke-width="1.2"/><path d="M833 1311h-4M833 1351h-4M833 1390h-4M833 1430h-4M833 1470h-4M833 1510h-4M833 1550h-4M833 1590h-4" stroke="#222" stroke-width="1.1" fill="none"/><path d="M881 1600.4v4M939 1600.4v4M997 1600.4v4M1055.5 1600.4v4M1113.4 1600.4v4" stroke="#222" stroke-width="1.1" fill="none"/><text transform="translate(843 1334.5) scale(0.890 1)" x="0" font-size="24.5" xml:space="preserve"><tspan font-weight="700">rho = 0.742</tspan></text>
<text transform="translate(797.3 1318.5) rotate(90) scale(0.780 1)" x="-7.5" font-size="27" fill="#9a9a9a" xml:space="preserve">7</text>
<text transform="translate(799.8 1459.5) rotate(90) scale(0.866 1)" x="-102" font-size="25.5" xml:space="preserve"><tspan font-weight="700">Plasma EVs dUC</tspan></text>
<text transform="translate(766.7 1459) rotate(90) scale(0.873 1)" x="-95.7" font-size="25.5" fill="#9a9a9a" xml:space="preserve">Kverneland <tspan font-style="italic">et al.</tspan></text>
<text transform="translate(881 1628.8) scale(0.653 1)" x="-7.5" font-size="27" fill="#9a9a9a" xml:space="preserve">5</text>
<text transform="translate(906 1633.8) scale(0.857 1)" x="0" font-size="25.5" xml:space="preserve"><tspan font-weight="700">Plasma EVs SAX</tspan></text>
<text transform="translate(1113 1628.8) scale(0.653 1)" x="-7.5" font-size="27" fill="#9a9a9a" xml:space="preserve">9</text>
<text transform="translate(992.8 1665.7) scale(0.923 1)" x="-47.1" font-size="24" fill="#9a9a9a" xml:space="preserve">Wu <tspan font-style="italic">et al.</tspan></text>
<text transform="translate(1177 1293) scale(0.852 1)" x="0" font-size="57" xml:space="preserve">d</text>
<path d="M1270.6 1367.8V1344H1302.8V1367.8M1238.3 1367.8V1334.2H1286.7V1344M1206.1 1367.8V1319.6H1262.5V1334.2" fill="none" stroke="#3f5fb5" stroke-width="1.9"/><path d="M1234.3 1319.6V1304.4H1407.4V1326.1M1335 1367.8V1326.1H1480.6V1334.2M1367.3 1367.8V1334.2H1593.9V1338M1416.7 1346.1V1338H1773.4V1343.4M1399.5 1367.8V1346.1H1431.7V1367.8M1540.2 1348.8V1343.4H2006.5V1348.8M1505 1358.6V1348.8H1576.6V1353.2M1560.6 1367.8V1353.2H1592.9V1367.8M1480.6 1364V1358.6H1528.4V1367.8M1464 1367.8V1364H1496.2V1367.8M1885.6 1353.2V1348.8H2126.8V1365.1M2108.6 1367.8V1365.1H2140.8V1367.8M1706.7 1357V1353.2H2064.5V1362.4M2044.1 1367.8V1362.4H2076.3V1367.8M1642.7 1362.4V1357H1777.1V1360.2M1625.1 1367.8V1362.4H1657.3V1367.8M1706.7 1362.4V1360.2H1853V1362.4M1689.6 1367.8V1365.1H1721.8V1367.8M1705.7 1365.1V1362.4H1818.5V1367.8M1754 1367.8V1365.7H1786.3V1367.8M1754 1364H1818.5M1850.7 1367.8V1362.9H2011.9V1367.8M1882.9 1367.8V1365.7H1915.2V1367.8M1947.4 1367.8V1365.1H1979.6V1367.8M1882.9 1364.6H1979.6" fill="none" stroke="#111" stroke-width="1.9"/><text transform="translate(1198.3 1391.5) rotate(90) scale(0.909 1)" x="0" font-size="26" fill="#3f5fb5" xml:space="preserve"><tspan font-weight="700">Plasma EVs dUC (Kverneland et al.)</tspan></text>
<text transform="translate(1230.5 1391.5) rotate(90) scale(0.911 1)" x="0" font-size="26" fill="#3f5fb5" xml:space="preserve"><tspan font-weight="700">Plasma EVs SAX (Wu et al.)</tspan></text>
<text transform="translate(1262.8 1391.5) rotate(90) scale(0.908 1)" x="0" font-size="26" fill="#3f5fb5" xml:space="preserve"><tspan font-weight="700">Platelet proteome (Houlahan et al.)</tspan></text>
<text transform="translate(1295 1391.5) rotate(90) scale(0.910 1)" x="0" font-size="26" fill="#3f5fb5" xml:space="preserve"><tspan font-weight="700">Platelet proteome (Rieckmann et al.)</tspan></text>
<text transform="translate(1327.8 1391.5) rotate(90) scale(0.951 1)" x="0" font-size="24.6" xml:space="preserve">Neutrophil (Rieckmann <tspan font-style="italic">et al.</tspan>)</text>
<text transform="translate(1360.1 1391.5) rotate(90) scale(0.949 1)" x="0" font-size="24.6" xml:space="preserve">B plasma (Rieckmann <tspan font-style="italic">et al.</tspan>)</text>
<text transform="translate(1392.3 1391.5) rotate(90) scale(0.948 1)" x="0" font-size="24.6" xml:space="preserve">Basophil (Rieckmann <tspan font-style="italic">et al.</tspan>)</text>
<text transform="translate(1424.5 1391.5) rotate(90) scale(0.946 1)" x="0" font-size="24.6" xml:space="preserve">Eosinophil (Rieckmann <tspan font-style="italic">et al.</tspan>)</text>
<text transform="translate(1456.8 1391.5) rotate(90) scale(0.951 1)" x="0" font-size="24.6" xml:space="preserve">MO intermediate (Rieckmann <tspan font-style="italic">et al.</tspan>)</text>
<text transform="translate(1489 1391.5) rotate(90) scale(0.958 1)" x="0" font-size="24.6" xml:space="preserve">MO nonclassical (Rieckmann <tspan font-style="italic">et al.</tspan>)</text>
<text transform="translate(1521.2 1391.5) rotate(90) scale(0.958 1)" x="0" font-size="24.6" xml:space="preserve">MO classical (Rieckmann <tspan font-style="italic">et al.</tspan>)</text>
<text transform="translate(1553.4 1391.5) rotate(90) scale(0.952 1)" x="0" font-size="24.6" xml:space="preserve">mDC (Rieckmann <tspan font-style="italic">et al.</tspan>)</text>
<text transform="translate(1585.7 1391.5) rotate(90) scale(0.951 1)" x="0" font-size="24.6" xml:space="preserve">pDC (Rieckmann <tspan font-style="italic">et al.</tspan>)</text>
<text transform="translate(1617.9 1391.5) rotate(90) scale(0.950 1)" x="0" font-size="24.6" xml:space="preserve">T4 EMRA (Rieckmann <tspan font-style="italic">et al.</tspan>)</text>
<text transform="translate(1650.1 1391.5) rotate(90) scale(0.948 1)" x="0" font-size="24.6" xml:space="preserve">nTregs (Rieckmann <tspan font-style="italic">et al.</tspan>)</text>
<text transform="translate(1682.4 1391.5) rotate(90) scale(0.945 1)" x="0" font-size="24.6" xml:space="preserve">T8 naive (Rieckmann <tspan font-style="italic">et al.</tspan>)</text>
<text transform="translate(1714.6 1391.5) rotate(90) scale(0.945 1)" x="0" font-size="24.6" xml:space="preserve">T4 naive (Rieckmann <tspan font-style="italic">et al.</tspan>)</text>
<text transform="translate(1746.8 1391.5) rotate(90) scale(0.945 1)" x="0" font-size="24.6" xml:space="preserve">T8 EMRA (Rieckmann <tspan font-style="italic">et al.</tspan>)</text>
<text transform="translate(1779.1 1391.5) rotate(90) scale(0.945 1)" x="0" font-size="24.6" xml:space="preserve">T8 EM (Rieckmann <tspan font-style="italic">et al.</tspan>)</text>
<text transform="translate(1811.3 1391.5) rotate(90) scale(0.945 1)" x="0" font-size="24.6" xml:space="preserve">T8 CM (Rieckmann <tspan font-style="italic">et al.</tspan>)</text>
<text transform="translate(1843.5 1391.5) rotate(90) scale(0.945 1)" x="0" font-size="24.6" xml:space="preserve">Th1 (Rieckmann <tspan font-style="italic">et al.</tspan>)</text>
<text transform="translate(1875.7 1391.5) rotate(90) scale(0.945 1)" x="0" font-size="24.6" xml:space="preserve">Th2 (Rieckmann <tspan font-style="italic">et al.</tspan>)</text>
<text transform="translate(1908 1391.5) rotate(90) scale(0.945 1)" x="0" font-size="24.6" xml:space="preserve">Th17 (Rieckmann <tspan font-style="italic">et al.</tspan>)</text>
<text transform="translate(1940.2 1391.5) rotate(90) scale(0.945 1)" x="0" font-size="24.6" xml:space="preserve">T4 EM (Rieckmann <tspan font-style="italic">et al.</tspan>)</text>
<text transform="translate(1972.4 1391.5) rotate(90) scale(0.945 1)" x="0" font-size="24.6" xml:space="preserve">T4 CM (Rieckmann <tspan font-style="italic">et al.</tspan>)</text>
<text transform="translate(2004.7 1391.5) rotate(90) scale(0.945 1)" x="0" font-size="24.6" xml:space="preserve">mTregs (Rieckmann <tspan font-style="italic">et al.</tspan>)</text>
<text transform="translate(2036.9 1391.5) rotate(90) scale(0.945 1)" x="0" font-size="24.6" xml:space="preserve">NK dim (Rieckmann <tspan font-style="italic">et al.</tspan>)</text>
<text transform="translate(2069.1 1391.5) rotate(90) scale(0.945 1)" x="0" font-size="24.6" xml:space="preserve">NK bright (Rieckmann <tspan font-style="italic">et al.</tspan>)</text>
<text transform="translate(2101.4 1391.5) rotate(90) scale(0.945 1)" x="0" font-size="24.6" xml:space="preserve">B naive (Rieckmann <tspan font-style="italic">et al.</tspan>)</text>
<text transform="translate(2133.6 1391.5) rotate(90) scale(0.945 1)" x="0" font-size="24.6" xml:space="preserve">B memory (Rieckmann <tspan font-style="italic">et al.</tspan>)</text>
<rect x="1190" y="1810" width="967" height="546" fill="#000"/><g transform="translate(1190 1811) scale(32.2333 2)" fill="none" stroke-width="1.1" shape-rendering="crispEdges"><path stroke="#000a00" d="M29 123h1M12 124h1M20 125h4m2 0h1M10 126h1m5 0h1m3 0h1m8 0h1M6 127h1m1 0h1m12 0h1m4 0h1m1 0h1M7 128h1M17 129h1M5 130h1m20 0h1M10 131h1m15 0h1M14 132h1M15 133h1M15 134h1m3 0h1m2 0h2M11 135h1m11 0h1m4 0h1M11 136h1m7 0h1m3 0h1m3 0h1M11 137h1m11 0h2m2 0h1M8 138h1m13 0h1M11 139h2m1 0h1m13 0h1M19 140h1m6 0h1M28 141h1M9 142h1m4 0h2m11 0h1M4 143h1m6 0h1m6 0h1m4 0h3M23 144h1m5 0h1M6 145h1m8 0h1m6 0h1m6 0h1M24 147h1m3 0h1M12 148h1M4 149h1m7 0h1m4 0h1m9 0h1M27 150h1M7 151h1M18 152h1m4 0h1m2 0h1M19 153h1M20 155h1M24 156h1M9 157h1m6 0h1M10 158h2m12 0h1M14 159h1m5 0h1m7 0h1M8 160h1m19 0h1M5 162h1m2 0h1M5 163h1M23 164h1M22 165h1"/><path stroke="#000a0a" d="M4 29h1m2 0h1m7 0h1M5 34h1m2 0h1m2 0h3m1 0h1m1 0h1m9 0h1m1 0h1M6 35h1M6 36h1m2 0h2m2 0h1m1 0h1m3 0h1m1 0h2m1 0h2m2 0h1M4 37h1m10 0h1m8 0h1M21 38h1M10 39h1m1 0h1m15 0h1M4 40h1m1 0h3m2 0h2m7 0h1m4 0h1M11 41h1m6 0h1m4 0h1m1 0h1M7 42h1m4 0h1m1 0h1m4 0h1m4 0h1m2 0h1M5 43h1m4 0h1m4 0h1m4 0h2M8 44h1m2 0h1m4 0h1m2 0h1m3 0h1M9 45h1m2 0h1m2 0h1m8 0h1m1 0h1M12 46h1m3 0h3m3 0h1M4 47h1m6 0h1m2 0h1m7 0h1m5 0h1M8 48h1m2 0h1m10 0h1m3 0h1m1 0h1M5 50h3m2 0h2m3 0h1M4 51h1m1 0h3m6 0h1m13 0h1M4 52h1m16 0h1m2 0h1M7 53h1M8 54h1m1 0h1m7 0h1m1 0h1m4 0h1m1 0h1M18 55h2m3 0h1M5 56h1m5 0h1m2 0h2m7 0h1M4 57h1m5 0h1m2 0h1m3 0h5m3 0h1m1 0h1M6 58h1m3 0h1m2 0h1m3 0h1M14 59h1m6 0h2m3 0h1M7 60h1m14 0h1m3 0h1M19 61h1m4 0h3M11 62h1m5 0h1m3 0h1m5 0h1M4 63h1m4 0h2m9 0h1m4 0h1M6 64h1m7 0h2m4 0h1m4 0h1M9 65h1m9 0h2M9 66h1m12 0h1m2 0h1m1 0h1M4 67h1m23 0h1M6 68h1m9 0h2M6 69h2m7 0h1m5 0h1m2 0h2m1 0h1M5 70h1m1 0h1m4 0h1m3 0h1m1 0h1m8 0h2M9 71h1m2 0h2M10 72h3M4 73h1m1 0h1m2 0h1m3 0h1m8 0h1m3 0h1M6 74h1m3 0h1m1 0h1m12 0h1M6 76h2m5 0h2m2 0h1m11 0h1M5 78h1m4 0h1m4 0h1m2 0h1M4 79h1m5 0h1m1 0h2m12 0h2M9 80h1m3 0h1m1 0h1m2 0h1m4 0h1m2 0h1m1 0h1M4 81h1m2 0h1m4 0h1m1 0h1m1 0h2m7 0h1M8 82h1m3 0h1m3 0h2m5 0h1m2 0h1M13 83h1m2 0h1m1 0h1m5 0h1m1 0h1M5 84h1m11 0h1m2 0h4m5 0h1M5 85h2m10 0h1M14 87h1m1 0h1m6 0h1m5 0h1M11 88h1m6 0h1m3 0h1m1 0h2m2 0h1M14 89h1m2 0h4m6 0h1m1 0h1M13 90h1m4 0h1m3 0h1m2 0h1M5 91h3m3 0h2m3 0h1m2 0h1m7 0h1M7 92h1m5 0h1m1 0h1m3 0h1M4 93h1m1 0h1m2 0h1m1 0h1m10 0h1M7 94h1m3 0h1m7 0h1m1 0h1m5 0h1m1 0h1M4 95h1m2 0h1m1 0h1m8 0h1m3 0h1m2 0h2m2 0h1M6 96h1m5 0h3m2 0h3M4 97h1m11 0h1m6 0h1M6 98h1m6 0h1m6 0h1m4 0h1m1 0h1M9 99h1m2 0h2M4 100h1m2 0h1m21 0h1M9 101h1m6 0h1m4 0h1m1 0h1M4 102h1m1 0h1m1 0h2m6 0h1m1 0h1m3 0h2m2 0h1M9 103h1m2 0h1m5 0h3m8 0h1M4 104h2m1 0h1m1 0h1m2 0h2m10 0h1m1 0h1M5 105h2m6 0h1m3 0h1m5 0h1M16 106h1m3 0h1m3 0h1M4 107h1m13 0h1m3 0h1m1 0h1m4 0h1M4 108h1m1 0h1m4 0h1m3 0h2m2 0h1m2 0h1M16 109h1m5 0h1M18 110h2m2 0h1m2 0h1M5 111h1m2 0h1m7 0h1M4 112h1m7 0h1m2 0h1m7 0h1m3 0h2M12 113h1m1 0h1m7 0h1m2 0h1M10 114h1m4 0h2m1 0h2m5 0h4M21 115h1m3 0h1m1 0h1M5 116h1m3 0h1m2 0h1m2 0h1m7 0h1M6 117h1m1 0h1m3 0h2m5 0h1m5 0h1m1 0h2M4 119h1m7 0h1m10 0h1M8 120h1m3 0h1m3 0h1m8 0h1m1 0h1M7 121h1m3 0h1m2 0h1m8 0h1m4 0h1M20 122h1m2 0h1M26 123h1M11 124h1m3 0h1m7 0h2m2 0h1M6 125h1m5 0h1m6 0h1m5 0h1M7 126h1m4 0h1m9 0h1m3 0h1m1 0h1M13 127h2m8 0h1m1 0h1m1 0h1M6 128h1m3 0h4m4 0h2M4 129h2m10 0h1m8 0h1m1 0h1m1 0h1M4 130h1m14 0h1m2 0h1m1 0h1m3 0h1M4 131h2m3 0h1m1 0h1m3 0h1m1 0h1m3 0h1m1 0h3m1 0h1m1 0h1M10 132h1m6 0h2m3 0h2m5 0h1M14 133h1M6 134h1m6 0h2m5 0h1M4 135h1m1 0h1m2 0h1m10 0h1m1 0h1m3 0h2M6 136h1m9 0h1m3 0h1m3 0h1M15 137h1m3 0h1m5 0h1m2 0h2M9 138h1m1 0h1m1 0h3m5 0h1m4 0h3M6 139h1m3 0h1m4 0h1m2 0h1m4 0h1m1 0h1M5 140h1m3 0h1m6 0h1m12 0h1M5 141h1m4 0h1m11 0h1m2 0h1m3 0h1M8 142h1m1 0h1m7 0h1m3 0h1m3 0h1M6 143h2m1 0h1m2 0h1m1 0h1m7 0h1m3 0h1M7 144h2m3 0h1m3 0h1m3 0h1M4 145h1m4 0h1m14 0h1m1 0h2M8 146h2m2 0h1m1 0h1m1 0h2m3 0h2m2 0h1m3 0h1M8 147h1m9 0h1m8 0h1M13 148h1m3 0h1m3 0h1m6 0h2M9 149h1m1 0h1m6 0h1m9 0h1M5 150h1m7 0h1m3 0h3M10 152h1m2 0h1m2 0h1m3 0h1M4 153h1m5 0h1m6 0h1m4 0h1m3 0h1M6 154h1m2 0h1m2 0h1m1 0h1m1 0h4m2 0h1m2 0h2M8 155h1m13 0h1m1 0h1M19 156h1M5 157h2m3 0h1m2 0h2m5 0h1m2 0h1M6 158h2M5 159h1m5 0h1m1 0h1m7 0h1m2 0h1m2 0h1m1 0h1M11 160h1m11 0h1M18 161h1m2 0h1m2 0h2M6 162h1m6 0h2m1 0h1m1 0h1m1 0h1M6 163h1m9 0h1m3 0h1m2 0h1M4 164h1m2 0h1m3 0h1m2 0h1m4 0h1m1 0h1M24 165h1M4 241h2M4 242h1M4 246h1M4 247h1M4 248h1m4 0h1M4 249h2M5 250h1M4 252h2M22 253h1"/><path stroke="#000a14" d="M4 182h2M5 184h1m16 0h1M5 185h1M5 212h1"/><path stroke="#001400" d="M14 123h1M23 128h1M23 138h1M9 139h1m3 0h1M14 141h1m8 0h1M11 142h1m9 0h1m1 0h1M10 145h1M5 148h1m1 0h1m16 0h1M7 150h1m7 0h1m6 0h1m5 0h1M12 155h1m6 0h1m9 0h1M4 158h1m15 0h2m4 0h1M8 159h1M5 161h1m5 0h1m14 0h2M17 163h1m7 0h1"/><path stroke="#00140a" d="M7 124h2m4 0h1m8 0h1m5 0h2M18 125h1M4 126h1m9 0h1m3 0h1M5 127h1m3 0h1m1 0h1m7 0h1m4 0h1m4 0h1M6 129h1m5 0h1m6 0h1m1 0h1M8 130h1m1 0h1m2 0h1m1 0h1m2 0h1M12 131h1m6 0h1m8 0h1M7 132h2m4 0h1m5 0h1m1 0h1m4 0h1M18 133h1M5 134h1m6 0h1m11 0h2m2 0h1M10 135h1m10 0h1M4 136h1m9 0h1m13 0h2M7 137h1m1 0h1m16 0h1M18 138h1M20 139h3M7 140h1m6 0h1M11 141h2m8 0h1m2 0h1M5 142h1m10 0h1M28 143h2M14 144h1m2 0h2M14 145h1m6 0h1M6 146h1m3 0h1m13 0h1m1 0h1M6 147h1m2 0h1m1 0h1m3 0h1m5 0h1M5 149h1m15 0h1m1 0h1m1 0h1M26 150h1M5 151h1M9 152h1m2 0h1m9 0h1m4 0h1M6 153h1m5 0h2m2 0h1m1 0h1m1 0h2m1 0h1m1 0h1m1 0h1M10 154h1m13 0h1M7 155h1m1 0h1m4 0h1m10 0h1m1 0h1M27 156h1M4 159h1M4 160h1m5 0h1m3 0h1m9 0h1M9 162h1m1 0h1M8 164h1m1 0h1m9 0h1m3 0h1m2 0h1m1 0h1"/><path stroke="#001414" d="M5 197h1"/><path stroke="#001e00" d="M8 128h1M20 148h1m1 0h2m2 0h1M4 161h1m12 0h1m1 0h1m2 0h1M4 163h1m9 0h1m11 0h1"/><path stroke="#001e0a" d="M28 123h1M6 124h1m7 0h1M10 125h1m2 0h4M9 126h1M4 127h1m7 0h1m4 0h1m4 0h1M4 128h1m12 0h1m2 0h1m3 0h1m2 0h1M22 129h1M6 130h1M5 132h1m9 0h1m8 0h2m1 0h1M10 134h1m18 0h1M26 136h1M13 137h1M20 138h1m4 0h1M4 139h1m12 0h1M6 140h1m5 0h1m4 0h1m6 0h1m2 0h2M6 141h2m7 0h1m10 0h1M6 142h1m13 0h1m3 0h1m3 0h1M5 145h1m1 0h1m5 0h1m4 0h1m9 0h1M4 146h1M13 147h1m6 0h1M4 148h1m3 0h1M13 149h3m8 0h1M6 150h1m4 0h1m4 0h1m6 0h2m4 0h1M7 152h1M15 153h1M5 154h1m17 0h1M4 155h1m6 0h1m1 0h1m3 0h2M15 156h1M4 157h1m3 0h1M15 158h1m3 0h1m3 0h1m5 0h1M7 159h1m4 0h1m3 0h3m6 0h1M13 160h1m3 0h1m7 0h1M6 161h1m1 0h1m7 0h1m11 0h1M17 162h1m4 0h1m6 0h1M7 163h1m20 0h1M25 164h1M21 165h1"/><path stroke="#001e14" d="M4 124h1m16 0h1m3 0h1M7 129h1m2 0h1M12 132h1M7 134h1m9 0h2m8 0h1M17 135h1m1 0h1m5 0h1m3 0h1M5 136h1m11 0h1M18 137h1M23 140h1M5 144h2m12 0h1m4 0h1M11 146h1m3 0h1m2 0h1M12 147h1M19 157h1M9 160h1M24 162h1M5 164h1m20 0h1M5 165h1"/><path stroke="#00280a" d="M22 128h1m5 0h2M18 148h1m8 0h1M8 150h2m15 0h1M28 155h1M17 158h1M6 159h1m8 0h1M10 161h1m12 0h1m5 0h1M11 163h1m3 0h1m6 0h1m4 0h1"/><path stroke="#002814" d="M10 124h1M11 125h1M19 126h1M15 127h1m4 0h1M8 129h1m14 0h1M11 130h1m11 0h1M9 132h1M8 134h2m1 0h1m14 0h1M18 136h1M10 137h1m10 0h1M6 138h1M7 139h1M4 140h1m3 0h1m1 0h2m1 0h1m1 0h1m2 0h1M4 141h1m13 0h1m8 0h1M12 142h2m5 0h1m5 0h1M21 143h1m5 0h1M13 144h1m1 0h1m5 0h1M25 145h1M20 146h1M4 147h2m10 0h1M7 149h1m14 0h1M5 152h1m5 0h1m13 0h1m2 0h1M14 153h1M4 154h1m15 0h1M11 157h1m3 0h1m11 0h2M12 158h3M23 159h1M12 160h1m9 0h1m3 0h1M7 162h1m2 0h1m1 0h1m6 0h1m1 0h1m1 0h1M13 164h1M6 165h1"/><path stroke="#00320a" d="M16 148h1m2 0h1M12 163h1m6 0h1m4 0h1"/><path stroke="#003214" d="M9 125h1M7 127h1m10 0h1M9 128h1M27 130h1M6 132h1m4 0h1M8 133h1M17 137h1m2 0h1M4 138h2m1 0h1M5 139h1m13 0h1m7 0h1M16 141h1M11 145h1M29 149h1M4 150h1m16 0h1M7 154h1m19 0h1M15 155h1m7 0h1M5 158h1m12 0h1m3 0h1M12 161h1m7 0h1M18 163h1"/><path stroke="#00321e" d="M9 124h1M27 125h1M20 129h1M22 131h1M5 137h1M20 141h1M13 143h1m6 0h1M13 146h1M16 151h1M8 152h1M7 153h1M9 164h1"/><path stroke="#003c14" d="M21 128h1M6 148h1m3 0h2m3 0h1M6 155h1M26 159h1M7 161h1m6 0h1M8 163h1"/><path stroke="#003c1e" d="M8 125h1m15 0h1M27 126h1M17 138h1M17 142h1M16 143h1M16 145h1M7 147h1M20 150h1M28 151h1M4 152h1M9 159h2m11 0h1M15 160h1"/><path stroke="#004614" d="M9 148h1"/><path stroke="#00461e" d="M23 147h1M25 148h1M10 163h1m18 0h1"/><path stroke="#00501e" d="M9 163h1"/><path stroke="#0a0000" d="M21 92h1M13 97h1M11 101h1m12 0h1M15 103h1M7 113h1M9 117h1m10 0h1M11 119h1M14 120h1m4 0h1M10 121h1M4 122h1M7 168h1m11 0h2m1 0h1m1 0h1m1 0h4M26 169h1M6 171h1m20 0h1M20 172h1M9 173h1m9 0h1m5 0h1M22 174h1m4 0h1M13 175h1M12 176h1M4 177h1m24 0h1M6 178h1m10 0h1m1 0h1m5 0h1m1 0h1M4 179h1m5 0h1m9 0h1m3 0h1M4 180h1m23 0h1M9 181h1m5 0h2m5 0h2m1 0h1M6 183h1M13 184h1m10 0h1M13 185h1M6 186h1m3 0h1m3 0h4m4 0h1m2 0h1M6 187h1m21 0h2M8 188h1m9 0h1m8 0h1M4 189h1m5 0h1m4 0h1m5 0h2m1 0h5M4 190h1m2 0h1m3 0h1m3 0h1m3 0h2m2 0h2m3 0h2M9 191h1M14 192h1M18 193h1m7 0h1M19 194h2m7 0h1M4 195h1m2 0h1m11 0h1m1 0h1m5 0h1M22 196h1M11 197h1m17 0h1M9 198h1m6 0h1m2 0h1m8 0h1M23 199h1M6 200h1m16 0h1M19 201h1m2 0h1M7 202h1m19 0h2M16 204h1m1 0h1M29 205h1M4 207h1m6 0h1M8 208h1M5 209h1m22 0h1M18 210h1M16 211h1m4 0h1M13 212h1M18 213h1M5 214h2m4 0h3m1 0h3m4 0h1m5 0h2M4 215h1m9 0h1m2 0h1m2 0h1m1 0h2m3 0h1m1 0h1M4 216h2m1 0h1m10 0h2m1 0h1m1 0h1m3 0h1M4 217h1m4 0h2m2 0h1m2 0h1m1 0h1m4 0h2M10 218h1m4 0h1m1 0h1m4 0h1m1 0h1m1 0h1m1 0h1M19 219h4m2 0h1m2 0h1M4 220h1m1 0h1m7 0h1m7 0h3M5 221h1m14 0h3m3 0h1M4 223h3m5 0h1m1 0h2m9 0h3M5 224h1m11 0h1m1 0h1m8 0h1M5 225h1m1 0h2m2 0h1m1 0h4m2 0h2m2 0h3m3 0h1M4 226h3m1 0h1m6 0h1m1 0h1m3 0h1m2 0h1m3 0h2M6 227h1m6 0h1m6 0h1m5 0h2M9 228h1m3 0h2m9 0h1M8 229h1m1 0h1m2 0h1m1 0h1m3 0h1m2 0h1m6 0h1M6 230h1m1 0h3m1 0h1m1 0h1m4 0h2m2 0h1m5 0h1M14 231h1m3 0h1M6 232h1m2 0h1m1 0h1m4 0h1m4 0h2m2 0h2M4 233h2m4 0h1m2 0h1m6 0h1m1 0h2m2 0h1m1 0h1M12 234h1m2 0h1m5 0h1M7 235h1m4 0h1m4 0h1m1 0h1m5 0h3m1 0h1M4 236h1m10 0h1m2 0h1m2 0h1m1 0h1m3 0h2M4 237h2m3 0h1m1 0h1m3 0h1m8 0h1m3 0h1M4 238h1m3 0h2m2 0h2m1 0h2m3 0h1m1 0h1m2 0h1M11 239h3m5 0h1M9 240h1M28 241h1M20 242h1M15 243h1M6 244h1m17 0h1m1 0h1M9 245h1M10 246h1M11 247h1m3 0h1m7 0h1m1 0h1m2 0h1M5 248h1m5 0h1m9 0h1m7 0h1M28 249h1M6 250h1m8 0h1m4 0h1M4 251h1m1 0h1M16 252h1m8 0h1m1 0h1M14 253h1m10 0h1M4 254h2m1 0h3m1 0h1m1 0h1m4 0h1m2 0h1m3 0h4M4 255h2m2 0h1m2 0h2m1 0h1m1 0h1m2 0h2m1 0h3m1 0h4M4 256h1m3 0h2m5 0h2m3 0h4m1 0h3m1 0h1M14 257h3m2 0h1M4 258h1m6 0h1M4 259h1m4 0h1m1 0h2m2 0h3m1 0h1m3 0h1m5 0h1M4 260h2m1 0h2m3 0h1m2 0h2m2 0h2m1 0h1m6 0h1M5 261h1m3 0h1m1 0h3m2 0h5m1 0h1m2 0h1m1 0h1M4 262h2m4 0h1m1 0h2m1 0h1m2 0h1m2 0h3m2 0h2M6 263h2m9 0h1m1 0h4m2 0h1M4 264h3m2 0h1m8 0h1m3 0h2m1 0h3M4 265h1m2 0h3m1 0h1m7 0h4m1 0h1m2 0h3M5 266h1m1 0h2m1 0h1m3 0h2m1 0h2m6 0h3M4 267h3m1 0h1m5 0h1m6 0h1M6 268h1m3 0h1m4 0h2m8 0h1m1 0h3M4 269h1m7 0h1m5 0h1m1 0h1m1 0h1m1 0h1m1 0h1m2 0h1M7 270h1m3 0h1m1 0h4m1 0h1m1 0h2m2 0h1m4 0h1M5 271h1m1 0h1m1 0h2m4 0h2m1 0h2m4 0h2m2 0h2M9 272h1m4 0h1m2 0h1m3 0h1m1 0h2m4 0h1"/><path stroke="#0a000a" d="M25 87h1m1 0h1M18 92h1M26 101h1M15 102h1M17 103h1M18 117h1m2 0h1M2 169h1M3 171h1M0 175h1M0 176h1M0 177h1M0 178h1M0 179h1M0 180h1M2 181h1M0 182h1M3 186h1M1 187h2M0 188h1m1 0h1M2 191h2M0 192h1M0 193h1m2 0h1M0 194h1M1 195h1M1 196h1M0 197h1M0 199h1M0 200h1M0 202h1M0 204h1M0 206h1M0 207h1m2 0h1M0 208h1m1 0h1M2 209h1M0 210h1M3 212h1M1 214h1M3 215h1M2 221h1M2 223h1M0 225h1m2 0h1M0 226h1M2 228h1M1 229h1M0 230h1M3 232h1M1 233h1M1 236h1M0 238h1M0 241h1m1 0h1M0 243h1m1 0h2M0 244h1M0 246h1m1 0h1M0 247h2M0 248h1m2 0h1M2 252h1M3 254h1M0 255h1M0 257h1M3 259h1M3 260h1M0 261h2M0 264h1M2 265h2M0 267h1M0 268h1M3 269h1M0 270h1M2 271h1"/><path stroke="#0a0014" d="M15 101h1"/><path stroke="#0a0a00" d="M19 111h1"/><path stroke="#0a0a0a" d="M1 29h1M3 34h1M2 39h2M2 40h1M2 41h1M2 42h1M2 44h1M2 45h1M2 46h1M1 47h1M1 60h1m1 0h1M1 62h1M3 63h1M3 65h1M1 66h1M3 67h1M1 68h1m1 0h1M1 69h1M1 70h2M1 71h1M1 72h2M1 73h1m1 0h1M3 76h1M3 79h1M1 82h1M1 83h1M2 85h2M2 86h1M3 87h1m6 0h1M2 88h1M10 89h1m13 0h2M2 90h1m12 0h1m1 0h1m2 0h1M0 91h1m2 0h1M4 92h1m19 0h1M1 95h2m25 0h1M21 96h1m5 0h2M2 97h1M2 98h1M0 100h2M2 102h1M1 103h1m1 0h1m18 0h1m4 0h2M1 104h1m13 0h1m3 0h2M1 105h1M1 106h3m23 0h1M3 107h1M0 108h3M2 111h2M28 113h2M1 114h2M1 115h1M1 116h1M1 117h1m22 0h1M1 119h1m17 0h1M2 120h2m11 0h1m6 0h1m6 0h1M1 122h1M3 123h1M1 124h1m1 0h1M2 125h2M2 126h2M2 128h1M1 131h1M1 133h1m1 0h1M1 135h1M1 136h1M1 137h1M1 138h1M3 140h1M1 141h1M1 142h1M0 144h1m2 0h1M3 145h1M1 146h1M0 147h1m1 0h1M1 151h1M0 152h1M2 153h2M3 155h1M1 157h1m1 0h1M1 159h3M1 160h1m1 0h1M1 161h1m1 0h1M3 162h1M2 163h2M3 165h1M5 240h1M12 241h1m3 0h1M29 242h1M4 244h1M4 245h1M24 247h1M23 248h1M13 249h1m4 0h1M6 252h1m15 0h1M4 253h1"/><path stroke="#0a0a14" d="M8 101h1m5 0h1m7 0h1m6 0h1M14 102h1m2 0h1m1 0h1m8 0h1M5 117h1m11 0h1M5 170h1M5 172h1M5 173h1M5 176h1M4 184h1M4 187h1M5 188h1M5 210h1M4 211h1"/><path stroke="#0a1400" d="M14 99h1m2 0h1M25 107h1M11 112h1"/><path stroke="#0a140a" d="M8 88h1m4 0h1m1 0h1M28 89h1M10 90h1M8 91h2m15 0h2M23 93h1M6 94h1M15 95h1m1 0h1m2 0h1M11 100h2m1 0h1m4 0h1M9 106h1m9 0h1M14 108h1m10 0h1M6 111h1m8 0h1M25 112h1M4 114h1m24 0h1M9 119h1m7 0h1m8 0h1M8 122h1m12 0h2"/><path stroke="#0a1414" d="M4 87h2m2 0h1m2 0h1M8 89h1m3 0h1M25 92h1M19 101h1m5 0h1m2 0h1M7 102h1m4 0h1m16 0h1M6 103h1m7 0h1M10 104h1m14 0h1M20 113h1M28 119h1M5 120h1m11 0h1M9 121h1m9 0h1m2 0h1M5 198h1M4 200h1M4 203h1"/><path stroke="#0a141e" d="M10 101h1m1 0h2"/><path stroke="#0a1e0a" d="M1 35h1M1 37h1M3 50h1M1 52h1m1 0h1M3 53h1M1 55h1M3 56h1M1 58h1M3 61h1M2 63h1M3 70h1M2 71h1M3 74h1M1 80h1M3 82h1M3 83h1M1 84h1M4 88h1M0 89h1m2 0h1M0 90h1M15 91h1M1 92h3M8 93h1m5 0h1m12 0h1M1 94h1M1 96h1M1 97h1m1 0h1m15 0h1M15 100h2M2 107h1m12 0h1m3 0h1M29 108h1M1 109h1M10 110h1m12 0h1M1 112h1M1 113h1M12 114h1m4 0h1M3 117h1M1 118h1M2 119h1M17 122h1m1 0h1m7 0h1M0 126h1M2 127h1M3 128h1M3 137h1M2 140h1M2 151h1M2 157h1M3 158h1M3 164h1"/><path stroke="#0a1e14" d="M9 87h1m9 0h1m2 0h1M9 88h1M4 89h1m6 0h1M4 90h1m4 0h1m9 0h1M4 91h1M8 92h1m3 0h1m4 0h1m9 0h1M12 94h1m2 0h1m2 0h1m1 0h1m1 0h1M13 95h1M22 96h1M5 97h1m3 0h1m5 0h1M25 102h1M5 103h1m1 0h1m15 0h2M21 104h1m5 0h1M12 105h1m2 0h1m4 0h2M11 106h2M8 108h1M26 111h1M11 113h1m12 0h1m1 0h1M27 119h1M7 120h1m3 0h1m6 0h1m1 0h1m2 0h1m2 0h1M24 121h2M6 122h1m3 0h1"/><path stroke="#0a1e1e" d="M6 87h1m6 0h1m1 0h1m4 0h1m7 0h1M10 92h1m11 0h1m6 0h1M10 96h1M4 101h2m14 0h1M5 102h1m4 0h1m10 0h1M8 104h1m2 0h1m2 0h1m1 0h1m1 0h1M4 117h1m2 0h1m7 0h1M16 121h1"/><path stroke="#0a280a" d="M8 99h1m11 0h1M17 100h1M20 107h2M14 114h1M4 116h1"/><path stroke="#0a2814" d="M5 88h1m1 0h1m2 0h1m8 0h2M23 89h1M7 90h1M17 91h1m3 0h2M5 93h1m9 0h2m1 0h1m7 0h1m1 0h1M5 94h1m4 0h1m2 0h2M8 97h1m1 0h1m3 0h1m6 0h2m1 0h2M7 98h1m3 0h2m13 0h1m1 0h1M13 100h1M14 105h1m7 0h1m1 0h2m3 0h1M17 106h1m8 0h1M7 108h1m1 0h1m7 0h1m2 0h1m7 0h1M4 110h1m2 0h1m4 0h1m3 0h1m4 0h1m4 0h1M23 111h3M6 112h1m9 0h2M10 113h1M7 114h2m4 0h1m6 0h1M26 115h1m1 0h1M15 119h1m6 0h1m1 0h1M5 122h1m1 0h1m3 0h1m3 0h2m7 0h2"/><path stroke="#0a281e" d="M9 89h1m12 0h1M11 90h1m2 0h1m9 0h1m2 0h1m1 0h1M6 92h1m13 0h1m5 0h1M23 94h1M8 95h1m15 0h1M5 96h1m1 0h1m1 0h1m14 0h1M24 102h1M8 103h1m4 0h1m12 0h1M6 104h1m10 0h1m4 0h1M16 113h1M23 117h1m2 0h1M8 119h1M6 120h1m6 0h1m10 0h1M5 121h2m19 0h1"/><path stroke="#0a2828" d="M6 101h1"/><path stroke="#0a320a" d="M1 34h1M3 37h1M3 41h1M3 54h1M2 56h1M1 57h1M1 67h1M3 71h1M2 74h1M3 86h1M2 87h1M1 90h1M2 93h1M3 95h1M3 105h1M2 109h1M0 112h1m1 0h1M3 114h1M3 119h1M1 120h1M1 127h1M3 129h1M0 135h1M2 136h1M0 138h1m2 0h1M3 141h1M3 142h1M2 144h1M2 146h1M2 149h1M3 150h1M2 161h1M1 165h2"/><path stroke="#0a3214" d="M12 88h1M28 91h1M17 93h1m7 0h1M18 98h1M4 99h1m1 0h1m17 0h1M8 100h1m11 0h2M5 107h1m3 0h1m2 0h3M5 108h1m20 0h1M13 111h1M7 112h1m5 0h1m12 0h1M6 114h1m14 0h1M10 116h1m6 0h2m3 0h1M12 122h1"/><path stroke="#0a321e" d="M24 87h1M26 88h1M13 89h1m7 0h1m4 0h1M6 90h1m9 0h1m9 0h1M13 91h1M9 92h1M8 94h1m7 0h2m6 0h2M6 95h1m3 0h2m7 0h1M20 96h1m4 0h2M12 97h1m7 0h1m6 0h1M16 98h1M7 105h1m8 0h1m9 0h1M18 106h1m4 0h1m4 0h1M12 108h1M11 109h1m9 0h1M9 111h4m1 0h1m2 0h2m3 0h1M14 112h1m7 0h1M6 113h1m8 0h1m1 0h3m7 0h1M23 118h1M13 119h2m1 0h1m4 0h1M21 120h1M12 121h1m4 0h1m2 0h1"/><path stroke="#0a3228" d="M16 92h1M16 96h1M13 102h1m6 0h1M23 104h1M22 117h1M13 121h1m15 0h1"/><path stroke="#0a3c14" d="M7 99h1m7 0h1M8 107h1M6 116h1m14 0h1m2 0h1m4 0h1"/><path stroke="#0a3c1e" d="M14 88h1m6 0h1m5 0h1M20 91h1M12 93h2M12 95h1m1 0h1M17 97h1m10 0h1M5 98h1m2 0h1m1 0h1m3 0h1m4 0h1m2 0h1M11 99h1m6 0h1m7 0h2M6 100h1m17 0h1m3 0h1M4 105h1m5 0h1M5 106h1M7 107h1m20 0h1M18 108h1m4 0h2M6 110h1m6 0h2m2 0h1M5 112h1m23 0h1M11 114h1M13 122h1m14 0h1"/><path stroke="#0a3c28" d="M5 89h1m1 0h1m7 0h1M5 90h1m6 0h1M5 92h1m8 0h1M26 94h1M4 96h1m6 0h1M10 103h1m5 0h1M28 104h1M19 105h1m8 0h1M22 106h1m6 0h1M4 113h2m15 0h1M29 119h1M4 120h1m4 0h1M4 121h1"/><path stroke="#0a3c32" d="M29 104h1"/><path stroke="#0a461e" d="M20 93h2m7 0h1M19 99h1m8 0h1M10 100h1M10 107h2m14 0h1M13 108h1M9 110h1m14 0h1M9 112h1m8 0h1M5 114h1M18 115h1M7 116h1m12 0h1m4 0h1"/><path stroke="#0a4628" d="M6 88h1M16 89h1M23 90h1M10 91h1M19 93h1M9 94h1M5 95h1m15 0h1M29 96h1M11 97h1m6 0h1m7 0h1M9 98h1m13 0h2M9 105h1m17 0h1M27 108h1M7 111h1m20 0h2M18 118h1M18 119h1"/><path stroke="#0a4632" d="M25 103h1M8 121h1"/><path stroke="#0a501e" d="M25 99h1M14 116h1"/><path stroke="#0a5028" d="M23 91h1M24 93h1M16 99h1m4 0h1M9 100h1m15 0h1M17 107h1M15 110h1M19 112h1M9 114h1M8 116h1"/><path stroke="#0a5032" d="M23 92h1M23 95h1M23 96h1M8 113h1"/><path stroke="#0a5a28" d="M23 99h1M6 107h1M16 116h1m2 0h1m6 0h2"/><path stroke="#0a5a32" d="M17 98h1M27 110h1"/><path stroke="#0a6428" d="M11 116h1"/><path stroke="#0a643c" d="M18 105h1"/><path stroke="#140000" d="M6 168h1m1 0h1m1 0h1m1 0h4m1 0h2m2 0h1m1 0h1m1 0h1M7 178h2m6 0h2m5 0h3m1 0h1M4 181h2m2 0h1m2 0h4m3 0h3m3 0h1m2 0h1M4 186h2m7 0h1m4 0h1m1 0h2m1 0h1m3 0h2M6 189h1m1 0h1m3 0h1m3 0h3m4 0h1M6 190h1m2 0h1m2 0h3m1 0h2m3 0h2m2 0h1m1 0h1M4 214h1m2 0h2m1 0h1m3 0h1m4 0h2m2 0h3M6 215h2m2 0h1m1 0h2m5 0h1m1 0h1m2 0h1m3 0h1M10 216h1m1 0h2m1 0h1m1 0h1m4 0h1m2 0h1M6 217h3m2 0h2m2 0h1m1 0h1m9 0h1M7 218h1m1 0h1m1 0h1m2 0h1m1 0h1m10 0h1M5 219h1m2 0h2m2 0h3m2 0h1m5 0h1m3 0h1M5 220h1m1 0h1m1 0h1m5 0h3m2 0h1m4 0h1m2 0h2M6 221h1m4 0h1m1 0h1m2 0h1m1 0h1m8 0h2M4 222h1m13 0h1m3 0h3m2 0h1M7 223h3m3 0h1m3 0h2m1 0h2m2 0h1m3 0h1M4 224h1m1 0h1m4 0h1m2 0h2m6 0h1m4 0h1M6 225h1m2 0h1m12 0h1m3 0h1M7 226h1m1 0h2m5 0h1m1 0h3m2 0h1m1 0h1M5 227h1m5 0h1m2 0h2m2 0h1m2 0h1m7 0h1M10 228h3m2 0h2m3 0h2m1 0h1m3 0h3M6 229h1m4 0h1m5 0h1m6 0h4M5 230h1m1 0h1m5 0h1m1 0h3m3 0h2m1 0h1M5 231h2m2 0h2m5 0h1m3 0h1m3 0h1m2 0h1M7 232h2m3 0h1m4 0h1m1 0h1m4 0h1m2 0h1M7 233h3m14 0h2m3 0h1M6 234h1m1 0h1m1 0h1m2 0h1m3 0h1m2 0h1m1 0h1m1 0h1m4 0h1M6 235h1m1 0h1m1 0h1m2 0h1m1 0h2m1 0h1m1 0h2M8 236h1m2 0h1m4 0h1m2 0h2m1 0h1m1 0h2M17 237h2m1 0h3m3 0h1M5 238h2m7 0h1m2 0h3m1 0h1m2 0h1m2 0h2M5 239h2m1 0h1m1 0h1m7 0h1m1 0h2m4 0h3M12 254h1m2 0h1m1 0h1m2 0h1m3 0h1M7 255h1m5 0h1m1 0h1m1 0h1m3 0h1M5 256h1m7 0h2m2 0h2m9 0h1M4 257h1m1 0h1m1 0h3m6 0h2m1 0h7m1 0h2M5 258h1m1 0h1m2 0h1m1 0h1m1 0h3m3 0h2m1 0h2m3 0h1M5 259h1m2 0h1m5 0h1m3 0h1m1 0h1m1 0h1m3 0h1M6 260h1m2 0h2m2 0h2m3 0h1m2 0h1m1 0h1m3 0h2M4 261h1m2 0h1m7 0h1m7 0h2m3 0h2M8 262h1m5 0h1m1 0h2m1 0h1m5 0h1m2 0h2M8 263h2m2 0h3m8 0h1m2 0h2M7 264h2m1 0h2m2 0h1m4 0h1m4 0h1m3 0h2M6 265h1m5 0h2m9 0h1M4 266h1m6 0h1m4 0h1m3 0h1m1 0h3m3 0h2M11 267h3m5 0h2m1 0h1m1 0h2m2 0h1M7 268h2m2 0h3m4 0h7M6 269h1m2 0h1m1 0h1m1 0h1m2 0h2m5 0h1m1 0h1m1 0h1M4 270h1m5 0h1m1 0h1m14 0h1M6 271h1m5 0h3m5 0h1m1 0h1m3 0h1M4 272h3m3 0h1m5 0h1m1 0h1m3 0h1"/><path stroke="#14000a" d="M1 169h1M3 170h1M1 173h1m1 0h1M1 175h1M1 178h1M1 180h1M3 183h1M1 188h1M1 190h2M1 191h1M3 196h1M1 197h1M1 199h1M2 200h2M1 204h1M1 205h1M1 208h1M1 209h1M2 212h1M1 218h1M3 221h1M1 228h1m1 0h1M2 229h1M2 231h1M3 234h1M1 238h2M1 239h1M3 244h1M2 249h1M1 252h1m1 0h1M3 253h1M2 255h2M1 256h1M2 259h1M2 260h1M1 264h1M3 266h1M3 268h1"/><path stroke="#140a0a" d="M0 11h1M3 13h1M1 14h2M0 15h1m2 0h1M0 16h1m1 0h1M1 23h2M1 24h1M0 25h1m1 0h2M3 26h1M0 27h2M1 28h1M1 31h1M1 32h1M2 167h1M4 240h1m15 0h1M7 241h1m7 0h1m2 0h1m2 0h1m1 0h3M16 242h1M11 243h1M5 244h1M5 245h1m17 0h1M5 246h1m2 0h1m11 0h1M5 247h1m1 0h1m2 0h1M15 248h2m2 0h1m2 0h1m4 0h1M6 249h1m15 0h1M12 250h1m6 0h1M5 251h1M12 252h1m4 0h1m2 0h1m8 0h1M5 253h2m1 0h2m17 0h1"/><path stroke="#140a14" d="M4 170h1M5 171h1M4 174h1M4 175h1M5 177h1M5 179h1m21 0h1M5 180h1M5 183h1M7 184h1m4 0h1M4 185h1M5 187h1M4 210h1M5 211h1m8 0h1M4 212h1m6 0h2m9 0h2m3 0h1M4 213h1"/><path stroke="#141414" d="M5 193h1M5 194h1M5 196h1M5 202h1M5 203h1M4 204h2M5 206h1M5 208h1"/><path stroke="#1e0000" d="M9 168h1m6 0h1M18 178h1m2 0h1m7 0h1M10 181h1m10 0h1m4 0h1M7 186h1m1 0h1m1 0h1M9 189h1m4 0h1m5 0h1M5 190h1m2 0h1m1 0h1M18 214h1m7 0h2M9 215h1m1 0h1m3 0h1m2 0h1M8 216h2m1 0h1m2 0h1m1 0h1m3 0h1m3 0h1m1 0h1m1 0h2M21 217h2m3 0h1M12 218h2m5 0h3m3 0h1m3 0h1M6 219h2m2 0h1m4 0h2m1 0h1m5 0h1m1 0h1m2 0h1M8 220h1m2 0h3m5 0h1m6 0h2M7 221h2m5 0h2m1 0h1m1 0h1m3 0h3m3 0h1M5 222h1m1 0h1m3 0h1m3 0h2m2 0h1m1 0h1m4 0h1M16 223h1m2 0h1m2 0h2M7 224h1m5 0h1m6 0h2m1 0h1m2 0h1M10 225h1m1 0h1m15 0h1M12 226h1m9 0h1m4 0h1M4 227h1m2 0h3m2 0h1m3 0h1m2 0h1m2 0h1m1 0h1m3 0h1M8 228h1m16 0h2M7 229h1m1 0h1m2 0h1m1 0h1m3 0h1m1 0h2M11 230h1m6 0h1m6 0h1m2 0h1M7 231h2m2 0h1m1 0h1m3 0h1m1 0h1m2 0h1m2 0h1M10 232h1m3 0h2m2 0h1m9 0h1M15 233h1m1 0h1m3 0h1M7 234h1m1 0h1m1 0h1m2 0h1m3 0h2m3 0h1m1 0h4M9 235h1m4 0h1m8 0h2m3 0h1M6 236h1m2 0h2m1 0h2m3 0h1m8 0h1m2 0h1M6 237h1m3 0h1m1 0h3m8 0h1m1 0h1m3 0h1M10 238h1M4 239h1m2 0h1m1 0h1m5 0h3m4 0h2m1 0h1M6 254h1m3 0h1m3 0h1m1 0h1m5 0h1M6 255h1m18 0h1M11 257h1m1 0h1m13 0h1M9 258h1m3 0h1m3 0h1m8 0h2M6 259h1m17 0h1m3 0h1M11 260h1m13 0h2M6 261h1m7 0h1m6 0h1m4 0h1M6 262h2m3 0h1m8 0h1M12 264h1m2 0h1m1 0h1M10 265h1m4 0h2m8 0h1M12 266h2m7 0h1M9 267h2m4 0h2m6 0h1m2 0h2M17 268h1m8 0h1M22 270h1M21 271h1M8 272h1"/><path stroke="#1e0a0a" d="M4 11h1M5 25h1M4 167h1M7 240h1m3 0h1m3 0h1m1 0h1m7 0h1m1 0h1M9 241h1m1 0h1m8 0h1m6 0h1M5 242h1m4 0h2m7 0h1m4 0h1m2 0h1M4 243h2m18 0h2M7 244h1m2 0h2m1 0h1M13 245h1m2 0h1m4 0h1M7 246h1m3 0h1m2 0h1m1 0h1m2 0h1m8 0h1M8 247h2m4 0h1m1 0h1m4 0h1m7 0h1M7 248h2m8 0h1m6 0h1M7 249h2m1 0h1m4 0h1m3 0h2m2 0h2m2 0h1m1 0h1M7 250h1m3 0h1m1 0h1m4 0h1m2 0h1M12 251h1m2 0h1m11 0h1M7 252h1m1 0h2m2 0h1m1 0h1m5 0h1m1 0h1m2 0h1m1 0h1M10 253h2m4 0h1m2 0h2m7 0h1"/><path stroke="#1e0a14" d="M4 169h2M4 171h1M4 172h1M4 173h1m3 0h1m9 0h1M5 174h1m10 0h1m2 0h1m1 0h1M5 175h1m16 0h1M7 179h1m5 0h2m3 0h1M22 182h1M4 183h1m11 0h1m5 0h1m3 0h1M8 184h1m14 0h1m2 0h1m1 0h2M9 187h1m15 0h1M4 188h1M4 209h1m10 0h1M6 210h1m1 0h1m6 0h1m10 0h1m1 0h1M25 211h1M6 212h1m2 0h1m6 0h1m2 0h1m4 0h2"/><path stroke="#1e1414" d="M4 192h2M4 194h1M4 197h1M4 198h1M4 199h2M5 201h1M4 205h1M4 206h1M5 207h1M4 208h1"/><path stroke="#1e2828" d="M2 3h1M2 4h1M3 5h1M2 6h2M3 7h1M0 8h1m1 0h1M1 9h1"/><path stroke="#1e3c28" d="M3 3h1M1 4h1"/><path stroke="#1e5a28" d="M1 5h1M1 6h1M2 7h1M1 10h2"/><path stroke="#280000" d="M17 181h1M29 186h1M19 189h1M8 215h1m7 0h1M6 216h1M28 217h1M10 220h1M9 221h2m1 0h1M6 222h1m1 0h1m1 0h1m1 0h1m1 0h1m2 0h1m7 0h1m2 0h1M8 224h1m1 0h1m1 0h1m3 0h1m1 0h1m5 0h2m3 0h1M11 226h1m1 0h2M23 227h1m1 0h1M17 228h1M23 229h1m4 0h1M12 231h1m8 0h1m1 0h1m2 0h1m2 0h1M20 232h1m8 0h1M16 234h1M11 235h1M7 237h2m10 0h1m7 0h1M29 238h1M24 239h1m4 0h1M7 257h1m4 0h1M6 258h1m15 0h1m2 0h1m3 0h1M7 259h1M10 261h1M9 262h1M7 267h1m21 0h1"/><path stroke="#28000a" d="M2 171h1M2 173h1M3 178h1M3 180h1M2 184h2M3 188h1M1 189h1M2 193h1M2 194h1M1 198h1M3 199h1M1 202h2M2 207h1M1 210h1M2 211h2M1 215h1M1 216h1M1 221h1M1 222h1M1 223h1M1 225h1M2 226h1M1 234h1M1 235h1M1 237h1M1 243h1M1 244h1M3 247h1M1 250h1m1 0h1M1 253h1M3 258h1M1 262h1m1 0h1M2 268h1M2 269h1M3 270h1"/><path stroke="#280a0a" d="M5 10h1M5 20h1M4 32h1M4 166h1M8 240h1m1 0h1m1 0h2m4 0h1m3 0h2m4 0h1M8 241h1m1 0h1m3 0h1m2 0h1m1 0h1m2 0h1m3 0h1M6 242h1m2 0h1m2 0h1m15 0h1M6 243h1m9 0h1m2 0h1m1 0h1m7 0h1M9 244h1m6 0h1m1 0h4m1 0h1m3 0h2M6 245h1m3 0h2m2 0h2m1 0h3m2 0h1M6 246h1m2 0h1m2 0h1m4 0h1m3 0h1m1 0h1m1 0h3M6 247h1m11 0h3m6 0h1M6 248h1m3 0h1m1 0h3m3 0h1m1 0h1m4 0h1m2 0h1M9 249h1m2 0h1m1 0h1m1 0h2m3 0h1m3 0h2M4 250h1m5 0h1m3 0h1m8 0h1m1 0h2M9 251h2m5 0h2m4 0h1M8 252h1m2 0h1m2 0h1m4 0h1m4 0h1M7 253h1m5 0h1m4 0h1m5 0h1"/><path stroke="#280a14" d="M9 169h1M6 172h1m3 0h2m2 0h1m3 0h2m5 0h1m2 0h1M12 173h1m3 0h1m3 0h1m1 0h1m4 0h1M6 174h1m4 0h1m1 0h1m1 0h1m1 0h2m1 0h1m3 0h1m4 0h1M7 175h1m2 0h1m3 0h1m5 0h1m7 0h2M10 176h1m2 0h1m2 0h2m3 0h1M9 179h1m2 0h1m4 0h1m3 0h2m2 0h2M19 182h2M7 183h4m1 0h1m5 0h2m4 0h1m2 0h3M10 184h2m3 0h4m1 0h2m3 0h1m1 0h1M7 185h2m8 0h1m1 0h1m6 0h1M10 187h2m3 0h1m8 0h1M6 188h1m4 0h1m1 0h2m5 0h1m3 0h1m1 0h1m1 0h1M14 209h1m2 0h1m3 0h4m1 0h1M10 210h2m1 0h1m2 0h1m4 0h4M6 211h3m3 0h1m2 0h1m2 0h1M10 212h1m4 0h1m1 0h1m2 0h2m4 0h1m2 0h1M5 213h1m10 0h1"/><path stroke="#281414" d="M4 191h2M4 193h1M5 195h1M4 196h1M5 200h1M4 201h1M4 202h1M5 205h1"/><path stroke="#28281e" d="M5 36h1M27 48h1M28 72h1"/><path stroke="#282828" d="M28 58h1"/><path stroke="#282832" d="M5 76h1"/><path stroke="#28321e" d="M13 81h1"/><path stroke="#283228" d="M26 63h1M19 67h1M9 69h1M26 72h1M10 80h1"/><path stroke="#283232" d="M10 45h1m12 0h1M5 57h1m16 0h1M11 76h1m4 0h1m1 0h1"/><path stroke="#283c28" d="M16 39h1M18 58h1M12 59h1M13 64h1M14 67h1M9 70h1M11 81h1"/><path stroke="#283c32" d="M18 37h1M20 45h1M9 48h1M10 69h1m17 0h1M25 70h1M4 78h1m6 0h1m14 0h1M6 82h1m4 0h1m15 0h1m1 0h1M4 83h1M12 86h1"/><path stroke="#283c3c" d="M15 57h1m13 0h1M24 76h1m3 0h1M16 78h1"/><path stroke="#284628" d="M9 40h1M13 44h1M6 66h1M21 85h1"/><path stroke="#284632" d="M22 34h1M11 36h1m6 0h1M9 37h1m13 0h1m5 0h1M26 44h1M25 48h1M25 49h1M29 50h1M19 54h1M21 58h2M23 60h1M6 63h1m7 0h1m1 0h1m2 0h1M23 64h1M5 69h1m8 0h1M20 70h1M17 72h1m1 0h1m2 0h1M9 74h1M13 75h1M27 80h1M9 82h1M11 83h1"/><path stroke="#28463c" d="M5 45h1m2 0h1m5 0h1m7 0h1M7 57h1m18 0h1M8 76h1m3 0h1m7 0h1m6 0h1M12 78h1m10 0h1m3 0h1m1 0h1M14 82h1"/><path stroke="#285028" d="M26 42h1M24 47h1M11 51h1M17 56h1M15 61h1"/><path stroke="#285032" d="M6 34h2m18 0h1M8 36h1M19 37h1m7 0h1M20 39h1M22 41h1M11 42h1M5 44h2m5 0h1M7 46h1m13 0h1M24 48h1M23 50h1M4 54h1m16 0h1M25 59h1M15 60h1M5 61h1m22 0h1M8 62h1M5 63h1m2 0h1m9 0h1m3 0h1M23 66h1M5 68h1m2 0h1m2 0h1m2 0h1M10 70h1M8 72h1m9 0h1M16 73h1m3 0h1m2 0h1M7 74h1m7 0h1m2 0h1M15 79h1m6 0h2M24 80h2m3 0h1M4 85h1m9 0h1m13 0h1"/><path stroke="#28503c" d="M7 45h1m13 0h1m7 0h1M21 48h1M17 49h1M16 55h1M24 57h1M8 58h1m3 0h1m2 0h1m4 0h1m3 0h1M12 63h1m14 0h1M19 69h2m1 0h1M6 72h1m13 0h1M13 78h2m6 0h1M4 80h2m2 0h1m3 0h1M15 82h1m3 0h1m2 0h1M6 83h2M25 86h1"/><path stroke="#285046" d="M14 57h1m13 0h1M4 76h1m5 0h1m4 0h1m3 0h1m5 0h1M24 78h1"/><path stroke="#285a32" d="M14 35h1M7 41h1m12 0h1M21 42h1M9 50h1m6 0h1m9 0h1M7 52h1m21 0h1M17 60h1m1 0h1M16 61h1M5 62h1m14 0h1m7 0h1M8 66h1m4 0h1m1 0h1M20 68h2m3 0h1M14 73h1m13 0h1M9 79h1M27 84h1"/><path stroke="#285a3c" d="M9 34h1m8 0h1m6 0h1M4 36h1m2 0h1m6 0h1m5 0h1m8 0h1M11 37h2m8 0h2M22 40h1M17 41h1m10 0h1M7 44h1m10 0h1M28 46h1M5 48h1m6 0h1M4 50h1m8 0h1M12 54h2m15 0h1M23 58h1m2 0h2M28 59h1M6 60h1M25 62h1M7 63h1m13 0h1m1 0h1m5 0h1M10 64h1m5 0h4m6 0h1M20 66h1M17 69h1M6 70h1m7 0h1m8 0h1m5 0h1M21 72h1M5 73h1m5 0h1M4 74h1m6 0h1M14 80h1m1 0h2M6 81h1m14 0h1m4 0h1M10 83h1m1 0h1m2 0h1m1 0h1m9 0h2M7 85h1m15 0h2m1 0h1"/><path stroke="#285a46" d="M11 45h1m7 0h1m7 0h2M12 57h1M4 69h1m11 0h1M23 76h1m2 0h1M7 78h2m8 0h1m2 0h1M5 82h1"/><path stroke="#285a50" d="M21 76h1"/><path stroke="#286428" d="M8 43h1m13 0h1M6 77h1"/><path stroke="#286432" d="M9 38h1M15 47h1m1 0h3M26 51h1m1 0h1M13 52h1m8 0h1M28 56h1M11 65h1m16 0h1M25 84h1"/><path stroke="#28643c" d="M10 34h1m5 0h1m2 0h1m1 0h1m1 0h2M17 37h1M14 38h1M15 39h1m9 0h1M10 40h1m5 0h1m1 0h1m5 0h1m1 0h2m1 0h1M14 41h1m9 0h1M9 42h1m7 0h1m4 0h1M4 44h1m15 0h2m2 0h1m3 0h1M4 46h1m10 0h1m8 0h1M23 48h1M12 50h1m15 0h1M12 51h2m6 0h1m6 0h1M10 52h1M5 54h1m1 0h1M27 56h1M6 59h1m2 0h3m3 0h3m6 0h1M20 60h1m4 0h1m2 0h2M13 62h1m12 0h1M5 66h1M4 68h1M15 71h1m3 0h1m4 0h2m3 0h1M8 73h1m16 0h1M5 74h1m16 0h3M7 79h1m10 0h2m1 0h1M6 80h1M8 81h1m15 0h1m2 0h1M18 85h1m6 0h1m3 0h1"/><path stroke="#286446" d="M5 37h2M14 44h1M6 45h1M4 48h1m2 0h1m8 0h1M23 54h2M24 55h1M14 58h1m10 0h1M11 64h1m10 0h1m1 0h1M15 70h1m1 0h1m6 0h1M7 72h1m1 0h1m15 0h1M6 75h1M9 81h1M7 82h1M19 83h2m8 0h1"/><path stroke="#286450" d="M11 57h1M22 76h1M9 78h1m9 0h1M4 86h1"/><path stroke="#286e32" d="M14 43h1M27 53h1M6 65h1m6 0h1"/><path stroke="#286e3c" d="M20 38h1M23 39h1M23 40h1m4 0h1M12 41h1m3 0h1M5 42h1m7 0h1m9 0h1m5 0h1M27 46h1M8 47h1m17 0h1M18 50h1m5 0h2M10 51h1m10 0h1m1 0h1M6 52h1m1 0h2m2 0h1m2 0h1m2 0h2M4 56h1m5 0h1m5 0h1m8 0h2m2 0h1M20 59h1M6 61h2m15 0h1M9 62h1m14 0h1M12 65h1m5 0h1m2 0h1m5 0h1M4 66h1m7 0h1m5 0h1M18 71h1m1 0h1m6 0h2M16 79h2M4 84h1m6 0h1m1 0h2m9 0h1"/><path stroke="#286e46" d="M14 34h1m5 0h1M16 36h1M8 37h1m4 0h1m12 0h1m1 0h1M5 39h1M5 40h1M9 44h2m18 0h1M9 46h1m19 0h1M6 48h1m8 0h1m3 0h2m8 0h1M18 49h1M17 50h1M26 54h1M28 55h1M7 58h1M4 59h1m3 0h1m20 0h1M5 60h1m6 0h1m8 0h1M10 62h1m12 0h1M24 63h1M8 64h2m19 0h1M29 66h1M15 68h1m11 0h1m1 0h1M8 70h1M5 72h1m8 0h1M18 73h1m10 0h1M14 74h1m12 0h3M21 80h1M10 81h1m7 0h1M15 85h1m11 0h1"/><path stroke="#286e50" d="M16 45h1M6 57h1M6 78h1M11 80h1"/><path stroke="#287832" d="M7 43h1"/><path stroke="#28783c" d="M16 43h1M9 47h1M17 51h1M7 56h1m1 0h1m2 0h1M7 65h1m8 0h2M11 71h1m5 0h1M6 84h1m19 0h1"/><path stroke="#287846" d="M27 35h1M8 39h2m1 0h1m17 0h1M14 40h2m1 0h1M13 41h1m13 0h1m1 0h1M15 42h1m2 0h1m9 0h1M17 44h1M10 46h2m13 0h2M14 50h1m5 0h1M16 51h1m1 0h1m6 0h1M23 52h1m3 0h1M9 54h1M18 56h1m3 0h1M18 59h1m4 0h1M4 60h1m5 0h1M8 61h1m1 0h1m1 0h1m5 0h1m2 0h2M4 62h1m2 0h1m6 0h2M5 64h1m21 0h1M16 66h1m11 0h1M7 68h1m10 0h1M26 70h1M5 71h1M10 73h1m8 0h1m1 0h1M13 74h1M6 79h1m18 0h1M29 81h1M13 85h1m6 0h1"/><path stroke="#287850" d="M14 37h1M7 49h1M6 54h1M15 63h1M12 69h1M13 70h1M8 74h1M19 80h1M21 83h1M19 85h1"/><path stroke="#28785a" d="M13 82h1"/><path stroke="#288232" d="M5 77h1"/><path stroke="#28823c" d="M4 43h1m13 0h1m4 0h1"/><path stroke="#288246" d="M18 38h1M19 39h1m6 0h1M9 41h1m9 0h1M6 42h1m13 0h1M5 47h1m7 0h1m2 0h1m10 0h1M9 51h1M11 52h1m2 0h1m5 0h1M13 56h1M22 62h1M5 65h1m4 0h1m4 0h1M6 71h1M7 84h1m2 0h1m1 0h1m2 0h1m12 0h1"/><path stroke="#288250" d="M17 36h1M4 39h1M13 40h1M15 41h1m5 0h1M25 44h1M13 48h1M13 59h1M9 60h1m3 0h1M19 62h1m9 0h1M21 66h1M13 68h1M12 73h1M14 79h1M9 85h1"/><path stroke="#28825a" d="M26 36h1M24 82h1"/><path stroke="#288c3c" d="M5 0h1M5 1h1M5 2h1M9 77h1"/><path stroke="#288c46" d="M9 43h1m1 0h1m13 0h1M23 47h1M14 65h1m11 0h1M16 84h1"/><path stroke="#288c50" d="M13 39h1m4 0h1m3 0h1M19 40h1m1 0h1M4 41h1m3 0h1M6 46h1m6 0h1M7 47h1M14 51h1M14 54h1M8 56h1m15 0h1M4 61h1m9 0h1m12 0h1m1 0h1M19 66h1M22 71h1M17 74h1M15 81h1M19 84h1"/><path stroke="#289646" d="M12 43h1m4 0h1m10 0h2M9 53h1"/><path stroke="#289650" d="M10 47h1M20 61h1M22 65h1"/><path stroke="#28965a" d="M4 34h1M17 39h1M5 46h1M16 60h1"/><path stroke="#28a050" d="M13 43h1"/><path stroke="#28a05a" d="M24 39h1"/><path stroke="#28aa5a" d="M16 71h1"/><path stroke="#320000" d="M21 220h1M9 222h1m3 0h1m6 0h1m8 0h1M15 231h1m12 0h1M8 258h1m10 0h1M18 267h1"/><path stroke="#320a0a" d="M6 240h1m7 0h1m6 0h1m2 0h1m1 0h1m2 0h1M6 241h1M7 242h1m5 0h3m1 0h1m3 0h1m1 0h1m1 0h2M7 243h4m1 0h3m2 0h2m1 0h1m6 0h1M12 244h1m1 0h1m2 0h1m7 0h1m3 0h1M7 245h2m3 0h1m7 0h1m3 0h2m1 0h3M13 246h1m4 0h1m3 0h1m1 0h1m4 0h1M12 247h2m3 0h1m4 0h1m3 0h1M26 248h1M11 249h1M8 250h2m12 0h1m4 0h3M8 251h1m2 0h1m1 0h2m4 0h1m1 0h1m3 0h2m1 0h2M18 252h1M12 253h1m2 0h1m1 0h1m3 0h1m1 0h1m2 0h1m2 0h1"/><path stroke="#320a14" d="M6 169h2m14 0h1M11 170h1m17 0h1M17 171h2m5 0h1m1 0h1M7 172h3m2 0h1m9 0h2m2 0h1M6 173h1m4 0h1m2 0h1m2 0h1m3 0h1m2 0h1m1 0h1m1 0h1M8 174h3m1 0h1m1 0h1m8 0h1m1 0h2m1 0h1M8 175h2m1 0h2m3 0h2m1 0h1m1 0h1m3 0h3M7 176h2m2 0h1m3 0h1m6 0h1m1 0h2m1 0h1M19 177h1M6 179h1m8 0h2m2 0h1m3 0h1m5 0h1M6 180h1m6 0h1m6 0h2m1 0h1M10 182h1m4 0h1M11 183h1m1 0h2m2 0h1m2 0h1m2 0h1M6 184h1m2 0h1M12 185h1m2 0h2m1 0h1m1 0h1m1 0h1m2 0h1m1 0h1m1 0h1M12 187h2m2 0h2m1 0h2m5 0h1M12 188h1m2 0h2m5 0h2m1 0h1m3 0h1M8 209h5m12 0h1m1 0h1m1 0h1M7 210h1m1 0h1m2 0h1m1 0h1m2 0h1m2 0h1m4 0h1m3 0h1M9 211h3m5 0h1m1 0h1m2 0h1m1 0h1m3 0h2M8 212h1m9 0h1M7 213h4m9 0h1"/><path stroke="#321414" d="M23 196h1M17 201h2M9 207h1"/><path stroke="#3c0000" d="M9 224h1"/><path stroke="#3c0a0a" d="M3 11h1M1 12h1M3 14h1M0 18h1m1 0h2M3 19h1M0 20h1m1 0h2M2 22h2M0 23h1M3 24h1M0 28h1m1 0h1M0 31h1m2 0h1M0 33h1M0 166h1m1 0h1M0 167h1M16 240h1m2 0h1M8 242h1m9 0h1m3 0h1M22 243h2m2 0h1m1 0h1M8 244h1m6 0h1m6 0h1M26 245h1M15 246h1M16 250h2m6 0h1M18 251h1m4 0h2"/><path stroke="#3c0a14" d="M8 169h1m3 0h1m1 0h1m1 0h1m1 0h1m2 0h1M6 170h1m3 0h1m1 0h2m8 0h1m5 0h1M8 171h1m1 0h2m2 0h3m3 0h2m6 0h2M15 172h3m3 0h1m7 0h1M7 173h1m5 0h1m1 0h1m7 0h1m5 0h1M7 174h1M15 175h1m2 0h1m4 0h1M9 176h1m4 0h1m3 0h3m2 0h1m2 0h1m1 0h2M12 177h1m9 0h1m1 0h2m2 0h1M8 179h1m2 0h1m16 0h1M14 180h1m3 0h1m6 0h1M6 182h2m1 0h1m2 0h2m2 0h1m6 0h2m2 0h2M21 183h1m3 0h1M14 184h1m4 0h1M6 185h1m7 0h1m13 0h1M7 187h2m5 0h1m6 0h1m1 0h1m3 0h1M7 188h1m1 0h2m6 0h1m3 0h1M6 209h2m8 0h1m1 0h3M27 210h1M23 211h1m2 0h1M14 212h1M6 213h1m4 0h2m9 0h1m5 0h1"/><path stroke="#3c1414" d="M23 31h1M10 192h1m16 0h1m1 0h1M6 201h1m2 0h1M20 202h1M9 203h1m4 0h1m3 0h1M6 204h1"/><path stroke="#3c6446" d="M9 29h1"/><path stroke="#3c6e46" d="M1 0h2M1 1h3M1 2h1M22 29h1"/><path stroke="#3c6e50" d="M12 29h1m16 0h1"/><path stroke="#3c7850" d="M14 29h1m2 0h1m9 0h1"/><path stroke="#3c8250" d="M24 29h2"/><path stroke="#3c825a" d="M6 29h1m1 0h1"/><path stroke="#3c8c5a" d="M10 29h1m17 0h1"/><path stroke="#3c9664" d="M11 29h1m6 0h1"/><path stroke="#3caa6e" d="M8 30h1"/><path stroke="#46000a" d="M2 168h1M1 170h1M1 174h1M1 176h1m1 0h1M1 177h1m1 0h1M2 178h1M3 181h1M1 184h1M1 185h1m1 0h1M2 186h1M2 189h1M1 192h2M1 194h1m1 0h1M3 197h1M3 198h1M2 203h1M3 204h1M2 205h1M3 206h1M3 210h1M3 222h1M2 224h1M2 235h1M3 237h1M3 239h1M1 240h1m1 0h1M1 241h1M3 249h1M2 253h1M1 255h1M3 257h1M1 259h1M2 261h1M2 262h1M2 264h1M1 265h1M1 267h1M1 268h1M1 269h1"/><path stroke="#460a0a" d="M7 251h1m12 0h1"/><path stroke="#460a14" d="M11 169h1m1 0h1m3 0h1m1 0h2m2 0h2m2 0h3M7 170h1m1 0h1m4 0h2m1 0h2m1 0h1m2 0h1M7 171h1m1 0h1m2 0h1m9 0h2m1 0h1M27 172h1M10 173h1M6 175h1m17 0h1M6 176h1M6 177h3m1 0h1m2 0h2m1 0h1m1 0h1m1 0h1m6 0h1M7 180h1m1 0h3m3 0h3m4 0h1m3 0h1M14 182h1m2 0h2m2 0h1m3 0h2m2 0h1M9 185h3m9 0h1m1 0h1M18 187h1m3 0h1M19 188h1M13 209h1M13 211h1m6 0h1M13 213h1m7 0h1m2 0h2m1 0h1"/><path stroke="#461414" d="M13 31h2m7 0h1m3 0h2M18 191h1M12 192h1m6 0h3m4 0h1M6 193h1m3 0h1m8 0h1M15 196h1m4 0h1M12 197h1m6 0h1m3 0h1M20 198h1M11 199h1m15 0h1M24 200h1M8 201h1m1 0h1m2 0h3m7 0h7M11 202h2m1 0h4m3 0h1m3 0h1m3 0h1M10 203h2m1 0h1m2 0h1m4 0h1m1 0h2m1 0h1m1 0h2M9 204h1m2 0h1m6 0h1m3 0h1m4 0h2M15 207h1M16 208h1m2 0h1"/><path stroke="#46a05a" d="M6 0h24M6 1h24M6 2h24"/><path stroke="#500a14" d="M10 169h1M8 170h1m10 0h1m1 0h1m2 0h2M13 171h1m5 0h1M13 172h1M9 177h1m1 0h1m3 0h1m1 0h1m5 0h1m2 0h1M8 180h1m15 0h1m2 0h1m1 0h1M11 182h1M15 183h1M15 213h1m1 0h1m1 0h1m6 0h1m2 0h1"/><path stroke="#501414" d="M4 10h1M10 20h1m3 0h1m13 0h1M4 31h1m1 0h5m1 0h1m2 0h2m11 0h1M22 32h1M5 33h1M11 191h1M7 192h3m13 0h2m3 0h1M9 193h1m2 0h2m1 0h1m4 0h2m2 0h1M6 196h2m2 0h1m1 0h2m2 0h1m1 0h1m2 0h1M6 197h2m7 0h1m2 0h1m1 0h1m1 0h1m4 0h1M10 198h2m11 0h1m1 0h1M9 199h2m2 0h1m1 0h2m3 0h1m1 0h1m1 0h1m1 0h1M9 200h1m2 0h1m2 0h1m6 0h1M11 201h1m4 0h1m3 0h2M6 202h1m1 0h3m2 0h1m4 0h1m3 0h3m1 0h1M7 203h2m3 0h1m2 0h1m4 0h1m4 0h1M7 204h2m1 0h2m1 0h1m1 0h1m4 0h3m2 0h2M10 205h2m6 0h1m6 0h2M10 206h1m1 0h1m1 0h2m2 0h1m9 0h2M18 207h1M7 208h1m2 0h1m9 0h1m1 0h2m1 0h2"/><path stroke="#50141e" d="M13 10h1"/><path stroke="#5a0a14" d="M4 20h1M25 169h1M21 177h1M8 182h1M14 213h1m8 0h1"/><path stroke="#5a1414" d="M7 20h2m2 0h1m1 0h1m3 0h1m1 0h1m4 0h2M5 31h1m11 0h3m5 0h1m3 0h1M13 32h2M6 191h1m3 0h1m2 0h1m5 0h2m2 0h2m1 0h1M11 192h1m1 0h1m2 0h3m3 0h1m2 0h1M7 193h2m2 0h1m5 0h1m4 0h2m1 0h1m1 0h2M7 194h1m4 0h1M13 195h1m4 0h1M8 196h1m2 0h1m2 0h1m11 0h2M8 197h3m14 0h1M8 198h1m3 0h4m1 0h1m3 0h2m1 0h1m1 0h1m2 0h1M7 199h2m3 0h1m6 0h1m5 0h1m2 0h2M7 200h2m1 0h2m1 0h2m2 0h1m2 0h2m3 0h3M7 201h1M19 202h1M17 203h1m1 0h1m2 0h1m4 0h1M14 204h1m2 0h1m6 0h1m2 0h1M6 205h1m1 0h2m4 0h1m1 0h2m1 0h3m2 0h1m3 0h1M6 206h1m1 0h2m3 0h1m2 0h1m2 0h1m6 0h2M10 207h1m3 0h1m4 0h1m1 0h2m3 0h1M9 208h1m1 0h3m3 0h1m3 0h1m2 0h1m2 0h2"/><path stroke="#5a141e" d="M12 10h1m1 0h2m2 0h3m7 0h1"/><path stroke="#640a14" d="M15 169h1M26 170h1"/><path stroke="#641414" d="M6 20h1m9 0h1m1 0h1m1 0h2m5 0h1m1 0h1M8 32h1m10 0h1m3 0h1m1 0h1m2 0h1M8 33h1m2 0h1m3 0h2M7 191h1m7 0h1m6 0h1m4 0h3M6 192h1m8 0h1M14 193h1m1 0h1m12 0h1M9 194h1m12 0h1m3 0h1m2 0h1M11 195h2m13 0h1M17 196h1m1 0h1m4 0h2m2 0h2M14 197h1m1 0h2m6 0h1m1 0h1m1 0h1M6 198h2m10 0h1m8 0h1M6 199h1m7 0h1m2 0h2m2 0h1M16 200h1m1 0h1m9 0h2M6 203h1M7 205h1m4 0h2m1 0h1m6 0h2m3 0h1M11 206h1m5 0h1m2 0h6M8 207h1m3 0h1m4 0h1m5 0h2m2 0h3M6 208h1m11 0h1m10 0h1"/><path stroke="#64141e" d="M7 10h4m6 0h1m6 0h2m3 0h1M13 11h1m7 0h1M17 12h3"/><path stroke="#641e1e" d="M4 27h1m7 0h1m13 0h1M4 28h1"/><path stroke="#64281e" d="M20 24h1"/><path stroke="#6e0a0a" d="M2 12h2M1 13h2M1 16h1m1 0h1M3 17h1M0 19h1M1 21h1M1 22h1M3 23h1M0 24h1m1 0h1M0 26h1M2 31h1M2 32h1M1 33h2M3 167h1"/><path stroke="#6e1414" d="M4 12h2M4 13h1M12 20h1m2 0h1m6 0h2m2 0h1M11 31h1m8 0h1M5 32h2m3 0h1m6 0h2m8 0h1M6 33h2m6 0h1m2 0h5m3 0h3M8 191h1m3 0h1m1 0h1m6 0h1m3 0h1M6 194h1m1 0h1m1 0h2m1 0h2m3 0h1m2 0h1m2 0h2M8 195h3m6 0h1m2 0h1m1 0h2m4 0h1M13 197h1m7 0h1M19 200h1M7 206h1M6 207h1m6 0h1m6 0h1M14 208h1"/><path stroke="#6e141e" d="M6 10h1m9 0h1m4 0h2m3 0h1M8 11h2m6 0h1m2 0h1m4 0h2m1 0h1m1 0h1M7 12h1m1 0h3m3 0h1m4 0h1m1 0h1m1 0h1M8 13h1"/><path stroke="#6e1e1e" d="M5 27h2m4 0h1m10 0h1m1 0h2m2 0h2M7 28h1m2 0h2m2 0h1m3 0h1m3 0h1m2 0h1m1 0h3"/><path stroke="#6e281e" d="M4 24h2"/><path stroke="#781414" d="M5 11h1M5 13h1M9 20h1M7 32h1m1 0h1m1 0h1m3 0h1m4 0h1m3 0h1m1 0h1m2 0h1M4 33h1m4 0h2m1 0h1m9 0h3m3 0h1M16 191h2M16 194h2m5 0h1M6 195h1m7 0h1m1 0h1m8 0h1m3 0h1M7 207h1"/><path stroke="#78141e" d="M11 10h1m11 0h1m3 0h1M6 11h2m2 0h3m1 0h2m1 0h2m1 0h1m1 0h2m2 0h1m1 0h1M6 12h1m1 0h1m4 0h1m7 0h1m1 0h1m1 0h1m1 0h1M6 13h2m3 0h3m10 0h4"/><path stroke="#781e1e" d="M4 0h1M4 1h1M4 2h1M7 27h4m4 0h4m1 0h1m6 0h1M5 28h2m6 0h1m1 0h2m2 0h3m1 0h2"/><path stroke="#78281e" d="M5 19h1M27 24h1M5 26h1M5 166h1"/><path stroke="#821414" d="M16 32h1M13 33h1M15 194h1m11 0h1M15 195h1M25 207h1"/><path stroke="#82141e" d="M14 12h1m1 0h1m9 0h1m1 0h2M9 13h1m4 0h1m1 0h2m3 0h1m6 0h2"/><path stroke="#821e1e" d="M13 27h1m5 0h1m1 0h1m1 0h1M8 28h2m2 0h1m4 0h1m8 0h1"/><path stroke="#82281e" d="M5 3h1M4 8h1M4 14h2M10 18h1M18 19h1M7 22h1M4 23h1m17 0h1M6 24h2m3 0h3m4 0h1m2 0h2m1 0h1m1 0h1M14 26h1M5 167h1"/><path stroke="#822828" d="M19 166h1m7 0h1M13 167h1m12 0h1m2 0h1"/><path stroke="#8c0a0a" d="M2 11h1M0 12h1M0 14h1M2 15h1M1 17h2M1 18h1M1 19h2M0 21h1m1 0h2M2 26h1M3 28h1M0 32h1M3 33h1M3 166h1M1 167h1"/><path stroke="#8c1414" d="M24 195h1"/><path stroke="#8c141e" d="M12 12h1M10 13h1m4 0h1m3 0h2m1 0h2"/><path stroke="#8c1e1e" d="M14 27h1"/><path stroke="#8c281e" d="M4 3h1M5 9h1M9 14h1m10 0h1M4 15h1m4 0h2m6 0h1m3 0h1m2 0h2M4 16h1m3 0h1m15 0h1M4 18h3m6 0h2m11 0h1M13 19h1m11 0h1M4 22h1m4 0h1m2 0h1m5 0h1m6 0h1M5 23h1m3 0h1m2 0h1m13 0h1m1 0h1M8 24h3m3 0h2m1 0h1m1 0h1m5 0h1m3 0h1M4 26h1m2 0h1m1 0h1m5 0h1m8 0h1"/><path stroke="#8c2828" d="M6 166h2m8 0h1m4 0h1m4 0h1m1 0h1M11 167h2m2 0h2m1 0h2"/><path stroke="#8c321e" d="M19 3h1M20 9h1"/><path stroke="#8d8d8d" d="M0 0h1m2 0h1M0 1h1M0 2h1m1 0h2M0 3h2M0 4h1m2 0h1M0 5h1m1 0h1M0 6h1M0 7h2M1 8h1m1 0h1M0 9h1m1 0h2M0 10h1m2 0h1M1 11h1M0 13h1M1 15h1M0 17h1M1 20h1M0 22h1M1 25h1M1 26h1M2 27h2M0 29h1m1 0h2m1 0h1m7 0h1m2 0h1m2 0h3m1 0h1m2 0h1M0 30h8m1 0h21M21 31h1m2 0h1M3 32h1m8 0h1m8 0h1M29 33h1M0 34h1m1 0h1m25 0h1M0 35h1m1 0h4m1 0h7m1 0h12m1 0h2M0 36h4m8 0h1m10 0h1m3 0h1M0 37h1m1 0h1m4 0h1m2 0h1m5 0h1m3 0h1m4 0h1M0 38h9m1 0h4m1 0h3m1 0h1m2 0h8M0 39h2m4 0h2m6 0h1m6 0h1m5 0h1M0 40h2m1 0h1M0 41h2m3 0h2m3 0h1m15 0h1M0 42h2m1 0h2m3 0h1m1 0h1m5 0h1m8 0h1M0 43h4m2 0h1m12 0h1m4 0h1m1 0h2M0 44h2m1 0h1m11 0h1m6 0h1m4 0h1M0 45h2m1 0h2m8 0h1m3 0h2m6 0h1M0 46h2m1 0h1m4 0h1m5 0h1m4 0h2m2 0h1M0 47h1m1 0h2m2 0h1m5 0h1m7 0h2m3 0h1m3 0h1M0 48h4m6 0h1m3 0h1m2 0h2M0 49h7m1 0h9m2 0h6m1 0h4M0 50h3m5 0h1m10 0h1m1 0h2m4 0h1M0 51h4m1 0h1m13 0h1m2 0h1m1 0h1M0 52h1m1 0h1m2 0h1m10 0h2m7 0h2m1 0h1M0 53h3m1 0h3m1 0h1m1 0h17m1 0h2M0 54h3m8 0h1m3 0h3m4 0h1m5 0h1M0 55h1m1 0h14m1 0h1m2 0h3m2 0h3m1 0h1M0 56h2m4 0h1m12 0h3M0 57h1m1 0h2m4 0h2m6 0h1m6 0h1M0 58h1m1 0h4m3 0h1m1 0h1m4 0h1m2 0h1m9 0h1M0 59h4m1 0h1m1 0h1m11 0h1m7 0h1M0 60h1m1 0h1m5 0h1m2 0h1m2 0h1m3 0h1m5 0h1m2 0h1M0 61h3m6 0h1m1 0h1m1 0h1m3 0h1M0 62h1m1 0h2m2 0h1m5 0h1m3 0h1m1 0h1M0 63h2m9 0h1m1 0h1m3 0h1m10 0h1M0 64h5m2 0h1m4 0h1m8 0h1m6 0h1M0 65h3m1 0h1m3 0h1m14 0h3m3 0h1M0 66h1m1 0h2m3 0h1m2 0h2m2 0h1m2 0h1m6 0h1m1 0h1M0 67h1m1 0h1m2 0h9m1 0h4m1 0h8m1 0h1M0 68h1m1 0h1m6 0h2m1 0h1m6 0h1m2 0h3m1 0h1m1 0h1M0 69h1m1 0h2m4 0h1m2 0h1m1 0h1m4 0h1m4 0h1m2 0h1m2 0h1M0 70h1m3 0h1m6 0h1m7 0h1m1 0h2M0 71h1m3 0h1m2 0h2m1 0h1m3 0h1m6 0h1m1 0h1m2 0h1M0 72h1m2 0h2m8 0h1m1 0h2m6 0h2m2 0h1m1 0h1M0 73h1m1 0h1m4 0h1m7 0h1m1 0h1m6 0h1m2 0h1M0 74h2m14 0h1m2 0h3m4 0h1M0 75h6m1 0h6m1 0h16M0 76h3m6 0h1M0 77h5m2 0h2m1 0h20M0 78h4m18 0h1m2 0h1m2 0h1M0 79h3m2 0h1m2 0h1m2 0h1m8 0h1m3 0h1m3 0h2M0 80h1m1 0h2m3 0h1m12 0h1m1 0h1M0 81h4m1 0h1m13 0h2m1 0h2m4 0h1M0 82h1m1 0h1m1 0h1m5 0h1m7 0h1m1 0h2m3 0h1m2 0h1M0 83h1m1 0h1m2 0h1m2 0h2m4 0h1m7 0h2m1 0h1M0 84h1m1 0h2m4 0h2m8 0h1M0 85h2m6 0h1m1 0h3m3 0h1m5 0h1M0 86h2m3 0h7m1 0h12m1 0h4M0 87h2m5 0h1m4 0h1m4 0h2m2 0h1m4 0h1M0 88h2m1 0h1m12 0h2m5 0h1m5 0h1M1 89h2m3 0h1M3 90h1m4 0h1m12 0h1m6 0h1M1 91h2m11 0h1m3 0h1m5 0h1m4 0h1M0 92h1m10 0h1m16 0h1M0 93h2m1 0h1m3 0h1m2 0h1M0 94h1m1 0h3m23 0h1M0 95h1m15 0h1m10 0h1M0 96h1m1 0h2m4 0h1m6 0h1M0 97h1m5 0h2m21 0h1M0 98h2m1 0h2m10 0h1m5 0h1m7 0h1M0 99h4m1 0h1m4 0h1m11 0h1m6 0h1M2 100h2m1 0h1m12 0h1m3 0h2m2 0h2M0 101h4m3 0h1m9 0h2m8 0h1M0 102h2m1 0h1m7 0h1m15 0h1M0 103h1m1 0h1m1 0h1m6 0h1m9 0h1M0 104h1m1 0h2M0 105h1m1 0h1m5 0h1m2 0h1M0 106h1m3 0h1m1 0h3m1 0h1m2 0h3m5 0h1m3 0h1M0 107h2m14 0h1m6 0h1m3 0h1M3 108h1m6 0h1m10 0h1M0 109h1m2 0h8m1 0h4m1 0h4m2 0h7M0 110h4m1 0h1m2 0h1m2 0h1m8 0h1m7 0h2M0 111h2m2 0h1m15 0h2m5 0h1M3 112h1m4 0h1m1 0h1m9 0h2m2 0h1M0 113h1m1 0h2m5 0h1m3 0h1m9 0h1M0 114h1m21 0h3M0 115h1m1 0h16m1 0h2m1 0h3m4 0h1M0 116h1m1 0h2m9 0h1m14 0h1M0 117h1m1 0h1m7 0h2m2 0h1m1 0h1m12 0h1M0 118h1m1 0h16m1 0h4m1 0h6M0 119h1m4 0h3m2 0h1m9 0h1m4 0h1M0 120h1m9 0h1m17 0h1M0 121h4m11 0h1m2 0h1m2 0h1m5 0h1M0 122h1m1 0h2m5 0h1m4 0h1m3 0h1m7 0h1m2 0h1M0 123h3m1 0h10m1 0h11m1 0h1M0 124h1m1 0h1m14 0h2m7 0h1M0 125h2m2 0h1m24 0h1M1 126h1m3 0h1m7 0h1m3 0h1m3 0h1M0 127h1m2 0h1m6 0h1m5 0h1M0 128h2m3 0h1m8 0h2m9 0h1M0 129h3m6 0h1m4 0h1m3 0h1m7 0h1M0 130h4m3 0h1m1 0h1m4 0h1m1 0h1m3 0h1m4 0h1M0 131h1m1 0h2m2 0h1M0 132h4m24 0h1M0 133h1m1 0h1m1 0h4m1 0h5m2 0h1m2 0h11M0 134h4m12 0h1M2 135h2m1 0h1m1 0h1m7 0h1m2 0h1M0 136h1m2 0h1m5 0h2m2 0h1m11 0h1M0 137h1m1 0h1m5 0h1m3 0h1M2 138h1m9 0h1M0 139h4m12 0h1m9 0h1m2 0h1M0 140h2m18 0h1m1 0h1M0 141h1m1 0h1m10 0h1m3 0h1m1 0h1M0 142h1m1 0h1m4 0h1m21 0h1M0 143h4m4 0h1m6 0h1M1 144h1m23 0h1m1 0h1M0 145h3m14 0h1m1 0h1m3 0h1M0 146h1m2 0h1m3 0h1M1 147h1m1 0h1m6 0h1m3 0h1m2 0h1m11 0h1M0 148h4M0 149h2m1 0h1m6 0h1m5 0h1m3 0h1M0 150h3m7 0h1M0 151h1m2 0h2m1 0h1m1 0h4m1 0h3m1 0h11m1 0h1M1 152h3m20 0h1m4 0h1M0 153h2m7 0h1m14 0h1M0 154h4m4 0h1m4 0h1m7 0h1m6 0h1M0 155h3m2 0h1m10 0h1m4 0h1M0 156h15m1 0h3m1 0h4m1 0h2m1 0h2M0 157h1m16 0h2m3 0h1m2 0h1m3 0h1M0 158h3m5 0h2m18 0h1M0 159h1M0 160h1m1 0h1m2 0h3m8 0h1m3 0h2m5 0h1M0 161h1m8 0h1m5 0h1M0 162h3m23 0h1M0 163h2m11 0h1m7 0h1M0 164h3m9 0h1m3 0h2M0 165h1m3 0h1m3 0h13m2 0h1m1 0h5M1 166h1M0 168h2m1 0h1M0 169h1m2 0h1M0 170h1m1 0h1m13 0h1m10 0h1M0 171h2M0 172h4m20 0h1M0 173h1M0 174h1m1 0h2M2 175h2M2 176h1m1 0h1M2 177h1M1 179h3M2 180h1m9 0h1m6 0h1M0 181h2m5 0h1M1 182h3M0 183h3M0 184h1M0 185h1m1 0h1m21 0h1M0 186h2M0 187h1m2 0h1M0 189h1m2 0h1m7 0h1M0 190h1m2 0h1M0 191h1M3 192h1M1 193h1M0 195h1m1 0h2M0 196h1m1 0h1m6 0h1M2 197h1M0 198h1m1 0h1M2 199h1M1 200h1M0 201h4m8 0h1M3 202h1M0 203h2m1 0h1M2 204h1M0 205h1m2 0h1M1 206h2M1 207h1m14 0h1M3 208h1m11 0h1M0 209h1m2 0h1M2 210h1m16 0h1M0 211h2m25 0h1M0 212h2m5 0h1m20 0h1M0 213h4M0 214h1m1 0h2m5 0h1M0 215h1m1 0h1m22 0h1M0 216h1m1 0h2M0 217h4M0 218h1m1 0h2M0 219h4M0 220h4M0 221h1M0 222h1m1 0h1M0 223h1m2 0h1m7 0h1m17 0h1M0 224h2m1 0h1M2 225h1M1 226h1m1 0h1M0 227h4M0 228h1m6 0h1M0 229h1m2 0h1m1 0h1M1 230h4M0 231h2m1 0h1M0 232h3m20 0h1M0 233h1m1 0h2m23 0h1M0 234h1m1 0h1M0 235h1m2 0h1M0 236h1m1 0h2m3 0h1M0 237h1m1 0h1m13 0h1M3 238h1m3 0h1M0 239h1m1 0h1M0 240h1m1 0h1M3 241h1m9 0h1m15 0h1M0 242h4M2 244h1M0 245h4M1 246h1m1 0h1M2 247h1M1 248h2M0 249h2M0 250h1m1 0h1M0 251h4M0 252h1M0 253h1M0 254h3M0 256h1m1 0h2m15 0h1M1 257h2M0 258h3M0 259h1m24 0h1M0 260h2M3 261h1M0 262h1M0 263h4M3 264h1M0 265h1M0 266h3M2 267h2M0 269h1m9 0h1M1 270h2M0 271h2m1 0h1M0 272h4"/><path stroke="#96141e" d="M18 13h1"/><path stroke="#96281e" d="M5 6h1M4 7h1M5 8h1M18 14h1m3 0h2M5 15h3m4 0h1m1 0h2m4 0h1m2 0h1m3 0h1m1 0h1M6 16h1m5 0h4m2 0h1m2 0h3m4 0h1M4 17h1m7 0h1M7 18h3m2 0h1m3 0h1m6 0h3m1 0h1m1 0h1M4 19h1m1 0h2m4 0h1m7 0h1m3 0h1m3 0h1M5 21h1m1 0h1m17 0h1M5 22h2m1 0h1m1 0h1m4 0h3M6 23h3m4 0h3m5 0h1m2 0h2m1 0h1M23 24h1m4 0h1M9 25h1m1 0h1m5 0h2m1 0h1m2 0h1m1 0h1m2 0h2M6 26h1m1 0h1m2 0h1m1 0h1m2 0h3m2 0h2m3 0h1m1 0h2"/><path stroke="#962828" d="M10 166h1m1 0h3m2 0h1m2 0h1m1 0h3m4 0h1M7 167h1m1 0h1m7 0h1m3 0h2m4 0h1"/><path stroke="#96321e" d="M6 3h1m9 0h1m1 0h1M6 8h1m2 0h2m2 0h1m3 0h2m2 0h1m5 0h1M22 9h1"/><path stroke="#a0281e" d="M4 4h1M4 5h1M4 9h1M6 14h1m3 0h1m1 0h2m1 0h2m4 0h1m4 0h2M8 15h1m2 0h1m1 0h1m2 0h1m1 0h2m2 0h1m5 0h1M5 16h1m1 0h1m8 0h1m2 0h1m5 0h3m1 0h1M5 17h1m2 0h2m1 0h1m1 0h1m12 0h1m2 0h1M11 18h1m3 0h1m2 0h2m1 0h2m5 0h1M8 19h1m1 0h2m2 0h1m2 0h1m3 0h2m3 0h1m2 0h1M4 21h1M11 22h1m7 0h1m1 0h4m3 0h2M10 23h1m6 0h4m2 0h1m5 0h1M16 24h1M4 25h1m1 0h2m5 0h1m1 0h2m4 0h2m3 0h2M10 26h1m1 0h1m6 0h2m4 0h1m1 0h1"/><path stroke="#a02828" d="M9 166h1m1 0h1m3 0h1m2 0h1m6 0h1M6 167h1m1 0h1m1 0h1m3 0h1m5 0h1m2 0h2m3 0h1"/><path stroke="#a0321e" d="M12 3h1m7 0h1m2 0h1m2 0h1M8 4h1m6 0h1m2 0h1M11 5h1M8 8h1m2 0h2m1 0h2m3 0h1m2 0h1m1 0h1m3 0h2M6 9h2m3 0h1m2 0h1m1 0h1m12 0h1"/><path stroke="#aa281e" d="M5 4h1M5 7h1M8 14h1m5 0h1m4 0h1m5 0h1m2 0h2M9 16h3m5 0h1m2 0h1M7 17h1m2 0h1m4 0h3m2 0h1m1 0h1m2 0h1M20 18h1M15 19h2m2 0h1m3 0h1M6 21h1m4 0h3m3 0h1m3 0h1m1 0h1M13 22h2m5 0h1m5 0h2M11 23h1m4 0h1M8 25h1m1 0h1m1 0h1m1 0h1m4 0h1m4 0h1M23 26h1"/><path stroke="#aa2828" d="M8 166h1M25 167h1"/><path stroke="#aa321e" d="M8 3h1m1 0h1m3 0h2m1 0h1m3 0h1m5 0h1m1 0h1M6 4h1m5 0h3m2 0h1m3 0h1m2 0h2m2 0h1M7 5h1m1 0h1m8 0h1m4 0h1m1 0h1m2 0h1M23 6h1M7 7h1m10 0h1m9 0h1M7 8h1m8 0h1m3 0h1m2 0h1m1 0h1M8 9h3m1 0h1m2 0h1m1 0h3m1 0h1m4 0h3"/><path stroke="#b4281e" d="M5 5h1M4 6h1M7 14h1m9 0h1m6 0h1M26 15h1M6 17h1m12 0h1m3 0h2m2 0h2M17 18h1M9 19h1m17 0h1M10 21h1m3 0h3m1 0h1m1 0h1m1 0h1m1 0h1m1 0h3"/><path stroke="#b4321e" d="M7 3h1m1 0h1m3 0h1m8 0h1m1 0h2m2 0h1M7 4h1m1 0h1m1 0h1m7 0h1m2 0h2m2 0h1m2 0h1M6 5h1m1 0h1m1 0h1m1 0h1m1 0h1m2 0h1m1 0h1m1 0h1m2 0h1m1 0h2m1 0h1M8 7h1m4 0h1m3 0h1m1 0h2m3 0h1m1 0h1M26 8h1M13 9h1m11 0h1"/><path stroke="#be281e" d="M11 14h1M14 17h1m3 0h1m2 0h1M8 21h2m9 0h1m9 0h1"/><path stroke="#be321e" d="M11 3h1M10 4h1m9 0h1m6 0h1M13 5h1m1 0h2m3 0h1m1 0h1M6 6h1m1 0h1m1 0h1m6 0h2m6 0h2M6 7h1m2 0h4m2 0h2m4 0h3m1 0h1m1 0h1m1 0h1M23 9h2"/><path stroke="#c8321e" d="M16 4h1M7 6h1m3 0h4m4 0h2m1 0h1m4 0h1m1 0h1M14 7h1"/><path stroke="#d2321e" d="M9 6h1m5 0h2m4 0h1m2 0h1m3 0h1"/></g>
<path d="M1079.7 1816.1V1872.6M1079.7 1816.1H1100M1079.7 1872.6H1090.4M1090.4 1852.3V1890M1090.4 1852.3H1111.6M1090.4 1890H1104.9M1100 1811.7V1819M1100 1811.7H1112.2M1100 1819H1120.9M1111.6 1836.4V1871.2M1111.6 1836.4H1120.9M1111.6 1871.2H1176.8M1120.9 1819V1852.3M1120.9 1852.3H1129.6M1129.6 1833.5V1866.8M1129.6 1833.5H1138.8M1129.6 1866.8H1147M1104.9 1872.6V1907.4M1104.9 1872.6H1109.9M1104.9 1907.4H1107.8M1107.8 1874.1V2004.5M1107.8 2004.5H1119.4M1119.4 1877V2150M1119.4 1877H1176.8M1119.4 2150H1126.7M1112.2 1810.9V1824.8M1136.9 1812.4H1176.8M1136.9 1812.4V1814.4M1122.9 1814.4H1176.8M1134.8 1816H1176.8M1134.8 1816V1817.1M1113.5 1817.1H1176.8M1113.5 1817.1V1818.2M1112.7 1818.2H1176.8M1112.7 1818.2V1819.3M1117.5 1819.3H1176.8M1117.5 1819.3V1821.3M1117.7 1821.3H1176.8M1117.7 1821.3V1822.2M1137.2 1822.2H1176.8M1137.2 1822.2V1823.3M1120.8 1823.3H1176.8M1120.8 1823.3V1824.8M1138.8 1824.8V1871.7M1144.8 1826.3H1176.8M1144.8 1826.3V1827.4M1153.2 1827.4H1176.8M1153.2 1827.4V1828.7M1155.1 1828.7H1176.8M1139.7 1830H1176.8M1141.8 1831.1H1176.8M1139.9 1832.4H1176.8M1139.4 1834H1176.8M1139.4 1834V1836M1150.6 1836H1176.8M1141.8 1837.1H1176.8M1160 1838.4H1176.8M1160 1838.4V1839.7M1143.8 1839.7H1176.8M1143.8 1839.7V1841.7M1141.8 1841.7H1176.8M1150.1 1844.3H1176.8M1159.5 1846.9H1176.8M1159.5 1846.9V1848M1148.8 1848H1176.8M1148.8 1848V1850.6M1161.6 1850.6H1176.8M1161.6 1850.6V1852.2M1156.5 1852.2H1176.8M1147.5 1853.3H1176.8M1147.5 1853.3V1855.9M1151.7 1855.9H1176.8M1158.6 1857.5H1176.8M1144.3 1859.5H1176.8M1144.3 1859.5V1860.8M1143.7 1860.8H1176.8M1148.8 1861.9H1176.8M1148.8 1861.9V1863.5M1149 1863.5H1176.8M1142 1864.8H1176.8M1151.2 1866.1H1176.8M1157.7 1867.4H1176.8M1158.2 1870H1176.8M1122.3 1872.9V1905.9M1140.8 1874.4H1176.8M1141.4 1876H1176.8M1141.4 1876V1877.3M1143.9 1877.3H1176.8M1131.7 1878.4H1176.8M1123.3 1879.7H1176.8M1154 1881.3H1176.8M1152.5 1883.9H1176.8M1144.3 1885.5H1176.8M1144.3 1885.5V1888.1M1122.5 1888.1H1176.8M1127.7 1890.7H1176.8M1127.7 1890.7V1891.6M1139 1891.6H1176.8M1139 1891.6V1892.7M1124.1 1892.7H1176.8M1124.1 1892.7V1894.3M1135.3 1894.3H1176.8M1126.6 1895.6H1176.8M1148.8 1897.2H1176.8M1135.1 1898.5H1176.8M1136.1 1900.5H1176.8M1136.1 1900.5V1903.1M1128.3 1903.1H1176.8M1123.2 1905.1H1176.8M1123.2 1905.1V1905.9M1135.9 1905.9V1984.2M1155.7 1907.4H1176.8M1155.7 1907.4V1908.7M1149.2 1908.7H1176.8M1149.2 1908.7V1910.3M1171.3 1910.3H1176.8M1150.8 1912.9H1176.8M1150.8 1912.9V1915.5M1150.4 1915.5H1176.8M1150.4 1915.5V1916.4M1153 1916.4H1176.8M1139.3 1917.3H1176.8M1139.3 1917.3V1918.4M1162.5 1918.4H1176.8M1147.9 1920.4H1176.8M1147.9 1920.4V1921.5M1163.9 1921.5H1176.8M1137.2 1923.5H1176.8M1137.2 1923.5V1925.5M1152.9 1925.5H1176.8M1152.9 1925.5V1927.5M1135.9 1935.5H1143M1143 1927.5V1947.3M1154.5 1929H1176.8M1153.2 1931H1176.8M1161.4 1933H1176.8M1163.7 1934.6H1176.8M1168.7 1936.2H1176.8M1153.9 1937.8H1176.8M1153.9 1937.8V1940.4M1174.8 1940.4H1176.8M1174.8 1940.4V1942M1158.6 1942H1176.8M1158.6 1942V1944M1145.8 1944H1176.8M1145.8 1944V1945.1M1154.7 1945.1H1176.8M1152 1946.7H1176.8M1154.6 1948.3H1176.8M1154.6 1948.3V1949.4M1137 1949.4H1176.8M1137 1949.4V1951.4M1139.1 1951.4H1176.8M1139.1 1951.4V1952.3M1136.8 1952.3H1176.8M1136.8 1952.3V1954.3M1170.4 1954.3H1176.8M1170.4 1954.3V1955.2M1142.1 1955.2H1176.8M1142.1 1955.2V1956.5M1142.1 1956.5H1176.8M1136.5 1959.1H1176.8M1136.5 1959.1V1961.1M1139.1 1961.1H1176.8M1139.6 1962.4H1176.8M1139 1963.7H1176.8M1139 1963.7V1964.6M1154.5 1964.6H1176.8M1154.5 1964.6V1965.5M1154.5 1965.5H1176.8M1154.5 1965.5V1966.8M1158.5 1966.8H1176.8M1153.6 1969.4H1176.8M1149.3 1970.5H1176.8M1149.3 1970.5V1973.1M1165.5 1973.1H1176.8M1141.4 1974.2H1176.8M1148.3 1975.8H1176.8M1137.2 1977.4H1176.8M1137.2 1977.4V1979.4M1141.5 1979.4H1176.8M1141.5 1979.4V1980.3M1145.5 1980.3H1176.8M1147.7 1981.9H1176.8M1147.7 1981.9V1983.9M1147.9 1983.9H1176.8M1144.6 1984.2V2045.1M1151.5 1985.7H1176.8M1151.5 1985.7V1987.3M1145.7 1987.3H1176.8M1145.7 1987.3V1988.4M1146.7 1988.4H1176.8M1151.7 1989.7H1176.8M1151.7 1989.7V1992.3M1148.9 1992.3H1176.8M1148.9 1992.3V1994.9M1144.6 2001.5H1148.1M1148.1 1994.9V2011.4M1151.8 1996.4H1176.8M1151.8 1996.4V1998M1171.2 1998H1176.8M1171.2 1998V1999.3M1164.8 1999.3H1176.8M1164.8 1999.3V2000.4M1150.7 2000.4H1176.8M1150.7 2000.4V2001.7M1174.8 2001.7H1176.8M1151.3 2004.3H1176.8M1161.5 2005.2H1176.8M1161.5 2005.2V2006.8M1160.6 2006.8H1176.8M1160.6 2006.8V2007.7M1171.5 2007.7H1176.8M1169.7 2010.3H1176.8M1169.7 2010.3V2011.4M1167 2012.4H1176.8M1158.2 2013.7H1176.8M1158.2 2013.7V2016.3M1152.5 2016.3H1176.8M1148.4 2017.6H1176.8M1167.8 2018.9H1176.8M1167.8 2018.9V2020M1162.7 2020H1176.8M1162.7 2020V2021.1M1161.7 2021.1H1176.8M1161.7 2021.1V2022M1147.3 2022H1176.8M1168.5 2024.6H1176.8M1144.6 2033.1H1153.3M1153.3 2025.9V2043.9M1170 2027.4H1176.8M1170 2027.4V2028.5M1174.8 2028.5H1176.8M1174.8 2028.5V2031.1M1161.4 2031.1H1176.8M1161.4 2031.1V2032.7M1161.2 2032.7H1176.8M1161.2 2032.7V2033.8M1153.4 2033.8H1176.8M1153.4 2033.8V2036.4M1174.8 2036.4H1176.8M1174.8 2036.4V2037.5M1160 2037.5H1176.8M1160 2037.5V2039.5M1167.8 2039.5H1176.8M1167.8 2039.5V2040.8M1161.8 2040.8H1176.8M1161.8 2040.8V2042.8M1159.1 2042.8H1176.8M1159.1 2042.8V2043.9M1150 2044.9H1176.8M1148.4 2045.1V2114.6M1160.3 2046.6H1176.8M1160.3 2046.6V2047.7M1150.7 2047.7H1176.8M1153.7 2049.3H1176.8M1153.7 2049.3V2050.2M1162.4 2050.2H1176.8M1162.4 2050.2V2051.3M1152.5 2051.3H1176.8M1155.1 2053.3H1176.8M1162.5 2055.9H1176.8M1162.5 2055.9V2057.5M1157.6 2057.5H1176.8M1158.7 2058.6H1176.8M1148.4 2065.9H1155.5M1155.5 2059.7V2075.2M1174.8 2061.2H1176.8M1174.8 2062.1H1176.8M1174.8 2062.1V2063.7M1174.8 2063.7H1176.8M1174.8 2063.7V2065.3M1174.8 2065.3H1176.8M1174.8 2065.3V2067.3M1174.8 2067.3H1176.8M1174.8 2067.3V2068.9M1160 2068.9H1176.8M1157.6 2070.9H1176.8M1157.6 2070.9V2073.5M1163.3 2073.5H1176.8M1165.3 2076.2H1176.8M1156.2 2078.8H1176.8M1150.9 2079.9H1176.8M1174.8 2081.9H1176.8M1174.8 2081.9V2083.5M1174.8 2083.5H1176.8M1158.5 2084.8H1176.8M1152.8 2086.1H1176.8M1152.8 2086.1V2087M1164.9 2087H1176.8M1161.6 2088.6H1176.8M1161.6 2088.6V2091.2M1163.9 2091.2H1176.8M1163.9 2091.2V2092.8M1156.2 2092.8H1176.8M1156.2 2092.8V2094.8M1167.6 2094.8H1176.8M1167.6 2094.8V2095.7M1159.4 2095.7H1176.8M1168.1 2096.8H1176.8M1168.6 2099.4H1176.8M1160.5 2100.3H1176.8M1160.5 2100.3V2101.4M1159.1 2101.4H1176.8M1159.1 2101.4V2104M1164.4 2104H1176.8M1173.7 2105.3H1176.8M1154.3 2106.4H1176.8M1154.3 2106.4V2109M1164.6 2109H1176.8M1159 2110.3H1176.8M1159 2110.3V2112.9M1173.8 2112.9H1176.8M1173.8 2112.9V2113.8M1169.5 2113.8H1176.8M1169.5 2113.8V2114.6M1153.3 2114.6V2145.9M1158.4 2116.1H1176.8M1158.4 2116.1V2118.7M1157.4 2118.7H1176.8M1157.4 2118.7V2120.3M1159.3 2120.3H1176.8M1166.4 2121.6H1176.8M1166.4 2121.6V2122.9M1158.5 2122.9H1176.8M1174.5 2124.5H1176.8M1155.7 2125.4H1176.8M1155.7 2125.4V2127.4M1167.7 2127.4H1176.8M1167.7 2127.4V2128.7M1153.3 2135.2H1162.1M1162.1 2128.7V2144.9M1162.1 2135.7H1166.2M1166.2 2130.2V2143.9M1174.8 2131.7H1176.8M1174.8 2131.7V2133.3M1171.6 2133.3H1176.8M1171.6 2133.3V2134.6M1174.8 2134.6H1176.8M1174.8 2134.6V2136.2M1174.8 2136.2H1176.8M1174.8 2136.2V2138.2M1174.8 2138.2H1176.8M1174.8 2139.1H1176.8M1174.8 2140.7H1176.8M1174.8 2140.7V2141.8M1172.2 2141.8H1176.8M1172.2 2141.8V2142.7M1174.8 2142.7H1176.8M1127.2 2147.1V2242.2M1127.2 2160.3H1130.5M1130.5 2148.6V2177.8M1141 2150.1H1176.8M1142.1 2151.7H1176.8M1142.1 2151.7V2153.7M1146.1 2153.7H1176.8M1146.1 2153.7V2155M1135.6 2155H1176.8M1135.6 2155V2156.1M1170.7 2156.1H1176.8M1170.7 2156.1V2157.2M1143.3 2157.2H1176.8M1143.3 2157.2V2158.1M1139.8 2158.1H1176.8M1149.3 2159.4H1176.8M1149.3 2159.4V2160.5M1144.4 2160.5H1176.8M1144.4 2160.5V2162.1M1148.1 2162.1H1176.8M1140.4 2163.2H1176.8M1150.1 2164.3H1176.8M1150.1 2164.3V2165.6M1160.4 2165.6H1176.8M1160.2 2167.2H1176.8M1140.9 2169.8H1176.8M1164.5 2171.4H1176.8M1143.9 2172.3H1176.8M1143.9 2172.3V2173.2M1141.3 2173.2H1176.8M1144.8 2174.5H1176.8M1144.8 2174.5V2175.6M1138.3 2175.6H1176.8M1138.3 2175.6V2176.7M1137.3 2176.7H1176.8M1130.9 2178.8H1176.8M1142.6 2181.4H1176.8M1127.2 2194.8H1133.6M1133.6 2182.5V2213.3M1159.6 2184H1176.8M1159.6 2184V2184.9M1133.6 2195.5H1137.3M1137.3 2184.9V2211.4M1164.4 2186.4H1176.8M1157.5 2189H1176.8M1157.5 2189V2189.9M1157 2189.9H1176.8M1151.7 2190.8H1176.8M1151.7 2190.8V2191.7M1141.5 2191.7H1176.8M1137.8 2193H1176.8M1144.9 2194.6H1176.8M1144.9 2194.6V2195.9M1153.7 2195.9H1176.8M1143.9 2196.8H1176.8M1160.2 2199.4H1176.8M1147.1 2201H1176.8M1157.4 2202.1H1176.8M1146.8 2204.7H1176.8M1141.7 2206H1176.8M1144.4 2208H1176.8M1155.9 2208.9H1176.8M1155.9 2208.9V2210.9M1141.7 2210.9H1176.8M1141.7 2212.4H1176.8M1141.7 2212.4V2213.3M1127.2 2221.6H1131.3M1131.3 2214.3V2232.7M1139.8 2215.8H1176.8M1139.8 2215.8V2216.7M1137.8 2216.7H1176.8M1143.7 2217.6H1176.8M1138.1 2219.6H1176.8M1158.2 2221.2H1176.8M1158.2 2221.2V2222.1M1154.7 2222.1H1176.8M1154.7 2222.1V2223M1150.1 2223H1176.8M1150.1 2223V2224.6M1148.5 2224.6H1176.8M1148.5 2224.6V2227.2M1143.2 2227.2H1176.8M1143.2 2227.2V2229.8M1149.6 2229.8H1176.8M1141.6 2231.8H1176.8M1141.6 2231.8V2232.7M1134.2 2233.7H1176.8M1127.8 2236.3H1176.8M1127.8 2236.3V2237.9M1141.4 2237.9H1176.8M1141.4 2237.9V2239M1134.5 2239H1176.8M1134.5 2239V2240.6M1139.2 2240.6H1176.8M1144 2241.9H1176.8M1144 2241.9V2242.2M1138.8 2163.9V2241M1163 2165.4H1176.8M1161.8 2167H1176.8M1161.8 2167V2168.3M1141.5 2168.3H1176.8M1141.5 2168.3V2169.9M1138.9 2169.9H1176.8M1138.9 2169.9V2171M1149.2 2171H1176.8M1162.7 2172.6H1176.8M1162.7 2172.6V2174.6M1151.2 2174.6H1176.8M1151.2 2174.6V2177.2M1158.9 2177.2H1176.8M1141.3 2178.8H1176.8M1141.3 2178.8V2179.7M1157.5 2179.7H1176.8M1157.5 2179.7V2180.6M1153.7 2180.6H1176.8M1153.7 2180.6V2182.2M1144.2 2182.2H1176.8M1145.8 2183.3H1176.8M1145.8 2183.3V2185.9M1164.4 2185.9H1176.8M1145.2 2187.2H1176.8M1140.7 2188.8H1176.8M1140.7 2188.8V2190.8M1151.3 2190.8H1176.8M1156.8 2191.9H1176.8M1155.1 2193.5H1176.8M1155.1 2193.5V2195.5M1144.9 2195.5H1176.8M1143.2 2198.1H1176.8M1152.4 2199.2H1176.8M1152.4 2199.2V2200.3M1139 2200.3H1176.8M1151.9 2201.9H1176.8M1151.9 2201.9V2204.5M1169.1 2204.5H1176.8M1142.6 2205.4H1176.8M1154.9 2208H1176.8M1145.6 2209.6H1176.8M1145.6 2209.6V2212.2M1151.9 2212.2H1176.8M1151.9 2212.2V2214.2M1161.6 2214.2H1176.8M1161.6 2214.2V2216.2M1149.7 2216.2H1176.8M1149.7 2216.2V2217.3M1168.9 2217.3H1176.8M1168.9 2217.3V2218.4M1143.6 2218.4H1176.8M1143.6 2218.4V2219.7M1138.8 2224.4H1145.5M1145.5 2219.7V2231.4M1166.3 2221.2H1176.8M1163.6 2222.8H1176.8M1163.6 2222.8V2224.8M1155.7 2224.8H1176.8M1156.5 2226.4H1176.8M1156.5 2226.4V2227.3M1150.9 2227.3H1176.8M1150.9 2227.3V2229.9M1148.9 2229.9H1176.8M1148.9 2229.9V2231.2M1162.4 2231.2H1176.8M1162.4 2231.2V2231.4M1147.2 2232.4H1176.8M1147.2 2232.4V2234.4M1163.6 2234.4H1176.8M1163.6 2234.4V2235.5M1162.7 2235.5H1176.8M1162.7 2235.5V2236.8M1155.7 2236.8H1176.8M1155.7 2236.8V2238.4M1147.5 2238.4H1176.8M1143.9 2239.7H1176.8M1146.4 2242.2V2323.3M1155.6 2243.7H1176.8M1174.8 2245.3H1176.8M1174.8 2245.3V2246.6M1146.4 2256.3H1154.7M1154.7 2246.6V2270.9M1174.8 2248.1H1176.8M1162 2249.7H1176.8M1162 2249.7V2251.3M1173.8 2251.3H1176.8M1173.8 2251.3V2252.6M1154.9 2252.6H1176.8M1157.3 2253.5H1176.8M1157.5 2256.1H1176.8M1157.5 2256.1V2257.4M1171.5 2257.4H1176.8M1172.7 2258.7H1176.8M1164.8 2260.7H1176.8M1165.2 2261.8H1176.8M1170.4 2262.7H1176.8M1162.2 2263.6H1176.8M1162.2 2263.6V2264.7M1165.4 2264.7H1176.8M1172.5 2265.8H1176.8M1159.6 2267.4H1176.8M1159.6 2267.4V2268.3M1171.1 2268.3H1176.8M1174.8 2269.4H1176.8M1174.8 2269.4V2270.3M1164.7 2270.3H1176.8M1164.7 2270.3V2270.9M1146.4 2281.2H1150.6M1150.6 2271.9V2295.2M1168.9 2273.4H1176.8M1164.5 2274.5H1176.8M1164.5 2274.5V2275.6M1152.1 2275.6H1176.8M1169.4 2278.2H1176.8M1155 2280.8H1176.8M1155 2280.8V2282.1M1152.6 2282.1H1176.8M1160.9 2283.7H1176.8M1172.5 2285.3H1176.8M1172.5 2285.3V2287.9M1156.8 2287.9H1176.8M1156.8 2287.9V2289.5M1160.5 2289.5H1176.8M1160.5 2289.5V2290.6M1153.9 2290.6H1176.8M1154.9 2292.6H1176.8M1156.3 2293.9H1176.8M1150.5 2296.2H1176.8M1150.5 2296.2V2298.2M1163.3 2298.2H1176.8M1163.3 2298.2V2299.3M1162.7 2299.3H1176.8M1167.8 2301.9H1176.8M1167.8 2301.9V2304.5M1147.7 2304.5H1176.8M1153.8 2306.1H1176.8M1147.9 2308.1H1176.8M1156.5 2310.1H1176.8M1156.5 2310.1V2312.7M1152.8 2312.7H1176.8M1152.8 2312.7V2314.3M1151.4 2314.3H1176.8M1151.2 2316.3H1176.8M1151.2 2316.3V2317.2M1160.6 2317.2H1176.8M1160.6 2317.2V2318.3M1167.5 2318.3H1176.8M1167.5 2318.3V2319.6M1160.7 2319.6H1176.8M1160.7 2319.6V2320.9M1174.8 2320.9H1176.8M1174.8 2322.2H1176.8M1174.8 2322.2V2323.3M1155.1 2323.3V2355.2M1169.3 2324.8H1176.8M1169.3 2324.8V2326.4M1168 2326.4H1176.8M1159.7 2329H1176.8M1166.6 2331H1176.8M1172.5 2333H1176.8M1167.3 2334.1H1176.8M1167.3 2334.1V2335.7M1156.3 2335.7H1176.8M1174.8 2337.7H1176.8M1168.5 2338.6H1176.8M1168.5 2338.6V2340.6M1156 2340.6H1176.8M1163.8 2342.6H1176.8M1168.8 2343.5H1176.8M1155.4 2344.4H1176.8M1174.8 2347H1176.8M1174.8 2347V2348.6M1157.7 2348.6H1176.8M1159.1 2350.6H1176.8M1159.1 2350.6V2351.9M1170.9 2351.9H1176.8M1170.9 2351.9V2354.5M1169.2 2354.5H1176.8M1169.2 2354.5V2355.2M1168 1812H1176.8M1162.3 1813H1176.8M1169 1814H1176.8M1168.4 1815H1176.8M1169 1816H1176.8M1160.8 1817H1176.8M1162.6 1818H1176.8M1159.9 1819H1176.8M1170.5 1820H1176.8M1165.1 1821H1176.8M1168.8 1822H1176.8M1165.4 1823H1176.8M1164.2 1824H1176.8M1171.3 1825H1176.8M1163.8 1826H1176.8M1161.4 1827H1176.8M1170.6 1828H1176.8M1168.2 1829H1176.8M1170.1 1830H1176.8M1160.6 1831H1176.8M1169.1 1832H1176.8M1167.9 1833H1176.8M1169.6 1834H1176.8M1166.6 1835H1176.8M1164 1836H1176.8M1167.2 1837H1176.8M1170.4 1838H1176.8M1161.8 1839H1176.8M1165.5 1840H1176.8M1167.1 1841H1176.8M1170.7 1842H1176.8M1170.6 1843H1176.8M1168 1844H1176.8M1165.1 1845H1176.8M1170.1 1846H1176.8M1163.2 1847H1176.8M1164.3 1848H1176.8M1167.4 1849H1176.8M1160.2 1850H1176.8M1161.4 1851H1176.8M1168.5 1852H1176.8M1166.6 1853H1176.8M1160.2 1854H1176.8M1171.7 1855H1176.8M1166 1856H1176.8M1162.9 1857H1176.8M1159.9 1858H1176.8M1170.6 1859H1176.8M1165.6 1860H1176.8M1170.9 1861H1176.8M1159.9 1862H1176.8M1170.5 1863H1176.8M1164.8 1864H1176.8M1164.1 1865H1176.8M1165.7 1866H1176.8M1167.1 1867H1176.8M1169.5 1868H1176.8M1163.7 1869H1176.8M1166.1 1870H1176.8M1165.5 1871H1176.8M1169.4 1872H1176.8M1163.3 1873H1176.8M1171.5 1874H1176.8M1164.4 1875H1176.8M1166.8 1876H1176.8M1160.3 1877H1176.8M1166.2 1878H1176.8M1165.1 1879H1176.8M1161 1880H1176.8M1160.9 1881H1176.8M1168.7 1882H1176.8M1169.1 1883H1176.8M1165.9 1884H1176.8M1168.8 1885H1176.8M1168.6 1886H1176.8M1164.4 1887H1176.8M1160.2 1888H1176.8M1165.2 1889H1176.8M1159.9 1890H1176.8M1166.6 1891H1176.8M1163.7 1892H1176.8M1166.2 1893H1176.8M1171.2 1894H1176.8M1169.7 1895H1176.8M1169 1896H1176.8M1165.6 1897H1176.8M1161.4 1898H1176.8M1170 1899H1176.8M1167.6 1900H1176.8M1163.6 1901H1176.8M1162.5 1902H1176.8M1166.7 1903H1176.8M1169.1 1904H1176.8M1160.5 1905H1176.8M1160.2 1906H1176.8M1164 1907H1176.8M1164.9 1908H1176.8M1161.4 1909H1176.8M1166.5 1910H1176.8M1169.8 1911H1176.8M1167.4 1912H1176.8M1170.4 1913H1176.8M1166.2 1914H1176.8M1170.9 1915H1176.8M1166.3 1916H1176.8M1163.8 1917H1176.8M1167.5 1918H1176.8M1164.5 1919H1176.8M1160 1920H1176.8M1168.9 1921H1176.8M1165.6 1922H1176.8M1163.9 1923H1176.8M1167.3 1924H1176.8M1168.1 1925H1176.8M1165.6 1926H1176.8M1162.9 1927H1176.8M1167.3 1928H1176.8M1162.4 1929H1176.8M1161.6 1930H1176.8M1167.2 1931H1176.8M1166.9 1932H1176.8M1164.6 1933H1176.8M1166.7 1934H1176.8M1161.8 1935H1176.8M1169.2 1936H1176.8M1169.6 1937H1176.8M1163.2 1938H1176.8M1160.8 1939H1176.8M1167.7 1940H1176.8M1171.3 1941H1176.8M1162.5 1942H1176.8M1160.9 1943H1176.8M1166.7 1944H1176.8M1165.5 1945H1176.8M1161.1 1946H1176.8M1163.7 1947H1176.8M1170.4 1948H1176.8M1159.8 1949H1176.8M1167.4 1950H1176.8M1167.1 1951H1176.8M1165 1952H1176.8M1167.3 1953H1176.8M1168 1954H1176.8M1169.1 1955H1176.8M1169.9 1956H1176.8M1167.8 1957H1176.8M1161.7 1958H1176.8M1168.1 1959H1176.8M1167.9 1960H1176.8M1169 1961H1176.8M1161.1 1962H1176.8M1161.1 1963H1176.8M1162.7 1964H1176.8M1167.9 1965H1176.8M1170.8 1966H1176.8M1165.8 1967H1176.8M1160.2 1968H1176.8M1170.7 1969H1176.8M1170 1970H1176.8M1167.9 1971H1176.8M1163.4 1972H1176.8M1162.6 1973H1176.8M1169.8 1974H1176.8M1169.4 1975H1176.8M1167.1 1976H1176.8M1160 1977H1176.8M1168.5 1978H1176.8M1164.1 1979H1176.8M1161 1980H1176.8M1171.5 1981H1176.8M1162.2 1982H1176.8M1164.6 1983H1176.8M1170.5 1984H1176.8M1162.7 1985H1176.8M1165.6 1986H1176.8M1163.3 1987H1176.8M1164.9 1988H1176.8M1163.4 1989H1176.8M1162.6 1990H1176.8M1161.6 1991H1176.8M1161.4 1992H1176.8M1165.1 1993H1176.8M1160.5 1994H1176.8M1163.6 1995H1176.8M1161.1 1996H1176.8M1170.4 1997H1176.8M1165.5 1998H1176.8M1163.8 1999H1176.8M1162.8 2000H1176.8M1163.5 2001H1176.8M1160 2002H1176.8M1168 2003H1176.8M1163.4 2004H1176.8M1169.4 2005H1176.8M1167.1 2006H1176.8M1169.9 2007H1176.8M1164.5 2008H1176.8M1166 2009H1176.8M1159.8 2010H1176.8M1167 2011H1176.8M1166.3 2012H1176.8M1163.2 2013H1176.8M1168 2014H1176.8M1171.4 2015H1176.8M1168.4 2016H1176.8M1167 2017H1176.8M1164.5 2018H1176.8M1162.5 2019H1176.8M1169 2020H1176.8M1162.4 2021H1176.8M1162.2 2022H1176.8M1170.8 2023H1176.8M1170.6 2024H1176.8M1166.9 2025H1176.8M1164 2026H1176.8M1170.5 2027H1176.8M1167.5 2028H1176.8M1170.2 2029H1176.8M1161.3 2030H1176.8M1171.4 2031H1176.8M1164.6 2032H1176.8M1167.9 2033H1176.8M1163.9 2034H1176.8M1168.7 2035H1176.8M1161.6 2036H1176.8M1159.9 2037H1176.8M1162.3 2038H1176.8M1164.2 2039H1176.8M1169.5 2040H1176.8M1160.4 2041H1176.8M1163.3 2042H1176.8M1165.8 2043H1176.8M1160.9 2044H1176.8M1171 2045H1176.8M1168.4 2046H1176.8M1164.3 2047H1176.8M1164.7 2048H1176.8M1169 2049H1176.8M1171.2 2050H1176.8M1170.5 2051H1176.8M1166.4 2052H1176.8M1170.9 2053H1176.8M1160.9 2054H1176.8M1166.5 2055H1176.8M1170.9 2056H1176.8M1162.8 2057H1176.8M1170.6 2058H1176.8M1165.6 2059H1176.8M1169.3 2060H1176.8M1164.5 2061H1176.8M1163.8 2062H1176.8M1164.8 2063H1176.8M1161.1 2064H1176.8M1165.8 2065H1176.8M1165.8 2066H1176.8M1170.5 2067H1176.8M1170.1 2068H1176.8M1166 2069H1176.8M1167.4 2070H1176.8M1164 2071H1176.8M1161.7 2072H1176.8M1171.6 2073H1176.8M1170.1 2074H1176.8M1161.4 2075H1176.8M1164.2 2076H1176.8M1170.2 2077H1176.8M1171.4 2078H1176.8M1162.8 2079H1176.8M1166.8 2080H1176.8M1159.9 2081H1176.8M1164.7 2082H1176.8M1166.3 2083H1176.8M1166 2084H1176.8M1166.7 2085H1176.8M1169.1 2086H1176.8M1162 2087H1176.8M1166.1 2088H1176.8M1160.5 2089H1176.8M1160.2 2090H1176.8M1170.4 2091H1176.8M1163.1 2092H1176.8M1160.5 2093H1176.8M1162.9 2094H1176.8M1163.5 2095H1176.8M1171.5 2096H1176.8M1163.7 2097H1176.8M1163.2 2098H1176.8M1166.4 2099H1176.8M1170.1 2100H1176.8M1167.9 2101H1176.8M1161 2102H1176.8M1166.9 2103H1176.8M1170.8 2104H1176.8M1168.5 2105H1176.8M1170.9 2106H1176.8M1170.9 2107H1176.8M1170.9 2108H1176.8M1163.7 2109H1176.8M1165.6 2110H1176.8M1170.9 2111H1176.8M1161.1 2112H1176.8M1160.8 2113H1176.8M1166.6 2114H1176.8M1161.8 2115H1176.8M1167.2 2116H1176.8M1164.6 2117H1176.8M1169.5 2118H1176.8M1159.8 2119H1176.8M1170.8 2120H1176.8M1163.9 2121H1176.8M1160.1 2122H1176.8M1168.1 2123H1176.8M1171.4 2124H1176.8M1166.8 2125H1176.8M1162.1 2126H1176.8M1167.2 2127H1176.8M1161.3 2128H1176.8M1167.9 2129H1176.8M1170.3 2130H1176.8M1164.6 2131H1176.8M1171.7 2132H1176.8M1166.5 2133H1176.8M1169.5 2134H1176.8M1161.7 2135H1176.8M1163.7 2136H1176.8M1162.4 2137H1176.8M1165.9 2138H1176.8M1165.9 2139H1176.8M1166.4 2140H1176.8M1170.9 2141H1176.8M1161.4 2142H1176.8M1169.7 2143H1176.8M1162.1 2144H1176.8M1171.3 2145H1176.8M1161.2 2146H1176.8M1171 2147H1176.8M1171.5 2148H1176.8M1167.9 2149H1176.8M1160 2150H1176.8M1161.9 2151H1176.8M1166.1 2152H1176.8M1161 2153H1176.8M1161.6 2154H1176.8M1165.4 2155H1176.8M1169 2156H1176.8M1166.3 2157H1176.8M1171.5 2158H1176.8M1169 2159H1176.8M1167.6 2160H1176.8M1171.3 2161H1176.8M1170.5 2162H1176.8M1169.5 2163H1176.8M1168 2164H1176.8M1169.1 2165H1176.8M1160.2 2166H1176.8M1165 2167H1176.8M1164.7 2168H1176.8M1169 2169H1176.8M1169.5 2170H1176.8M1160.6 2171H1176.8M1161.2 2172H1176.8M1170.3 2173H1176.8M1164.7 2174H1176.8M1164.3 2175H1176.8M1171.6 2176H1176.8M1161.3 2177H1176.8M1160.6 2178H1176.8M1166 2179H1176.8M1171.6 2180H1176.8M1171.6 2181H1176.8M1162.8 2182H1176.8M1160.6 2183H1176.8M1169.9 2184H1176.8M1167.2 2185H1176.8M1161.3 2186H1176.8M1169.7 2187H1176.8M1165.4 2188H1176.8M1163.5 2189H1176.8M1168.6 2190H1176.8M1169.4 2191H1176.8M1164 2192H1176.8M1165.3 2193H1176.8M1163.9 2194H1176.8M1167.3 2195H1176.8M1162.6 2196H1176.8M1163.1 2197H1176.8M1165.9 2198H1176.8M1162.1 2199H1176.8M1171.1 2200H1176.8M1160.2 2201H1176.8M1160.4 2202H1176.8M1165.2 2203H1176.8M1159.9 2204H1176.8M1162.2 2205H1176.8M1160.1 2206H1176.8M1160.9 2207H1176.8M1160.2 2208H1176.8M1170.3 2209H1176.8M1170.3 2210H1176.8M1162.9 2211H1176.8M1167.5 2212H1176.8M1171.1 2213H1176.8M1166.5 2214H1176.8M1161.6 2215H1176.8M1160 2216H1176.8M1163.9 2217H1176.8M1161.4 2218H1176.8M1162.4 2219H1176.8M1169 2220H1176.8M1169.7 2221H1176.8M1169.9 2222H1176.8M1161.7 2223H1176.8M1163.8 2224H1176.8M1164.1 2225H1176.8M1169.4 2226H1176.8M1163.9 2227H1176.8M1160.5 2228H1176.8M1171.3 2229H1176.8M1167.7 2230H1176.8M1169.1 2231H1176.8M1170.5 2232H1176.8M1161.2 2233H1176.8M1163.3 2234H1176.8M1163 2235H1176.8M1164.9 2236H1176.8M1167.9 2237H1176.8M1165.7 2238H1176.8M1161.4 2239H1176.8M1170.3 2240H1176.8M1167.7 2241H1176.8M1162.4 2242H1176.8M1163.3 2243H1176.8M1167.1 2244H1176.8M1162.6 2245H1176.8M1170.8 2246H1176.8M1163.1 2247H1176.8M1161.8 2248H1176.8M1164.8 2249H1176.8M1161.9 2250H1176.8M1169.2 2251H1176.8M1166.7 2252H1176.8M1168.7 2253H1176.8M1161.8 2254H1176.8M1160.9 2255H1176.8M1167.4 2256H1176.8M1166.7 2257H1176.8M1167.4 2258H1176.8M1159.8 2259H1176.8M1169.4 2260H1176.8M1160.2 2261H1176.8M1162.5 2262H1176.8M1168.7 2263H1176.8M1160.1 2264H1176.8M1170.9 2265H1176.8M1170.8 2266H1176.8M1167.3 2267H1176.8M1170.9 2268H1176.8M1160.8 2269H1176.8M1165.1 2270H1176.8M1164.5 2271H1176.8M1168.7 2272H1176.8M1164.8 2273H1176.8M1161.9 2274H1176.8M1164.2 2275H1176.8M1170.4 2276H1176.8M1168.4 2277H1176.8M1159.9 2278H1176.8M1166.5 2279H1176.8M1168.9 2280H1176.8M1160.2 2281H1176.8M1160.8 2282H1176.8M1170.3 2283H1176.8M1160.1 2284H1176.8M1167.4 2285H1176.8M1161.8 2286H1176.8M1165.8 2287H1176.8M1168.6 2288H1176.8M1169.8 2289H1176.8M1167.6 2290H1176.8M1161.9 2291H1176.8M1167.2 2292H1176.8M1170.2 2293H1176.8M1163.5 2294H1176.8M1170.8 2295H1176.8M1167.8 2296H1176.8M1163.8 2297H1176.8M1162 2298H1176.8M1163.6 2299H1176.8M1164.2 2300H1176.8M1164.4 2301H1176.8M1161.4 2302H1176.8M1164.5 2303H1176.8M1170.4 2304H1176.8M1161.2 2305H1176.8M1168.3 2306H1176.8M1171.5 2307H1176.8M1164 2308H1176.8M1165.7 2309H1176.8M1171.6 2310H1176.8M1165.8 2311H1176.8M1171 2312H1176.8M1167.8 2313H1176.8M1169.9 2314H1176.8M1160.7 2315H1176.8M1166.5 2316H1176.8M1171.7 2317H1176.8M1169.9 2318H1176.8M1170.6 2319H1176.8M1162.5 2320H1176.8M1167.6 2321H1176.8M1164.4 2322H1176.8M1161.2 2323H1176.8M1170 2324H1176.8M1161.2 2325H1176.8M1168.7 2326H1176.8M1164.3 2327H1176.8M1169.6 2328H1176.8M1160.9 2329H1176.8M1163.4 2330H1176.8M1169.7 2331H1176.8M1166.7 2332H1176.8M1164.1 2333H1176.8M1163.2 2334H1176.8M1160 2335H1176.8M1166.8 2336H1176.8M1165.5 2337H1176.8M1161.4 2338H1176.8M1169.7 2339H1176.8M1162.3 2340H1176.8M1164.7 2341H1176.8M1171.8 2342H1176.8M1168.3 2343H1176.8M1160.6 2344H1176.8M1161.6 2345H1176.8M1160.2 2346H1176.8M1164.3 2347H1176.8M1160.1 2348H1176.8M1164.4 2349H1176.8M1162.5 2350H1176.8M1171.7 2351H1176.8M1164.2 2352H1176.8M1168.7 2353H1176.8M1161.7 2354H1176.8M1161 2355H1176.8" fill="none" stroke="#000" stroke-width=".9"/><path d="M1112.2 1811.5H1176.8M1138.8 1825.4H1176.8M1122.3 1873.5H1176.8M1135.9 1906.5H1176.8M1143 1928.1H1176.8M1144.6 1984.8H1176.8M1148.1 1995.5H1176.8M1153.3 2026.5H1176.8M1148.4 2045.7H1176.8M1155.5 2060.3H1176.8M1153.3 2115.2H1176.8M1162.1 2129.3H1176.8M1166.2 2130.8H1176.8M1127.2 2147.7H1176.8M1130.5 2149.2H1176.8M1133.6 2183.1H1176.8M1137.3 2185.5H1176.8M1131.3 2214.9H1176.8M1138.8 2164.5H1176.8M1145.5 2220.3H1176.8M1146.4 2242.8H1176.8M1154.7 2247.2H1176.8M1150.6 2272.5H1176.8M1155.1 2323.9H1176.8" fill="none" stroke="#111" stroke-width="1.6"/><text transform="translate(2154 2343) scale(0.945 1)" x="-188.3" font-size="28" fill="#fff" xml:space="preserve"><tspan font-weight="700">9,406 proteins</tspan></text>
<defs><marker id="sq" markerWidth="12" markerHeight="12" refX="6" refY="6" markerUnits="userSpaceOnUse"><rect x="3.2" y="3.2" width="5.6" height="5.6" fill="none" stroke="#999" stroke-width="2"/></marker></defs><text transform="translate(9 1683) scale(0.820 1)" x="0" font-size="57" xml:space="preserve">e</text>
<polyline transform="scale(.5)" points="354,3716 233,3883 387,3746 442,3748 378,3775 403,3706 354,3790 487,3714 475,3707 377,3684 342,3783 320,3790 452,3749 283,3824 311,3798 329,3768 492,3713 322,3776 230,3883 373,3759 225,3904 369,3756 287,3762 394,3751 281,3888 273,3880 369,3780 340,3827 486,3767 630,3583 277,3843 303,3660 463,3686 310,3661 237,3845 339,3796 305,3862 234,3881 244,3767 311,3788 407,3693 284,3796 503,3662 363,3728 513,3694 359,3832 430,3743 227,3878 322,3832 605,3585 344,3752 313,3839 394,3737 482,3689 445,3712 417,3783 297,3812 406,3731 471,3699 645,3531 526,3726 467,3679 339,3838 273,3779 312,3806 478,3743 502,3729 390,3714 322,3745 461,3668 246,3810 531,3702 369,3755 273,3809 279,3816 261,3804 337,3840 321,3627 394,3717 391,3782 297,3794 419,3779 450,3745 456,3724 431,3767 484,3688 307,3806 406,3754 345,3744 255,3752 560,3656 422,3756 259,3876 361,3765 362,3781 232,3813 316,3851 348,3752 319,3779 372,3766 395,3704 363,3776 504,3676 261,3852 414,3733 266,3768 364,3772 479,3700 373,3753 404,3725 226,3848 362,3736 626,3556 278,3818 559,3630 384,3729 287,3800 296,3774 423,3721 554,3633 549,3677 306,3769 356,3744 248,3843 389,3769 353,3819 260,3842 542,3631 221,3822 553,3655 405,3748 323,3782 272,3812 262,3889 354,3775 235,3850 384,3769 415,3755 268,3841 390,3703 359,3800 354,3831 309,3803 414,3591 258,3756 288,3759 260,3847 331,3812 516,3681 445,3613 275,3901 430,3756 367,3757 399,3712 292,3880 393,3867 361,3794 382,3745 520,3676 437,3691 440,3752 477,3692 436,3720 517,3631 318,3824 584,3593 392,3710 537,3649 452,3721 294,3811 358,3734 419,3710 504,3671 532,3670 367,3806 410,3705 234,3899 321,3775 427,3747 250,3831 233,3873 342,3763 418,3727 263,3883 370,3761 406,3604 250,3767 413,3739 346,3783 344,3790 287,3812 221,3712 354,3781 262,3790 344,3694 291,3855 583,3628 456,3705 483,3661 236,3874 499,3650 304,3784 337,3736 392,3751 350,3771 439,3779 389,3741 226,3894 336,3742 337,3799 527,3608 353,3764 231,3834 367,3733 573,3585 409,3773 321,3807 399,3764 328,3790 318,3754 345,3757 399,3790 324,3794 543,3652 335,3740 230,3806 405,3764 535,3626 487,3663 560,3604 318,3789 418,3715 378,3741 361,3752 424,3793 216,3884 421,3664 396,3731 396,3716 427,3737 257,3875 343,3787 250,3851 302,3823 314,3758 407,3790 265,3867 339,3789 264,3877 550,3687 535,3669 359,3745 251,3792 378,3776 357,3805 291,3790 234,3786 373,3730 266,3847 414,3747 499,3672 243,3819 219,3895 367,3821 500,3633 263,3793 363,3771 348,3801 343,3786 273,3796 336,3765 411,3705 519,3634 270,3779 528,3684 221,3869 280,3828 362,3772 375,3781 543,3645 224,3839 336,3750 318,3764 268,3793 290,3744 464,3712 481,3682 215,3935 304,3786 409,3802 370,3784 382,3710 371,3755 410,3741 425,3773 385,3781 339,3793 442,3727 220,3801 326,3777 389,3636 468,3687 455,3746 549,3629 473,3678 309,3815 556,3620 291,3808 371,3761 496,3632 599,3590 349,3772 552,3643 316,3844 306,3834 285,3871 387,3782 303,3835 372,3783 277,3884 257,3844 493,3691 326,3776 428,3721 581,3650 534,3626 397,3751 270,3830 466,3670 251,3837 473,3669 307,3807 395,3782 365,3761 564,3631 368,3727 226,3901 299,3862 259,3802 437,3813 318,3820 536,3646 468,3775 377,3779 315,3860 245,3804 232,3840 448,3753 327,3753 276,3835 231,3712 258,3898 428,3722 292,3778 524,3699 392,3718 418,3742 474,3716 558,3637 437,3752 265,3799 302,3884 314,3792 565,3622 427,3753 328,3824 601,3615 243,3829 367,3814 486,3646 355,3783 296,3802 455,3678 530,3691 384,3745 385,3721 650,3568 308,3821 295,3824 583,3572 320,3791 493,3700 389,3793 392,3743 478,3682 469,3672 556,3650 316,3849 341,3885 350,3763 349,3793 452,3762 279,3852 380,3760 285,3829 377,3770 540,3575 315,3767 605,3584 373,3766 297,3864 418,3704 344,3766 327,3819 225,3783 277,3819 428,3709 299,3806 305,3789 276,3781 291,3849 444,3695 254,3853 395,3722 291,3864 428,3728 311,3798 421,3741 467,3708 236,3857 370,3733 307,3790 494,3710 544,3682 313,3848 239,3812 343,3738 345,3733 229,3968 409,3789 264,3755 345,3738 466,3716 260,3803 604,3622 367,3747 291,3740 224,3835 401,3756 447,3692 502,3709 374,3763 234,3857 464,3703 246,3891 491,3688 314,3835 598,3624 273,3881 490,3730 369,3749 362,3781 322,3795 360,3732 375,3805 402,3735 269,3852 251,3784 388,3765 240,3889 513,3683 415,3746 384,3715 243,3833 385,3748 242,3875 235,3872 337,3680 352,3758 305,3800 233,3823 257,3791 266,3864 384,3725 279,3782 317,3762 261,3765 253,3785 464,3695 229,3858 263,3829 323,3804 512,3673 384,3753 266,3900 412,3676 319,3848 373,3718 448,3801 281,3806 335,3761 607,3574 268,3813 376,3735 385,3764 564,3641 458,3724 404,3719 429,3731 383,3755 306,3850 459,3674 287,3827 285,3830 514,3509 453,3659 251,3814 407,3739 324,3752 220,3818 283,3711 275,3839 441,3712 296,3822 383,3725 309,3819 427,3704 274,3815 293,3689 327,3778 502,3627 404,3688 403,3782 437,3737 418,3758 330,3752 270,3846 477,3705 342,3728 277,3804 298,3882 621,3550 269,3816 486,3600 311,3821 500,3742 378,3772 398,3802 168,3880 459,3743 452,3718 440,3742 238,3819 231,3902 566,3699 383,3625 545,3646 283,3864 390,3757 288,3818 309,3800 524,3679 325,3776 364,3736 325,3791 286,3842 294,3808 376,3741 393,3740 292,3830 367,3732 317,3865 230,3870 372,3768 510,3640 519,3641 457,3676 262,3790 469,3629 224,3768 252,3821 505,3676 295,3815 232,3713 231,3842 279,3873 444,3767 509,3553 221,3831 243,3842 370,3789 309,3813 261,3816 278,3818 363,3751 480,3679 243,3855 248,3808 373,3750 507,3635 537,3674 414,3776 463,3683 464,3709 344,3835 478,3697 278,3837 533,3671 390,3781 269,3837 229,3801 475,3645 256,3855 418,3736 269,3863 335,3754 547,3625 473,3656 254,3848 430,3782 463,3674 631,3565 383,3796 305,3807 288,3842 443,3713 475,3692 381,3703 359,3841 615,3561 480,3672 506,3660 243,3805 338,3847 358,3757 449,3693 426,3731 441,3757 341,3802 371,3740 251,3824 396,3796 266,3843 472,3700 536,3676 526,3631 275,3842 245,3796 289,3780 339,3861 410,3736 299,3778 364,3775 488,3710 443,3738 499,3649 342,3737 313,3786 364,3770 301,3783 441,3710 468,3719 422,3731 310,3777 309,3867 287,3843 555,3475 481,3735 245,3823 303,3801 317,3782 410,3724 490,3705 300,3844 477,3754 289,3817 363,3770 561,3631 501,3596 621,3589 294,3808 599,3630 336,3809 369,3733 379,3768 412,3818 224,3853 303,3809 656,3570 255,3869 403,3731 296,3819 324,3853 238,3878 519,3693 380,3751 605,3585 623,3543 269,3741 236,3793 325,3785 395,3757 214,3880 609,3564 363,3766 354,3833 444,3755 289,3823 412,3699 410,3755 440,3708 365,3725 289,3761 204,3764 402,3714 396,3758 508,3699 436,3751 433,3768 314,3791 467,3656 265,3876 319,3755 239,3770 422,3731 526,3655 386,3743 261,3883 264,3831 302,3849 243,3819 510,3670 435,3717 299,3782 583,3612 339,3691 448,3696 419,3718 488,3748 411,3612 468,3718 340,3770 351,3782 255,3890 223,3892 640,3543 504,3541 435,3726 513,3657 334,3793 471,3704 299,3789 315,3832 407,3737 273,3774 292,3833 414,3716 294,3773 386,3763 317,3826 350,3805 578,3599 396,3767 269,3819 530,3681 438,3690 249,3841 406,3743 485,3715 334,3781 317,3785 338,3773 218,3814 309,3752 219,3864 297,3780 501,3641 400,3743 379,3735 311,3775 360,3781 546,3698 268,3878 290,3794 277,3822 516,3669 545,3645 508,3687 605,3580 481,3705 351,3729 367,3782 325,3658 561,3687 434,3747 348,3783 268,3839 278,3768 334,3781 326,3841 429,3751 361,3814 340,3841 289,3775 457,3762 355,3733 372,3766 226,3883 244,3816 448,3726 432,3761 596,3621 390,3715 466,3655 299,3845 611,3585 461,3738 285,3870 422,3730 351,3722 582,3637 426,3767 287,3811 255,3867 493,3743 243,3891 332,3740 241,3829 490,3648 414,3732 245,3830 582,3531 437,3789 370,3775 412,3707 341,3756 252,3834 360,3750 265,3798 477,3717 416,3778 381,3734 435,3693 372,3748 456,3721 250,3826 595,3640 378,3809 253,3852 261,3873 417,3720 352,3697 398,3761 377,3754 432,3735 268,3844 294,3851 502,3671 511,3678 235,3834 265,3825 236,3845 553,3547 335,3804 292,3824 245,3840 322,3793 378,3787 606,3583 266,3847 405,3752 354,3788 231,3912 481,3671 398,3787 283,3874 460,3698 310,3823 261,3794 581,3624 364,3788 314,3700 602,3517 395,3808 449,3705 452,3751 388,3760 402,3763 285,3734 500,3671 352,3791 426,3712 463,3725 265,3802 348,3783 283,3874 338,3781 239,3807 355,3793 574,3649 457,3708 370,3738 268,3813 265,3841 268,3858 346,3767 290,3783 241,3877 276,3822 314,3786 498,3683 332,3758 589,3607 264,3818 346,3756 440,3715 477,3661 450,3739 305,3796 504,3678 364,3762 364,3676 438,3781 459,3747 302,3713 301,3794 489,3685 499,3700 267,3845 454,3679 312,3783 218,3813 285,3836 237,3809 352,3757 311,3803 345,3765 420,3750 262,3824 280,3785 272,3801 466,3694 384,3832 555,3651 354,3778 404,3725 330,3787 306,3821 296,3814 409,3669 517,3664 561,3627 272,3839 334,3731 549,3656 478,3706 339,3743 454,3787 380,3762 377,3754 404,3773 236,3886 491,3602 281,3778 351,3792 605,3581 299,3822 361,3816 428,3720 235,3923 434,3657 303,3833 438,3554 297,3821 482,3615 276,3827 584,3621 281,3817 434,3805 361,3845 264,3739 352,3734 415,3715 294,3848 595,3592 256,3840 410,3791 434,3719 337,3788 323,3787 363,3798 294,3855 463,3764 479,3676 433,3751 480,3687 543,3656 365,3804 286,3889 404,3730 303,3830 408,3750 389,3762 268,3769 431,3716 543,3606 376,3753 273,3810 349,3680 300,3772 393,3728 285,3830 344,3735 237,3826 311,3790 391,3761 400,3711 304,3791 413,3703 324,3850 513,3714 278,3845 312,3877 394,3709 257,3816 296,3859 313,3851 470,3624 374,3769 533,3645 306,3792 288,3750 410,3738 294,3595 389,3723 326,3818 414,3734 392,3783 324,3790 218,3835 420,3776 260,3797 320,3754 325,3794 453,3728 248,3814 478,3695 612,3555 374,3778 390,3550 339,3698 411,3790 312,3804 227,3865 320,3767 340,3861 376,3755 339,3760 251,3681 335,3696 285,3782 298,3797 571,3623 319,3863 500,3677 344,3799 265,3641 242,3839 223,3860 390,3721 531,3640 405,3752 357,3794 304,3828 427,3752 384,3676 482,3670 369,3770 465,3716 340,3800 435,3684 462,3721 277,3847 442,3753 372,3778 582,3661 426,3695 348,3693 505,3632 402,3731 323,3755 423,3752 525,3654 371,3794 392,3748 582,3626 445,3752 327,3805 538,3613 309,3788 301,3797 229,3861 533,3651 339,3812 184,3822 243,3845 419,3731 437,3730 267,3779 401,3758 343,3779 500,3699 278,3747 336,3806 346,3717 336,3784 301,3808 559,3608 444,3717 313,3804 249,3895 335,3809 487,3735 242,3825 373,3795 330,3679 296,3830 502,3676 243,3849 614,3585 405,3767 473,3704 464,3715 475,3716 355,3803 354,3772 502,3728 254,3844 628,3554 291,3737 342,3792 324,3820 373,3822 404,3793 274,3812 307,3748 361,3677 321,3806 561,3665 584,3610 283,3798 277,3810 506,3674 387,3736 298,3842 485,3675 317,3781 303,3776 339,3783 411,3766 266,3813 357,3736 254,3767 473,3667 465,3691 490,3701 534,3588 214,3833 318,3749 287,3791 430,3741 382,3756 585,3628 414,3740 406,3684 354,3775 309,3821 336,3749 311,3795 471,3710 229,3847 484,3681 555,3647 360,3770 292,3745 568,3615 413,3711 402,3760 254,3806 306,3816 403,3747 439,3695 607,3580 233,3849 326,3815 351,3766 321,3805 317,3790 236,3854 294,3803 377,3715 229,3842 244,3905 356,3789 304,3804 310,3864 497,3688 353,3634 227,3865 348,3753 426,3705 492,3664 231,3839 415,3785 388,3764 402,3770 425,3774 410,3768 381,3767 327,3797 365,3783 318,3759 318,3716 294,3767 292,3815 372,3761 253,3823 307,3815 238,3831 301,3847 362,3788 222,3803 610,3573 497,3685 378,3734 381,3737 412,3745 384,3749 473,3752 315,3789 280,3808 439,3695 452,3726 398,3737 387,3807 309,3701 388,3817 309,3870 288,3899 256,3842 329,3805 480,3676 511,3648 319,3813 255,3776 324,3777 406,3756 256,3792 281,3814 295,3814 299,3798 248,3814 392,3765 301,3824 377,3729 337,3841 350,3764 392,3751 289,3820 277,3873 453,3759 307,3776 348,3825 436,3728 392,3721 352,3756 450,3711 396,3801 525,3655 350,3814 523,3675 402,3731 241,3845 408,3691 301,3870 588,3595 300,3765 476,3714 276,3780 535,3643 383,3754 330,3817 230,3855 448,3747 228,3859 441,3725 392,3741 438,3727 378,3748 265,3787 465,3731 391,3793 368,3738 528,3646 395,3707 284,3838 616,3584 327,3764 482,3752 390,3744 235,3776 483,3702 455,3708 391,3758 402,3739 380,3754 333,3751 435,3676 250,3858 446,3676 452,3705 492,3693 398,3749 300,3745 434,3699 611,3724 310,3781 271,3858 440,3713 298,3802 430,3690 311,3781 320,3826 276,3813 436,3681 471,3661 402,3705 373,3715 516,3676 382,3740 398,3738 555,3687 381,3718 319,3780 336,3832 259,3841 554,3644 458,3703 271,3827 267,3896 301,3808 429,3695 324,3746 314,3855 465,3717 362,3765 224,3815 263,3870 461,3664 412,3764 570,3618 458,3698 555,3603 349,3744 270,3867 541,3684 341,3796 326,3766 371,3735 298,3766 367,3781 353,3736 622,3476 385,3749 516,3685 311,3783 454,3753 374,3732 529,3649 414,3706 353,3883 416,3755 275,3818 426,3708 337,3731 546,3625 368,3783 276,3836 634,3483 328,3800 301,3807 323,3782 311,3792 312,3823 183,3821 322,3765 354,3784 369,3736 327,3822 482,3752 332,3816 243,3866 238,3800 298,3786 446,3757 422,3688 335,3846 279,3797 440,3695 571,3611 310,3777 498,3724 290,3876 270,3840 270,3907 343,3779 426,3713 475,3776 393,3758 402,3743 252,3832 354,3740 353,3770 423,3733 221,3871 253,3845 450,3782 399,3730 237,3832 238,3886 234,3912 282,3866 507,3726 382,3719 359,3764 346,3835 442,3737 564,3631 331,3824 456,3757 466,3775 535,3677 247,3816 441,3687 555,3644 371,3723 280,3846 291,3767 301,3734 474,3655 318,3814 341,3752 284,3790 302,3815 342,3809 511,3620 280,3815 393,3720 235,3804 374,3752 245,3861 371,3757 320,3822 302,3824 239,3747 240,3774 480,3759 425,3724 502,3658 489,3674 423,3731 468,3660 491,3661 596,3591 289,3759 320,3783 573,3679 307,3818 567,3656 505,3720 356,3823 314,3860 318,3796 566,3612 301,3802 580,3575 279,3754 275,3722 323,3797 236,3850 294,3859 411,3724 328,3786 379,3724 564,3672 572,3559 379,3771 464,3667 319,3780 226,3842 232,3781 446,3687 254,3823 213,3889 422,3752 422,3732 224,3824 551,3666 265,3840 513,3654 408,3711 405,3765 258,3899 339,3833 380,3721 451,3688 505,3742 479,3658 342,3804 363,3743 364,3725 291,3828 261,3825 359,3798 293,3811 221,3860 292,3875 272,3784 419,3746 420,3692 515,3668 268,3819 365,3800 457,3716 252,3880 199,3809 285,3795 419,3805 326,3729 293,3774 243,3817 315,3794 332,3829 295,3798 453,3707 379,3725 262,3744 374,3791 561,3610 264,3861 501,3704 344,3737 297,3791 262,3760 220,3841 459,3710 330,3836 560,3653 476,3657 233,3829 555,3687 256,3821 463,3724 394,3671 457,3698 419,3711 283,3688 356,3842 291,3851 517,3694 312,3806 552,3601 457,3719 390,3736 334,3823 250,3857 477,3676 535,3694 482,3678 291,3800" fill="none" stroke="none" marker-start="url(#sq)" marker-mid="url(#sq)" marker-end="url(#sq)"/><path transform="scale(.5)" d="M436 3741h0M378 3718h0M241 3742h0M444 3789h0M306 3829h0M290 3803h0M333 3760h0M255 3859h0M298 3758h0M325 3825h0M242 3861h0M523 3689h0M406 3751h0M265 3784h0M283 3824h0M340 3794h0M317 3830h0M312 3808h0M405 3634h0M389 3754h0M464 3705h0M275 3820h0M316 3783h0M432 3680h0M256 3906h0M346 3715h0M354 3817h0M414 3659h0M268 3829h0M327 3811h0M346 3848h0M512 3631h0M454 3631h0M351 3801h0M357 3762h0M423 3727h0M398 3741h0M233 3877h0M321 3813h0M492 3704h0M435 3756h0M349 3770h0M446 3586h0M283 3826h0M440 3659h0M381 3709h0M258 3862h0M285 3843h0M272 3776h0M383 3800h0M467 3684h0M416 3725h0M309 3805h0M305 3807h0M390 3666h0M322 3672h0M426 3631h0M306 3842h0M369 3743h0M349 3850h0M324 3695h0M349 3760h0M344 3675h0M367 3757h0M337 3798h0M315 3626h0M471 3722h0M394 3681h0M268 3837h0M344 3807h0M366 3812h0M408 3756h0M321 3818h0M508 3572h0M365 3672h0M529 3689h0M275 3779h0M216 3806h0M259 3811h0M522 3670h0M407 3729h0M370 3712h0M361 3807h0M266 3665h0M220 3821h0M314 3728h0M384 3697h0M545 3572h0M639 3554h0M445 3711h0M282 3725h0M458 3732h0M338 3664h0M564 3470h0M248 3841h0M464 3721h0M287 3834h0M320 3802h0M291 3823h0M325 3822h0M312 3816h0M271 3766h0M241 3840h0M222 3859h0M429 3672h0M352 3774h0M233 3909h0M294 3678h0M248 3851h0M282 3743h0M403 3653h0M344 3688h0M310 3760h0M353 3743h0M392 3588h0M357 3793h0M407 3693h0M353 3749h0M373 3758h0M343 3771h0M485 3688h0M319 3711h0M510 3604h0M317 3729h0M342 3763h0M298 3731h0M270 3730h0M302 3815h0M360 3815h0M301 3753h0M400 3758h0M313 3790h0M402 3748h0M430 3683h0M416 3613h0M310 3807h0M409 3750h0M359 3774h0M351 3725h0M272 3871h0M429 3737h0M283 3838h0M221 3787h0M338 3799h0M382 3707h0M264 3812h0M268 3860h0M300 3751h0M351 3777h0M219 3844h0M301 3756h0M302 3861h0M341 3787h0M241 3795h0M571 3564h0M410 3701h0M236 3836h0M300 3829h0M294 3846h0M344 3822h0M228 3799h0M509 3614h0M324 3797h0M304 3725h0M546 3685h0M417 3679h0M275 3848h0M565 3583h0M274 3796h0M328 3735h0M269 3813h0M377 3773h0M380 3708h0M228 3892h0M511 3627h0M382 3742h0M374 3729h0M339 3819h0M363 3688h0M331 3823h0M331 3739h0M354 3713h0M351 3787h0M398 3682h0M456 3801h0M241 3773h0M368 3720h0M431 3676h0M268 3851h0M259 3759h0M361 3745h0M346 3834h0M299 3861h0M457 3646h0M442 3576h0M399 3671h0M450 3758h0M352 3765h0M380 3743h0M268 3774h0M357 3776h0M433 3738h0M283 3830h0M416 3767h0M237 3882h0M297 3799h0M306 3767h0M451 3738h0M364 3722h0M358 3761h0M437 3668h0M253 3836h0M384 3598h0M321 3855h0M354 3781h0M313 3731h0M405 3792h0M345 3678h0M441 3614h0M292 3704h0M313 3853h0M580 3605h0M436 3578h0M393 3700h0M468 3700h0M325 3712h0M376 3714h0M433 3729h0M383 3769h0M283 3659h0M312 3776h0M532 3645h0M388 3728h0M234 3770h0M313 3790h0M369 3725h0M274 3813h0M536 3667h0M490 3654h0M387 3802h0M295 3828h0M437 3677h0M275 3848h0M396 3737h0M515 3695h0M441 3742h0M276 3752h0M268 3780h0M254 3828h0M344 3733h0M225 3868h0M392 3735h0M222 3803h0M312 3815h0M351 3758h0M352 3703h0M399 3760h0M372 3778h0M436 3675h0M457 3681h0M294 3672h0M334 3786h0M279 3764h0M460 3699h0M311 3716h0M325 3837h0M273 3806h0M238 3754h0M318 3740h0M406 3672h0M283 3745h0M349 3711h0M235 3908h0M413 3752h0M436 3718h0M375 3830h0M259 3906h0M335 3665h0M308 3770h0M316 3859h0M273 3712h0M377 3796h0M493 3675h0M264 3815h0M407 3682h0M387 3717h0M345 3734h0M287 3788h0M413 3819h0M262 3815h0M347 3722h0M451 3670h0M255 3789h0M328 3768h0M532 3672h0M348 3798h0M343 3779h0M421 3672h0M387 3751h0M320 3814h0M313 3781h0M428 3720h0M335 3736h0M438 3663h0M339 3796h0M341 3828h0M269 3812h0M548 3654h0M334 3778h0M293 3756h0M270 3802h0M404 3630h0M276 3824h0M403 3642h0M277 3705h0M390 3673h0M441 3662h0M286 3841h0M226 3833h0M290 3809h0M406 3723h0M279 3643h0M436 3746h0M284 3854h0M388 3741h0M312 3815h0M308 3810h0M279 3820h0M296 3842h0M347 3772h0M311 3805h0M315 3807h0M289 3797h0M360 3726h0M223 3808h0M432 3731h0M344 3750h0M395 3848h0M300 3781h0M311 3799h0M455 3738h0M400 3804h0M253 3880h0M516 3650h0M289 3817h0M343 3769h0M408 3713h0M394 3795h0M345 3546h0M400 3667h0M298 3752h0M310 3776h0M463 3684h0M439 3667h0M401 3652h0M356 3716h0M498 3678h0M237 3785h0M336 3743h0M320 3698h0M455 3783h0M467 3656h0M254 3867h0M383 3780h0M415 3745h0M457 3714h0M409 3720h0M435 3751h0M379 3555h0M451 3698h0M416 3535h0M274 3807h0M268 3778h0M374 3715h0M398 3683h0M431 3727h0M441 3732h0M411 3688h0M320 3827h0M457 3698h0M286 3780h0M512 3562h0M341 3752h0M320 3747h0M249 3812h0M406 3706h0M368 3765h0M374 3688h0M303 3784h0M237 3791h0M531 3620h0M546 3672h0M405 3655h0M350 3727h0M213 3827h0M515 3719h0M245 3752h0M392 3801h0M357 3696h0M322 3841h0M348 3849h0M274 3778h0M274 3734h0M237 3844h0M375 3689h0M407 3769h0M257 3760h0M267 3627h0M284 3716h0M380 3760h0M289 3834h0M480 3684h0M359 3766h0M360 3722h0M366 3750h0M387 3791h0M356 3764h0M361 3776h0M338 3766h0M368 3807h0M284 3788h0M392 3727h0M367 3731h0M367 3592h0M277 3776h0M416 3757h0M426 3725h0M343 3804h0M327 3823h0M534 3602h0M304 3716h0M401 3806h0M244 3844h0M389 3638h0M341 3790h0M521 3539h0M286 3844h0M240 3843h0M500 3626h0M418 3768h0M297 3820h0M263 3863h0M519 3619h0M367 3704h0M318 3794h0M235 3801h0M482 3649h0M289 3854h0M298 3831h0M244 3846h0M364 3808h0M296 3807h0M348 3721h0M400 3759h0M335 3775h0M439 3731h0M428 3731h0M268 3866h0M361 3749h0M229 3927h0M404 3765h0M321 3741h0M306 3834h0M212 3680h0M338 3772h0M429 3645h0M266 3805h0M371 3717h0M321 3745h0M235 3800h0M296 3823h0M293 3763h0M480 3659h0M291 3737h0M352 3711h0M279 3863h0M236 3780h0M288 3781h0M328 3817h0M336 3767h0M386 3766h0M343 3813h0M447 3649h0M324 3744h0M395 3609h0M450 3657h0M218 3779h0M342 3724h0M319 3725h0M327 3778h0M370 3710h0M377 3774h0M323 3820h0M358 3750h0M254 3847h0M277 3846h0M529 3590h0M295 3844h0M305 3670h0M298 3759h0M416 3741h0M545 3535h0M426 3735h0M333 3775h0M330 3777h0M423 3665h0M356 3737h0M254 3814h0M363 3663h0M322 3685h0M569 3642h0M433 3636h0M242 3813h0M219 3832h0M447 3731h0M344 3780h0M319 3747h0M406 3681h0M285 3860h0M368 3712h0M309 3716h0M250 3728h0M447 3781h0M424 3725h0M507 3593h0M231 3834h0M401 3743h0M332 3778h0M251 3836h0M456 3698h0M631 3451h0M644 3449h0M703 3578h0M667 3523h0M610 3502h0M409 3922h0M458 3447h0M470 3456h0" stroke="#e0368f" stroke-width="7.6" stroke-linecap="round" fill="none"/><polyline transform="scale(.5)" points="1178,3733 1154,3675 1272,3643 1345,3585 1185,3732 1184,3698 1100,3742 1189,3721 1075,3817 1179,3786 1104,3732 1159,3721 1253,3685 1395,3537 1083,3780 1062,3787 1197,3685 1179,3744 1208,3674 1107,3838 1343,3579 1396,3553 1138,3713 1279,3643 1115,3819 1142,3808 1257,3597 1375,3564 1164,3726 1187,3679 1233,3708 1338,3577 1139,3790 1069,3747 1265,3599 1166,3732 1094,3780 1215,3756 1214,3711 1061,3806 1256,3704 1182,3632 1198,3666 1244,3641 1113,3791 1264,3650 1287,3636 1057,3879 1112,3779 1207,3744 1195,3651 1190,3724 1089,3813 1204,3701 1235,3694 1256,3697 1063,3675 1159,3672 1212,3747 1210,3657 1313,3559 1196,3718 1155,3762 1336,3418 1310,3569 1079,3852 1257,3624 1123,3806 1160,3706 1294,3587 1129,3636 1203,3697 1229,3620 1181,3786 1192,3784 1001,3769 1290,3660 1132,3796 1107,3737 1217,3715 1241,3681 1141,3751 1237,3663 1180,3759 1159,3814 1260,3623 1053,3818 1238,3712 1120,3718 1162,3716 1336,3571 1382,3560 1095,3801 1174,3705 1407,3561 1112,3790 1134,3701 1075,3809 1099,3845 1163,3727 1097,3740 1198,3666 1313,3615 1250,3702 1106,3785 1037,3707 1122,3785 1117,3778 1265,3632 1185,3655 1182,3642 1131,3749 1045,3810 1115,3686 1157,3800 1315,3655 1044,3831 1209,3705 1216,3600 1136,3779 1185,3672 1383,3495 1117,3773 1077,3869 1369,3523 1221,3688 1026,3769 1105,3748 1291,3675 1164,3737 1102,3738 1125,3909 1131,3774 1094,3812 1286,3614 1217,3713 1200,3605 1221,3706 1351,3607 1157,3716 1069,3752 1164,3695 1200,3689 1289,3613 1208,3772 1304,3557 1157,3777 1279,3594 1064,3792 1164,3740 1122,3761 1302,3590 1172,3749 1218,3677 1313,3758 1089,3728 1242,3652 1141,3701 1073,3761 1148,3773 1059,3751 1066,3903 1168,3771 1104,3877 1107,3710 1076,3780 1288,3652 1342,3568 1237,3666 1317,3652 1052,3825 1309,3596 1159,3794 1225,3639 1168,3763 1075,3654 1087,3729 1107,3847 1213,3699 1047,3775 1054,3760 1095,3701 1167,3754 1292,3625 1255,3679 1153,3695 1069,3798 1227,3652 1188,3711 1030,3773 1192,3776 1078,3827 1200,3672 1009,3922 1098,3702 1271,3617 1121,3732 1273,3680 1192,3684 1063,3832 1144,3705 1117,3733 1166,3545 1140,3625 1138,3677 1181,3706 1110,3873 1218,3615 1064,3755 1095,3757 1151,3731 1184,3782 1293,3639 1229,3721 1318,3550 1116,3805 1093,3706 1232,3676 1163,3755 1190,3732 1148,3720 1336,3614 1250,3683 1042,3796 1082,3770 1205,3695 1090,3765 1271,3639 1206,3743 1105,3776 1115,3828 1095,3758 1218,3732 1145,3742 1090,3782 1110,3838 1268,3612 1201,3784 1071,3914 1190,3701 1245,3755 1136,3831 1104,3759 1078,3750 1230,3711 1258,3572 1219,3686 1083,3786 1294,3626 1314,3572 1141,3629 1198,3684 1159,3745 1268,3634 1131,3837 1143,3759 1142,3827 1299,3665 1175,3733 1142,3685 1302,3605 1222,3697 1283,3646 1125,3785 1093,3812 1248,3690 1227,3655 1253,3672 1296,3656 1086,3807 1274,3652 1399,3547 1151,3704 1225,3693 1201,3807 1161,3770 1171,3685 1237,3672 1209,3775 1200,3678 1308,3566 1104,3749 1273,3673 1189,3709 1211,3777 1207,3723 1300,3631 1144,3783 1239,3673 1291,3677 1143,3733 1291,3633 1067,3877 1347,3602 1120,3743 1164,3779 1243,3623 1190,3580 1157,3716 1174,3696 1352,3569 1113,3663 1137,3788 1056,3868 1106,3768 1181,3771 1204,3736 1203,3719 1065,3813 1405,3547 1326,3651 1262,3652 1290,3652 1382,3575 1098,3776 1162,3747 1105,3687 1139,3737 1198,3715 1156,3838 1121,3731 1338,3599 1067,3836 1286,3526 1112,3742 1205,3810 1103,3802 1075,3815 1068,3855 1178,3733 1110,3860 1243,3608 1242,3679 1026,3803 1130,3795 1072,3827 1124,3733 1296,3608 1116,3711 1321,3611 1131,3756 1145,3667 1212,3756 1117,3784 1183,3716 1262,3733 1165,3780 1098,3856 1181,3743 1212,3668 1073,3830 1072,3825 1220,3682 1268,3688 1190,3760 1182,3736 1180,3716 1232,3631 1186,3683 1127,3714 1242,3656 1099,3779 1246,3799 1268,3628 1065,3716 1207,3709 1316,3603 1183,3691 1255,3602 1073,3748 1094,3782 1257,3574 1293,3630 1133,3759 1138,3695 1114,3782 1137,3825 1221,3735 1209,3699 1224,3665 1160,3790 1244,3688 1333,3588 1102,3728 1199,3734 1233,3653 1148,3698 1116,3846 1218,3703 1102,3773 1095,3773 1125,3731 1132,3792 1087,3815 1072,3816 1168,3785 1213,3741 1123,3792 1162,3727 1184,3684 1269,3647 1168,3849 1092,3633 1171,3743 1166,3713 1043,3713 1096,3774 1173,3750 1174,3730 1136,3759 1175,3723 1168,3713 1163,3770 1335,3555 1126,3820 1077,3855 1349,3603 1224,3691 1256,3654 1053,3756 1245,3713 1051,3915 1117,3711 1048,3805 1129,3822 1269,3681 1318,3583 1081,3883 1192,3732 1191,3735 1393,3544 1380,3571 1350,3669 1259,3652 1069,3945 1387,3556 1132,3768 1201,3697 1099,3701 1182,3697 1188,3695 1130,3892 1220,3681 1026,3853 1123,3799 1087,3769 1107,3798 1176,3768 1269,3641 1188,3703 1188,3746 1264,3611 1104,3756 1209,3693 1165,3749 1117,3920 1262,3626 1134,3792 1169,3779 1123,3817 1196,3675 1098,3661 1230,3702 1116,3900 1159,3692 1325,3610 1119,3785 1308,3613 1094,3871 1269,3648 1330,3577 1136,3785 1039,3824 1236,3694 1120,3734 1300,3633 1279,3657 1161,3713 1134,3660 1145,3817 1337,3638 1226,3661 1167,3818 1100,3841 1222,3662 1079,3848 1228,3721 1295,3557 1081,3760 1252,3651 1172,3754 1265,3623 1338,3585 1174,3686 1203,3708 1166,3754 1250,3702 1175,3785 1138,3738 1134,3786 1046,3825 1223,3681 1072,3815 1156,3798 1247,3634 1205,3683 1216,3674 1099,3740 1343,3588 1094,3816 1207,3755 1212,3683 1215,3698 1294,3671 1132,3809 1326,3486 1119,3708 1229,3669 1079,3847 1216,3744 1249,3757 1053,3843 1090,3798 1089,3820 1056,3786 1144,3764 1229,3654 1048,3825 1236,3666 1145,3767 1320,3573 1241,3726 1299,3661 1165,3806 1222,3683 1084,3803 1169,3705 1315,3602 1191,3692 1249,3668 1071,3806 1370,3564 1247,3648 1169,3743 1267,3661 1110,3803 1069,3748 1233,3739 1133,3741 1155,3722 1145,3818 1412,3518 1060,3698 1189,3723 1086,3852 1257,3623 1101,3725 1109,3805 1145,3782 1147,3738 1180,3824 1085,3763 1092,3814 1192,3645 1191,3687 1310,3592 1282,3639 1198,3687 1185,3731 1232,3711 1255,3652 1080,3739 1258,3753 1198,3769 1301,3572 1120,3731 1206,3667 1306,3624 1225,3672 1066,3788 1033,3819 1198,3727 1243,3631 1083,3745 1322,3612 1122,3786 1166,3764 1250,3677 1320,3579 1187,3679 1085,3725 1149,3837 1108,3710 1225,3606 1131,3807 1250,3684 1079,3805 1170,3839 1121,3795 1272,3653 1102,3800 1185,3670 1219,3690 1172,3785 1191,3837 1213,3694 1275,3662 1181,3776 1171,3789 1225,3737 1127,3817 1104,3712 1121,3687 1375,3561 1094,3788 1275,3690 1108,3739 1227,3664 1262,3614 1092,3734 1212,3690 1232,3632 1281,3552 1128,3727 1292,3667 1357,3573 1092,3792 1107,3849 1265,3621 1139,3715 1173,3717 1195,3792 1191,3575 1063,3801 1064,3823 1074,3927 1149,3754 1101,3846 1191,3758 1271,3616 1048,3876 1197,3702 1113,3785 1330,3610 1074,3869 1133,3776 1132,3822 1076,3662 1206,3870 1193,3736 1084,3767 1175,3763 1065,3784 1238,3666 1244,3648 1261,3711 1312,3587 1218,3749 1199,3722 1115,3864 1070,3862 1113,3721 1050,3764 1117,3772 1222,3697 1092,3798 1108,3655 1126,3769 1123,3749 1236,3670 1163,3720 1222,3654 1070,3809 1166,3813 1091,3780 1066,3810 1248,3662 1236,3708 1268,3691 1118,3712 1282,3584 1180,3840 1189,3728 1312,3666 1111,3798 1320,3573 1034,3845 1180,3681 1222,3660 1153,3777 1165,3762 1264,3643 1088,3780 1052,3837 1110,3945 1174,3740 1115,3790 1117,3862 1264,3639 1128,3738 1176,3721 1255,3626 1220,3643 1276,3585 1232,3736 1113,3790 1092,3834 1099,3814 1260,3666 1222,3653 1082,3839 1166,3861 1154,3681 1231,3656 1172,3712 1037,3855 1122,3861 1059,3757 1333,3615 1165,3743 1199,3742 1145,3832 1323,3617 1130,3813 1328,3487 1302,3641 1162,3774 1251,3697 1251,3666 1173,3783 1153,3800 1187,3686 1305,3695 1185,3726 1261,3711 1227,3651 1129,3816 1178,3755 1140,3765 1105,3750 1083,3723 1318,3618 1156,3840 1241,3706 1270,3552 1133,3761 1250,3682 1156,3739 1211,3777 1292,3672 1117,3802 1205,3650 1120,3749 1165,3759 1120,3838 1109,3840 1278,3671 1297,3690 1382,3554 1165,3784 1311,3617 1221,3730 1329,3595 1083,3758 1118,3748 1287,3718 1170,3790 1138,3781 1189,3721 1041,3762 1083,3830 1215,3703 1131,3694 1158,3785 1092,3577 1248,3651 1164,3765 1159,3724 1348,3562 1102,3736 1293,3678 1301,3607 1231,3680 1247,3642 1198,3777 1079,3813 1270,3688 1080,3779 1069,3853 1236,3660 1101,3619 1155,3731 1191,3694 1049,3790 1329,3585 1357,3571 1261,3684 1306,3653 1362,3584 1262,3656 1136,3752 1149,3641 1221,3761 1107,3816 1268,3764 1070,3691 1115,3725 1221,3686 1123,3671 1133,3748 1302,3649 1237,3709 1172,3719 1182,3735 1239,3654 1221,3675 1228,3553 1322,3623 1097,3832 1046,3856 1160,3714 1226,3656 1233,3669 1225,3701 1275,3661 1192,3688 1164,3749 1157,3741 1209,3774 1328,3590 1089,3832 1109,3844 1088,3657 1246,3672 1150,3761 1050,3810 1132,3614 1202,3748 1311,3587 1318,3639 1205,3685 1312,3630 1193,3799 1090,3779 1057,3876 1190,3779 1262,3618 1159,3719 1210,3681 1150,3726 1272,3603 1134,3727 1149,3835 1231,3734 1138,3843 1364,3528 1160,3759 1269,3640 1288,3630 1097,3805 1294,3608 1288,3578 1171,3726 1144,3731 1342,3576 1301,3658 1091,3881 1153,3681 1348,3563 1263,3527 1212,3656 1153,3659 1277,3703 1193,3814 1191,3765 1145,3740 1087,3816 1126,3753 1218,3623 1264,3646 1099,3782 1171,3724 1071,3805 1188,3682 1120,3771 1158,3779 1231,3715 1291,3600 1226,3666 1205,3704 1069,3724 1058,3884 1379,3570 1261,3624 1260,3627 1148,3812 1228,3765 1125,3813 1111,3732 1145,3729 1055,3782 1175,3760 1106,3826 1179,3811 1121,3904 1205,3704 1192,3666 1253,3684 1102,3806 1237,3686 1260,3686 1084,3771 1208,3700 1237,3695 1204,3707 1132,3831 1365,3532 1225,3664 1185,3679 1076,3803 1269,3680 1206,3667 1072,3763 1111,3725 1127,3715 1196,3712 1115,3776 1168,3798 1197,3716 1138,3740 1258,3624 1048,3787 1162,3734 1089,3806 1143,3717 1283,3715 1183,3692 1347,3633 1164,3723 1307,3617 1037,3862 1046,3836 1146,3725 1083,3805 1138,3795 1206,3643 1260,3729 1190,3694 1173,3690 1202,3773 1135,3765 1166,3695 1317,3584 1090,3807 1267,3671 1117,3873 1098,3764 1091,3739 1228,3602 1085,3749 1188,3717 1040,3734 1099,3642 1259,3663 1261,3642 1250,3680 1232,3693 1074,3838 1027,3864 1130,3776 1351,3598 1143,3662 1103,3779 1231,3699 1119,3740 1206,3625 1372,3546 1176,3742 1340,3599 1177,3707 1251,3539 1030,3758 1293,3634 1186,3689 1261,3644 1258,3741 1053,3856 1016,3791 1296,3611 1134,3722 1198,3729 1079,3789 1108,3782 1125,3774 1131,3731 1065,3754 1077,3732 1084,3878 1154,3698 1246,3662 1189,3726 1227,3744 1163,3765 1139,3802 1168,3817 1346,3557 1167,3758 1143,3709 1117,3837 1132,3766 1254,3660 1022,3796 1098,3773 1161,3746 1203,3763 1292,3606 1089,3869 1248,3663 1239,3616 1255,3629 1238,3664 1045,3757 1350,3456 1248,3709 1202,3701 1150,3617 1252,3692 1322,3591 1203,3698 1188,3753 1157,3790 1101,3735 1164,3565 1089,3628 1187,3797 1081,3731 1148,3785 1041,3772 1324,3618 1085,3812 1129,3787 1297,3601 1355,3584 1059,3822 1111,3718 1230,3666 1227,3672 1116,3743 1291,3650 1134,3713 1169,3786 1149,3699 1226,3669 1098,3721 1143,3780 1163,3776 1130,3774 1237,3653 1210,3686 1099,3736 1178,3649 1051,3793 1125,3701 1279,3643 1279,3586 1168,3781 1035,3793 1219,3681 1061,3876 1208,3688 1313,3624 1103,3799 1129,3758 1314,3624 1150,3743 1199,3697 1132,3725 1106,3862 1159,3749 1146,3795 1237,3761 1243,3682 1090,3767 1038,3828 1077,3805 1061,3910 1176,3642 1151,3792 1069,3910 1193,3733 1126,3810 1119,3768 1068,3897 1267,3596 1110,3731 1090,3823 1064,3763 1237,3653 1254,3638 1176,3761 1272,3646 1123,3765 1086,3757 1119,3818 1191,3740 1082,3749 1125,3815 1234,3718 1189,3695 1293,3636 1187,3822 1231,3652 1160,3783 1245,3733 1233,3623 1113,3744 1300,3584 1171,3751 1057,3842 1104,3862 1111,3747 1119,3721 1245,3651 1280,3580 1275,3646 1143,3760 1319,3588 1255,3640 1158,3777 1214,3707 1175,3708 1206,3737 1240,3672 1126,3804 1167,3707 1218,3764 1316,3605 1198,3596 1255,3690 1049,3864 1167,3684 1208,3744 1344,3598 1089,3847 1229,3714 1285,3691 1227,3712 1208,3643 1049,3873 1126,3782 1228,3616 1157,3720 1362,3550 1117,3740 1284,3621 1175,3705 1301,3590 1245,3708 1060,3766 1212,3792 1150,3781 1154,3775 1263,3656 1058,3763 1325,3577 1310,3621 1138,3786 1284,3598 1188,3739 1260,3681 1161,3735 1237,3712 1216,3774 1166,3776 1318,3608 1076,3778 1115,3832 1112,3815 1060,3803 1046,3706 1149,3756 1246,3558 1071,3715 1225,3688 1242,3657 1305,3656 1111,3791 1139,3732 1177,3708 1250,3547 1129,3766 1139,3803 1029,3797 1143,3816 1258,3699 1189,3751 1071,3781 1135,3663 1131,3768 1095,3896 1145,3852 1319,3584 1028,3743 1179,3749 1081,3822 1228,3702 1136,3863 1136,3789 1234,3738 1045,3783 1117,3704 1119,3737 1347,3561 1305,3637 1103,3782 1148,3856 1219,3794 1172,3761 1159,3788 1251,3725 1112,3839 1061,3677 1153,3640 1129,3736 1154,3862 1243,3655 1187,3763 1151,3791 1112,3766 1260,3624 1344,3424 1082,3879 1277,3597 1232,3640 1126,3817 1176,3652 1147,3769 1341,3567 1287,3583 1257,3571 1171,3753 1328,3605 1221,3693 1134,3802 1186,3739 1270,3654 1136,3703 1235,3546 1039,3843 1269,3697 1050,3777 1234,3647 1335,3573 1117,3722 1223,3686 1262,3679 1104,3804 1172,3682 1104,3815 1099,3843 1169,3630 1138,3763 1087,3701 1272,3640 1108,3859 1074,3787 1119,3782 1143,3752 1247,3679 1198,3784 1138,3617 1210,3682 1085,3830 1240,3694 1216,3699 1088,3749 1160,3764 1129,3754 1152,3802 1248,3551 1196,3681 1386,3650 1085,3873 1046,3797 1243,3606 1076,3750 1144,3810 1056,3760 1262,3632 1265,3703 1261,3676 1064,3809 1171,3779 1115,3823 1163,3813 1163,3743 1005,3792 1056,3766 1106,3675 1190,3749 1154,3822 1094,3662 1121,3815 1254,3671 1223,3702 1066,3860 1226,3696 1143,3843 1082,3837 1159,3763 1171,3793 1187,3596 1285,3674 1208,3737 1069,3805 1148,3717 1247,3653 1269,3612 1135,3706 1217,3685 1210,3697 1209,3668 1311,3563 1232,3733 1289,3619 1171,3724 1143,3725 1201,3758 1263,3781 1184,3734 1119,3744 1132,3770 1116,3744 1264,3619 1209,3700 1125,3785 1195,3750 1140,3818 1177,3760 1293,3617 1209,3719 1308,3598 1118,3724 1143,3760 1115,3808 1124,3686 1151,3704 1074,3753 1229,3635 1171,3651 1209,3735 1319,3616 1260,3690 1257,3678 1167,3768 1277,3715 1112,3759 1309,3614 1212,3716 1269,3696 1271,3666 1210,3628 1247,3633 1164,3746 1033,3807 1060,3838 1091,3691 1177,3742 1236,3658 1074,3679 1229,3725 1143,3769 1269,3649 1120,3799 1222,3710 1273,3649 1221,3753 1297,3628 1082,3625 1141,3810 1171,3759 1287,3611 1321,3626 1121,3640 1150,3776 1062,3772 1279,3621 1123,3751 1297,3613 1060,3853 1051,3758 1242,3709 1112,3863 1086,3720 1177,3727 1109,3857 1047,3807 1048,3788 1239,3683 1073,3765 1255,3641 1167,3699 1076,3772 1106,3770 1222,3679 1298,3673 1252,3679 1266,3643 1309,3606 1237,3766 1135,3733 1098,3782 1228,3663 1136,3741 1077,3839 1219,3616 1332,3628 1119,3838 1173,3737 1203,3727 1183,3783 1137,3766 1138,3728 1251,3662 1173,3708 1135,3824 1338,3586 1258,3571 1167,3761 994,3773 1147,3729 1066,3763 1176,3702 1254,3624 1201,3787 1264,3643 1169,3688 1130,3726 1242,3615 1384,3553 1151,3670 1251,3739 1072,3670 1094,3727 1199,3680 1093,3757 1178,3662 1191,3676 1216,3722 1088,3744 1070,3757 1068,3836 1069,3792 1220,3603 1203,3728 1188,3596 1236,3738 1148,3739 1380,3584 1295,3619 1184,3627 1404,3530 1096,3777 1103,3851 1172,3731 1153,3657 1141,3827 1148,3764 1201,3722 1111,3787 1292,3600 1058,3715 1315,3609 1132,3773 1273,3676 1030,3876 1164,3702 1283,3666 1171,3787 1108,3666 1202,3704 1088,3775 1267,3669 1111,3754 1120,3813 1214,3674 1191,3712 1243,3755 1060,3910 1238,3767 1077,3809 1179,3781 1074,3744 1248,3635 1213,3651 1065,3823 1213,3684 1255,3582 1130,3733 1251,3726 1230,3692 1250,3676 1117,3741 1261,3689 1205,3740 1054,3813 1085,3832 1028,3860 1204,3692 1163,3806 1292,3618 1361,3568 1199,3722 1235,3605 1151,3707 1273,3705 1088,3786 1122,3779 1183,3806 1061,3900 1099,3738 1150,3754 1177,3718 1205,3704 1203,3801 1248,3667 1183,3745 1173,3711 1216,3743 1282,3633 1275,3661 1097,3763 1209,3716 1253,3692 1153,3669 1166,3741 1168,3721 1141,3703 1396,3517 1182,3844 1250,3676 1216,3688" fill="none" stroke="none" marker-start="url(#sq)" marker-mid="url(#sq)" marker-end="url(#sq)"/><path transform="scale(.5)" d="M1153 3658h0M1271 3655h0M1118 3708h0M1199 3647h0M1179 3640h0M1044 3901h0M1128 3695h0M1154 3666h0M1125 3762h0M1061 3651h0M1236 3537h0M1120 3746h0M1180 3634h0M1108 3866h0M1135 3555h0M1067 3851h0M1142 3762h0M1071 3818h0M1225 3624h0M1134 3693h0M1109 3716h0M1215 3567h0M1198 3614h0M1262 3691h0M1133 3741h0M1185 3730h0M1241 3755h0M1193 3692h0M1179 3673h0M1160 3745h0M1155 3644h0M1151 3668h0M1114 3744h0M1153 3765h0M1287 3626h0M1145 3645h0M1103 3679h0M1201 3731h0M1176 3649h0M1242 3672h0M1246 3632h0M1193 3631h0M1257 3752h0M1094 3764h0M1091 3775h0M1157 3734h0M1100 3713h0M1209 3684h0M1115 3691h0M1233 3646h0M1178 3785h0M1065 3709h0M1241 3592h0M1170 3575h0M1248 3605h0M1167 3651h0M1242 3697h0M1238 3663h0M1212 3662h0M1131 3732h0M1190 3648h0M1169 3621h0M1140 3665h0M1120 3719h0M1229 3591h0M1100 3716h0M1162 3739h0M1068 3720h0M1121 3867h0M1148 3760h0M1298 3564h0M1163 3668h0M1175 3680h0M1111 3702h0M1187 3631h0M1153 3684h0M1132 3709h0M1110 3863h0M1001 3759h0M1190 3704h0M1134 3658h0M1128 3716h0M1216 3632h0M1090 3762h0M1179 3694h0M1110 3657h0M1137 3679h0M1300 3521h0M1142 3697h0M1030 3706h0M1154 3637h0M1173 3663h0M1165 3762h0M1186 3811h0M1228 3721h0M1153 3647h0M1226 3567h0M1246 3780h0M1286 3578h0M1150 3670h0M1144 3701h0M1156 3810h0M1156 3639h0M1297 3644h0M1087 3720h0M1303 3533h0M1125 3773h0M1061 3726h0M1122 3738h0M1080 3721h0M1206 3746h0M1243 3657h0M1319 3538h0M1246 3611h0M1241 3590h0M1131 3754h0M1102 3697h0M1215 3670h0M1078 3714h0M1172 3675h0M1076 3771h0M1319 3547h0M1105 3698h0M1082 3785h0M1159 3720h0M1243 3670h0M1094 3731h0M1156 3737h0M1066 3650h0M1210 3795h0M1073 3818h0M1041 3868h0M1110 3851h0M1187 3763h0M1215 3664h0M1300 3616h0M1161 3686h0M1304 3620h0M1295 3628h0M1135 3813h0M1263 3664h0M1207 3677h0M1104 3826h0M1182 3670h0M1163 3770h0M1249 3579h0M1205 3659h0M1314 3535h0M1231 3643h0M1090 3700h0M1090 3867h0M1131 3710h0M1238 3630h0M1084 3706h0M1150 3699h0M1128 3688h0M1251 3638h0M1214 3736h0M1201 3651h0M1159 3717h0M1248 3572h0M1209 3641h0M1133 3790h0M1210 3701h0M1141 3759h0M1173 3761h0M1201 3837h0M1254 3589h0M1071 3674h0M1075 3893h0M1221 3677h0M1155 3710h0M1115 3735h0M1162 3702h0M1129 3724h0M1224 3680h0M1204 3751h0M1119 3889h0M1180 3663h0M1296 3625h0M1124 3653h0M1101 3707h0M1056 3841h0M1114 3759h0M1114 3834h0M1090 3864h0M1180 3693h0M1066 3732h0M1168 3671h0M1312 3491h0M1153 3605h0M1167 3660h0M1182 3786h0M1161 3626h0M1206 3653h0M1254 3651h0M1104 3711h0M1201 3652h0M1281 3536h0M1230 3615h0M1088 3835h0M1143 3704h0M1191 3631h0M1084 3584h0M1165 3691h0M1162 3720h0M1252 3642h0M1179 3706h0M1078 3701h0M1106 3717h0M1278 3559h0M1165 3750h0M1255 3660h0M1065 3716h0M1179 3765h0M1236 3658h0M1102 3764h0M1184 3665h0M1110 3767h0M1067 3732h0M1062 3712h0M1187 3676h0M1253 3661h0M1185 3630h0M1093 3832h0M1104 3750h0M1207 3640h0M1095 3784h0M1086 3764h0M1239 3701h0M1150 3712h0M1147 3813h0M1178 3703h0M1127 3695h0M1139 3672h0M1209 3657h0M1157 3690h0M1051 3788h0M1066 3794h0M1161 3678h0M1177 3754h0M1208 3657h0M1046 3738h0M1262 3602h0M1155 3706h0M1196 3685h0M1098 3760h0M1055 3726h0M1233 3625h0M1052 3844h0M1236 3681h0M1089 3704h0M1101 3703h0M1208 3640h0M1165 3863h0M1048 3775h0M1227 3636h0M1231 3662h0M1347 3428h0M1466 3489h0M1174 3954h0M1131 3956h0M1364 3672h0M1431 3511h0" stroke="#e0368f" stroke-width="7.6" stroke-linecap="round" fill="none"/><polyline transform="scale(.5)" points="354,4354 378,4356 233,4521 387,4384 241,4380 444,4427 378,4413 403,4344 306,4467 487,4352 475,4345 377,4322 342,4421 452,4387 283,4462 290,4441 329,4406 333,4398 492,4351 322,4414 230,4521 373,4397 255,4497 298,4396 225,4542 369,4394 287,4400 394,4389 281,4526 273,4518 340,4465 486,4405 630,4221 242,4499 277,4481 303,4298 463,4324 310,4299 237,4483 305,4500 234,4519 244,4405 407,4331 503,4300 363,4366 359,4470 430,4381 406,4389 227,4516 322,4470 265,4422 605,4223 313,4477 482,4327 445,4350 417,4421 283,4462 297,4450 340,4432 471,4337 645,4169 526,4364 467,4317 339,4476 273,4417 312,4444 478,4381 502,4367 390,4352 322,4383 461,4306 405,4272 275,4458 531,4340 316,4421 273,4447 279,4454 261,4442 337,4478 432,4318 321,4265 394,4355 256,4544 391,4420 297,4432 346,4353 354,4455 419,4417 450,4383 456,4362 431,4405 255,4390 414,4297 422,4394 259,4514 361,4403 316,4489 348,4390 346,4486 512,4269 454,4269 319,4417 351,4439 357,4400 395,4342 414,4371 266,4406 364,4410 479,4338 373,4391 226,4486 349,4408 362,4374 446,4224 278,4456 559,4268 440,4297 287,4438 296,4412 306,4407 381,4347 356,4382 248,4481 389,4407 353,4457 260,4480 272,4414 323,4420 383,4438 272,4450 467,4322 262,4527 354,4413 235,4488 384,4407 416,4363 268,4479 390,4341 359,4438 354,4469 309,4441 309,4443 414,4229 258,4394 288,4397 331,4450 445,4251 275,4539 430,4394 322,4310 367,4395 426,4269 399,4350 292,4518 393,4505 361,4432 306,4480 382,4383 520,4314 437,4329 440,4390 477,4330 436,4358 517,4269 349,4488 324,4333 318,4462 584,4231 349,4398 344,4313 392,4348 452,4359 294,4449 337,4436 358,4372 315,4264 504,4309 532,4308 471,4360 367,4444 234,4537 321,4413 427,4385 394,4319 233,4511 342,4401 418,4365 263,4521 370,4399 406,4242 250,4405 413,4377 287,4450 221,4350 262,4428 344,4332 291,4493 583,4266 456,4343 366,4450 483,4299 408,4394 236,4512 508,4210 304,4422 337,4374 365,4310 529,4327 392,4389 350,4409 439,4417 226,4532 336,4380 527,4246 353,4402 275,4417 367,4371 573,4223 216,4444 409,4411 321,4445 318,4392 259,4449 345,4395 399,4428 324,4432 407,4367 543,4290 335,4378 230,4444 405,4402 487,4301 370,4350 318,4427 418,4353 361,4390 424,4431 421,4302 396,4354 257,4513 343,4425 266,4303 302,4461 314,4396 407,4428 265,4505 339,4427 220,4459 264,4515 550,4325 251,4430 378,4414 234,4424 373,4368 266,4485 314,4366 384,4335 499,4310 445,4349 219,4533 282,4363 367,4459 500,4271 263,4431 363,4409 348,4439 519,4272 270,4417 528,4322 221,4507 362,4410 375,4419 338,4302 564,4108 248,4479 336,4388 318,4402 290,4382 215,4573 304,4424 409,4440 287,4472 291,4461 370,4422 312,4454 382,4348 271,4404 425,4411 385,4419 222,4497 429,4310 220,4439 352,4412 233,4547 389,4274 468,4325 455,4384 473,4316 309,4453 294,4316 282,4381 403,4291 344,4326 310,4398 353,4381 496,4270 599,4228 349,4410 392,4226 316,4482 306,4472 357,4431 285,4509 303,4473 372,4421 407,4331 277,4522 493,4329 428,4359 581,4288 397,4389 270,4468 466,4308 251,4475 395,4420 353,4387 368,4365 226,4539 299,4500 437,4451 318,4458 536,4284 468,4413 377,4417 315,4498 245,4442 232,4478 448,4391 327,4391 231,4350 258,4536 343,4409 392,4356 474,4354 437,4390 265,4437 302,4522 485,4326 427,4391 328,4462 243,4467 367,4452 486,4284 319,4349 296,4440 530,4329 510,4242 384,4383 385,4359 650,4206 295,4462 317,4367 583,4210 320,4429 493,4338 389,4431 298,4369 556,4288 316,4487 341,4523 350,4401 349,4431 270,4368 452,4400 279,4490 380,4398 302,4453 377,4408 360,4453 301,4391 540,4213 400,4396 605,4222 373,4404 297,4502 327,4457 225,4421 277,4457 428,4347 299,4444 305,4427 402,4386 276,4419 291,4487 430,4321 416,4251 254,4491 395,4360 291,4502 428,4366 310,4445 421,4379 409,4388 467,4346 351,4363 272,4509 429,4375 283,4476 236,4495 370,4371 307,4428 494,4348 313,4486 239,4450 343,4376 345,4371 229,4606 221,4425 338,4437 409,4427 382,4345 264,4393 345,4376 264,4450 268,4498 466,4354 260,4441 604,4260 367,4385 224,4473 401,4394 447,4330 502,4347 300,4389 351,4415 219,4482 301,4394 234,4495 464,4341 246,4529 314,4473 302,4499 273,4519 341,4425 490,4368 369,4387 362,4419 322,4433 360,4370 375,4443 251,4422 241,4433 388,4403 240,4527 571,4202 384,4353 410,4339 243,4471 385,4386 236,4474 300,4467 294,4484 235,4510 337,4318 352,4396 305,4438 228,4437 233,4461 257,4429 266,4502 384,4363 261,4403 464,4333 229,4496 263,4467 323,4442 512,4311 384,4391 324,4435 266,4538 412,4314 319,4486 373,4356 448,4439 335,4399 268,4451 304,4363 564,4279 546,4323 458,4362 404,4357 429,4369 383,4393 306,4488 459,4312 287,4465 285,4468 514,4147 417,4317 275,4486 453,4297 565,4221 407,4377 324,4390 220,4456 283,4349 275,4477 274,4434 309,4457 427,4342 274,4453 377,4411 380,4346 502,4265 404,4326 228,4530 418,4396 511,4265 342,4366 298,4520 621,4188 269,4454 486,4238 311,4459 500,4380 382,4380 398,4440 374,4367 459,4381 452,4356 440,4380 339,4457 231,4540 566,4337 383,4263 363,4326 545,4284 283,4502 390,4395 331,4461 288,4456 331,4377 325,4429 286,4480 294,4446 354,4351 376,4379 351,4425 393,4378 292,4468 367,4370 317,4503 398,4320 456,4439 241,4411 372,4406 510,4278 262,4428 469,4267 368,4358 224,4406 505,4314 232,4351 231,4480 279,4511 444,4405 431,4314 509,4191 259,4397 361,4383 346,4472 370,4427 299,4499 309,4451 261,4454 278,4456 457,4284 363,4389 442,4214 373,4388 399,4309 537,4312 450,4396 352,4403 463,4321 464,4347 344,4473 278,4475 390,4419 380,4381 268,4412 229,4439 475,4283 256,4493 418,4374 269,4501 335,4392 547,4263 473,4294 433,4376 430,4420 283,4468 463,4312 631,4203 416,4405 383,4434 237,4520 305,4445 443,4351 381,4341 297,4437 359,4479 306,4405 364,4360 480,4310 506,4298 243,4443 338,4485 449,4331 341,4440 371,4378 358,4399 396,4434 437,4306 472,4338 253,4474 536,4314 384,4236 275,4480 245,4434 321,4493 354,4419 339,4499 313,4369 299,4416 405,4430 488,4348 443,4376 342,4375 313,4424 364,4408 301,4421 441,4348 468,4357 422,4369 345,4316 310,4415 309,4505 555,4113 481,4373 245,4461 441,4252 303,4439 410,4362 292,4342 490,4343 477,4392 313,4491 363,4408 580,4243 436,4216 561,4269 501,4234 393,4338 621,4227 294,4446 599,4268 336,4447 369,4371 325,4350 379,4406 412,4456 303,4447 255,4507 403,4369 296,4457 324,4491 238,4516 519,4331 380,4389 605,4223 376,4352 623,4181 269,4379 433,4367 236,4431 383,4407 325,4423 395,4395 214,4518 609,4202 354,4471 283,4297 289,4461 412,4337 440,4346 365,4363 289,4399 204,4402 532,4283 402,4352 508,4337 436,4389 314,4429 234,4408 467,4294 265,4514 319,4393 239,4408 422,4369 261,4521 264,4469 313,4428 302,4487 510,4308 369,4363 435,4355 299,4420 339,4329 448,4334 419,4356 411,4250 387,4440 468,4356 340,4408 437,4315 255,4528 223,4530 640,4181 396,4375 504,4179 435,4364 513,4295 515,4333 334,4431 299,4427 315,4470 407,4375 273,4412 276,4390 386,4401 350,4443 269,4457 530,4319 268,4418 344,4371 249,4479 225,4506 406,4381 485,4353 392,4373 334,4419 338,4411 222,4441 218,4452 309,4390 312,4453 219,4502 351,4396 352,4341 399,4398 501,4279 400,4381 379,4373 372,4416 436,4313 546,4336 457,4319 268,4516 294,4310 277,4460 516,4307 279,4402 460,4337 508,4325 605,4218 311,4354 481,4343 351,4367 325,4475 325,4296 561,4325 348,4421 278,4406 238,4392 334,4419 326,4479 318,4378 406,4310 429,4389 361,4452 340,4479 283,4383 289,4413 349,4349 457,4400 355,4371 235,4546 413,4390 436,4356 375,4468 259,4544 390,4353 466,4293 335,4303 299,4483 611,4223 461,4376 308,4408 285,4508 422,4368 316,4497 351,4360 582,4275 426,4405 255,4505 493,4381 243,4529 332,4378 241,4467 490,4286 414,4370 582,4169 437,4427 341,4394 273,4350 265,4436 377,4434 477,4355 416,4416 381,4372 435,4331 372,4386 264,4453 407,4320 456,4359 250,4464 387,4355 595,4278 378,4447 261,4511 352,4335 398,4399 377,4392 345,4372 432,4373 268,4482 294,4489 502,4309 511,4316 235,4472 553,4185 335,4442 413,4457 262,4453 245,4478 347,4360 322,4431 451,4308 328,4406 266,4485 405,4390 532,4310 348,4436 231,4550 481,4309 398,4425 421,4310 283,4512 310,4461 320,4452 313,4419 581,4262 364,4426 314,4338 428,4358 602,4155 395,4446 335,4374 438,4301 339,4434 449,4343 341,4466 452,4389 388,4398 285,4372 352,4429 426,4350 548,4292 334,4416 265,4440 283,4512 338,4419 370,4376 293,4394 265,4479 268,4496 270,4440 346,4405 241,4515 276,4460 314,4424 498,4321 404,4268 589,4245 264,4456 346,4394 440,4353 276,4462 450,4377 403,4280 305,4434 504,4316 364,4400 364,4314 438,4419 459,4385 302,4351 301,4432 489,4323 277,4343 390,4311 312,4421 441,4300 218,4451 285,4474 237,4447 352,4395 311,4441 262,4462 280,4423 384,4470 555,4289 404,4363 330,4425 306,4459 296,4452 409,4307 561,4265 334,4369 478,4344 406,4361 339,4381 454,4425 380,4400 377,4392 279,4281 404,4411 236,4524 491,4240 281,4416 351,4430 284,4492 361,4454 428,4358 235,4561 434,4295 303,4471 438,4192 482,4253 584,4259 434,4443 361,4483 388,4379 264,4377 352,4372 312,4453 308,4448 279,4458 595,4230 311,4443 410,4429 434,4357 315,4445 289,4435 337,4426 363,4436 294,4493 463,4402 360,4364 433,4389 223,4446 365,4442 395,4486 300,4419 286,4527 311,4437 404,4368 303,4468 455,4376 400,4442 268,4407 543,4244 376,4391 273,4448 349,4318 300,4410 393,4366 285,4468 344,4373 253,4518 311,4428 304,4429 516,4288 324,4488 289,4455 513,4352 278,4483 312,4515 343,4407 394,4347 394,4433 257,4454 296,4497 313,4489 470,4262 374,4407 345,4184 533,4283 288,4388 400,4305 294,4233 389,4361 414,4372 420,4414 298,4390 260,4435 310,4414 320,4392 463,4322 325,4432 453,4366 439,4305 401,4290 356,4354 237,4423 612,4193 374,4416 336,4381 455,4421 390,4188 339,4336 411,4428 312,4442 320,4405 467,4294 340,4499 251,4319 335,4334 285,4420 571,4261 319,4501 500,4315 383,4418 344,4437 265,4279 242,4477 223,4498 390,4359 531,4278 405,4390 357,4432 457,4352 409,4358 384,4314 435,4389 379,4193 369,4408 435,4322 442,4391 372,4416 582,4299 416,4173 426,4333 274,4445 348,4331 505,4270 323,4393 423,4390 268,4416 374,4353 445,4390 327,4443 538,4251 309,4426 398,4321 431,4365 533,4289 339,4450 411,4326 184,4460 243,4483 437,4368 267,4417 457,4336 343,4417 500,4337 278,4385 286,4418 346,4355 336,4422 301,4446 341,4390 559,4246 444,4355 313,4442 320,4385 249,4533 335,4447 406,4344 487,4373 242,4463 373,4433 330,4317 368,4403 243,4487 405,4405 473,4342 475,4354 355,4441 502,4366 291,4375 342,4430 374,4326 324,4458 373,4460 404,4431 303,4422 237,4429 307,4386 361,4315 531,4258 321,4444 561,4303 584,4248 283,4436 506,4312 387,4374 298,4480 546,4310 485,4313 317,4419 405,4293 303,4414 350,4365 339,4421 266,4451 357,4374 213,4465 515,4357 254,4405 473,4305 245,4390 465,4329 534,4226 214,4471 318,4387 392,4439 357,4334 322,4479 414,4378 406,4322 348,4487 309,4459 336,4387 471,4348 555,4285 274,4416 360,4408 274,4372 292,4383 413,4349 402,4398 306,4454 237,4482 233,4487 326,4453 351,4404 375,4327 257,4398 267,4265 284,4354 294,4441 377,4353 244,4543 356,4427 304,4442 310,4502 380,4398 353,4272 227,4503 415,4423 402,4408 480,4322 425,4412 359,4404 410,4406 381,4405 327,4435 365,4421 318,4354 294,4405 356,4402 372,4399 253,4461 307,4453 238,4469 301,4485 361,4414 338,4404 362,4426 368,4445 222,4441 610,4211 497,4323 378,4372 381,4375 412,4383 473,4390 315,4427 439,4333 452,4364 398,4375 387,4445 392,4365 309,4339 388,4455 309,4508 288,4537 367,4369 256,4480 329,4443 480,4314 319,4451 255,4414 406,4394 256,4430 299,4436 367,4230 392,4403 301,4462 377,4367 337,4479 277,4414 277,4511 453,4397 307,4414 348,4463 436,4366 392,4359 352,4394 343,4442 396,4439 525,4293 327,4461 304,4354 401,4444 523,4313 241,4483 244,4482 389,4276 408,4329 301,4508 588,4233 521,4177 300,4403 476,4352 276,4418 535,4281 383,4392 286,4482 448,4385 228,4497 441,4363 392,4379 265,4425 391,4431 368,4376 500,4264 528,4284 297,4458 395,4345 616,4222 519,4257 367,4342 482,4390 390,4382 235,4414 318,4432 483,4340 455,4346 235,4439 482,4287 289,4492 298,4469 402,4377 364,4446 380,4392 296,4445 435,4314 250,4496 348,4359 400,4397 446,4314 335,4413 452,4343 300,4383 439,4369 434,4337 611,4362 310,4419 268,4504 430,4328 320,4464 361,4387 229,4565 404,4403 276,4451 321,4379 306,4472 212,4318 436,4319 471,4299 402,4343 373,4353 516,4314 382,4378 555,4325 338,4410 381,4356 429,4283 266,4443 371,4355 319,4418 336,4470 554,4282 321,4383 267,4534 235,4438 301,4446 429,4333 324,4384 293,4401 314,4493 465,4355 362,4403 224,4453 263,4508 461,4302 458,4336 555,4241 270,4505 326,4404 371,4373 298,4404 353,4374 480,4297 385,4387 516,4323 311,4421 454,4391 374,4370 414,4344 353,4521 337,4369 546,4263 291,4375 634,4121 328,4438 323,4420 352,4349 279,4501 312,4461 183,4459 322,4403 354,4422 327,4460 482,4390 236,4418 243,4504 288,4419 238,4438 328,4455 446,4395 422,4326 335,4484 310,4415 498,4362 386,4404 290,4514 343,4451 270,4478 270,4545 343,4417 426,4351 475,4414 393,4396 423,4371 447,4287 324,4382 395,4247 450,4295 218,4417 450,4420 399,4368 237,4470 238,4524 234,4550 282,4504 507,4364 342,4362 382,4357 319,4363 359,4402 346,4473 442,4375 456,4395 466,4413 327,4416 370,4348 247,4454 371,4361 291,4405 301,4372 474,4293 318,4452 341,4390 277,4484 284,4428 302,4453 342,4447 511,4258 529,4228 280,4453 235,4442 320,4460 295,4482 305,4308 239,4385 240,4412 480,4397 425,4362 298,4397 416,4379 423,4369 468,4298 545,4173 289,4397 320,4421 573,4317 307,4456 567,4294 505,4358 356,4461 314,4498 318,4434 301,4440 279,4392 275,4360 323,4435 294,4497 411,4362 379,4362 379,4409 464,4305 226,4480 232,4419 446,4325 254,4461 213,4527 422,4370 551,4304 330,4415 265,4478 423,4303 408,4349 405,4403 258,4537 339,4471 380,4359 451,4326 356,4375 505,4380 254,4452 363,4301 479,4296 322,4323 342,4442 363,4381 364,4363 569,4280 291,4466 261,4463 359,4436 293,4449 433,4274 221,4498 292,4513 272,4422 419,4384 420,4330 242,4451 219,4470 515,4306 268,4457 252,4518 199,4447 447,4369 285,4433 419,4443 293,4412 332,4467 344,4418 295,4436 453,4345 379,4363 319,4385 262,4382 374,4429 561,4248 264,4499 501,4342 344,4375 297,4429 262,4398 285,4498 220,4479 459,4348 330,4474 560,4291 476,4295 368,4350 555,4325 309,4354 250,4366 447,4419 394,4309 507,4231 457,4336 419,4349 283,4326 356,4480 312,4444 552,4239 457,4357 390,4374 334,4461 251,4474 250,4495 477,4314 535,4332 482,4316" fill="none" stroke="none" marker-start="url(#sq)" marker-mid="url(#sq)" marker-end="url(#sq)"/><path transform="scale(.5)" d="M436 4379h0M442 4386h0M354 4428h0M320 4428h0M311 4436h0M369 4418h0M325 4463h0M339 4434h0M523 4327h0M311 4426h0M284 4434h0M513 4332h0M344 4390h0M394 4375h0M406 4369h0M317 4468h0M312 4446h0M389 4392h0M246 4448h0M464 4343h0M369 4393h0M484 4326h0M307 4444h0M406 4392h0M345 4382h0M560 4294h0M268 4467h0M327 4449h0M362 4419h0M232 4451h0M372 4404h0M363 4414h0M423 4365h0M398 4379h0M233 4515h0M504 4314h0M321 4451h0M261 4490h0M492 4342h0M435 4394h0M404 4363h0M283 4464h0M626 4194h0M384 4367h0M423 4359h0M554 4271h0M549 4315h0M258 4500h0M285 4481h0M542 4269h0M221 4460h0M553 4293h0M405 4386h0M415 4393h0M305 4445h0M390 4304h0M260 4485h0M516 4319h0M369 4381h0M537 4287h0M367 4395h0M419 4348h0M410 4343h0M250 4469h0M268 4475h0M344 4445h0M346 4421h0M344 4428h0M354 4419h0M499 4288h0M321 4456h0M389 4379h0M337 4437h0M231 4472h0M399 4402h0M328 4428h0M522 4308h0M535 4264h0M560 4242h0M378 4379h0M216 4522h0M396 4369h0M361 4445h0M427 4375h0M250 4489h0M535 4307h0M359 4383h0M357 4443h0M291 4428h0M545 4210h0M414 4385h0M639 4192h0M243 4457h0M343 4424h0M273 4434h0M336 4403h0M411 4343h0M458 4370h0M280 4466h0M543 4283h0M224 4477h0M464 4359h0M268 4431h0M464 4350h0M481 4320h0M320 4440h0M325 4460h0M371 4393h0M410 4379h0M241 4478h0M339 4431h0M442 4365h0M326 4415h0M549 4267h0M556 4258h0M248 4489h0M291 4446h0M371 4399h0M552 4281h0M387 4420h0M257 4482h0M326 4414h0M534 4264h0M473 4307h0M307 4445h0M365 4399h0M373 4396h0M564 4269h0M259 4440h0M276 4473h0M428 4360h0M292 4416h0M524 4337h0M418 4380h0M558 4275h0M314 4430h0M565 4260h0M601 4253h0M355 4421h0M455 4316h0M308 4459h0M342 4401h0M392 4381h0M478 4320h0M469 4310h0M285 4467h0M315 4405h0M418 4342h0M344 4404h0M313 4428h0M444 4333h0M311 4436h0M359 4412h0M544 4320h0M291 4378h0M374 4401h0M491 4326h0M598 4262h0M402 4373h0M269 4490h0M513 4321h0M415 4384h0M242 4513h0M344 4460h0M509 4252h0M279 4420h0M317 4400h0M253 4423h0M281 4444h0M607 4212h0M376 4373h0M385 4402h0M251 4452h0M328 4373h0M441 4350h0M296 4460h0M269 4451h0M383 4363h0M293 4327h0M327 4416h0M403 4420h0M437 4375h0M330 4390h0M270 4484h0M477 4343h0M277 4442h0M378 4410h0M168 4518h0M238 4457h0M309 4438h0M524 4317h0M325 4414h0M364 4374h0M230 4508h0M519 4279h0M457 4314h0M252 4459h0M295 4453h0M268 4489h0M221 4469h0M243 4480h0M480 4317h0M243 4493h0M248 4446h0M507 4273h0M414 4414h0M478 4335h0M533 4309h0M269 4475h0M254 4486h0M357 4414h0M288 4480h0M475 4330h0M615 4199h0M451 4376h0M358 4395h0M426 4369h0M441 4395h0M251 4462h0M266 4481h0M526 4269h0M289 4418h0M410 4374h0M364 4413h0M499 4287h0M287 4481h0M317 4420h0M300 4482h0M289 4455h0M468 4338h0M224 4491h0M656 4208h0M363 4404h0M444 4393h0M410 4393h0M312 4414h0M396 4396h0M388 4366h0M433 4406h0M526 4293h0M386 4381h0M243 4457h0M583 4250h0M274 4451h0M536 4305h0M488 4386h0M490 4292h0M295 4466h0M351 4420h0M275 4486h0M441 4380h0M471 4342h0M292 4471h0M414 4354h0M294 4411h0M317 4464h0M578 4237h0M396 4405h0M438 4328h0M254 4466h0M317 4423h0M297 4418h0M311 4413h0M360 4419h0M290 4432h0M334 4424h0M545 4283h0M367 4420h0M273 4444h0M434 4385h0M268 4477h0M372 4404h0M226 4521h0M244 4454h0M448 4364h0M432 4399h0M596 4259h0M287 4449h0M245 4468h0M370 4413h0M412 4345h0M252 4472h0M360 4388h0M493 4313h0M253 4490h0M417 4358h0M287 4426h0M265 4463h0M236 4483h0M292 4462h0M378 4425h0M606 4221h0M255 4427h0M354 4426h0M343 4417h0M387 4389h0M460 4336h0M261 4432h0M402 4401h0M269 4450h0M500 4309h0M463 4363h0M348 4421h0M239 4445h0M355 4431h0M574 4287h0M457 4346h0M268 4451h0M290 4421h0M332 4396h0M477 4299h0M499 4338h0M267 4483h0M454 4317h0M286 4479h0M345 4403h0M420 4388h0M226 4471h0M290 4447h0M272 4439h0M466 4332h0M354 4416h0M517 4302h0M272 4477h0M549 4294h0M605 4219h0M436 4384h0M299 4460h0M297 4459h0M276 4465h0M281 4455h0M415 4353h0M296 4480h0M294 4486h0M347 4410h0M256 4478h0M323 4425h0M479 4314h0M432 4369h0M480 4325h0M344 4388h0M543 4294h0M408 4388h0M389 4400h0M431 4354h0M237 4464h0M391 4399h0M400 4349h0M413 4341h0M408 4351h0M306 4430h0M410 4376h0M326 4456h0M392 4421h0M324 4428h0M218 4473h0M248 4452h0M478 4333h0M498 4316h0M320 4336h0M227 4503h0M376 4393h0M339 4398h0M298 4435h0M254 4505h0M415 4383h0M304 4466h0M427 4390h0M482 4308h0M465 4354h0M340 4438h0M451 4336h0M462 4359h0M277 4485h0M402 4369h0M525 4292h0M371 4432h0M392 4386h0M582 4264h0M301 4435h0M441 4370h0M229 4499h0M320 4465h0M419 4369h0M401 4396h0M512 4200h0M336 4444h0M249 4450h0M296 4468h0M502 4314h0M614 4223h0M464 4353h0M354 4410h0M254 4482h0M628 4192h0M274 4450h0M277 4448h0M411 4404h0M490 4339h0M287 4429h0M430 4379h0M382 4394h0M585 4266h0M354 4413h0M311 4433h0M229 4485h0M484 4319h0M568 4253h0M254 4444h0M403 4385h0M439 4333h0M607 4218h0M321 4443h0M407 4407h0M317 4428h0M236 4492h0M229 4480h0M497 4326h0M348 4391h0M426 4343h0M492 4302h0M231 4477h0M289 4472h0M388 4402h0M318 4397h0M360 4360h0M366 4388h0M387 4429h0M292 4453h0M284 4426h0M384 4387h0M280 4446h0M511 4286h0M324 4415h0M281 4452h0M295 4452h0M248 4452h0M350 4402h0M416 4395h0M392 4389h0M289 4458h0M426 4363h0M450 4349h0M350 4452h0M534 4240h0M402 4369h0M341 4428h0M330 4455h0M230 4493h0M438 4365h0M378 4386h0M465 4369h0M240 4481h0M418 4406h0M284 4476h0M263 4501h0M327 4402h0M391 4396h0M244 4484h0M333 4389h0M492 4331h0M398 4387h0M271 4496h0M428 4369h0M440 4351h0M298 4440h0M311 4419h0M398 4376h0M259 4479h0M458 4341h0M271 4465h0M296 4461h0M412 4402h0M570 4256h0M349 4382h0M541 4322h0M341 4434h0M367 4419h0M622 4114h0M529 4287h0M416 4393h0M275 4456h0M426 4346h0M368 4421h0M276 4474h0M301 4445h0M311 4430h0M369 4374h0M332 4454h0M298 4424h0M279 4435h0M440 4333h0M336 4405h0M571 4249h0M402 4381h0M252 4470h0M354 4378h0M353 4408h0M221 4509h0M253 4483h0M564 4269h0M331 4462h0M535 4315h0M377 4412h0M323 4458h0M441 4325h0M555 4282h0M358 4388h0M280 4484h0M254 4485h0M393 4358h0M374 4390h0M245 4499h0M371 4395h0M302 4462h0M502 4296h0M489 4312h0M491 4299h0M596 4229h0M426 4373h0M566 4250h0M580 4213h0M236 4488h0M328 4424h0M564 4310h0M572 4197h0M319 4418h0M333 4413h0M422 4390h0M224 4462h0M513 4292h0M365 4438h0M457 4354h0M326 4367h0M243 4455h0M315 4432h0M406 4319h0M233 4467h0M256 4459h0M463 4362h0M424 4363h0M231 4472h0M291 4489h0M517 4332h0M401 4381h0M332 4416h0M456 4336h0M291 4438h0" stroke="#4a7dbd" stroke-width="7.6" stroke-linecap="round" fill="none"/><polyline transform="scale(.5)" points="1154,4313 1272,4281 1345,4223 1184,4336 1100,4380 1153,4296 1075,4455 1179,4424 1104,4370 1118,4346 1159,4359 1253,4323 1083,4418 1062,4425 1197,4323 1208,4312 1107,4476 1396,4191 1138,4351 1279,4281 1199,4285 1179,4278 1044,4539 1257,4235 1187,4317 1338,4215 1128,4333 1069,4385 1265,4237 1166,4370 1094,4418 1154,4304 1215,4394 1182,4270 1198,4304 1244,4279 1264,4288 1287,4274 1057,4517 1112,4417 1195,4289 1190,4362 1235,4332 1256,4335 1063,4313 1159,4310 1125,4400 1313,4197 1196,4356 1336,4056 1310,4207 1079,4490 1257,4262 1294,4225 1129,4274 1203,4335 1229,4258 1181,4424 1192,4422 1001,4407 1290,4298 1236,4175 1107,4375 1217,4353 1241,4319 1180,4397 1159,4452 1120,4356 1336,4209 1120,4384 1382,4198 1180,4272 1095,4439 1407,4199 1108,4504 1112,4428 1134,4339 1075,4447 1135,4193 1099,4483 1163,4365 1097,4378 1198,4304 1250,4340 1037,4345 1122,4423 1117,4416 1185,4293 1182,4280 1131,4387 1045,4448 1115,4324 1157,4438 1044,4469 1209,4343 1216,4238 1136,4417 1185,4310 1071,4456 1383,4133 1117,4411 1077,4507 1369,4161 1221,4326 1225,4262 1164,4375 1134,4331 1102,4376 1125,4547 1131,4412 1109,4354 1094,4450 1217,4351 1200,4243 1351,4245 1215,4205 1069,4390 1198,4252 1164,4333 1200,4327 1208,4410 1304,4195 1157,4415 1279,4232 1064,4430 1122,4399 1302,4228 1172,4387 1313,4396 1089,4366 1141,4339 1073,4399 1148,4411 1059,4389 1168,4409 1104,4515 1107,4348 1288,4290 1262,4329 1309,4234 1159,4432 1185,4368 1225,4277 1075,4292 1241,4393 1087,4367 1107,4485 1095,4339 1167,4392 1292,4263 1193,4330 1153,4333 1069,4436 1227,4290 1188,4349 1030,4411 1192,4414 1009,4560 1098,4340 1179,4311 1271,4255 1121,4370 1160,4383 1273,4318 1192,4322 1144,4343 1117,4371 1166,4183 1140,4263 1155,4282 1181,4344 1110,4511 1218,4253 1064,4393 1095,4395 1151,4369 1151,4306 1184,4420 1293,4277 1229,4359 1318,4188 1114,4382 1116,4443 1153,4403 1287,4264 1093,4344 1163,4393 1042,4434 1082,4408 1205,4333 1271,4277 1105,4414 1145,4283 1115,4466 1095,4396 1218,4370 1145,4380 1090,4420 1103,4317 1110,4476 1268,4250 1201,4422 1245,4393 1136,4469 1104,4397 1078,4388 1230,4349 1258,4210 1083,4424 1294,4264 1314,4210 1141,4267 1268,4272 1131,4475 1176,4287 1242,4310 1142,4465 1142,4323 1193,4269 1257,4390 1283,4284 1094,4402 1093,4450 1253,4310 1296,4294 1091,4413 1399,4185 1151,4342 1225,4331 1201,4445 1161,4408 1171,4323 1209,4413 1200,4316 1308,4204 1157,4372 1273,4311 1189,4347 1211,4415 1100,4351 1207,4361 1144,4421 1209,4322 1239,4311 1291,4315 1143,4371 1115,4329 1291,4271 1067,4515 1347,4240 1120,4381 1164,4417 1243,4261 1190,4218 1157,4354 1174,4334 1352,4207 1113,4301 1233,4284 1137,4426 1056,4506 1106,4406 1181,4409 1204,4374 1203,4357 1065,4451 1065,4347 1241,4230 1170,4213 1405,4185 1098,4414 1248,4243 1162,4385 1105,4325 1139,4375 1156,4476 1121,4369 1067,4474 1286,4164 1112,4380 1205,4448 1103,4440 1075,4453 1068,4493 1110,4498 1243,4246 1242,4317 1026,4441 1130,4433 1072,4465 1124,4371 1296,4246 1116,4349 1321,4249 1145,4305 1212,4394 1117,4422 1183,4354 1262,4371 1167,4289 1165,4418 1098,4494 1181,4381 1212,4306 1073,4468 1220,4320 1238,4301 1190,4398 1182,4374 1232,4269 1127,4352 1242,4294 1246,4437 1268,4266 1065,4354 1131,4370 1316,4241 1183,4329 1255,4240 1257,4212 1133,4397 1138,4333 1137,4463 1224,4303 1160,4428 1244,4326 1102,4366 1199,4372 1148,4336 1116,4484 1218,4341 1102,4411 1125,4369 1132,4430 1087,4453 1190,4286 1072,4454 1168,4423 1213,4379 1184,4322 1269,4285 1168,4487 1092,4271 1169,4259 1171,4381 1166,4351 1140,4303 1043,4351 1096,4412 1120,4357 1174,4368 1175,4361 1163,4408 1335,4193 1126,4458 1077,4493 1224,4329 1229,4229 1053,4394 1245,4351 1100,4354 1162,4377 1068,4358 1051,4553 1117,4349 1129,4460 1318,4221 1081,4521 1192,4370 1191,4373 1350,4307 1121,4505 1259,4290 1069,4583 1387,4194 1132,4406 1099,4339 1182,4335 1130,4530 1220,4319 1026,4491 1148,4398 1298,4202 1163,4306 1176,4406 1269,4279 1188,4384 1264,4249 1209,4331 1165,4387 1117,4558 1175,4318 1111,4340 1187,4269 1169,4417 1123,4455 1196,4313 1098,4299 1230,4340 1159,4330 1119,4423 1153,4322 1308,4251 1094,4509 1132,4347 1269,4286 1330,4215 1039,4462 1110,4501 1236,4332 1120,4372 1279,4295 1134,4298 1145,4455 1337,4276 1167,4456 1100,4479 1222,4300 1079,4486 1295,4195 1081,4398 1001,4397 1172,4392 1174,4324 1203,4346 1175,4423 1138,4376 1134,4424 1072,4453 1156,4436 1247,4272 1205,4321 1216,4312 1099,4378 1343,4226 1134,4296 1212,4321 1128,4354 1216,4270 1326,4124 1119,4346 1229,4307 1090,4400 1079,4485 1179,4332 1249,4395 1053,4481 1090,4436 1089,4458 1056,4424 1110,4295 1137,4317 1144,4402 1300,4159 1236,4304 1145,4405 1320,4211 1241,4364 1299,4299 1165,4444 1222,4321 1315,4240 1191,4330 1142,4335 1030,4344 1249,4306 1154,4275 1370,4202 1247,4286 1169,4381 1267,4299 1069,4386 1233,4377 1173,4301 1145,4456 1412,4156 1060,4336 1189,4361 1086,4490 1101,4363 1147,4376 1180,4462 1165,4400 1085,4401 1192,4283 1191,4325 1282,4277 1198,4325 1186,4449 1255,4290 1080,4377 1258,4391 1198,4407 1301,4210 1120,4369 1206,4305 1306,4262 1225,4310 1066,4426 1033,4457 1198,4365 1243,4269 1228,4359 1083,4383 1153,4285 1187,4317 1085,4363 1226,4205 1149,4475 1108,4348 1225,4244 1131,4445 1250,4322 1246,4418 1079,4443 1170,4477 1272,4291 1102,4438 1185,4308 1219,4328 1191,4475 1181,4414 1171,4427 1225,4375 1127,4455 1104,4350 1121,4325 1375,4199 1275,4328 1108,4377 1227,4302 1092,4372 1232,4270 1281,4190 1128,4365 1292,4305 1092,4430 1286,4216 1107,4487 1265,4259 1150,4308 1144,4339 1139,4353 1173,4355 1195,4430 1191,4213 1063,4439 1064,4461 1074,4565 1149,4392 1101,4484 1191,4396 1271,4254 1048,4514 1197,4340 1113,4423 1074,4507 1132,4460 1076,4300 1206,4508 1193,4374 1175,4401 1065,4422 1261,4349 1115,4502 1070,4500 1113,4359 1156,4448 1108,4293 1236,4308 1163,4358 1070,4447 1166,4451 1156,4277 1091,4418 1066,4448 1248,4300 1297,4282 1268,4329 1118,4350 1087,4358 1282,4222 1180,4478 1189,4366 1312,4304 1111,4436 1034,4483 1303,4171 1180,4319 1222,4298 1153,4415 1125,4411 1165,4400 1264,4281 1088,4418 1052,4475 1110,4583 1174,4378 1115,4428 1117,4500 1061,4364 1128,4376 1122,4376 1080,4359 1176,4359 1255,4264 1220,4281 1243,4295 1232,4374 1113,4428 1099,4452 1260,4304 1222,4291 1082,4477 1166,4499 1319,4176 1231,4294 1037,4493 1122,4499 1059,4395 1165,4381 1246,4249 1199,4380 1241,4228 1145,4470 1130,4451 1328,4125 1302,4279 1162,4412 1251,4335 1187,4324 1305,4333 1129,4454 1131,4392 1105,4388 1083,4361 1318,4256 1156,4478 1241,4344 1270,4190 1133,4399 1250,4320 1156,4377 1211,4415 1292,4310 1117,4440 1205,4288 1120,4387 1165,4397 1120,4476 1102,4335 1109,4478 1278,4309 1297,4328 1311,4255 1329,4233 1083,4396 1287,4356 1170,4428 1138,4419 1189,4359 1078,4352 1215,4341 1172,4313 1131,4332 1092,4215 1248,4289 1076,4409 1164,4403 1159,4362 1102,4374 1301,4245 1231,4318 1247,4280 1198,4415 1079,4451 1270,4326 1080,4417 1319,4185 1105,4336 1069,4491 1236,4298 1101,4257 1155,4369 1049,4428 1261,4322 1306,4291 1362,4222 1262,4294 1136,4390 1149,4279 1221,4399 1268,4402 1070,4329 1123,4309 1237,4347 1172,4357 1094,4369 1182,4373 1228,4191 1156,4375 1322,4261 1097,4470 1066,4288 1046,4494 1160,4352 1210,4433 1225,4339 1275,4299 1192,4326 1209,4412 1041,4506 1110,4489 1109,4482 1088,4295 1187,4401 1150,4399 1312,4268 1193,4437 1161,4324 1090,4417 1057,4514 1190,4417 1262,4256 1304,4258 1134,4365 1295,4266 1135,4451 1149,4473 1231,4372 1138,4481 1269,4278 1207,4315 1288,4268 1097,4443 1288,4216 1144,4369 1342,4214 1182,4308 1301,4296 1091,4519 1153,4319 1263,4165 1212,4294 1153,4297 1277,4341 1163,4408 1193,4452 1145,4378 1087,4454 1218,4261 1099,4420 1171,4362 1071,4443 1188,4320 1158,4417 1291,4238 1226,4304 1249,4217 1069,4362 1058,4522 1205,4297 1261,4262 1260,4265 1148,4450 1228,4403 1125,4451 1111,4370 1145,4367 1055,4420 1175,4398 1106,4464 1179,4449 1121,4542 1205,4342 1314,4173 1192,4304 1253,4322 1102,4444 1237,4324 1231,4281 1237,4333 1204,4345 1132,4469 1365,4170 1185,4317 1269,4318 1090,4338 1206,4305 1111,4363 1127,4353 1090,4505 1196,4350 1115,4414 1131,4348 1168,4436 1197,4354 1238,4268 1258,4262 1084,4344 1048,4425 1089,4444 1143,4355 1283,4353 1347,4271 1037,4500 1046,4474 1146,4363 1083,4443 1138,4433 1150,4337 1128,4326 1206,4281 1214,4374 1260,4367 1190,4332 1173,4328 1201,4289 1202,4411 1135,4403 1267,4309 1248,4210 1209,4279 1117,4511 1098,4402 1091,4377 1228,4240 1040,4372 1099,4280 1261,4280 1232,4331 1074,4476 1133,4428 1027,4502 1351,4236 1143,4300 1103,4417 1231,4337 1206,4263 1176,4380 1251,4177 1030,4396 1186,4327 1141,4397 1173,4399 1201,4475 1258,4379 1053,4494 1254,4227 1134,4360 1079,4427 1108,4420 1125,4412 1071,4312 1077,4370 1084,4516 1154,4336 1246,4300 1189,4364 1227,4382 1163,4403 1168,4455 1346,4195 1167,4396 1075,4531 1143,4347 1117,4475 1022,4434 1098,4411 1161,4384 1292,4244 1089,4507 1248,4301 1239,4254 1255,4267 1238,4302 1045,4395 1221,4315 1350,4094 1202,4339 1150,4255 1252,4330 1322,4229 1188,4391 1101,4373 1089,4266 1187,4435 1081,4369 1115,4373 1324,4256 1129,4425 1129,4362 1059,4460 1111,4356 1134,4351 1149,4337 1226,4307 1143,4418 1130,4412 1237,4291 1099,4374 1204,4389 1178,4287 1051,4431 1119,4527 1180,4301 1125,4339 1124,4291 1279,4281 1279,4224 1035,4431 1219,4319 1061,4514 1129,4396 1314,4262 1101,4345 1199,4335 1106,4500 1159,4387 1056,4479 1237,4399 1114,4397 1114,4472 1243,4320 1090,4405 1077,4443 1061,4548 1176,4280 1090,4502 1151,4430 1069,4548 1180,4331 1066,4370 1193,4371 1168,4309 1068,4535 1267,4234 1110,4369 1090,4461 1064,4401 1237,4291 1176,4399 1312,4129 1082,4387 1234,4356 1293,4274 1187,4460 1153,4243 1245,4371 1113,4382 1171,4389 1167,4298 1057,4480 1104,4500 1182,4424 1161,4264 1111,4385 1119,4359 1245,4289 1280,4218 1319,4226 1206,4291 1254,4289 1158,4415 1214,4345 1126,4442 1218,4402 1316,4243 1198,4234 1255,4328 1049,4502 1167,4322 1344,4236 1089,4485 1285,4329 1208,4281 1104,4349 1049,4511 1126,4420 1228,4254 1201,4290 1117,4378 1281,4174 1284,4259 1175,4343 1301,4228 1245,4346 1212,4430 1154,4413 1230,4253 1088,4473 1058,4401 1325,4215 1284,4236 1161,4373 1237,4350 1216,4412 1166,4414 1076,4416 1115,4470 1143,4342 1112,4453 1060,4441 1046,4344 1149,4394 1071,4353 1191,4269 1084,4222 1305,4294 1165,4329 1111,4429 1162,4358 1250,4185 1139,4441 1029,4435 1143,4454 1252,4280 1135,4301 1131,4406 1095,4534 1145,4490 1028,4381 1179,4387 1081,4460 1078,4339 1136,4501 1136,4427 1234,4376 1106,4355 1045,4421 1117,4342 1119,4375 1347,4199 1278,4197 1148,4494 1219,4432 1172,4399 1159,4426 1251,4363 1112,4477 1061,4315 1153,4278 1129,4374 1154,4500 1151,4429 1260,4262 1344,4062 1082,4517 1277,4235 1176,4290 1287,4221 1257,4209 1221,4331 1134,4440 1186,4377 1136,4341 1235,4184 1065,4354 1234,4285 1335,4211 1179,4403 1117,4360 1236,4296 1262,4317 1104,4442 1102,4402 1172,4320 1099,4481 1169,4268 1138,4401 1087,4339 1272,4278 1108,4497 1119,4420 1247,4317 1138,4255 1210,4320 1184,4303 1240,4332 1160,4402 1152,4440 1248,4189 1196,4319 1085,4511 1046,4435 1243,4244 1056,4398 1261,4314 1171,4417 1115,4461 1163,4451 1005,4430 1106,4313 1154,4460 1094,4300 1110,4405 1254,4309 1066,4498 1226,4334 1143,4481 1067,4370 1159,4401 1171,4431 1187,4234 1285,4312 1208,4375 1069,4443 1062,4350 1187,4314 1135,4344 1217,4323 1253,4299 1210,4335 1209,4306 1289,4257 1185,4268 1171,4362 1263,4419 1184,4372 1119,4382 1132,4408 1116,4382 1264,4257 1093,4470 1209,4338 1104,4388 1195,4388 1140,4456 1293,4255 1209,4357 1308,4236 1118,4362 1124,4324 1151,4342 1074,4391 1229,4273 1171,4289 1209,4373 1257,4316 1167,4406 1277,4353 1207,4278 1095,4422 1212,4354 1269,4334 1271,4304 1086,4402 1210,4266 1164,4384 1033,4445 1060,4476 1177,4380 1074,4317 1229,4363 1239,4339 1143,4407 1269,4287 1222,4348 1150,4350 1147,4451 1273,4287 1221,4391 1297,4266 1082,4263 1178,4341 1141,4448 1171,4397 1287,4249 1121,4278 1279,4259 1123,4389 1127,4333 1139,4310 1297,4251 1060,4491 1112,4501 1086,4358 1177,4365 1109,4495 1048,4426 1255,4279 1209,4295 1076,4410 1157,4328 1106,4408 1298,4311 1309,4244 1237,4404 1066,4432 1161,4316 1135,4371 1098,4420 1228,4301 1136,4379 1077,4477 1219,4254 1332,4266 1177,4392 1119,4476 1173,4375 1183,4421 1251,4300 1173,4346 1135,4462 1338,4224 1258,4209 1208,4295 994,4411 1147,4367 1066,4401 1201,4425 1046,4376 1169,4326 1242,4253 1151,4308 1251,4377 1072,4308 1094,4365 1262,4240 1199,4318 1178,4300 1155,4344 1216,4360 1088,4382 1068,4474 1069,4430 1220,4241 1188,4234 1236,4376 1148,4377 1098,4398 1184,4265 1404,4168 1055,4364 1096,4415 1103,4489 1172,4369 1153,4295 1141,4465 1201,4360 1233,4263 1111,4425 1292,4238 1058,4353 1315,4247 1132,4411 1030,4514 1164,4340 1171,4425 1236,4319 1108,4304 1089,4342 1088,4413 1267,4307 1111,4392 1120,4451 1191,4350 1243,4393 1060,4548 1238,4405 1077,4447 1074,4382 1213,4289 1255,4220 1101,4341 1130,4371 1208,4278 1250,4314 1117,4379 1261,4327 1085,4470 1165,4501 1163,4444 1199,4360 1048,4413 1235,4243 1273,4343 1088,4424 1183,4444 1061,4538 1099,4376 1150,4392 1205,4342 1203,4439 1248,4305 1183,4383 1173,4349 1216,4381 1227,4274 1282,4271 1231,4300 1153,4307 1168,4359 1141,4341 1182,4482 1250,4314 1216,4326" fill="none" stroke="none" marker-start="url(#sq)" marker-mid="url(#sq)" marker-end="url(#sq)"/><path transform="scale(.5)" d="M1178 4371h0M1185 4370h0M1189 4359h0M1271 4293h0M1395 4175h0M1179 4382h0M1343 4217h0M1115 4457h0M1142 4446h0M1375 4202h0M1164 4364h0M1233 4346h0M1139 4428h0M1214 4349h0M1061 4444h0M1256 4342h0M1113 4429h0M1207 4382h0M1089 4451h0M1204 4339h0M1212 4385h0M1210 4295h0M1155 4400h0M1061 4289h0M1123 4444h0M1160 4344h0M1132 4434h0M1141 4389h0M1237 4301h0M1260 4261h0M1053 4456h0M1238 4350h0M1162 4354h0M1174 4343h0M1067 4489h0M1313 4253h0M1106 4423h0M1142 4400h0M1265 4270h0M1315 4293h0M1026 4407h0M1105 4386h0M1291 4313h0M1286 4252h0M1221 4344h0M1157 4354h0M1289 4251h0M1164 4378h0M1218 4315h0M1242 4290h0M1066 4541h0M1076 4418h0M1342 4206h0M1237 4304h0M1317 4290h0M1052 4463h0M1133 4379h0M1168 4401h0M1213 4337h0M1047 4413h0M1054 4398h0M1255 4317h0M1078 4465h0M1200 4310h0M1063 4470h0M1138 4315h0M1232 4314h0M1190 4370h0M1148 4358h0M1336 4252h0M1250 4321h0M1090 4403h0M1206 4381h0M1071 4552h0M1190 4339h0M1219 4324h0M1201 4369h0M1198 4322h0M1159 4383h0M1143 4397h0M1299 4303h0M1175 4371h0M1246 4270h0M1302 4243h0M1222 4335h0M1125 4423h0M1248 4328h0M1227 4293h0M1086 4445h0M1274 4290h0M1237 4310h0M1104 4387h0M1300 4269h0M1178 4423h0M1326 4289h0M1262 4290h0M1290 4290h0M1382 4213h0M1198 4353h0M1338 4237h0M1178 4371h0M1131 4394h0M1242 4335h0M1072 4463h0M1268 4326h0M1180 4354h0M1186 4321h0M1212 4300h0M1099 4417h0M1207 4347h0M1073 4386h0M1094 4420h0M1293 4268h0M1114 4420h0M1221 4373h0M1209 4337h0M1333 4226h0M1233 4291h0M1095 4411h0M1123 4430h0M1162 4365h0M1173 4388h0M1136 4397h0M1168 4351h0M1349 4241h0M1256 4292h0M1048 4443h0M1269 4319h0M1393 4182h0M1380 4209h0M1201 4335h0M1188 4333h0M1123 4437h0M1087 4407h0M1107 4436h0M1188 4341h0M1104 4394h0M1262 4264h0M1134 4430h0M1116 4538h0M1325 4248h0M1136 4423h0M1300 4271h0M1161 4351h0M1226 4299h0M1228 4359h0M1252 4289h0M1265 4261h0M1338 4223h0M1166 4392h0M1250 4340h0M1046 4463h0M1223 4319h0M1190 4342h0M1094 4454h0M1207 4393h0M1215 4336h0M1294 4309h0M1132 4447h0M1216 4382h0M1229 4292h0M1048 4463h0M1084 4441h0M1169 4343h0M1071 4444h0M1110 4441h0M1133 4379h0M1155 4360h0M1257 4261h0M1109 4443h0M1145 4420h0M1092 4452h0M1310 4230h0M1185 4369h0M1232 4349h0M1322 4250h0M1122 4424h0M1166 4402h0M1250 4315h0M1320 4217h0M1121 4433h0M1172 4423h0M1213 4332h0M1275 4300h0M1094 4426h0M1262 4252h0M1212 4328h0M1357 4211h0M1330 4248h0M1133 4414h0M1084 4405h0M1238 4304h0M1244 4286h0M1312 4225h0M1218 4387h0M1199 4360h0M1050 4402h0M1117 4410h0M1222 4335h0M1092 4436h0M1126 4407h0M1123 4387h0M1222 4292h0M1236 4346h0M1320 4211h0M1264 4277h0M1206 4384h0M1276 4223h0M1092 4472h0M1154 4319h0M1172 4350h0M1333 4253h0M1323 4255h0M1251 4304h0M1173 4421h0M1153 4438h0M1185 4364h0M1261 4349h0M1227 4289h0M1178 4393h0M1140 4403h0M1382 4192h0M1215 4308h0M1165 4422h0M1221 4368h0M1118 4386h0M1041 4400h0M1083 4468h0M1158 4423h0M1348 4200h0M1293 4316h0M1191 4332h0M1329 4223h0M1357 4209h0M1082 4423h0M1159 4358h0M1107 4454h0M1243 4308h0M1115 4363h0M1221 4324h0M1133 4386h0M1302 4287h0M1239 4292h0M1221 4313h0M1226 4294h0M1073 4456h0M1233 4307h0M1164 4387h0M1157 4379h0M1328 4228h0M1089 4470h0M1215 4302h0M1246 4310h0M1050 4448h0M1132 4252h0M1202 4386h0M1311 4225h0M1300 4254h0M1318 4277h0M1205 4323h0M1159 4357h0M1210 4319h0M1150 4364h0M1272 4241h0M1364 4166h0M1263 4302h0M1160 4397h0M1294 4246h0M1171 4364h0M1104 4464h0M1348 4201h0M1191 4403h0M1126 4391h0M1264 4284h0M1120 4409h0M1231 4353h0M1205 4342h0M1379 4208h0M1260 4324h0M1084 4409h0M1208 4338h0M1225 4302h0M1076 4441h0M1072 4401h0M1138 4378h0M1162 4372h0M1183 4330h0M1164 4361h0M1307 4255h0M1251 4276h0M1166 4333h0M1317 4222h0M1159 4355h0M1090 4445h0M1085 4387h0M1188 4355h0M1259 4301h0M1250 4318h0M1130 4414h0M1119 4378h0M1372 4184h0M1340 4237h0M1177 4345h0M1210 4339h0M1293 4272h0M1261 4282h0M1016 4429h0M1296 4249h0M1198 4367h0M1131 4369h0M1065 4392h0M1139 4440h0M1132 4404h0M1254 4298h0M1203 4401h0M1248 4347h0M1203 4336h0M1157 4428h0M1164 4203h0M1155 4348h0M1148 4423h0M1041 4410h0M1162 4340h0M1085 4450h0M1297 4239h0M1355 4222h0M1230 4304h0M1227 4310h0M1116 4381h0M1291 4288h0M1169 4424h0M1224 4318h0M1098 4359h0M1163 4414h0M1210 4324h0M1296 4263h0M1168 4419h0M1208 4326h0M1313 4262h0M1103 4437h0M1150 4381h0M1132 4363h0M1146 4433h0M1038 4466h0M1126 4448h0M1119 4406h0M1254 4276h0M1272 4284h0M1123 4403h0M1086 4395h0M1119 4456h0M1191 4378h0M1125 4453h0M1189 4333h0M1231 4290h0M1160 4421h0M1233 4261h0M1300 4222h0M1275 4284h0M1143 4398h0M1255 4278h0M1175 4346h0M1206 4375h0M1240 4310h0M1167 4345h0M1208 4382h0M1229 4352h0M1227 4350h0M1157 4358h0M1362 4188h0M1060 4404h0M1150 4419h0M1263 4294h0M1310 4259h0M1138 4424h0M1188 4377h0M1260 4319h0M1318 4246h0M1246 4196h0M1225 4326h0M1242 4295h0M1139 4370h0M1177 4346h0M1129 4404h0M1258 4337h0M1189 4389h0M1071 4419h0M1179 4344h0M1319 4222h0M1228 4340h0M1305 4275h0M1103 4420h0M1243 4293h0M1187 4401h0M1112 4404h0M1232 4278h0M1126 4455h0M1165 4388h0M1147 4407h0M1341 4205h0M1171 4391h0M1255 4298h0M1328 4243h0M1270 4292h0M1039 4481h0M1269 4335h0M1050 4415h0M1223 4324h0M1104 4453h0M1074 4425h0M1143 4390h0M1198 4422h0M1085 4468h0M1216 4337h0M1088 4387h0M1129 4392h0M1386 4288h0M1076 4388h0M1144 4448h0M1262 4270h0M1265 4341h0M1064 4447h0M1163 4381h0M1056 4404h0M1190 4387h0M1121 4453h0M1223 4340h0M1082 4475h0M1148 4355h0M1247 4291h0M1269 4250h0M1311 4201h0M1232 4371h0M1143 4363h0M1201 4396h0M1125 4423h0M1177 4398h0M1143 4398h0M1115 4446h0M1319 4254h0M1260 4328h0M1112 4397h0M1309 4252h0M1247 4271h0M1091 4329h0M1236 4296h0M1120 4437h0M1321 4264h0M1150 4414h0M1062 4410h0M1051 4396h0M1242 4347h0M1047 4445h0M1239 4321h0M1073 4403h0M1167 4337h0M1051 4426h0M1222 4317h0M1252 4317h0M1266 4281h0M1203 4365h0M1137 4404h0M1138 4366h0M1167 4399h0M1176 4340h0M1254 4262h0M1264 4281h0M1130 4364h0M1384 4191h0M1093 4395h0M1191 4314h0M1070 4395h0M1196 4323h0M1203 4366h0M1380 4222h0M1295 4257h0M1148 4402h0M1273 4314h0M1283 4304h0M1052 4482h0M1202 4342h0M1214 4312h0M1179 4419h0M1248 4273h0M1065 4461h0M1213 4322h0M1251 4364h0M1230 4330h0M1205 4378h0M1054 4451h0M1028 4498h0M1204 4330h0M1292 4256h0M1361 4206h0M1151 4345h0M1122 4417h0M1177 4356h0M1275 4299h0M1097 4401h0M1209 4354h0M1253 4330h0M1166 4379h0M1396 4155h0" stroke="#4a7dbd" stroke-width="7.6" stroke-linecap="round" fill="none"/><rect x="69" y="1696" width="297" height="295.4" fill="none" stroke="#222" stroke-width="1.2"/><rect x="451.3" y="1696" width="296.2" height="295.4" fill="none" stroke="#222" stroke-width="1.2"/><rect x="69" y="2015" width="297" height="294.6" fill="none" stroke="#222" stroke-width="1.2"/><rect x="451.3" y="2015" width="296.2" height="294.6" fill="none" stroke="#222" stroke-width="1.2"/><path d="M69 1718.5h-4M69 1762.5h-4M69 1807h-4M69 1850.7h-4M69 1895h-4M69 1938.8h-4M69 1983.3h-4" stroke="#222" stroke-width="1.1" fill="none"/><path d="M69 2036.3h-4M69 2080.8h-4M69 2124.8h-4M69 2168.5h-4M69 2213h-4M69 2256.6h-4M69 2301h-4" stroke="#222" stroke-width="1.1" fill="none"/><path d="M451.3 1697.3h-4M451.3 1746.9h-4M451.3 1796.4h-4M451.3 1846.4h-4M451.3 1896.4h-4M451.3 1947.3h-4" stroke="#222" stroke-width="1.1" fill="none"/><path d="M451.3 2015.5h-4M451.3 2063.8h-4M451.3 2114.2h-4M451.3 2164.2h-4M451.3 2214.2h-4M451.3 2265h-4" stroke="#222" stroke-width="1.1" fill="none"/><path d="M106 1991.4v4M152.5 1991.4v4M198 1991.4v4M243.6 1991.4v4M289.4 1991.4v4M335.6 1991.4v4" stroke="#222" stroke-width="1.1" fill="none"/><path d="M488 1991.4v4M534 1991.4v4M579.7 1991.4v4M625.4 1991.4v4M671.2 1991.4v4M717 1991.4v4" stroke="#222" stroke-width="1.1" fill="none"/><path d="M106 2309.6v4M152.5 2309.6v4M198 2309.6v4M243.6 2309.6v4M289.4 2309.6v4M335.6 2309.6v4" stroke="#222" stroke-width="1.1" fill="none"/><path d="M488 2309.6v4M534 2309.6v4M579.7 2309.6v4M625.4 2309.6v4M671.2 2309.6v4M717 2309.6v4" stroke="#222" stroke-width="1.1" fill="none"/><text transform="translate(75.4 1719.3) scale(0.898 1)" x="0" font-size="24.5" fill="#e0368f" xml:space="preserve"><tspan font-weight="700">Platelets releasate</tspan></text>
<text transform="translate(75.4 1751) scale(0.900 1)" x="0" font-size="24.5" fill="#e0368f" xml:space="preserve"><tspan font-weight="700">(Houlahan </tspan><tspan font-weight="700" font-style="italic">et al.</tspan><tspan font-weight="700">)</tspan></text>
<text transform="translate(75.4 2043.5) scale(0.900 1)" x="0" font-size="24.5" fill="#4a7fc4" xml:space="preserve"><tspan font-weight="700">sEVs proteins in cell lines</tspan></text>
<text transform="translate(75.4 2075.3) scale(0.890 1)" x="0" font-size="24.5" fill="#4a7fc4" xml:space="preserve"><tspan font-weight="700">(our data)</tspan></text>
<text transform="translate(457.6 1719.3) scale(0.898 1)" x="0" font-size="24.5" fill="#e0368f" xml:space="preserve"><tspan font-weight="700">Platelets releasate</tspan></text>
<text transform="translate(457.6 1751) scale(0.900 1)" x="0" font-size="24.5" fill="#e0368f" xml:space="preserve"><tspan font-weight="700">(Houlahan </tspan><tspan font-weight="700" font-style="italic">et al.</tspan><tspan font-weight="700">)</tspan></text>
<text transform="translate(457.6 2043.5) scale(0.900 1)" x="0" font-size="24.5" fill="#4a7fc4" xml:space="preserve"><tspan font-weight="700">sEVs proteins in cell lines</tspan></text>
<text transform="translate(457.6 2075.3) scale(0.890 1)" x="0" font-size="24.5" fill="#4a7fc4" xml:space="preserve"><tspan font-weight="700">(our data)</tspan></text>
<text transform="translate(79.2 1973.6) scale(0.897 1)" x="0" font-size="24.5" xml:space="preserve"><tspan font-weight="700">rho = 0.752</tspan></text>
<text transform="translate(461 1973.6) scale(0.897 1)" x="0" font-size="24.5" xml:space="preserve"><tspan font-weight="700">rho = 0.624</tspan></text>
<text transform="translate(34 1716.5) rotate(90) scale(0.780 1)" x="-15" font-size="27" fill="#9a9a9a" xml:space="preserve">10</text>
<text transform="translate(34 1983) rotate(90) scale(0.780 1)" x="-7.5" font-size="27" fill="#9a9a9a" xml:space="preserve">4</text>
<text transform="translate(33 1841) rotate(90) scale(0.887 1)" x="-98.1" font-size="24.5" xml:space="preserve"><tspan font-weight="700">Plasma EVs SAX</tspan></text>
<text transform="translate(2.5 1839) rotate(90) scale(0.923 1)" x="-47.1" font-size="24" fill="#9a9a9a" xml:space="preserve">Wu <tspan font-style="italic">et al.</tspan></text>
<text transform="translate(415.5 1699) rotate(90) scale(0.780 1)" x="-7.5" font-size="27" fill="#9a9a9a" xml:space="preserve">8</text>
<text transform="translate(415.5 1949.4) rotate(90) scale(0.780 1)" x="-7.5" font-size="27" fill="#9a9a9a" xml:space="preserve">3</text>
<text transform="translate(417.5 1841.5) rotate(90) scale(0.893 1)" x="-98" font-size="24.5" xml:space="preserve"><tspan font-weight="700">Plasma EVs dUC</tspan></text>
<text transform="translate(387 1840) rotate(90) scale(0.916 1)" x="-90.1" font-size="24" fill="#9a9a9a" xml:space="preserve">Kverneland <tspan font-style="italic">et al.</tspan></text>
<text transform="translate(34 2035.5) rotate(90) scale(0.780 1)" x="-15" font-size="27" fill="#9a9a9a" xml:space="preserve">10</text>
<text transform="translate(34 2302) rotate(90) scale(0.780 1)" x="-7.5" font-size="27" fill="#9a9a9a" xml:space="preserve">4</text>
<text transform="translate(33 2155.2) rotate(90) scale(0.887 1)" x="-98.1" font-size="24.5" xml:space="preserve"><tspan font-weight="700">Plasma EVs SAX</tspan></text>
<text transform="translate(2.5 2154.2) rotate(90) scale(0.923 1)" x="-47.1" font-size="24" fill="#9a9a9a" xml:space="preserve">Wu <tspan font-style="italic">et al.</tspan></text>
<text transform="translate(415.5 2018) rotate(90) scale(0.780 1)" x="-7.5" font-size="27" fill="#9a9a9a" xml:space="preserve">8</text>
<text transform="translate(415.5 2268.4) rotate(90) scale(0.780 1)" x="-7.5" font-size="27" fill="#9a9a9a" xml:space="preserve">3</text>
<text transform="translate(417.5 2155.7) rotate(90) scale(0.893 1)" x="-98" font-size="24.5" xml:space="preserve"><tspan font-weight="700">Plasma EVs dUC</tspan></text>
<text transform="translate(387 2155.2) rotate(90) scale(0.916 1)" x="-90.1" font-size="24" fill="#9a9a9a" xml:space="preserve">Kverneland <tspan font-style="italic">et al.</tspan></text>
<text transform="translate(99 2340) scale(0.666 1)" x="-7.5" font-size="27" fill="#9a9a9a" xml:space="preserve">6</text>
<text transform="translate(116.5 2340) scale(0.909 1)" x="0" font-size="24.5" xml:space="preserve"><tspan font-weight="700">Platelets proteome</tspan></text>
<text transform="translate(332 2340) scale(0.660 1)" x="-14" font-size="27" fill="#9a9a9a" xml:space="preserve">11</text>
<text transform="translate(216 2371.9) scale(0.923 1)" x="-89.4" font-size="24" fill="#9a9a9a" xml:space="preserve">Rieckmann <tspan font-style="italic">et al.</tspan></text>
<text transform="translate(485 2340) scale(0.666 1)" x="-7.5" font-size="27" fill="#9a9a9a" xml:space="preserve">6</text>
<text transform="translate(502 2340) scale(0.909 1)" x="0" font-size="24.5" xml:space="preserve"><tspan font-weight="700">Platelets proteome</tspan></text>
<text transform="translate(727 2340) scale(0.678 1)" x="-14" font-size="27" fill="#9a9a9a" xml:space="preserve">11</text>
<text transform="translate(602.3 2371.9) scale(0.918 1)" x="-89.4" font-size="24" fill="#9a9a9a" xml:space="preserve">Rieckmann <tspan font-style="italic">et al.</tspan></text>

</svg>
</body></html>
